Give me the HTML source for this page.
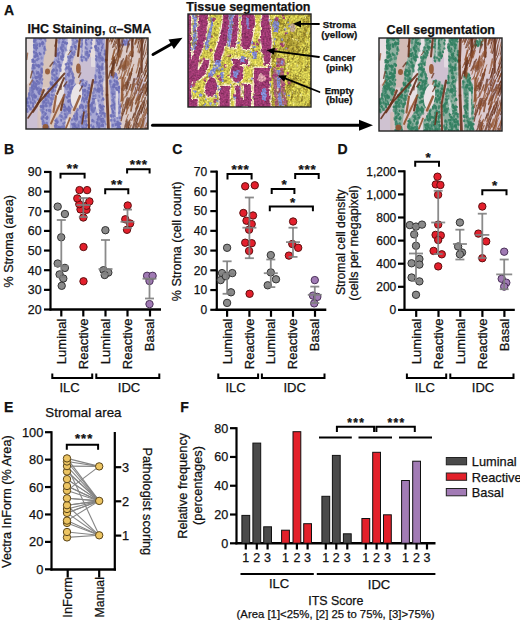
<!DOCTYPE html>
<html><head><meta charset="utf-8"><style>
html,body{margin:0;padding:0;background:#fff;}
svg{display:block;}
text{font-family:"Liberation Sans", sans-serif;stroke:#111;stroke-width:0.25px;paint-order:stroke;}
</style></head><body>
<svg width="520" height="620" viewBox="0 0 520 620">
<rect width="520" height="620" fill="#fff"/>
<text x="4" y="14.6" font-size="14" font-weight="bold" text-anchor="start" fill="#111">A</text>
<text x="27.6" y="33.3" font-size="12.5" font-weight="bold" text-anchor="start" fill="#111">IHC Staining, <tspan font-family="Liberation Serif" font-weight="normal" font-size="14.5">&#945;</tspan>&#8211;SMA</text>
<text x="186.3" y="10.6" font-size="12.5" font-weight="bold" text-anchor="start" fill="#111">Tissue segmentation</text>
<text x="386.6" y="33.8" font-size="12.6" font-weight="bold" text-anchor="start" fill="#111">Cell segmentation</text>
<text x="339.3" y="28" font-size="9.6" font-weight="bold" text-anchor="middle" fill="#111">Stroma</text>
<text x="339.3" y="37.5" font-size="9.7" font-weight="bold" text-anchor="middle" fill="#111">(yellow)</text>
<text x="339.3" y="61.4" font-size="9.6" font-weight="bold" text-anchor="middle" fill="#111">Cancer</text>
<text x="339.3" y="70.9" font-size="9.7" font-weight="bold" text-anchor="middle" fill="#111">(pink)</text>
<text x="339.3" y="93.5" font-size="9.6" font-weight="bold" text-anchor="middle" fill="#111">Empty</text>
<text x="339.3" y="103.0" font-size="9.7" font-weight="bold" text-anchor="middle" fill="#111">(blue)</text>
<defs>
<clipPath id="cA"><rect x="26" y="38" width="122" height="91"/></clipPath>
<clipPath id="cB"><rect x="188" y="14" width="123" height="93"/></clipPath>
<clipPath id="cC"><rect x="379" y="38" width="123" height="93"/></clipPath>
<filter id="soft" x="0" y="0" width="1" height="1"><feGaussianBlur stdDeviation="0.75"/></filter>
<filter id="rag" x="0" y="0" width="1" height="1" color-interpolation-filters="sRGB"><feTurbulence type="fractalNoise" baseFrequency="0.22" numOctaves="2" seed="8" result="t"/><feDisplacementMap in="SourceGraphic" in2="t" scale="3.2" xChannelSelector="R" yChannelSelector="G" result="d"/><feTurbulence type="fractalNoise" baseFrequency="0.6" numOctaves="1" seed="5" result="n"/><feColorMatrix in="n" type="matrix" values="1 0 0 0 0  1 0 0 0 0  1 0 0 0 0  0 0 0 0 1" result="g"/><feComposite in="d" in2="g" operator="arithmetic" k1="0.7" k2="0.65" k3="0" k4="0" result="m"/><feGaussianBlur in="m" stdDeviation="0.5"/></filter>
<filter id="mot" x="0" y="0" width="1" height="1" color-interpolation-filters="sRGB"><feTurbulence type="fractalNoise" baseFrequency="0.28" numOctaves="2" seed="4" result="n"/><feColorMatrix in="n" type="matrix" values="1 0 0 0 0  1 0 0 0 0  1 0 0 0 0  0 0 0 0 1" result="g"/><feComposite in="SourceGraphic" in2="g" operator="arithmetic" k1="1.1" k2="0.45" k3="0" k4="0" result="m"/><feGaussianBlur in="m" stdDeviation="0.7"/></filter>
<pattern id="pBl" patternUnits="userSpaceOnUse" width="9" height="9"><rect width="9" height="9" fill="#8285c9"/><circle cx="2.1" cy="4.9" r="1" fill="#5557aa" opacity="0.7"/><circle cx="5.4" cy="5.6" r="0.8" fill="#b2b3de" opacity="0.85"/><circle cx="0.1" cy="7.5" r="0.9" fill="#6265b4" opacity="0.6"/><circle cx="2.1" cy="9" r="1.1" fill="#c4c2e2" opacity="0.7"/><circle cx="7.5" cy="4.3" r="1.2" fill="#5557aa" opacity="0.7"/><circle cx="1.4" cy="5.7" r="1.4" fill="#b2b3de" opacity="0.85"/><circle cx="4.7" cy="6.7" r="1.2" fill="#6265b4" opacity="0.6"/><circle cx="0.6" cy="6.8" r="1.2" fill="#c4c2e2" opacity="0.7"/><circle cx="2.7" cy="0.3" r="1.4" fill="#5557aa" opacity="0.7"/></pattern>
<pattern id="pGr" patternUnits="userSpaceOnUse" width="9" height="9"><rect width="9" height="9" fill="#50a082"/><circle cx="2.1" cy="4.9" r="1" fill="#2c7659" opacity="0.75"/><circle cx="5.4" cy="5.6" r="0.8" fill="#9ccbb6" opacity="0.85"/><circle cx="0.1" cy="7.5" r="0.9" fill="#357f62" opacity="0.6"/><circle cx="2.1" cy="9" r="1.1" fill="#b8d8c8" opacity="0.7"/><circle cx="7.5" cy="4.3" r="1.2" fill="#2c7659" opacity="0.75"/><circle cx="1.4" cy="5.7" r="1.4" fill="#9ccbb6" opacity="0.85"/><circle cx="4.7" cy="6.7" r="1.2" fill="#357f62" opacity="0.6"/><circle cx="0.6" cy="6.8" r="1.2" fill="#b8d8c8" opacity="0.7"/><circle cx="2.7" cy="0.3" r="1.4" fill="#2c7659" opacity="0.75"/></pattern>
<pattern id="pPk" patternUnits="userSpaceOnUse" width="8" height="8"><rect width="8" height="8" fill="#dccdcc"/><circle cx="5" cy="5.9" r="1.3" fill="#c9b0ac" opacity="0.6"/><circle cx="7.5" cy="5.9" r="1.4" fill="#efe6e8" opacity="0.8"/><circle cx="0.2" cy="3.7" r="1.5" fill="#c8b8c8" opacity="0.5"/><circle cx="5.2" cy="7.2" r="0.8" fill="#c9b0ac" opacity="0.6"/><circle cx="3.8" cy="2" r="1.1" fill="#efe6e8" opacity="0.8"/><circle cx="4.6" cy="0.1" r="0.9" fill="#c8b8c8" opacity="0.5"/></pattern>
<pattern id="pPc" patternUnits="userSpaceOnUse" width="8" height="8"><rect width="8" height="8" fill="#dccbd2"/><circle cx="5" cy="5.9" r="1.3" fill="#cdb2b2" opacity="0.6"/><circle cx="7.5" cy="5.9" r="1.4" fill="#f0e6ec" opacity="0.8"/><circle cx="0.2" cy="3.7" r="1.5" fill="#c9bccb" opacity="0.5"/><circle cx="5.2" cy="7.2" r="0.8" fill="#cdb2b2" opacity="0.6"/><circle cx="3.8" cy="2" r="1.1" fill="#f0e6ec" opacity="0.8"/><circle cx="4.6" cy="0.1" r="0.9" fill="#c9bccb" opacity="0.5"/></pattern>
<pattern id="pMg" patternUnits="userSpaceOnUse" width="8" height="8"><rect width="8" height="8" fill="#a2306f"/><circle cx="2.6" cy="1.2" r="1.2" fill="#7a1e52" opacity="0.6"/><circle cx="0.6" cy="4.3" r="1" fill="#c05088" opacity="0.6"/><circle cx="0.5" cy="4.1" r="0.7" fill="#8c2860" opacity="0.5"/><circle cx="3.5" cy="0.6" r="0.8" fill="#7a1e52" opacity="0.6"/><circle cx="3.4" cy="6.6" r="0.8" fill="#c05088" opacity="0.6"/><circle cx="1.8" cy="5" r="1.5" fill="#8c2860" opacity="0.5"/></pattern>
<pattern id="pYl" patternUnits="userSpaceOnUse" width="8" height="8"><rect width="8" height="8" fill="#d9d245"/><circle cx="3.7" cy="3" r="0.8" fill="#b9ab34" opacity="0.6"/><circle cx="6.9" cy="0.1" r="1.1" fill="#ece77a" opacity="0.7"/><circle cx="7.2" cy="0.6" r="1.1" fill="#a89a2e" opacity="0.5"/><circle cx="4.9" cy="0.3" r="1" fill="#b9ab34" opacity="0.6"/><circle cx="5.6" cy="3.6" r="1.3" fill="#ece77a" opacity="0.7"/><circle cx="1.3" cy="1.9" r="0.8" fill="#a89a2e" opacity="0.5"/><circle cx="4.1" cy="7.4" r="1.2" fill="#b9ab34" opacity="0.6"/></pattern>
</defs>
<g clip-path="url(#cA)"><g filter="url(#soft)">
<rect x="20" y="30" width="135" height="105" fill="#dbcbc8"/>
<polygon points="26,36 33.5,36 33,60 31,80 26,84" fill="#eae4e6" stroke="#eae4e6" stroke-width="2" stroke-linejoin="round" opacity="0.80"/>
<polygon points="46,36 45.7,47 42.7,66 42.7,86 49.8,86 52.2,66 54,47 58,36" fill="#d6c0b4" stroke="#d6c0b4" stroke-width="2" stroke-linejoin="round" opacity="0.60"/>
<polygon points="68,36 67.1,47 61.8,66 57,86 57,104 60.6,104 64.2,86 65.3,66 71.3,47 72,36" fill="#eae4e6" stroke="#eae4e6" stroke-width="2" stroke-linejoin="round" opacity="0.85"/>
<polygon points="80,58 95,58 95,84 80,84" fill="#c8bed6" stroke="#c8bed6" stroke-width="2" stroke-linejoin="round" opacity="0.85"/>
<polygon points="26,108 37,106 38,129 26,129" fill="#c8bed6" stroke="#c8bed6" stroke-width="2" stroke-linejoin="round" opacity="0.80"/>
<polygon points="134.7,78 144,78 144,95 134.7,95" fill="#c8bed6" stroke="#c8bed6" stroke-width="2" stroke-linejoin="round" opacity="0.60"/>
<polygon points="144,113 149,113 149,130 144,130" fill="#c8bed6" stroke="#c8bed6" stroke-width="2" stroke-linejoin="round" opacity="0.70"/>
<polygon points="92,36 95.3,36 95.3,66 92,66" fill="#eae4e6" stroke="#eae4e6" stroke-width="2" stroke-linejoin="round" opacity="0.70"/>
<polygon points="33.5,36 33.2,47 32.6,66 30.8,86 28,96 24,104 24,112 29,112 35.5,104 40.3,96 42.7,86 42.7,66 45.7,47 46,36" fill="#a8a8d4"/>
<polygon points="59,36 57.6,47 52.2,66 49.8,86 40.3,104 41.5,121 42,131 49,131 49.8,121 52.2,104 57,86 61.8,66 67.1,47 68,36" fill="#a8a8d4"/>
<polygon points="72,36 71.3,47 65.3,66 64.2,86 64.2,104 61,112 54.6,121 54.6,131 65.3,131 65.3,121 70.5,112 73.7,104 76,86 71.3,66 77.3,47 78,36" fill="#a8a8d4"/>
<polygon points="80.8,36 80.8,47 80.5,56 81.5,61 86,61 89,56 91.8,47 92,36" fill="#a8a8d4"/>
<polygon points="79,80 80.8,86 80.8,104 70.1,121 70.1,131 87,131 87,121 87,104 90.6,86 86,80" fill="#a8a8d4"/>
<polygon points="95.3,36 95.3,47 95.3,66 94.2,86 89.4,104 90.6,121 90.6,131 106,131 106,121 103.7,104 102.5,86 107.3,66 104.9,47 105,36" fill="#a8a8d4"/>
<polygon points="111,72 109.5,86 111,104 111,121 111,131 120.5,131 120.5,121 120.5,104 119.5,86 116,72" fill="#a8a8d4"/>
<ellipse cx="125.8" cy="42.5" rx="4.2" ry="3.5" fill="#a8a8d4"/>
<path d="M43.8 110.9a1.5 1 71 1 0 1 2.9a1.5 1 71 1 0 -1 -2.9zM72.1 47.8a1.7 1 100 1 0 -0.6 3.4a1.7 1 100 1 0 0.6 -3.4zM72.6 104.7a1.5 1.1 93 1 0 -0.2 3.1a1.5 1.1 93 1 0 0.2 -3.1zM113.6 102a1.3 0.9 78 1 0 0.5 2.5a1.3 0.9 78 1 0 -0.5 -2.5zM31.3 107.1a1.7 1 84 1 0 0.4 3.4a1.7 1 84 1 0 -0.4 -3.4zM34.9 40.5a1.2 1.1 95 1 0 -0.2 2.4a1.2 1.1 95 1 0 0.2 -2.4zM71.7 52.9a1.2 1.1 84 1 0 0.2 2.4a1.2 1.1 84 1 0 -0.2 -2.4zM43.3 129.3a1.5 1.1 62 1 0 1.4 2.7a1.5 1.1 62 1 0 -1.4 -2.7zM106.2 66.2a1.2 0.9 65 1 0 1 2.1a1.2 0.9 65 1 0 -1 -2.1zM86.3 57.7a1.4 1.1 89 1 0 0 2.7a1.4 1.1 89 1 0 -0 -2.7zM85.5 93.9a1.5 0.9 98 1 0 -0.4 3a1.5 0.9 98 1 0 0.4 -3zM73 78.5a1.5 1 92 1 0 -0.1 2.9a1.5 1 92 1 0 0.1 -2.9zM69.9 110.9a1.7 1.2 84 1 0 0.4 3.4a1.7 1.2 84 1 0 -0.4 -3.4zM95.7 102.5a1.5 1.2 80 1 0 0.5 3a1.5 1.2 80 1 0 -0.5 -3zM72.2 37.2a1.3 1.2 69 1 0 0.9 2.4a1.3 1.2 69 1 0 -0.9 -2.4zM89.3 106.2a1.7 0.9 74 1 0 0.9 3.2a1.7 0.9 74 1 0 -0.9 -3.2zM58.3 127.8a1.7 0.8 67 1 0 1.3 3.1a1.7 0.8 67 1 0 -1.3 -3.1zM32.9 76.2a1.6 1 91 1 0 -0.1 3.3a1.6 1 91 1 0 0.1 -3.3zM97 124.2a1.8 1 65 1 0 1.5 3.2a1.8 1 65 1 0 -1.5 -3.2zM79.3 120.6a1.6 0.9 99 1 0 -0.5 3.1a1.6 0.9 99 1 0 0.5 -3.1zM86.6 47.4a1.5 1.2 82 1 0 0.4 3a1.5 1.2 82 1 0 -0.4 -3zM57.4 64.7a1.3 1.2 72 1 0 0.8 2.4a1.3 1.2 72 1 0 -0.8 -2.4zM97.1 36.1a1.6 0.9 83 1 0 0.4 3.1a1.6 0.9 83 1 0 -0.4 -3.1zM98.8 94.6a1.8 0.9 72 1 0 1.1 3.4a1.8 0.9 72 1 0 -1.1 -3.4zM65.7 75.3a1.2 0.9 83 1 0 0.3 2.5a1.2 0.9 83 1 0 -0.3 -2.5zM118 100.4a1.6 1.1 85 1 0 0.3 3.3a1.6 1.1 85 1 0 -0.3 -3.3zM93.8 87.7a1.6 0.9 78 1 0 0.7 3.1a1.6 0.9 78 1 0 -0.7 -3.1zM70 80.1a1.3 1.2 93 1 0 -0.1 2.5a1.3 1.2 93 1 0 0.1 -2.5zM73.5 127.6a1.5 1.2 67 1 0 1.2 2.8a1.5 1.2 67 1 0 -1.2 -2.8zM45.7 39.8a1.2 1 88 1 0 0.1 2.4a1.2 1 88 1 0 -0.1 -2.4zM68.8 93.9a1.5 0.8 64 1 0 1.3 2.7a1.5 0.8 64 1 0 -1.3 -2.7zM94 89.8a1.3 1 94 1 0 -0.2 2.6a1.3 1 94 1 0 0.2 -2.6zM69.5 88.7a1.4 1.2 60 1 0 1.4 2.5a1.4 1.2 60 1 0 -1.4 -2.5zM80.8 129a1.3 1 93 1 0 -0.1 2.5a1.3 1 93 1 0 0.1 -2.5zM113.2 87.9a1.6 0.8 78 1 0 0.7 3.2a1.6 0.8 78 1 0 -0.7 -3.2zM40.9 62.4a1.7 0.8 87 1 0 0.2 3.4a1.7 0.8 87 1 0 -0.2 -3.4zM31.5 93.1a1.6 0.8 82 1 0 0.5 3.2a1.6 0.8 82 1 0 -0.5 -3.2zM118.4 125.7a1.5 1.1 60 1 0 1.5 2.5a1.5 1.1 60 1 0 -1.5 -2.5zM96.9 65.1a1.5 0.9 77 1 0 0.7 2.9a1.5 0.9 77 1 0 -0.7 -2.9zM104.3 36a1.7 1 80 1 0 0.6 3.3a1.7 1 80 1 0 -0.6 -3.3zM86.9 91.5a1.5 1 88 1 0 0.1 2.9a1.5 1 88 1 0 -0.1 -2.9zM82 125.8a1.3 1 63 1 0 1.1 2.2a1.3 1 63 1 0 -1.1 -2.2zM29.2 89.2a1.2 0.8 69 1 0 0.9 2.3a1.2 0.8 69 1 0 -0.9 -2.3zM73.8 125.1a1.7 1 79 1 0 0.6 3.3a1.7 1 79 1 0 -0.6 -3.3zM56.2 79.1a1.4 1.1 68 1 0 1 2.5a1.4 1.1 68 1 0 -1 -2.5zM55.5 66.5a1.6 0.9 76 1 0 0.8 3a1.6 0.9 76 1 0 -0.8 -3zM34 99.2a1.2 1.1 85 1 0 0.2 2.4a1.2 1.1 85 1 0 -0.2 -2.4zM113.1 91.1a1.3 0.8 70 1 0 0.9 2.4a1.3 0.8 70 1 0 -0.9 -2.4zM70.5 107.6a1.7 0.9 92 1 0 -0.1 3.4a1.7 0.9 92 1 0 0.1 -3.4zM96.8 69.3a1.4 1.1 70 1 0 0.9 2.5a1.4 1.1 70 1 0 -0.9 -2.5zM105.2 115a1.5 1.2 100 1 0 -0.5 3a1.5 1.2 100 1 0 0.5 -3zM67.2 66.7a1.3 0.8 81 1 0 0.4 2.5a1.3 0.8 81 1 0 -0.4 -2.5zM69.3 110.9a1.6 0.9 96 1 0 -0.3 3.2a1.6 0.9 96 1 0 0.3 -3.2zM81.3 125.1a1.3 0.8 79 1 0 0.5 2.5a1.3 0.8 79 1 0 -0.5 -2.5zM58.6 40.3a1.7 1.2 85 1 0 0.3 3.3a1.7 1.2 85 1 0 -0.3 -3.3zM76.9 123.4a1.4 1.2 73 1 0 0.8 2.7a1.4 1.2 73 1 0 -0.8 -2.7zM38.2 98.3a1.2 1 93 1 0 -0.1 2.3a1.2 1 93 1 0 0.1 -2.3zM50.4 111.1a1.3 0.8 72 1 0 0.8 2.5a1.3 0.8 72 1 0 -0.8 -2.5zM42.6 104.2a1.7 0.8 69 1 0 1.2 3.1a1.7 0.8 69 1 0 -1.2 -3.1zM112.6 94.7a1.6 1.2 94 1 0 -0.2 3.2a1.6 1.2 94 1 0 0.2 -3.2zM109.4 82.4a1.7 1.1 61 1 0 1.6 3a1.7 1.1 61 1 0 -1.6 -3zM86.7 43.2a1.2 1.2 76 1 0 0.6 2.4a1.2 1.2 76 1 0 -0.6 -2.4zM47.3 126.8a1.4 0.8 98 1 0 -0.4 2.9a1.4 0.8 98 1 0 0.4 -2.9zM73.6 123.3a1.3 0.9 99 1 0 -0.4 2.6a1.3 0.9 99 1 0 0.4 -2.6zM116.4 90.7a1.4 1.2 85 1 0 0.2 2.8a1.4 1.2 85 1 0 -0.2 -2.8zM51.7 71.8a1.6 1.2 77 1 0 0.7 3.1a1.6 1.2 77 1 0 -0.7 -3.1zM118 98.1a1.5 0.9 91 1 0 -0.1 3.1a1.5 0.9 91 1 0 0.1 -3.1zM99 59.3a1.6 1.1 69 1 0 1.1 2.9a1.6 1.1 69 1 0 -1.1 -2.9zM84 111.7a1.3 1.2 64 1 0 1.1 2.4a1.3 1.2 64 1 0 -1.1 -2.4zM98.9 87.4a1.1 1.1 85 1 0 0.2 2.2a1.1 1.1 85 1 0 -0.2 -2.2zM55.5 73.8a1.6 0.9 91 1 0 -0.1 3.1a1.6 0.9 91 1 0 0.1 -3.1zM98.8 121.6a1.7 1.1 64 1 0 1.5 3.1a1.7 1.1 64 1 0 -1.5 -3.1zM50.4 97.8a1.6 0.9 68 1 0 1.2 2.9a1.6 0.9 68 1 0 -1.2 -2.9zM117 96.1a1.6 0.9 86 1 0 0.2 3.2a1.6 0.9 86 1 0 -0.2 -3.2zM97.9 86.7a1.2 1.2 71 1 0 0.8 2.3a1.2 1.2 71 1 0 -0.8 -2.3zM83.1 48.9a1.6 0.8 65 1 0 1.4 3a1.6 0.8 65 1 0 -1.4 -3zM29.8 86.8a1.5 1.1 77 1 0 0.7 3a1.5 1.1 77 1 0 -0.7 -3zM36.4 41.5a1.6 0.9 79 1 0 0.6 3.2a1.6 0.9 79 1 0 -0.6 -3.2zM93.5 91.3a1.2 0.9 71 1 0 0.8 2.4a1.2 0.9 71 1 0 -0.8 -2.4zM24.3 103.8a1.7 1.1 63 1 0 1.6 3.1a1.7 1.1 63 1 0 -1.6 -3.1zM70.3 102.2a1.8 1 67 1 0 1.4 3.3a1.8 1 67 1 0 -1.4 -3.3zM104.1 120.1a1.2 0.8 69 1 0 0.9 2.3a1.2 0.8 69 1 0 -0.9 -2.3zM117.1 101.9a1.7 0.9 89 1 0 0.1 3.3a1.7 0.9 89 1 0 -0.1 -3.3zM81.1 117a1.3 0.8 75 1 0 0.7 2.5a1.3 0.8 75 1 0 -0.7 -2.5zM45.5 102.6a1.6 1.2 72 1 0 1 3.1a1.6 1.2 72 1 0 -1 -3.1zM69.2 66.8a1.7 1.2 97 1 0 -0.4 3.4a1.7 1.2 97 1 0 0.4 -3.4zM82.3 44.3a1.2 1.2 83 1 0 0.3 2.3a1.2 1.2 83 1 0 -0.3 -2.3zM65.6 113.3a1.6 1.1 63 1 0 1.4 2.8a1.6 1.1 63 1 0 -1.4 -2.8zM76.7 113.8a1.2 1 65 1 0 1 2.1a1.2 1 65 1 0 -1 -2.1zM90.7 104.8a1.7 0.9 90 1 0 0 3.3a1.7 0.9 90 1 0 -0 -3.3zM69.7 49.6a1.4 0.9 61 1 0 1.3 2.4a1.4 0.9 61 1 0 -1.3 -2.4zM58.8 64.5a1.7 1.2 78 1 0 0.7 3.2a1.7 1.2 78 1 0 -0.7 -3.2zM86.3 35.2a1.4 1.1 100 1 0 -0.5 2.7a1.4 1.1 100 1 0 0.5 -2.7zM56.7 124.9a1.7 1 73 1 0 1 3.3a1.7 1 73 1 0 -1 -3.3zM98.8 56.6a1.6 0.9 96 1 0 -0.3 3.2a1.6 0.9 96 1 0 0.3 -3.2zM81.4 92.3a1.6 0.8 97 1 0 -0.4 3.2a1.6 0.8 97 1 0 0.4 -3.2zM115.1 103.9a1.3 0.9 61 1 0 1.2 2.2a1.3 0.9 61 1 0 -1.2 -2.2zM60.8 55.3a1.3 1.1 82 1 0 0.4 2.6a1.3 1.1 82 1 0 -0.4 -2.6zM84 46.1a1.3 1.2 69 1 0 0.9 2.5a1.3 1.2 69 1 0 -0.9 -2.5zM99.5 74.5a1.2 1 91 1 0 -0 2.3a1.2 1 91 1 0 0 -2.3zM85.2 120.1a1.2 0.9 93 1 0 -0.1 2.4a1.2 0.9 93 1 0 0.1 -2.4zM97 83.9a1.6 1 65 1 0 1.4 3a1.6 1 65 1 0 -1.4 -3zM101.2 84a1.6 0.9 86 1 0 0.2 3.1a1.6 0.9 86 1 0 -0.2 -3.1zM87.5 89.5a1.1 1 79 1 0 0.4 2.2a1.1 1 79 1 0 -0.4 -2.2zM30.5 83.3a1.2 1.1 62 1 0 1.2 2.2a1.2 1.1 62 1 0 -1.2 -2.2zM81.4 42.2a1.3 1.1 73 1 0 0.7 2.4a1.3 1.1 73 1 0 -0.7 -2.4zM65.2 47.3a1.6 1.1 81 1 0 0.5 3.3a1.6 1.1 81 1 0 -0.5 -3.3zM74.8 112.3a1.4 0.8 84 1 0 0.3 2.9a1.4 0.8 84 1 0 -0.3 -2.9zM57.8 47.5a1.7 0.8 80 1 0 0.6 3.3a1.7 0.8 80 1 0 -0.6 -3.3zM63.1 45.8a1.8 0.9 64 1 0 1.5 3.2a1.8 0.9 64 1 0 -1.5 -3.2zM101.8 98.9a1.3 0.8 97 1 0 -0.3 2.6a1.3 0.8 97 1 0 0.3 -2.6zM83.8 121.6a1.8 1.1 80 1 0 0.6 3.5a1.8 1.1 80 1 0 -0.6 -3.5zM112.8 110.1a1.7 0.9 92 1 0 -0.1 3.5a1.7 0.9 92 1 0 0.1 -3.5zM69.6 87.3a1.4 1.2 90 1 0 0 2.9a1.4 1.2 90 1 0 -0 -2.9zM117.5 88.5a1.5 1.2 91 1 0 -0.1 3.1a1.5 1.2 91 1 0 0.1 -3.1zM64.8 68.4a1.2 0.8 74 1 0 0.7 2.3a1.2 0.8 74 1 0 -0.7 -2.3zM92.7 100a1.3 1.2 63 1 0 1.2 2.4a1.3 1.2 63 1 0 -1.2 -2.4zM67.7 73.3a1.4 0.9 65 1 0 1.2 2.6a1.4 0.9 65 1 0 -1.2 -2.6zM116 73.4a1.5 0.8 75 1 0 0.8 2.9a1.5 0.8 75 1 0 -0.8 -2.9zM64.5 105.1a1.5 1.1 73 1 0 0.9 2.9a1.5 1.1 73 1 0 -0.9 -2.9zM115.4 80.9a1.3 1 100 1 0 -0.5 2.6a1.3 1 100 1 0 0.5 -2.6zM70.8 54.4a1.7 0.8 99 1 0 -0.5 3.4a1.7 0.8 99 1 0 0.5 -3.4zM33 90.3a1.5 1.1 85 1 0 0.3 3a1.5 1.1 85 1 0 -0.3 -3zM64.5 116.3a1.8 0.9 87 1 0 0.2 3.5a1.8 0.9 87 1 0 -0.2 -3.5zM85.8 83.4a1.4 1 85 1 0 0.2 2.7a1.4 1 85 1 0 -0.2 -2.7zM105.7 65a1.4 1.2 63 1 0 1.3 2.6a1.4 1.2 63 1 0 -1.3 -2.6zM115.2 105.3a1.6 1.1 97 1 0 -0.4 3.1a1.6 1.1 97 1 0 0.4 -3.1zM34.6 36.8a1.2 1.1 77 1 0 0.6 2.4a1.2 1.1 77 1 0 -0.6 -2.4zM95.1 100.7a1.4 0.9 78 1 0 0.6 2.8a1.4 0.9 78 1 0 -0.6 -2.8zM116.9 113.8a1.6 1.1 89 1 0 0.1 3.2a1.6 1.1 89 1 0 -0.1 -3.2zM66 86.8a1.8 1.2 72 1 0 1.1 3.4a1.8 1.2 72 1 0 -1.1 -3.4zM86.3 50.7a1.7 1 91 1 0 -0.1 3.5a1.7 1 91 1 0 0.1 -3.5zM59.9 125.8a1.2 1 100 1 0 -0.4 2.3a1.2 1 100 1 0 0.4 -2.3zM101.1 107a1.1 0.8 68 1 0 0.8 2.1a1.1 0.8 68 1 0 -0.8 -2.1zM95.7 94a1.6 0.9 91 1 0 -0.1 3.2a1.6 0.9 91 1 0 0.1 -3.2zM64.3 105.9a1.1 0.8 79 1 0 0.4 2.2a1.1 0.8 79 1 0 -0.4 -2.2zM52.2 89a1.4 0.9 65 1 0 1.2 2.6a1.4 0.9 65 1 0 -1.2 -2.6zM70.3 89.2a1.8 0.9 84 1 0 0.4 3.5a1.8 0.9 84 1 0 -0.4 -3.5zM81.3 59.6a1.5 0.9 60 1 0 1.5 2.6a1.5 0.9 60 1 0 -1.5 -2.6zM96.8 48.7a1.8 1.1 72 1 0 1.1 3.4a1.8 1.1 72 1 0 -1.1 -3.4zM124.1 40.1a1.4 1.1 65 1 0 1.2 2.6a1.4 1.1 65 1 0 -1.2 -2.6zM114.9 80.6a1.2 1.2 77 1 0 0.5 2.4a1.2 1.2 77 1 0 -0.5 -2.4zM96.6 122.8a1.7 1.1 65 1 0 1.4 3.1a1.7 1.1 65 1 0 -1.4 -3.1zM32.4 99.2a1.2 0.8 87 1 0 0.1 2.4a1.2 0.8 87 1 0 -0.1 -2.4zM35.3 38.2a1.4 1.1 73 1 0 0.8 2.7a1.4 1.1 73 1 0 -0.8 -2.7zM101.5 120.7a1.1 1.1 92 1 0 -0.1 2.3a1.1 1.1 92 1 0 0.1 -2.3zM38.5 86.3a1.7 1.2 75 1 0 0.9 3.3a1.7 1.2 75 1 0 -0.9 -3.3zM67.4 96.2a1.4 0.9 83 1 0 0.3 2.8a1.4 0.9 83 1 0 -0.3 -2.8zM62 126.6a1.7 0.9 96 1 0 -0.4 3.5a1.7 0.9 96 1 0 0.4 -3.5zM103.7 119.4a1.7 1.1 88 1 0 0.1 3.3a1.7 1.1 88 1 0 -0.1 -3.3zM111.2 105.1a1.8 1.2 79 1 0 0.7 3.5a1.8 1.2 79 1 0 -0.7 -3.5zM34.9 66.3a1.4 1 84 1 0 0.3 2.9a1.4 1 84 1 0 -0.3 -2.9zM41.6 56.2a1.7 1.2 90 1 0 0 3.5a1.7 1.2 90 1 0 -0 -3.5zM77.5 124.7a1.8 1.2 69 1 0 1.3 3.3a1.8 1.2 69 1 0 -1.3 -3.3zM38.2 90.8a1.4 1.2 71 1 0 0.9 2.6a1.4 1.2 71 1 0 -0.9 -2.6zM34.7 36.3a1.3 1.1 65 1 0 1.1 2.3a1.3 1.1 65 1 0 -1.1 -2.3zM56.1 77.5a1.4 0.9 76 1 0 0.7 2.8a1.4 0.9 76 1 0 -0.7 -2.8zM55.9 76.5a1.6 1.2 73 1 0 0.9 3a1.6 1.2 73 1 0 -0.9 -3zM68.4 73.6a1.5 1 88 1 0 0.1 3a1.5 1 88 1 0 -0.1 -3zM90.3 35.5a1.2 1.1 75 1 0 0.6 2.3a1.2 1.1 75 1 0 -0.6 -2.3zM102 37.3a1.5 0.8 70 1 0 1 2.8a1.5 0.8 70 1 0 -1 -2.8zM35.8 94.8a1.4 1.2 81 1 0 0.4 2.8a1.4 1.2 81 1 0 -0.4 -2.8zM98.5 42.1a1.3 1 70 1 0 0.9 2.4a1.3 1 70 1 0 -0.9 -2.4zM38.3 64a1.6 0.8 93 1 0 -0.2 3.2a1.6 0.8 93 1 0 0.2 -3.2zM46.1 104.3a1.1 1.2 75 1 0 0.6 2.2a1.1 1.2 75 1 0 -0.6 -2.2zM98.6 105.3a1.3 0.8 73 1 0 0.7 2.4a1.3 0.8 73 1 0 -0.7 -2.4zM111.1 88.4a1.6 0.8 63 1 0 1.5 2.9a1.6 0.8 63 1 0 -1.5 -2.9zM71.6 98.6a1.6 1.1 83 1 0 0.4 3.1a1.6 1.1 83 1 0 -0.4 -3.1zM119.9 103.4a1.4 1.2 73 1 0 0.8 2.7a1.4 1.2 73 1 0 -0.8 -2.7zM112 90.5a1.7 0.8 98 1 0 -0.5 3.3a1.7 0.8 98 1 0 0.5 -3.3zM28.6 93.6a1.5 1.1 79 1 0 0.6 3a1.5 1.1 79 1 0 -0.6 -3zM98.9 68.3a1.7 1 98 1 0 -0.5 3.4a1.7 1 98 1 0 0.5 -3.4zM34.3 50.8a1.4 1 95 1 0 -0.2 2.8a1.4 1 95 1 0 0.2 -2.8zM85.6 41.5a1.8 0.8 68 1 0 1.3 3.3a1.8 0.8 68 1 0 -1.3 -3.3zM97.2 62.5a1.4 0.8 73 1 0 0.8 2.6a1.4 0.8 73 1 0 -0.8 -2.6zM98.6 56.5a1.7 1.1 72 1 0 1 3.2a1.7 1.1 72 1 0 -1 -3.2zM96.8 34.5a1.7 1.2 82 1 0 0.5 3.4a1.7 1.2 82 1 0 -0.5 -3.4zM66.2 109.8a1.5 0.8 94 1 0 -0.2 3a1.5 0.8 94 1 0 0.2 -3zM100.1 124.9a1.3 1.1 72 1 0 0.8 2.4a1.3 1.1 72 1 0 -0.8 -2.4zM114.2 118a1.8 0.9 70 1 0 1.2 3.4a1.8 0.9 70 1 0 -1.2 -3.4zM39.4 81a1.7 0.8 91 1 0 -0.1 3.4a1.7 0.8 91 1 0 0.1 -3.4zM113.2 113.5a1.3 1.2 82 1 0 0.3 2.5a1.3 1.2 82 1 0 -0.3 -2.5zM119.1 88.7a1.5 1.1 94 1 0 -0.2 3a1.5 1.1 94 1 0 0.2 -3zM89.9 112.7a1.6 1.1 68 1 0 1.2 3a1.6 1.1 68 1 0 -1.2 -3zM114.3 83.4a1.2 1 86 1 0 0.2 2.5a1.2 1 86 1 0 -0.2 -2.5zM85.8 59.2a1.3 1.1 67 1 0 1 2.4a1.3 1.1 67 1 0 -1 -2.4zM55.1 89.5a1.2 0.9 78 1 0 0.5 2.3a1.2 0.9 78 1 0 -0.5 -2.3zM85.7 84a1.2 1 99 1 0 -0.4 2.4a1.2 1 99 1 0 0.4 -2.4zM97.8 99.8a1.1 1.2 65 1 0 0.9 2a1.1 1.2 65 1 0 -0.9 -2zM93 91.6a1.4 1.1 99 1 0 -0.4 2.8a1.4 1.1 99 1 0 0.4 -2.8zM41 76.4a1.3 0.8 99 1 0 -0.4 2.6a1.3 0.8 99 1 0 0.4 -2.6zM103 72.1a1.3 1.1 61 1 0 1.3 2.3a1.3 1.1 61 1 0 -1.3 -2.3zM42.7 102.2a1.5 0.8 78 1 0 0.6 2.9a1.5 0.8 78 1 0 -0.6 -2.9zM82.7 53.8a1.2 1.2 89 1 0 0 2.3a1.2 1.2 89 1 0 -0 -2.3zM70.4 57a1.2 0.8 82 1 0 0.3 2.4a1.2 0.8 82 1 0 -0.3 -2.4zM76.7 126.3a1.7 1.1 97 1 0 -0.4 3.4a1.7 1.1 97 1 0 0.4 -3.4zM74.9 45.1a1.4 1.2 72 1 0 0.9 2.7a1.4 1.2 72 1 0 -0.9 -2.7zM44.3 94.1a1.6 0.9 65 1 0 1.3 3a1.6 0.9 65 1 0 -1.3 -3zM103.8 75.8a1.1 1 65 1 0 0.9 2a1.1 1 65 1 0 -0.9 -2zM96.2 58.8a1.8 0.8 76 1 0 0.9 3.5a1.8 0.8 76 1 0 -0.9 -3.5zM32.2 68a1.7 1 85 1 0 0.3 3.5a1.7 1 85 1 0 -0.3 -3.5zM89.2 86.8a1.4 1.1 75 1 0 0.7 2.7a1.4 1.1 75 1 0 -0.7 -2.7zM71.7 96.2a1.7 0.9 86 1 0 0.2 3.4a1.7 0.9 86 1 0 -0.2 -3.4zM87 80.4a1.1 0.9 96 1 0 -0.2 2.3a1.1 0.9 96 1 0 0.2 -2.3zM90.5 35.6a1.2 1.1 87 1 0 0.1 2.3a1.2 1.1 87 1 0 -0.1 -2.3zM75.7 114.8a1.2 1.1 80 1 0 0.4 2.4a1.2 1.1 80 1 0 -0.4 -2.4zM80.1 106.8a1.2 0.8 91 1 0 -0 2.3a1.2 0.8 91 1 0 0 -2.3zM73 129.8a1.1 1 96 1 0 -0.2 2.2a1.1 1 96 1 0 0.2 -2.2zM99.4 71.7a1.4 1.2 65 1 0 1.2 2.6a1.4 1.2 65 1 0 -1.2 -2.6zM46 103.8a1.7 1.1 69 1 0 1.3 3.3a1.7 1.1 69 1 0 -1.3 -3.3zM113.5 114.8a1.2 1.1 90 1 0 0 2.5a1.2 1.1 90 1 0 -0 -2.5zM70.7 47.8a1.4 1 82 1 0 0.4 2.9a1.4 1 82 1 0 -0.4 -2.9zM55.9 78.4a1.6 1.2 93 1 0 -0.2 3.1a1.6 1.2 93 1 0 0.2 -3.1zM113.9 96.5a1.1 1.2 90 1 0 0 2.2a1.1 1.2 90 1 0 -0 -2.2zM80.6 121a1.7 1.2 82 1 0 0.5 3.3a1.7 1.2 82 1 0 -0.5 -3.3zM34.2 93a1.6 1.1 89 1 0 0.1 3.2a1.6 1.1 89 1 0 -0.1 -3.2zM54.3 125.1a1.6 0.8 67 1 0 1.3 3a1.6 0.8 67 1 0 -1.3 -3zM47.3 91.2a1.4 1 82 1 0 0.4 2.7a1.4 1 82 1 0 -0.4 -2.7zM83.1 124.2a1.4 0.8 64 1 0 1.3 2.6a1.4 0.8 64 1 0 -1.3 -2.6zM29.8 89.5a1.7 0.8 77 1 0 0.8 3.3a1.7 0.8 77 1 0 -0.8 -3.3zM42.7 110.4a1.6 1 82 1 0 0.4 3.2a1.6 1 82 1 0 -0.4 -3.2zM52 100.4a1.3 1.2 90 1 0 0 2.6a1.3 1.2 90 1 0 -0 -2.6zM76.2 119a1.5 1.1 100 1 0 -0.5 3a1.5 1.1 100 1 0 0.5 -3zM37.6 37.1a1.5 1 79 1 0 0.6 2.9a1.5 1 79 1 0 -0.6 -2.9zM114 91.2a1.7 1.1 68 1 0 1.3 3.2a1.7 1.1 68 1 0 -1.3 -3.2zM74.1 89.9a1.4 0.9 76 1 0 0.7 2.7a1.4 0.9 76 1 0 -0.7 -2.7zM100.6 55a1.1 0.8 61 1 0 1.1 2a1.1 0.8 61 1 0 -1.1 -2zM42.9 119.1a1.1 0.8 81 1 0 0.4 2.3a1.1 0.8 81 1 0 -0.4 -2.3zM61.3 46.9a1.2 1.2 80 1 0 0.4 2.5a1.2 1.2 80 1 0 -0.4 -2.5zM42.3 115.2a1.4 0.8 74 1 0 0.8 2.7a1.4 0.8 74 1 0 -0.8 -2.7zM75.6 116.3a1.7 1.2 75 1 0 0.9 3.2a1.7 1.2 75 1 0 -0.9 -3.2zM111.2 80.3a1.3 0.8 78 1 0 0.5 2.5a1.3 0.8 78 1 0 -0.5 -2.5zM30.7 89.1a1.3 1.1 61 1 0 1.2 2.2a1.3 1.1 61 1 0 -1.2 -2.2zM119.6 108.8a1.3 1.1 88 1 0 0.1 2.7a1.3 1.1 88 1 0 -0.1 -2.7zM62 41.6a1.7 0.8 88 1 0 0.1 3.5a1.7 0.8 88 1 0 -0.1 -3.5zM112.1 86.9a1.8 1.2 65 1 0 1.5 3.3a1.8 1.2 65 1 0 -1.5 -3.3zM40.7 108.4a1.6 1.1 82 1 0 0.4 3.1a1.6 1.1 82 1 0 -0.4 -3.1zM102 91.8a1.1 1.1 83 1 0 0.3 2.2a1.1 1.1 83 1 0 -0.3 -2.2zM66.7 107.3a1.7 0.8 62 1 0 1.6 2.9a1.7 0.8 62 1 0 -1.6 -2.9zM72.9 38.9a1.2 1.1 94 1 0 -0.2 2.3a1.2 1.1 94 1 0 0.2 -2.3zM47.4 95.6a1.5 1.1 60 1 0 1.5 2.6a1.5 1.1 60 1 0 -1.5 -2.6zM93.2 125.9a1.7 1.2 80 1 0 0.6 3.3a1.7 1.2 80 1 0 -0.6 -3.3zM99.3 74.4a1.8 1 96 1 0 -0.4 3.5a1.8 1 96 1 0 0.4 -3.5zM33.4 44.1a1.5 0.8 73 1 0 0.9 3a1.5 0.8 73 1 0 -0.9 -3zM40.3 37.3a1.7 1.1 72 1 0 1 3.2a1.7 1.1 72 1 0 -1 -3.2zM69.6 85.5a1.2 1 86 1 0 0.2 2.3a1.2 1 86 1 0 -0.2 -2.3zM93.7 120.1a1.4 1 81 1 0 0.4 2.8a1.4 1 81 1 0 -0.4 -2.8zM73.3 41.2a1.2 0.8 82 1 0 0.3 2.4a1.2 0.8 82 1 0 -0.3 -2.4zM74.1 45.6a1.2 1.1 74 1 0 0.7 2.3a1.2 1.1 74 1 0 -0.7 -2.3zM98.3 89.4a1.4 1 64 1 0 1.2 2.5a1.4 1 64 1 0 -1.2 -2.5zM112.3 99.5a1.2 0.8 77 1 0 0.5 2.3a1.2 0.8 77 1 0 -0.5 -2.3zM26.4 108a1.3 1 65 1 0 1.1 2.4a1.3 1 65 1 0 -1.1 -2.4zM85.5 95.8a1.8 1 88 1 0 0.1 3.5a1.8 1 88 1 0 -0.1 -3.5zM56.1 59.3a1.1 1 65 1 0 0.9 2.1a1.1 1 65 1 0 -0.9 -2.1zM85.5 82.5a1.3 0.9 91 1 0 -0 2.6a1.3 0.9 91 1 0 0 -2.6zM89.6 86.7a1.5 1.2 73 1 0 0.8 2.8a1.5 1.2 73 1 0 -0.8 -2.8zM61.5 111.3a1.2 1 89 1 0 0 2.4a1.2 1 89 1 0 -0 -2.4zM111.7 98.9a1.1 0.9 79 1 0 0.4 2.2a1.1 0.9 79 1 0 -0.4 -2.2zM55.6 70.5a1.7 1 72 1 0 1.1 3.2a1.7 1 72 1 0 -1.1 -3.2zM49.5 104.8a1.3 1.1 82 1 0 0.4 2.7a1.3 1.1 82 1 0 -0.4 -2.7zM58.8 63.7a1.6 0.9 71 1 0 1.1 3.1a1.6 0.9 71 1 0 -1.1 -3.1zM88.8 35.9a1.2 1.2 98 1 0 -0.3 2.4a1.2 1.2 98 1 0 0.3 -2.4zM55.6 63.2a1.5 1.2 64 1 0 1.4 2.8a1.5 1.2 64 1 0 -1.4 -2.8zM105.4 59.3a1.7 1.1 84 1 0 0.3 3.3a1.7 1.1 84 1 0 -0.3 -3.3zM100.9 105.6a1.7 1 73 1 0 1 3.3a1.7 1 73 1 0 -1 -3.3zM76.2 124.9a1.6 1.2 96 1 0 -0.3 3.2a1.6 1.2 96 1 0 0.3 -3.2zM100.3 35a1.3 1.2 67 1 0 1 2.4a1.3 1.2 67 1 0 -1 -2.4zM107 64.3a1.5 0.8 89 1 0 0.1 2.9a1.5 0.8 89 1 0 -0.1 -2.9zM69.4 70.9a1.1 1.2 88 1 0 0.1 2.3a1.1 1.2 88 1 0 -0.1 -2.3zM110.8 85.2a1.6 0.9 84 1 0 0.3 3.2a1.6 0.9 84 1 0 -0.3 -3.2zM59 35.5a1.5 1 89 1 0 0.1 3a1.5 1 89 1 0 -0.1 -3zM113.3 103.3a1.7 0.9 84 1 0 0.4 3.3a1.7 0.9 84 1 0 -0.4 -3.3zM116.8 106.1a1.7 1.1 76 1 0 0.8 3.2a1.7 1.1 76 1 0 -0.8 -3.2zM95.2 76.2a1.3 0.8 79 1 0 0.5 2.5a1.3 0.8 79 1 0 -0.5 -2.5zM81.6 118.7a1.6 1.2 96 1 0 -0.3 3.3a1.6 1.2 96 1 0 0.3 -3.3zM99.5 119a1.1 1 62 1 0 1.1 2a1.1 1 62 1 0 -1.1 -2zM41.6 67.5a1.5 0.8 79 1 0 0.6 2.9a1.5 0.8 79 1 0 -0.6 -2.9zM84 99.7a1.2 1.1 83 1 0 0.3 2.5a1.2 1.1 83 1 0 -0.3 -2.5zM68.9 79.3a1.1 1.1 62 1 0 1 2a1.1 1.1 62 1 0 -1 -2zM42.9 43.6a1.7 0.8 94 1 0 -0.2 3.4a1.7 0.8 94 1 0 0.2 -3.4zM43.7 128.7a1.2 1 64 1 0 1 2.1a1.2 1 64 1 0 -1 -2.1zM117.4 122.9a1.6 1 63 1 0 1.5 2.9a1.6 1 63 1 0 -1.5 -2.9zM64.6 84.5a1.6 0.9 72 1 0 1 3a1.6 0.9 72 1 0 -1 -3zM41.7 74.4a1.1 1 96 1 0 -0.2 2.3a1.1 1 96 1 0 0.2 -2.3zM102.7 58.1a1.5 1.1 60 1 0 1.5 2.6a1.5 1.1 60 1 0 -1.5 -2.6zM46.7 98a1.2 1.2 78 1 0 0.5 2.3a1.2 1.2 78 1 0 -0.5 -2.3zM98.3 50.2a1.5 1 80 1 0 0.5 2.9a1.5 1 80 1 0 -0.5 -2.9zM42.6 100.5a1.7 0.8 77 1 0 0.8 3.3a1.7 0.8 77 1 0 -0.8 -3.3zM54.4 77.3a1.5 1.2 71 1 0 1 2.8a1.5 1.2 71 1 0 -1 -2.8zM34.7 54.2a1.8 0.9 91 1 0 -0.1 3.6a1.8 0.9 91 1 0 0.1 -3.6zM114.9 122.6a1.4 1.1 70 1 0 1 2.7a1.4 1.1 70 1 0 -1 -2.7zM42.7 111.1a1.7 0.8 91 1 0 -0.1 3.5a1.7 0.8 91 1 0 0.1 -3.5zM56.5 83.7a1.4 0.8 67 1 0 1.1 2.5a1.4 0.8 67 1 0 -1.1 -2.5zM36.1 70.5a1.7 0.8 65 1 0 1.4 3a1.7 0.8 65 1 0 -1.4 -3zM43.8 114a1.5 1.1 88 1 0 0.1 3a1.5 1.1 88 1 0 -0.1 -3zM110 79.2a1.7 1.2 83 1 0 0.4 3.5a1.7 1.2 83 1 0 -0.4 -3.5zM120.2 115.8a1.4 1 80 1 0 0.5 2.7a1.4 1 80 1 0 -0.5 -2.7zM62.6 51.3a1.7 1 94 1 0 -0.2 3.4a1.7 1 94 1 0 0.2 -3.4zM97.4 108.8a1.3 1 60 1 0 1.3 2.3a1.3 1 60 1 0 -1.3 -2.3zM57.8 126a1.3 1.2 84 1 0 0.3 2.5a1.3 1.2 84 1 0 -0.3 -2.5zM62.4 129.1a1.8 0.9 86 1 0 0.2 3.6a1.8 0.9 86 1 0 -0.2 -3.6zM111.9 124.3a1.6 0.8 76 1 0 0.8 3.1a1.6 0.8 76 1 0 -0.8 -3.1zM70.8 46.1a1.6 1.2 63 1 0 1.4 2.8a1.6 1.2 63 1 0 -1.4 -2.8zM64.9 37.3a1.2 1.1 78 1 0 0.5 2.3a1.2 1.1 78 1 0 -0.5 -2.3zM100.2 74a1.5 1.1 95 1 0 -0.3 3a1.5 1.1 95 1 0 0.3 -3zM98.4 87.2a1.7 0.8 93 1 0 -0.2 3.4a1.7 0.8 93 1 0 0.2 -3.4zM117.6 129.1a1.1 0.9 95 1 0 -0.2 2.2a1.1 0.9 95 1 0 0.2 -2.2zM81.3 98.5a1.5 1.2 95 1 0 -0.3 3.1a1.5 1.2 95 1 0 0.3 -3.1zM111.4 87.7a1.6 0.9 64 1 0 1.4 2.9a1.6 0.9 64 1 0 -1.4 -2.9zM75.6 41.1a1.4 1.2 100 1 0 -0.5 2.7a1.4 1.2 100 1 0 0.5 -2.7zM71.1 70.5a1.6 1.1 72 1 0 1 3a1.6 1.1 72 1 0 -1 -3zM40.1 76.9a1.7 1.1 92 1 0 -0.1 3.3a1.7 1.1 92 1 0 0.1 -3.3zM69.6 88.2a1.7 0.8 94 1 0 -0.2 3.4a1.7 0.8 94 1 0 0.2 -3.4zM88 53.9a1.6 0.9 73 1 0 0.9 3.1a1.6 0.9 73 1 0 -0.9 -3.1zM34 72.9a1.8 0.8 76 1 0 0.8 3.4a1.8 0.8 76 1 0 -0.8 -3.4zM67.4 112.5a1.2 0.9 94 1 0 -0.2 2.3a1.2 0.9 94 1 0 0.2 -2.3zM40.8 80.4a1.5 0.9 76 1 0 0.7 2.9a1.5 0.9 76 1 0 -0.7 -2.9zM70.4 92.5a1.5 0.9 63 1 0 1.4 2.7a1.5 0.9 63 1 0 -1.4 -2.7zM116.9 116a1.6 1.1 71 1 0 1.1 3.1a1.6 1.1 71 1 0 -1.1 -3.1zM73.6 43a1.2 1.2 90 1 0 0 2.3a1.2 1.2 90 1 0 -0 -2.3zM102.4 104.5a1.5 0.8 80 1 0 0.5 2.9a1.5 0.8 80 1 0 -0.5 -2.9zM95.9 89.6a1.6 1 71 1 0 1.1 3.1a1.6 1 71 1 0 -1.1 -3.1zM39.6 81.4a1.1 1.1 67 1 0 0.9 2a1.1 1.1 67 1 0 -0.9 -2zM112.8 106.9a1.3 1.1 81 1 0 0.4 2.6a1.3 1.1 81 1 0 -0.4 -2.6zM79.9 121.4a1.4 1.1 71 1 0 0.9 2.6a1.4 1.1 71 1 0 -0.9 -2.6zM58.5 38.4a1.1 1.2 82 1 0 0.3 2.3a1.1 1.2 82 1 0 -0.3 -2.3zM97.1 55.4a1.4 1.2 87 1 0 0.1 2.8a1.4 1.2 87 1 0 -0.1 -2.8zM55.8 69.2a1.7 1.1 68 1 0 1.3 3.1a1.7 1.1 68 1 0 -1.3 -3.1zM60.4 114.1a1.6 1.2 94 1 0 -0.2 3.3a1.6 1.2 94 1 0 0.2 -3.3zM44.5 48a1.8 1.2 73 1 0 1 3.4a1.8 1.2 73 1 0 -1 -3.4zM56 117.5a1.5 0.8 63 1 0 1.4 2.7a1.5 0.8 63 1 0 -1.4 -2.7zM99.8 52.9a1.5 1.2 96 1 0 -0.3 3a1.5 1.2 96 1 0 0.3 -3zM102.6 108.4a1.3 0.9 97 1 0 -0.3 2.7a1.3 0.9 97 1 0 0.3 -2.7zM39.8 77.2a1.8 1.2 80 1 0 0.6 3.5a1.8 1.2 80 1 0 -0.6 -3.5zM100.7 75a1.7 0.8 73 1 0 1 3.3a1.7 0.8 73 1 0 -1 -3.3zM99.5 104.2a1.6 1.1 73 1 0 1 3.1a1.6 1.1 73 1 0 -1 -3.1zM94 110.2a1.2 1.1 95 1 0 -0.2 2.4a1.2 1.1 95 1 0 0.2 -2.4zM97.3 118.5a1.5 1.2 71 1 0 1 2.9a1.5 1.2 71 1 0 -1 -2.9zM45.9 117a1.2 1.1 82 1 0 0.3 2.4a1.2 1.1 82 1 0 -0.3 -2.4zM77.1 39.7a1.6 0.9 100 1 0 -0.6 3.2a1.6 0.9 100 1 0 0.6 -3.2zM41.2 116.3a1.4 1.1 80 1 0 0.5 2.7a1.4 1.1 80 1 0 -0.5 -2.7zM81.4 43.4a1.2 1.1 63 1 0 1.1 2.1a1.2 1.1 63 1 0 -1.1 -2.1zM101.1 109.7a1.5 0.9 79 1 0 0.6 2.9a1.5 0.9 79 1 0 -0.6 -2.9zM35.2 41.1a1.4 0.8 83 1 0 0.4 2.9a1.4 0.8 83 1 0 -0.4 -2.9zM82.9 113.1a1.6 1.2 98 1 0 -0.5 3.2a1.6 1.2 98 1 0 0.5 -3.2zM52.2 90.4a1.6 0.8 96 1 0 -0.3 3.2a1.6 0.8 96 1 0 0.3 -3.2zM62.7 117.2a1.4 0.8 79 1 0 0.6 2.8a1.4 0.8 79 1 0 -0.6 -2.8zM39 34.7a1.7 0.8 80 1 0 0.6 3.4a1.7 0.8 80 1 0 -0.6 -3.4zM104.9 122.5a1.6 0.8 62 1 0 1.5 2.8a1.6 0.8 62 1 0 -1.5 -2.8zM39.9 89.1a1.4 0.9 73 1 0 0.8 2.8a1.4 0.9 73 1 0 -0.8 -2.8zM29.4 97.8a1.3 1.2 72 1 0 0.8 2.4a1.3 1.2 72 1 0 -0.8 -2.4zM103.4 63.3a1.1 0.9 97 1 0 -0.3 2.2a1.1 0.9 97 1 0 0.3 -2.2zM38.5 80.4a1.4 1.1 98 1 0 -0.4 2.8a1.4 1.1 98 1 0 0.4 -2.8zM53 96.7a1.1 1.1 69 1 0 0.8 2.1a1.1 1.1 69 1 0 -0.8 -2.1zM60.3 46.6a1.7 1 76 1 0 0.8 3.4a1.7 1 76 1 0 -0.8 -3.4zM68.9 109.4a1.6 1 73 1 0 1 3.2a1.6 1 73 1 0 -1 -3.2zM65.5 48.8a1.4 1 60 1 0 1.4 2.4a1.4 1 60 1 0 -1.4 -2.4zM83.3 98.6a1.8 0.9 89 1 0 0.1 3.6a1.8 0.9 89 1 0 -0.1 -3.6zM97.3 124.5a1.6 0.8 98 1 0 -0.4 3.1a1.6 0.8 98 1 0 0.4 -3.1zM103 77.8a1.6 1 64 1 0 1.4 2.9a1.6 1 64 1 0 -1.4 -2.9zM81.4 56.1a1.3 1 98 1 0 -0.4 2.6a1.3 1 98 1 0 0.4 -2.6zM104.9 66.3a1.7 1.1 82 1 0 0.5 3.4a1.7 1.1 82 1 0 -0.5 -3.4zM117.5 81.9a1.4 1.2 76 1 0 0.7 2.7a1.4 1.2 76 1 0 -0.7 -2.7zM28.9 91.8a1.6 1.1 67 1 0 1.3 3a1.6 1.1 67 1 0 -1.3 -3zM53.7 93.8a1.3 1.1 74 1 0 0.7 2.5a1.3 1.1 74 1 0 -0.7 -2.5zM76.7 109.7a1.2 1 84 1 0 0.2 2.4a1.2 1 84 1 0 -0.2 -2.4zM120.1 126.1a1.1 0.8 85 1 0 0.2 2.3a1.1 0.8 85 1 0 -0.2 -2.3zM56.7 49.4a1.3 1.1 88 1 0 0.1 2.7a1.3 1.1 88 1 0 -0.1 -2.7zM50 87.7a1.3 1.2 83 1 0 0.3 2.6a1.3 1.2 83 1 0 -0.3 -2.6zM30.2 101.6a1.3 0.9 68 1 0 0.9 2.3a1.3 0.9 68 1 0 -0.9 -2.3zM83.1 41.7a1.3 1.2 80 1 0 0.5 2.6a1.3 1.2 80 1 0 -0.5 -2.6zM44.1 101a1.8 0.8 61 1 0 1.7 3.1a1.8 0.8 61 1 0 -1.7 -3.1zM55.7 55a1.3 1 73 1 0 0.8 2.5a1.3 1 73 1 0 -0.8 -2.5zM64.3 35.7a1.5 1.1 78 1 0 0.6 2.9a1.5 1.1 78 1 0 -0.6 -2.9zM101.8 85.2a1.8 0.8 77 1 0 0.8 3.4a1.8 0.8 77 1 0 -0.8 -3.4zM68.4 111.1a1.5 1 70 1 0 1 2.8a1.5 1 70 1 0 -1 -2.8zM84.9 92.2a1.6 1.1 67 1 0 1.3 3a1.6 1.1 67 1 0 -1.3 -3zM54.9 75.2a1.2 1.2 92 1 0 -0.1 2.4a1.2 1.2 92 1 0 0.1 -2.4zM116.8 128.6a1.5 1 70 1 0 1 2.9a1.5 1 70 1 0 -1 -2.9zM75.6 83.5a1.1 0.8 98 1 0 -0.3 2.2a1.1 0.8 98 1 0 0.3 -2.2z" fill="#6d6fb6" opacity="0.6"/>
<path d="M73.9 76.4a1.5 1.2 100 1 0 -0.5 2.9a1.5 1.2 100 1 0 0.5 -2.9zM31.3 94.6a1.3 1.1 65 1 0 1.1 2.3a1.3 1.1 65 1 0 -1.1 -2.3zM35.5 83.1a1.6 0.9 85 1 0 0.3 3.2a1.6 0.9 85 1 0 -0.3 -3.2zM36.9 80.2a1.5 1.1 64 1 0 1.3 2.8a1.5 1.1 64 1 0 -1.3 -2.8zM46.6 121.8a1.1 1.1 86 1 0 0.2 2.3a1.1 1.1 86 1 0 -0.2 -2.3zM53.7 85.4a1.2 1.2 68 1 0 0.9 2.2a1.2 1.2 68 1 0 -0.9 -2.2zM97.4 90.5a1.1 0.8 61 1 0 1.1 2a1.1 0.8 61 1 0 -1.1 -2zM102.2 65.1a1.2 1.2 94 1 0 -0.2 2.3a1.2 1.2 94 1 0 0.2 -2.3zM102.6 119.9a1.6 1.1 81 1 0 0.5 3.1a1.6 1.1 81 1 0 -0.5 -3.1zM32.3 79.5a1.7 0.8 61 1 0 1.6 3a1.7 0.8 61 1 0 -1.6 -3zM32.3 95a1.7 1.2 81 1 0 0.5 3.4a1.7 1.2 81 1 0 -0.5 -3.4zM89.4 83.9a1.3 1.1 88 1 0 0.1 2.7a1.3 1.1 88 1 0 -0.1 -2.7zM37.8 81.6a1.7 1.2 64 1 0 1.5 3a1.7 1.2 64 1 0 -1.5 -3zM74.5 122.6a1.4 1.2 93 1 0 -0.1 2.7a1.4 1.2 93 1 0 0.1 -2.7zM53.5 68.3a1.5 1.1 68 1 0 1.1 2.8a1.5 1.1 68 1 0 -1.1 -2.8zM64.7 77.3a1.7 0.8 60 1 0 1.7 3a1.7 0.8 60 1 0 -1.7 -3zM82.6 96.4a1.7 1 81 1 0 0.5 3.3a1.7 1 81 1 0 -0.5 -3.3zM47.4 117.3a1.1 1 94 1 0 -0.2 2.2a1.1 1 94 1 0 0.2 -2.2zM33.9 50.4a1.4 1.2 85 1 0 0.2 2.8a1.4 1.2 85 1 0 -0.2 -2.8zM96.9 65.2a1.5 0.9 65 1 0 1.2 2.8a1.5 0.9 65 1 0 -1.2 -2.8zM37.8 57.6a1.3 1.1 65 1 0 1 2.3a1.3 1.1 65 1 0 -1 -2.3zM75.7 36.8a1.5 1.1 96 1 0 -0.3 3a1.5 1.1 96 1 0 0.3 -3zM33.6 40.6a1.4 1.2 65 1 0 1.2 2.6a1.4 1.2 65 1 0 -1.2 -2.6zM63 122.6a1.2 1.1 60 1 0 1.2 2a1.2 1.1 60 1 0 -1.2 -2zM119.9 110.5a1.7 1.1 100 1 0 -0.6 3.4a1.7 1.1 100 1 0 0.6 -3.4zM84.6 52.8a1.3 1 76 1 0 0.6 2.6a1.3 1 76 1 0 -0.6 -2.6zM100.6 41.5a1.4 0.9 60 1 0 1.4 2.5a1.4 0.9 60 1 0 -1.4 -2.5zM31.8 91.7a1.1 1.1 70 1 0 0.8 2.1a1.1 1.1 70 1 0 -0.8 -2.1zM73.8 50.7a1.5 1 63 1 0 1.4 2.7a1.5 1 63 1 0 -1.4 -2.7zM95.4 77.8a1.5 0.9 86 1 0 0.2 3a1.5 0.9 86 1 0 -0.2 -3zM48.9 127.9a1.3 1 81 1 0 0.4 2.7a1.3 1 81 1 0 -0.4 -2.7zM116.6 110.6a1.7 1 73 1 0 1 3.2a1.7 1 73 1 0 -1 -3.2zM69.6 59.2a1.4 1.2 98 1 0 -0.4 2.7a1.4 1.2 98 1 0 0.4 -2.7zM105.5 65.9a1.3 1.2 80 1 0 0.4 2.5a1.3 1.2 80 1 0 -0.4 -2.5zM70.8 91a1.6 1.2 77 1 0 0.7 3.1a1.6 1.2 77 1 0 -0.7 -3.1zM26.8 98.7a1.7 1 96 1 0 -0.3 3.3a1.7 1 96 1 0 0.3 -3.3zM111.4 74.7a1.4 1.1 93 1 0 -0.2 2.9a1.4 1.1 93 1 0 0.2 -2.9zM69.4 74.3a1.6 0.8 100 1 0 -0.6 3.2a1.6 0.8 100 1 0 0.6 -3.2zM91.1 123.8a1.7 1 91 1 0 -0.1 3.4a1.7 1 91 1 0 0.1 -3.4zM122.2 43.4a1.2 1.2 94 1 0 -0.2 2.5a1.2 1.2 94 1 0 0.2 -2.5zM45.6 103.7a1.8 0.9 96 1 0 -0.4 3.5a1.8 0.9 96 1 0 0.4 -3.5zM93 107.5a1.4 1.2 81 1 0 0.4 2.7a1.4 1.2 81 1 0 -0.4 -2.7zM56.6 76.7a1.2 1 81 1 0 0.4 2.5a1.2 1 81 1 0 -0.4 -2.5zM68.3 66a1.7 0.8 77 1 0 0.8 3.3a1.7 0.8 77 1 0 -0.8 -3.3zM103.2 120.2a1.2 0.9 60 1 0 1.2 2.1a1.2 0.9 60 1 0 -1.2 -2.1zM72 72.7a1.8 1.1 68 1 0 1.3 3.2a1.8 1.1 68 1 0 -1.3 -3.2zM95.8 48.2a1.5 1.2 90 1 0 0 3a1.5 1.2 90 1 0 -0 -3zM67.7 93.7a1.6 1.1 78 1 0 0.7 3.2a1.6 1.1 78 1 0 -0.7 -3.2zM55.4 122.4a1.2 1.2 82 1 0 0.3 2.4a1.2 1.2 82 1 0 -0.3 -2.4zM56.9 120a1.6 1.2 68 1 0 1.2 3a1.6 1.2 68 1 0 -1.2 -3zM98.1 124a1.2 1 74 1 0 0.6 2.2a1.2 1 74 1 0 -0.6 -2.2zM78.9 127.6a1.2 1.2 74 1 0 0.7 2.4a1.2 1.2 74 1 0 -0.7 -2.4zM72.2 118.2a1.5 0.9 98 1 0 -0.4 3a1.5 0.9 98 1 0 0.4 -3zM39.2 78.2a1.1 1.1 75 1 0 0.6 2.2a1.1 1.1 75 1 0 -0.6 -2.2zM102.2 56.4a1.5 0.9 75 1 0 0.8 2.9a1.5 0.9 75 1 0 -0.8 -2.9zM109.8 80.1a1.5 1 79 1 0 0.6 3a1.5 1 79 1 0 -0.6 -3zM113.4 85.6a1.2 1 93 1 0 -0.1 2.4a1.2 1 93 1 0 0.1 -2.4zM61.1 55.4a1.1 0.8 100 1 0 -0.4 2.2a1.1 0.8 100 1 0 0.4 -2.2zM63.4 108.9a1.7 0.9 67 1 0 1.3 3.1a1.7 0.9 67 1 0 -1.3 -3.1zM98.8 55.9a1.2 1.2 70 1 0 0.8 2.3a1.2 1.2 70 1 0 -0.8 -2.3zM34.1 67.3a1.2 1 97 1 0 -0.3 2.4a1.2 1 97 1 0 0.3 -2.4zM111 118.9a1.4 1.1 81 1 0 0.4 2.7a1.4 1.1 81 1 0 -0.4 -2.7zM82.1 93.1a1.1 0.8 89 1 0 0 2.3a1.1 0.8 89 1 0 -0 -2.3zM64.9 121.2a1.2 0.8 92 1 0 -0.1 2.4a1.2 0.8 92 1 0 0.1 -2.4zM56.6 69.1a1.2 1.2 72 1 0 0.7 2.3a1.2 1.2 72 1 0 -0.7 -2.3zM48.5 99.5a1.1 0.9 94 1 0 -0.2 2.2a1.1 0.9 94 1 0 0.2 -2.2zM114.6 107a1.7 0.8 81 1 0 0.5 3.3a1.7 0.8 81 1 0 -0.5 -3.3zM115 83.6a1.1 1.1 99 1 0 -0.4 2.2a1.1 1.1 99 1 0 0.4 -2.2zM51.4 82.9a1.4 1.1 100 1 0 -0.5 2.7a1.4 1.1 100 1 0 0.5 -2.7zM44.7 93.7a1.6 0.9 60 1 0 1.6 2.7a1.6 0.9 60 1 0 -1.6 -2.7zM86.4 124.2a1.2 1.2 77 1 0 0.5 2.3a1.2 1.2 77 1 0 -0.5 -2.3zM83 119.9a1.4 1.2 69 1 0 1 2.6a1.4 1.2 69 1 0 -1 -2.6zM66.9 65.4a1.2 0.8 95 1 0 -0.2 2.5a1.2 0.8 95 1 0 0.2 -2.5zM80.9 97.6a1.6 1.2 90 1 0 0 3.3a1.6 1.2 90 1 0 -0 -3.3zM38.7 65.3a1.5 1.1 77 1 0 0.7 2.8a1.5 1.1 77 1 0 -0.7 -2.8zM56.4 54.4a1.2 0.9 83 1 0 0.3 2.4a1.2 0.9 83 1 0 -0.3 -2.4zM43 37.1a1.1 0.9 65 1 0 0.9 2.1a1.1 0.9 65 1 0 -0.9 -2.1zM42.4 40.8a1.5 1 80 1 0 0.5 3a1.5 1 80 1 0 -0.5 -3zM74.1 123.6a1.6 1 71 1 0 1.1 3.1a1.6 1 71 1 0 -1.1 -3.1zM113.5 100a1.6 1 86 1 0 0.2 3.1a1.6 1 86 1 0 -0.2 -3.1zM81.9 38.6a1.5 1.2 88 1 0 0.1 2.9a1.5 1.2 88 1 0 -0.1 -2.9zM51.5 93.7a1.4 0.8 95 1 0 -0.2 2.8a1.4 0.8 95 1 0 0.2 -2.8zM34.7 76.3a1.7 1.1 64 1 0 1.5 3.1a1.7 1.1 64 1 0 -1.5 -3.1zM114.9 107.6a1.7 1 69 1 0 1.2 3.2a1.7 1 69 1 0 -1.2 -3.2zM68.5 92.8a1.6 0.8 89 1 0 0.1 3.2a1.6 0.8 89 1 0 -0.1 -3.2zM68.1 55.6a1.4 1.1 81 1 0 0.4 2.7a1.4 1.1 81 1 0 -0.4 -2.7zM89 36a1.5 0.9 76 1 0 0.7 2.9a1.5 0.9 76 1 0 -0.7 -2.9zM37.4 88.8a1.2 0.8 92 1 0 -0.1 2.3a1.2 0.8 92 1 0 0.1 -2.3zM55.4 126.3a1.7 1.1 62 1 0 1.6 3a1.7 1.1 62 1 0 -1.6 -3zM118.3 124.6a1.5 1 65 1 0 1.2 2.7a1.5 1 65 1 0 -1.2 -2.7zM88 55.3a1.7 0.8 84 1 0 0.3 3.3a1.7 0.8 84 1 0 -0.3 -3.3zM89.3 90.5a1.4 0.9 93 1 0 -0.2 2.9a1.4 0.9 93 1 0 0.2 -2.9zM115.4 72.8a1.6 0.9 65 1 0 1.3 2.9a1.6 0.9 65 1 0 -1.3 -2.9zM112.8 98.2a1.2 1 67 1 0 0.9 2.2a1.2 1 67 1 0 -0.9 -2.2zM68.1 85.8a1.2 1.2 77 1 0 0.5 2.3a1.2 1.2 77 1 0 -0.5 -2.3zM99.3 81.3a1.7 1 92 1 0 -0.1 3.3a1.7 1 92 1 0 0.1 -3.3zM41.4 67.8a1.5 1 84 1 0 0.3 2.9a1.5 1 84 1 0 -0.3 -2.9zM27.5 100.9a1.5 1 81 1 0 0.5 2.9a1.5 1 81 1 0 -0.5 -2.9zM81 58.9a1.3 0.9 68 1 0 1 2.4a1.3 0.9 68 1 0 -1 -2.4zM99.1 90.7a1.3 1.1 87 1 0 0.1 2.6a1.3 1.1 87 1 0 -0.1 -2.6zM31.3 86.7a1.7 1 64 1 0 1.5 3.1a1.7 1 64 1 0 -1.5 -3.1zM83.4 127.2a1.2 1 79 1 0 0.5 2.3a1.2 1 79 1 0 -0.5 -2.3zM125.8 37.5a1.7 0.8 61 1 0 1.7 3a1.7 0.8 61 1 0 -1.7 -3zM63.3 125.7a1.4 0.9 74 1 0 0.8 2.6a1.4 0.9 74 1 0 -0.8 -2.6zM61.1 55.2a1.7 0.9 75 1 0 0.9 3.3a1.7 0.9 75 1 0 -0.9 -3.3zM72.5 55.8a1.2 1.2 99 1 0 -0.4 2.4a1.2 1.2 99 1 0 0.4 -2.4zM44.6 47.2a1.7 1.1 89 1 0 0.1 3.4a1.7 1.1 89 1 0 -0.1 -3.4zM53.4 84.2a1.4 1.2 93 1 0 -0.1 2.8a1.4 1.2 93 1 0 0.1 -2.8zM72.9 52.6a1.8 1.2 61 1 0 1.7 3.1a1.8 1.2 61 1 0 -1.7 -3.1zM42.2 104.9a1.1 0.9 74 1 0 0.6 2.1a1.1 0.9 74 1 0 -0.6 -2.1zM83.6 99.8a1.6 0.9 70 1 0 1.1 3a1.6 0.9 70 1 0 -1.1 -3zM39.5 89.6a1.4 1.1 97 1 0 -0.3 2.8a1.4 1.1 97 1 0 0.3 -2.8zM98.3 66.9a1.5 1.1 60 1 0 1.5 2.7a1.5 1.1 60 1 0 -1.5 -2.7zM52.2 89.3a1.4 1.1 65 1 0 1.2 2.6a1.4 1.1 65 1 0 -1.2 -2.6zM92 126.9a1.4 0.9 65 1 0 1.2 2.6a1.4 0.9 65 1 0 -1.2 -2.6zM100.1 111.7a1.2 1.2 90 1 0 0 2.4a1.2 1.2 90 1 0 -0 -2.4zM100.2 38.5a1.8 1.2 81 1 0 0.6 3.5a1.8 1.2 81 1 0 -0.6 -3.5zM95.1 44.7a1.7 1.2 79 1 0 0.7 3.4a1.7 1.2 79 1 0 -0.7 -3.4zM93.7 108.2a1.5 1.1 80 1 0 0.5 2.9a1.5 1.1 80 1 0 -0.5 -2.9zM54.3 124.9a1.8 1.1 63 1 0 1.6 3.2a1.8 1.1 63 1 0 -1.6 -3.2zM70 79.7a1.5 1 92 1 0 -0.1 3.1a1.5 1 92 1 0 0.1 -3.1zM60.1 36.5a1.6 1.2 96 1 0 -0.3 3.2a1.6 1.2 96 1 0 0.3 -3.2zM60.5 69.4a1.3 1 95 1 0 -0.2 2.5a1.3 1 95 1 0 0.2 -2.5zM105.2 67.3a1.3 1.2 100 1 0 -0.5 2.6a1.3 1.2 100 1 0 0.5 -2.6zM41.4 69a1.6 0.9 69 1 0 1.1 3a1.6 0.9 69 1 0 -1.1 -3zM52.1 81.4a1.1 1.1 78 1 0 0.5 2.2a1.1 1.1 78 1 0 -0.5 -2.2zM46.2 101.5a1.3 1.1 73 1 0 0.8 2.6a1.3 1.1 73 1 0 -0.8 -2.6zM82.5 91.7a1.6 0.9 81 1 0 0.5 3.1a1.6 0.9 81 1 0 -0.5 -3.1zM61.9 58.5a1.3 0.9 61 1 0 1.2 2.2a1.3 0.9 61 1 0 -1.2 -2.2zM51.9 76.5a1.8 1 74 1 0 1 3.5a1.8 1 74 1 0 -1 -3.5zM27 110.4a1.3 1.1 72 1 0 0.8 2.5a1.3 1.1 72 1 0 -0.8 -2.5zM35.8 85.4a1.4 0.9 95 1 0 -0.2 2.8a1.4 0.9 95 1 0 0.2 -2.8zM61.8 125.6a1.2 1 69 1 0 0.8 2.2a1.2 1 69 1 0 -0.8 -2.2zM24.9 103.1a1.5 1.2 75 1 0 0.8 2.9a1.5 1.2 75 1 0 -0.8 -2.9zM91.6 104.8a1.6 1.2 80 1 0 0.5 3.1a1.6 1.2 80 1 0 -0.5 -3.1zM64.4 112.7a1.6 0.9 71 1 0 1 3a1.6 0.9 71 1 0 -1 -3zM65.3 85.3a1.1 0.8 98 1 0 -0.3 2.2a1.1 0.8 98 1 0 0.3 -2.2zM101.2 42.4a1.1 1.2 72 1 0 0.7 2.1a1.1 1.2 72 1 0 -0.7 -2.1zM49.2 96a1.6 0.8 68 1 0 1.2 3a1.6 0.8 68 1 0 -1.2 -3zM52.3 98.4a1.1 1.2 71 1 0 0.7 2.1a1.1 1.2 71 1 0 -0.7 -2.1zM58.4 60.8a1.5 1.2 64 1 0 1.4 2.8a1.5 1.2 64 1 0 -1.4 -2.8zM101.4 88.8a1.8 1.1 63 1 0 1.6 3.2a1.8 1.1 63 1 0 -1.6 -3.2zM98.8 116.4a1.4 1.2 83 1 0 0.3 2.7a1.4 1.2 83 1 0 -0.3 -2.7zM83 89.7a1.6 1.2 80 1 0 0.5 3.1a1.6 1.2 80 1 0 -0.5 -3.1zM71.5 61.9a1.2 1 88 1 0 0.1 2.5a1.2 1 88 1 0 -0.1 -2.5zM62.4 43.8a1.6 1.2 64 1 0 1.4 2.9a1.6 1.2 64 1 0 -1.4 -2.9zM95.5 55a1.5 1 63 1 0 1.4 2.7a1.5 1 63 1 0 -1.4 -2.7zM68.2 108.3a1.4 1.2 70 1 0 1 2.6a1.4 1.2 70 1 0 -1 -2.6zM33.9 82.3a1.8 1 98 1 0 -0.5 3.5a1.8 1 98 1 0 0.5 -3.5zM61.3 114.9a1.6 1.1 78 1 0 0.7 3.1a1.6 1.1 78 1 0 -0.7 -3.1zM96.4 38.8a1.5 0.9 71 1 0 1 2.8a1.5 0.9 71 1 0 -1 -2.8zM32.4 59.1a1.3 1.1 64 1 0 1.1 2.3a1.3 1.1 64 1 0 -1.1 -2.3zM98.5 123.8a1.8 1.2 77 1 0 0.8 3.4a1.8 1.2 77 1 0 -0.8 -3.4zM101.7 37.2a1.7 1.1 80 1 0 0.6 3.3a1.7 1.1 80 1 0 -0.6 -3.3zM85.1 119.8a1.6 1.2 62 1 0 1.5 2.9a1.6 1.2 62 1 0 -1.5 -2.9zM71.2 78.9a1.3 1 99 1 0 -0.4 2.6a1.3 1 99 1 0 0.4 -2.6zM95 106.8a1.3 0.8 73 1 0 0.8 2.5a1.3 0.8 73 1 0 -0.8 -2.5zM104.4 112.6a1.2 1.2 67 1 0 1 2.3a1.2 1.2 67 1 0 -1 -2.3zM62.1 37.7a1.4 0.8 74 1 0 0.8 2.7a1.4 0.8 74 1 0 -0.8 -2.7zM41.7 128.7a1.7 0.9 67 1 0 1.3 3.1a1.7 0.9 67 1 0 -1.3 -3.1zM119.8 117.1a1.1 1 78 1 0 0.5 2.2a1.1 1 78 1 0 -0.5 -2.2zM77.2 108.4a1.3 0.9 78 1 0 0.5 2.5a1.3 0.9 78 1 0 -0.5 -2.5zM68.2 72.8a1.6 1.2 65 1 0 1.3 2.8a1.6 1.2 65 1 0 -1.3 -2.8zM63.6 124.7a1.5 0.8 69 1 0 1.1 2.8a1.5 0.8 69 1 0 -1.1 -2.8zM37.3 87.3a1.2 1 84 1 0 0.3 2.4a1.2 1 84 1 0 -0.3 -2.4zM49.4 109.5a1.3 1.2 65 1 0 1 2.3a1.3 1.2 65 1 0 -1 -2.3zM100.7 79.3a1.6 1.1 92 1 0 -0.1 3.3a1.6 1.1 92 1 0 0.1 -3.3zM71.7 99.6a1.2 1 60 1 0 1.2 2a1.2 1 60 1 0 -1.2 -2zM101.7 93.1a1.3 0.9 64 1 0 1.2 2.4a1.3 0.9 64 1 0 -1.2 -2.4zM96.2 121.2a1.5 1.1 64 1 0 1.3 2.7a1.5 1.1 64 1 0 -1.3 -2.7zM73.4 35.9a1.5 1.1 99 1 0 -0.5 3.1a1.5 1.1 99 1 0 0.5 -3.1zM45.4 38a1.2 1.1 100 1 0 -0.4 2.5a1.2 1.1 100 1 0 0.4 -2.5zM99.9 87.5a1.1 1.2 96 1 0 -0.2 2.3a1.1 1.2 96 1 0 0.2 -2.3zM68.8 99.7a1.7 0.9 99 1 0 -0.5 3.4a1.7 0.9 99 1 0 0.5 -3.4zM126.4 40.2a1.7 1 61 1 0 1.6 2.9a1.7 1 61 1 0 -1.6 -2.9zM100.7 114.5a1.5 0.8 77 1 0 0.7 2.8a1.5 0.8 77 1 0 -0.7 -2.8zM122.5 43.7a1.8 0.8 97 1 0 -0.4 3.6a1.8 0.8 97 1 0 0.4 -3.6zM28.9 92.4a1.8 1.1 78 1 0 0.7 3.5a1.8 1.1 78 1 0 -0.7 -3.5zM76.3 112.7a1.3 1.2 70 1 0 0.9 2.4a1.3 1.2 70 1 0 -0.9 -2.4zM34 85.4a1.4 0.8 76 1 0 0.7 2.7a1.4 0.8 76 1 0 -0.7 -2.7zM101.3 124.5a1.1 0.9 68 1 0 0.8 2a1.1 0.9 68 1 0 -0.8 -2zM36.4 95.9a1.2 0.8 98 1 0 -0.3 2.4a1.2 0.8 98 1 0 0.3 -2.4zM92.6 110.9a1.2 1.2 79 1 0 0.5 2.3a1.2 1.2 79 1 0 -0.5 -2.3zM29.7 106.9a1.8 1 78 1 0 0.7 3.5a1.8 1 78 1 0 -0.7 -3.5zM45.6 127.3a1.6 1 95 1 0 -0.3 3.2a1.6 1 95 1 0 0.3 -3.2zM85.9 58.4a1.2 0.8 69 1 0 0.9 2.3a1.2 0.8 69 1 0 -0.9 -2.3zM85.5 57.7a1.5 0.9 65 1 0 1.2 2.8a1.5 0.9 65 1 0 -1.2 -2.8zM41.3 117.7a1.3 1.1 67 1 0 1 2.3a1.3 1.1 67 1 0 -1 -2.3zM119.4 87a1.2 0.9 92 1 0 -0.1 2.4a1.2 0.9 92 1 0 0.1 -2.4zM94.7 87.8a1.6 0.8 63 1 0 1.4 2.8a1.6 0.8 63 1 0 -1.4 -2.8zM28.5 96.3a1.3 1 70 1 0 0.9 2.4a1.3 1 70 1 0 -0.9 -2.4zM47.6 100a1.6 1 62 1 0 1.5 2.9a1.6 1 62 1 0 -1.5 -2.9zM35.9 38.4a1.7 0.8 97 1 0 -0.4 3.4a1.7 0.8 97 1 0 0.4 -3.4zM113.6 115a1.3 0.9 90 1 0 0 2.7a1.3 0.9 90 1 0 -0 -2.7zM35.4 81.5a1.3 0.9 98 1 0 -0.4 2.6a1.3 0.9 98 1 0 0.4 -2.6zM114.2 105.8a1.5 0.8 79 1 0 0.6 2.9a1.5 0.8 79 1 0 -0.6 -2.9zM102 107.4a1.2 1 95 1 0 -0.2 2.4a1.2 1 95 1 0 0.2 -2.4zM73.1 94.9a1.6 1 86 1 0 0.2 3.1a1.6 1 86 1 0 -0.2 -3.1zM38.1 91.4a1.5 0.9 75 1 0 0.8 2.9a1.5 0.9 75 1 0 -0.8 -2.9zM35.5 63.4a1.3 0.9 79 1 0 0.5 2.5a1.3 0.9 79 1 0 -0.5 -2.5zM42.9 122.5a1.2 0.9 91 1 0 -0 2.3a1.2 0.9 91 1 0 0 -2.3zM68 91a1.4 0.8 80 1 0 0.5 2.7a1.4 0.8 80 1 0 -0.5 -2.7zM97.1 49.2a1.6 1 75 1 0 0.8 3.1a1.6 1 75 1 0 -0.8 -3.1zM96.9 63.9a1.6 0.9 62 1 0 1.5 2.8a1.6 0.9 62 1 0 -1.5 -2.8zM58.3 57.2a1.6 0.9 81 1 0 0.5 3.2a1.6 0.9 81 1 0 -0.5 -3.2zM85.7 110.4a1.2 1.1 81 1 0 0.4 2.3a1.2 1.1 81 1 0 -0.4 -2.3zM50.2 102.6a1.4 0.8 99 1 0 -0.4 2.8a1.4 0.8 99 1 0 0.4 -2.8zM102.4 107.9a1.4 1.2 85 1 0 0.2 2.7a1.4 1.2 85 1 0 -0.2 -2.7zM98.3 41.8a1.8 1.1 99 1 0 -0.5 3.5a1.8 1.1 99 1 0 0.5 -3.5zM112.6 123.5a1.7 1.2 70 1 0 1.2 3.2a1.7 1.2 70 1 0 -1.2 -3.2zM102 107.4a1.2 0.9 65 1 0 1 2.1a1.2 0.9 65 1 0 -1 -2.1zM126.9 42.3a1.6 1 61 1 0 1.5 2.7a1.6 1 61 1 0 -1.5 -2.7zM84.5 51.1a1.2 0.8 87 1 0 0.1 2.3a1.2 0.8 87 1 0 -0.1 -2.3zM68.8 68.1a1.5 1.2 72 1 0 0.9 2.9a1.5 1.2 72 1 0 -0.9 -2.9zM72.6 36.3a1.1 1 68 1 0 0.9 2.1a1.1 1 68 1 0 -0.9 -2.1zM72.9 126.1a1.2 0.8 94 1 0 -0.2 2.4a1.2 0.8 94 1 0 0.2 -2.4zM47 92.4a1.1 0.9 68 1 0 0.8 2.1a1.1 0.9 68 1 0 -0.8 -2.1zM87.8 93.1a1.5 1.1 74 1 0 0.8 2.9a1.5 1.1 74 1 0 -0.8 -2.9zM72.2 82.5a1.4 1 87 1 0 0.1 2.8a1.4 1 87 1 0 -0.1 -2.8zM42.6 107.8a1.4 1.2 60 1 0 1.4 2.5a1.4 1.2 60 1 0 -1.4 -2.5zM102.4 78.6a1.8 0.8 89 1 0 0.1 3.6a1.8 0.8 89 1 0 -0.1 -3.6zM36 47.8a1.7 0.8 86 1 0 0.2 3.3a1.7 0.8 86 1 0 -0.2 -3.3zM33.6 93.8a1.8 1.1 77 1 0 0.8 3.4a1.8 1.1 77 1 0 -0.8 -3.4zM34.5 51a1.5 0.9 80 1 0 0.5 3a1.5 0.9 80 1 0 -0.5 -3zM32.4 95.7a1.2 1.2 72 1 0 0.7 2.3a1.2 1.2 72 1 0 -0.7 -2.3zM83.3 56.1a1.3 1.1 60 1 0 1.3 2.3a1.3 1.1 60 1 0 -1.3 -2.3zM46 104.9a1.2 0.9 72 1 0 0.8 2.4a1.2 0.9 72 1 0 -0.8 -2.4zM102.9 97.2a1.8 0.8 79 1 0 0.7 3.4a1.8 0.8 79 1 0 -0.7 -3.4zM86.6 53.1a1.6 1 82 1 0 0.4 3.1a1.6 1 82 1 0 -0.4 -3.1zM100.8 40.2a1.7 1.1 69 1 0 1.2 3.2a1.7 1.1 69 1 0 -1.2 -3.2zM32.2 66.7a1.2 1.2 75 1 0 0.6 2.4a1.2 1.2 75 1 0 -0.6 -2.4zM51.9 89.8a1.4 1.1 80 1 0 0.5 2.8a1.4 1.1 80 1 0 -0.5 -2.8zM95.9 57.9a1.5 1.1 74 1 0 0.8 2.8a1.5 1.1 74 1 0 -0.8 -2.8zM89.1 104.3a1.5 1.1 65 1 0 1.3 2.8a1.5 1.1 65 1 0 -1.3 -2.8zM51.1 97a1.5 0.8 70 1 0 1 2.8a1.5 0.8 70 1 0 -1 -2.8zM87 100.6a1.5 1 84 1 0 0.3 3.1a1.5 1 84 1 0 -0.3 -3.1zM52.7 62.2a1.6 0.9 65 1 0 1.3 2.9a1.6 0.9 65 1 0 -1.3 -2.9zM90.9 46.9a1.1 1.2 67 1 0 0.9 2.1a1.1 1.2 67 1 0 -0.9 -2.1zM80.1 104.9a1.5 1.2 64 1 0 1.3 2.6a1.5 1.2 64 1 0 -1.3 -2.6zM73.2 87.4a1.4 1.1 93 1 0 -0.1 2.8a1.4 1.1 93 1 0 0.1 -2.8zM86.5 120a1.1 1.1 96 1 0 -0.2 2.2a1.1 1.1 96 1 0 0.2 -2.2zM41.7 62.2a1.4 1 91 1 0 -0 2.8a1.4 1 91 1 0 0 -2.8zM63.3 106a1.3 1 74 1 0 0.7 2.5a1.3 1 74 1 0 -0.7 -2.5zM59.2 63.9a1.8 0.8 94 1 0 -0.2 3.6a1.8 0.8 94 1 0 0.2 -3.6zM42.8 120.4a1.4 1.1 76 1 0 0.7 2.6a1.4 1.1 76 1 0 -0.7 -2.6zM81 103.8a1.2 1 95 1 0 -0.2 2.3a1.2 1 95 1 0 0.2 -2.3zM63.7 38.5a1.2 1 85 1 0 0.2 2.4a1.2 1 85 1 0 -0.2 -2.4zM99.8 89a1.3 0.8 74 1 0 0.7 2.4a1.3 0.8 74 1 0 -0.7 -2.4zM91.9 107a1.4 1.2 84 1 0 0.3 2.9a1.4 1.2 84 1 0 -0.3 -2.9zM42.6 104.6a1.2 1.2 60 1 0 1.2 2.2a1.2 1.2 60 1 0 -1.2 -2.2zM61 46.2a1.2 1.2 67 1 0 0.9 2.2a1.2 1.2 67 1 0 -0.9 -2.2zM35.2 96.1a1.4 1.2 86 1 0 0.2 2.7a1.4 1.2 86 1 0 -0.2 -2.7zM85.9 126.6a1.8 0.8 64 1 0 1.6 3.2a1.8 0.8 64 1 0 -1.6 -3.2zM45.5 126.6a1.4 1 67 1 0 1.1 2.6a1.4 1 67 1 0 -1.1 -2.6zM113.6 119.3a1.6 0.9 62 1 0 1.5 2.9a1.6 0.9 62 1 0 -1.5 -2.9zM69 82.2a1.8 1.1 76 1 0 0.9 3.5a1.8 1.1 76 1 0 -0.9 -3.5zM54.8 83.9a1.5 0.8 62 1 0 1.5 2.7a1.5 0.8 62 1 0 -1.5 -2.7zM87.2 90a1.8 0.9 79 1 0 0.7 3.5a1.8 0.9 79 1 0 -0.7 -3.5zM102.9 62.9a1.5 1.1 100 1 0 -0.5 2.9a1.5 1.1 100 1 0 0.5 -2.9zM97.7 110.1a1.1 1 88 1 0 0.1 2.2a1.1 1 88 1 0 -0.1 -2.2zM114.9 96a1.3 1.1 62 1 0 1.2 2.3a1.3 1.1 62 1 0 -1.2 -2.3zM48.6 109.1a1.5 1.1 67 1 0 1.1 2.7a1.5 1.1 67 1 0 -1.1 -2.7zM51.4 70.4a1.6 0.8 65 1 0 1.3 2.9a1.6 0.8 65 1 0 -1.3 -2.9zM83.2 45.5a1.6 0.9 67 1 0 1.3 3a1.6 0.9 67 1 0 -1.3 -3zM118.3 90.4a1.5 1.1 72 1 0 0.9 2.8a1.5 1.1 72 1 0 -0.9 -2.8zM57.2 127.7a1.4 1 62 1 0 1.3 2.5a1.4 1 62 1 0 -1.3 -2.5zM85.9 105.6a1.6 1 93 1 0 -0.2 3.3a1.6 1 93 1 0 0.2 -3.3zM97.3 40.3a1.2 0.9 83 1 0 0.3 2.4a1.2 0.9 83 1 0 -0.3 -2.4zM116.9 83.3a1.2 1.1 89 1 0 0 2.3a1.2 1.1 89 1 0 -0 -2.3zM53.7 73.8a1.3 1.2 87 1 0 0.1 2.5a1.3 1.2 87 1 0 -0.1 -2.5zM73.7 89.9a1.4 0.8 78 1 0 0.6 2.6a1.4 0.8 78 1 0 -0.6 -2.6zM44 51.3a1.7 1.2 85 1 0 0.3 3.4a1.7 1.2 85 1 0 -0.3 -3.4zM37.8 64.4a1.4 0.9 70 1 0 1 2.7a1.4 0.9 70 1 0 -1 -2.7zM32.7 65.3a1.2 0.9 84 1 0 0.2 2.3a1.2 0.9 84 1 0 -0.2 -2.3zM69.5 71.3a1.2 0.9 99 1 0 -0.4 2.4a1.2 0.9 99 1 0 0.4 -2.4zM42.6 62.5a1.7 0.8 83 1 0 0.4 3.4a1.7 0.8 83 1 0 -0.4 -3.4zM45.5 97a1.5 1 98 1 0 -0.4 3a1.5 1 98 1 0 0.4 -3zM55.5 119.3a1.5 1.1 77 1 0 0.7 3a1.5 1.1 77 1 0 -0.7 -3zM82.8 88.9a1.2 0.8 100 1 0 -0.4 2.4a1.2 0.8 100 1 0 0.4 -2.4zM42.8 110.6a1.4 1.1 99 1 0 -0.4 2.8a1.4 1.1 99 1 0 0.4 -2.8zM81 35a1.7 1.2 91 1 0 -0.1 3.4a1.7 1.2 91 1 0 0.1 -3.4zM99.4 39.9a1.6 1.2 75 1 0 0.8 3.1a1.6 1.2 75 1 0 -0.8 -3.1zM69.6 56.8a1.2 1.1 79 1 0 0.4 2.3a1.2 1.1 79 1 0 -0.4 -2.3zM59.2 63.2a1.3 0.8 90 1 0 0 2.6a1.3 0.8 90 1 0 -0 -2.6zM69.9 107.7a1.5 0.9 93 1 0 -0.2 2.9a1.5 0.9 93 1 0 0.2 -2.9zM58.1 125.9a1.5 0.9 71 1 0 1 2.9a1.5 0.9 71 1 0 -1 -2.9zM97.8 128.8a1.1 1.1 61 1 0 1.1 1.9a1.1 1.1 61 1 0 -1.1 -1.9zM100.2 35.5a1.6 0.8 60 1 0 1.6 2.8a1.6 0.8 60 1 0 -1.6 -2.8zM90.9 41.6a1.7 0.8 75 1 0 0.9 3.2a1.7 0.8 75 1 0 -0.9 -3.2zM95 106.9a1.2 1.2 73 1 0 0.7 2.3a1.2 1.2 73 1 0 -0.7 -2.3zM30.2 100.4a1.6 0.9 70 1 0 1.1 3a1.6 0.9 70 1 0 -1.1 -3zM86.4 104.8a1.3 1.2 98 1 0 -0.4 2.5a1.3 1.2 98 1 0 0.4 -2.5zM105 49.6a1.7 1.2 82 1 0 0.5 3.3a1.7 1.2 82 1 0 -0.5 -3.3zM101.8 87.4a1.1 1 76 1 0 0.5 2.2a1.1 1 76 1 0 -0.5 -2.2zM25.4 109.2a1.3 0.8 91 1 0 -0 2.6a1.3 0.8 91 1 0 0 -2.6zM72 101.5a1.6 1 64 1 0 1.4 2.9a1.6 1 64 1 0 -1.4 -2.9zM118.6 86a1.4 1.1 97 1 0 -0.3 2.8a1.4 1.1 97 1 0 0.3 -2.8zM75.1 84.7a1.7 1.2 88 1 0 0.1 3.4a1.7 1.2 88 1 0 -0.1 -3.4zM94.4 97.9a1.5 1.1 60 1 0 1.5 2.5a1.5 1.1 60 1 0 -1.5 -2.5zM33.6 87.2a1.3 0.9 73 1 0 0.7 2.4a1.3 0.9 73 1 0 -0.7 -2.4zM86.3 97.2a1.4 0.9 91 1 0 -0 2.8a1.4 0.9 91 1 0 0 -2.8zM123.7 39.2a1.5 1.2 100 1 0 -0.5 2.9a1.5 1.2 100 1 0 0.5 -2.9zM69.4 57.2a1.4 0.8 91 1 0 -0 2.7a1.4 0.8 91 1 0 0 -2.7zM85.3 46.6a1.3 0.8 67 1 0 1 2.4a1.3 0.8 67 1 0 -1 -2.4zM85.3 97.8a1.5 1.2 88 1 0 0.1 2.9a1.5 1.2 88 1 0 -0.1 -2.9zM34.2 100.8a1.5 0.9 62 1 0 1.4 2.6a1.5 0.9 62 1 0 -1.4 -2.6zM125.2 43.4a1.1 0.8 97 1 0 -0.3 2.3a1.1 0.8 97 1 0 0.3 -2.3zM114.4 75.3a1.1 1.2 74 1 0 0.6 2.2a1.1 1.2 74 1 0 -0.6 -2.2zM104 66.6a1.5 1.1 100 1 0 -0.5 2.9a1.5 1.1 100 1 0 0.5 -2.9zM97.3 88.5a1.4 1 67 1 0 1.1 2.7a1.4 1 67 1 0 -1.1 -2.7zM27.3 107.9a1.4 0.8 100 1 0 -0.5 2.9a1.4 0.8 100 1 0 0.5 -2.9zM32.5 89.6a1.3 1.1 94 1 0 -0.2 2.7a1.3 1.1 94 1 0 0.2 -2.7zM82.2 79a1.3 1.2 62 1 0 1.2 2.3a1.3 1.2 62 1 0 -1.2 -2.3zM61.2 35.3a1.3 0.9 67 1 0 1 2.4a1.3 0.9 67 1 0 -1 -2.4zM62.8 40.9a1.2 1.2 64 1 0 1.1 2.2a1.2 1.2 64 1 0 -1.1 -2.2zM82.1 59.1a1.2 0.8 86 1 0 0.2 2.4a1.2 0.8 86 1 0 -0.2 -2.4zM34.3 55.5a1.4 1.1 74 1 0 0.8 2.8a1.4 1.1 74 1 0 -0.8 -2.8zM58.8 52.6a1.5 0.8 94 1 0 -0.2 3a1.5 0.8 94 1 0 0.2 -3zM86.2 42a1.7 0.8 87 1 0 0.2 3.4a1.7 0.8 87 1 0 -0.2 -3.4zM48.5 94.9a1.4 0.9 78 1 0 0.6 2.6a1.4 0.9 78 1 0 -0.6 -2.6zM63.6 94.4a1.8 1.2 69 1 0 1.3 3.3a1.8 1.2 69 1 0 -1.3 -3.3zM41.2 37.5a1.3 1 85 1 0 0.2 2.6a1.3 1 85 1 0 -0.2 -2.6zM37 58.8a1.2 1.1 97 1 0 -0.3 2.3a1.2 1.1 97 1 0 0.3 -2.3zM104.4 113.9a1.3 1.1 85 1 0 0.2 2.6a1.3 1.1 85 1 0 -0.2 -2.6zM70.4 98.9a1.3 1.2 82 1 0 0.4 2.5a1.3 1.2 82 1 0 -0.4 -2.5zM78.8 123.6a1.7 0.9 90 1 0 0 3.4a1.7 0.9 90 1 0 -0 -3.4zM45.6 97.9a1.7 1 80 1 0 0.6 3.4a1.7 1 80 1 0 -0.6 -3.4zM74.3 91a1.2 1.1 88 1 0 0.1 2.4a1.2 1.1 88 1 0 -0.1 -2.4zM76.9 108.1a1.5 0.9 60 1 0 1.5 2.6a1.5 0.9 60 1 0 -1.5 -2.6zM70.5 87.2a1.4 1.2 93 1 0 -0.1 2.8a1.4 1.2 93 1 0 0.1 -2.8zM71.3 79.4a1.6 1 69 1 0 1.2 3a1.6 1 69 1 0 -1.2 -3zM48.1 101.3a1.8 0.9 69 1 0 1.3 3.3a1.8 0.9 69 1 0 -1.3 -3.3zM55.9 81.8a1.3 0.9 65 1 0 1.1 2.4a1.3 0.9 65 1 0 -1.1 -2.4zM59.4 67.3a1.8 0.9 61 1 0 1.7 3.1a1.8 0.9 61 1 0 -1.7 -3.1zM99 122.7a1.6 0.8 78 1 0 0.7 3.2a1.6 0.8 78 1 0 -0.7 -3.2zM65.9 107.6a1.5 0.9 96 1 0 -0.3 2.9a1.5 0.9 96 1 0 0.3 -2.9zM24.7 108.6a1.6 1.1 69 1 0 1.1 3a1.6 1.1 69 1 0 -1.1 -3zM69 56.9a1.1 1.2 85 1 0 0.2 2.3a1.1 1.2 85 1 0 -0.2 -2.3zM70.7 129.5a1.1 1.1 60 1 0 1.1 1.9a1.1 1.1 60 1 0 -1.1 -1.9zM84.1 83.9a1.3 0.9 83 1 0 0.3 2.6a1.3 0.9 83 1 0 -0.3 -2.6zM99.7 109.6a1.3 1.1 61 1 0 1.3 2.3a1.3 1.1 61 1 0 -1.3 -2.3zM85.8 126.5a1.6 1.1 95 1 0 -0.3 3.2a1.6 1.1 95 1 0 0.3 -3.2zM69.9 61.7a1.3 1.1 76 1 0 0.6 2.5a1.3 1.1 76 1 0 -0.6 -2.5zM87.1 113.1a1.8 1.2 93 1 0 -0.2 3.6a1.8 1.2 93 1 0 0.2 -3.6zM96.8 80.9a1.2 0.9 96 1 0 -0.3 2.5a1.2 0.9 96 1 0 0.3 -2.5zM71.4 45.7a1.3 0.8 77 1 0 0.6 2.6a1.3 0.8 77 1 0 -0.6 -2.6zM62.4 44.2a1.2 1.1 94 1 0 -0.2 2.3a1.2 1.1 94 1 0 0.2 -2.3zM93.8 94.8a1.2 1 97 1 0 -0.3 2.3a1.2 1 97 1 0 0.3 -2.3zM71.3 129.6a1.3 1 83 1 0 0.3 2.5a1.3 1 83 1 0 -0.3 -2.5zM88.1 37a1.5 0.8 83 1 0 0.4 2.9a1.5 0.8 83 1 0 -0.4 -2.9zM69.8 56.4a1.2 1 99 1 0 -0.4 2.4a1.2 1 99 1 0 0.4 -2.4zM103.8 72.4a1.3 1.1 63 1 0 1.1 2.2a1.3 1.1 63 1 0 -1.1 -2.2zM42.7 78.3a1.2 0.9 97 1 0 -0.3 2.4a1.2 0.9 97 1 0 0.3 -2.4zM62.1 55.9a1.3 0.9 92 1 0 -0.1 2.5a1.3 0.9 92 1 0 0.1 -2.5zM81.8 38.7a1.5 1.1 92 1 0 -0.1 3.1a1.5 1.1 92 1 0 0.1 -3.1zM50.3 102.5a1.8 0.8 85 1 0 0.3 3.5a1.8 0.8 85 1 0 -0.3 -3.5zM35 60.2a1.4 1 99 1 0 -0.4 2.7a1.4 1 99 1 0 0.4 -2.7zM46.2 122a1.7 0.8 65 1 0 1.4 3.1a1.7 0.8 65 1 0 -1.4 -3.1zM101.1 129.7a1.3 1.2 80 1 0 0.4 2.5a1.3 1.2 80 1 0 -0.4 -2.5zM99.8 117.6a1.2 1.2 74 1 0 0.7 2.3a1.2 1.2 74 1 0 -0.7 -2.3zM44.3 122a1.7 1.1 84 1 0 0.4 3.4a1.7 1.1 84 1 0 -0.4 -3.4z" fill="#6d6fb6" opacity="0.8"/>
<path d="M72.5 87.8a1.4 1.2 92 1 0 -0.1 2.9a1.4 1.2 92 1 0 0.1 -2.9zM59.3 126.4a1.2 1.1 75 1 0 0.6 2.3a1.2 1.1 75 1 0 -0.6 -2.3zM85.1 117.2a1.2 0.8 74 1 0 0.7 2.3a1.2 0.8 74 1 0 -0.7 -2.3zM103.1 123.6a1.8 0.8 90 1 0 0 3.5a1.8 0.8 90 1 0 -0 -3.5zM94.1 80.9a1.4 1.2 69 1 0 1 2.5a1.4 1.2 69 1 0 -1 -2.5zM35.1 85.6a1.4 1.1 64 1 0 1.2 2.4a1.4 1.1 64 1 0 -1.2 -2.4zM45.2 112.7a1.6 0.9 90 1 0 0 3.2a1.6 0.9 90 1 0 -0 -3.2zM100.5 51.7a1.3 0.9 93 1 0 -0.1 2.7a1.3 0.9 93 1 0 0.1 -2.7zM33 63.7a1.8 1.2 76 1 0 0.8 3.4a1.8 1.2 76 1 0 -0.8 -3.4zM97.6 121.2a1.8 1 93 1 0 -0.2 3.6a1.8 1 93 1 0 0.2 -3.6zM70.5 87.7a1.5 1.2 70 1 0 1 2.8a1.5 1.2 70 1 0 -1 -2.8zM35.5 35.2a1.5 0.9 62 1 0 1.4 2.6a1.5 0.9 62 1 0 -1.4 -2.6zM50.4 81.1a1.7 0.9 90 1 0 0 3.5a1.7 0.9 90 1 0 -0 -3.5zM57.3 52.6a1.7 1.1 68 1 0 1.3 3.2a1.7 1.1 68 1 0 -1.3 -3.2zM101.8 46.5a1.3 1 72 1 0 0.8 2.4a1.3 1 72 1 0 -0.8 -2.4zM46 94.5a1.5 1.1 94 1 0 -0.2 2.9a1.5 1.1 94 1 0 0.2 -2.9zM112.9 74.9a1.2 1.1 85 1 0 0.2 2.4a1.2 1.1 85 1 0 -0.2 -2.4zM39.3 51.9a1.7 0.9 78 1 0 0.7 3.3a1.7 0.9 78 1 0 -0.7 -3.3zM91.7 38.5a1.4 0.9 83 1 0 0.3 2.8a1.4 0.9 83 1 0 -0.3 -2.8zM43 41.9a1.4 1 73 1 0 0.8 2.8a1.4 1 73 1 0 -0.8 -2.8zM36.3 72.5a1.2 1 65 1 0 1 2.2a1.2 1 65 1 0 -1 -2.2zM68.4 84.3a1.2 1.2 88 1 0 0.1 2.3a1.2 1.2 88 1 0 -0.1 -2.3zM104 71.6a1.6 1.2 63 1 0 1.5 2.9a1.6 1.2 63 1 0 -1.5 -2.9zM102.6 56.9a1.7 0.8 92 1 0 -0.1 3.4a1.7 0.8 92 1 0 0.1 -3.4zM98.5 52.8a1.3 0.9 75 1 0 0.7 2.4a1.3 0.9 75 1 0 -0.7 -2.4zM57.2 120.9a1.6 1.1 91 1 0 -0.1 3.2a1.6 1.1 91 1 0 0.1 -3.2zM60.2 126.5a1.4 1.1 94 1 0 -0.2 2.9a1.4 1.1 94 1 0 0.2 -2.9zM64.6 85a1.3 1 63 1 0 1.2 2.3a1.3 1 63 1 0 -1.2 -2.3zM117.4 120.7a1.3 1 86 1 0 0.2 2.5a1.3 1 86 1 0 -0.2 -2.5zM32.8 60.5a1.2 1.1 90 1 0 0 2.3a1.2 1.1 90 1 0 -0 -2.3zM94.8 98.7a1.6 1.1 67 1 0 1.3 3a1.6 1.1 67 1 0 -1.3 -3zM99.6 80.1a1.2 0.9 60 1 0 1.2 2a1.2 0.9 60 1 0 -1.2 -2zM46.2 93.2a1.4 0.9 94 1 0 -0.2 2.7a1.4 0.9 94 1 0 0.2 -2.7zM101 66.4a1.2 1.2 69 1 0 0.8 2.2a1.2 1.2 69 1 0 -0.8 -2.2zM90.3 103.8a1.3 1.1 75 1 0 0.7 2.6a1.3 1.1 75 1 0 -0.7 -2.6zM112 92.5a1.6 0.8 79 1 0 0.6 3.2a1.6 0.8 79 1 0 -0.6 -3.2zM48.6 92.7a1.5 1 72 1 0 0.9 2.9a1.5 1 72 1 0 -0.9 -2.9zM26.9 97.5a1.2 1.1 90 1 0 0 2.4a1.2 1.1 90 1 0 -0 -2.4zM101.4 57.3a1.5 1 64 1 0 1.3 2.7a1.5 1 64 1 0 -1.3 -2.7zM40.4 73.8a1.5 0.8 67 1 0 1.1 2.7a1.5 0.8 67 1 0 -1.1 -2.7zM117.1 127.3a1.2 1 75 1 0 0.6 2.3a1.2 1 75 1 0 -0.6 -2.3zM56.6 72.4a1.1 0.9 83 1 0 0.3 2.3a1.1 0.9 83 1 0 -0.3 -2.3zM98.1 88.1a1.3 1 63 1 0 1.1 2.3a1.3 1 63 1 0 -1.1 -2.3zM86.1 35.2a1.1 1.2 64 1 0 1 2.1a1.1 1.2 64 1 0 -1 -2.1zM35.6 75.9a1.5 1.1 76 1 0 0.7 2.9a1.5 1.1 76 1 0 -0.7 -2.9zM85.4 82a1.5 0.8 63 1 0 1.4 2.7a1.5 0.8 63 1 0 -1.4 -2.7zM35.8 51.5a1.5 1.1 75 1 0 0.8 2.9a1.5 1.1 75 1 0 -0.8 -2.9zM39.9 64.2a1.3 0.8 99 1 0 -0.4 2.6a1.3 0.8 99 1 0 0.4 -2.6zM112.7 109.4a1.4 0.8 83 1 0 0.3 2.8a1.4 0.8 83 1 0 -0.3 -2.8zM65.5 63.3a1.2 1 62 1 0 1.1 2a1.2 1 62 1 0 -1.1 -2zM64.3 109a1.3 0.9 71 1 0 0.9 2.5a1.3 0.9 71 1 0 -0.9 -2.5zM71.3 128.7a1.7 1.1 73 1 0 1 3.3a1.7 1.1 73 1 0 -1 -3.3zM64.7 41.6a1.4 1.1 77 1 0 0.6 2.6a1.4 1.1 77 1 0 -0.6 -2.6zM62.3 49.3a1.4 1.2 75 1 0 0.7 2.6a1.4 1.2 75 1 0 -0.7 -2.6zM37.1 54.5a1.4 1 68 1 0 1.1 2.7a1.4 1 68 1 0 -1.1 -2.7zM63 40.8a1.1 1 91 1 0 -0 2.3a1.1 1 91 1 0 0 -2.3zM26.8 102.2a1.2 0.9 63 1 0 1 2.1a1.2 0.9 63 1 0 -1 -2.1zM61 118.6a1.6 0.9 85 1 0 0.3 3.2a1.6 0.9 85 1 0 -0.3 -3.2zM40.8 52.9a1.3 0.8 91 1 0 -0 2.7a1.3 0.8 91 1 0 0 -2.7zM43.1 115.9a1.5 0.9 68 1 0 1.1 2.8a1.5 0.9 68 1 0 -1.1 -2.8zM116.7 80.3a1.7 1 85 1 0 0.3 3.3a1.7 1 85 1 0 -0.3 -3.3zM112.8 103.8a1.1 0.8 70 1 0 0.8 2.1a1.1 0.8 70 1 0 -0.8 -2.1zM46.1 125.7a1.5 0.8 75 1 0 0.8 2.8a1.5 0.8 75 1 0 -0.8 -2.8zM113.1 73.5a1.5 1.2 60 1 0 1.5 2.7a1.5 1.2 60 1 0 -1.5 -2.7zM45.6 94.2a1.6 1.2 72 1 0 1 3.1a1.6 1.2 72 1 0 -1 -3.1zM95.3 75.6a1.3 0.8 80 1 0 0.5 2.6a1.3 0.8 80 1 0 -0.5 -2.6zM85.9 38.7a1.3 0.9 82 1 0 0.4 2.5a1.3 0.9 82 1 0 -0.4 -2.5zM37.2 43.6a1.4 1 91 1 0 -0 2.8a1.4 1 91 1 0 0 -2.8zM35.8 46.1a1.8 1.2 65 1 0 1.5 3.2a1.8 1.2 65 1 0 -1.5 -3.2zM85.7 97.2a1.6 0.9 60 1 0 1.6 2.7a1.6 0.9 60 1 0 -1.6 -2.7zM63.4 103.5a1.3 1.1 61 1 0 1.3 2.3a1.3 1.1 61 1 0 -1.3 -2.3zM81.1 45.3a1.3 1.1 92 1 0 -0.1 2.6a1.3 1.1 92 1 0 0.1 -2.6zM71.6 87.5a1.7 1 65 1 0 1.4 3.1a1.7 1 65 1 0 -1.4 -3.1zM111.6 104.6a1.2 1.1 93 1 0 -0.1 2.4a1.2 1.1 93 1 0 0.1 -2.4zM36.4 64.4a1.2 1 84 1 0 0.3 2.4a1.2 1 84 1 0 -0.3 -2.4zM95.9 102.4a1.4 0.8 74 1 0 0.7 2.6a1.4 0.8 74 1 0 -0.7 -2.6zM65.6 42.8a1.3 0.8 61 1 0 1.3 2.3a1.3 0.8 61 1 0 -1.3 -2.3zM42.4 42.7a1.2 1.1 88 1 0 0.1 2.4a1.2 1.1 88 1 0 -0.1 -2.4zM85.4 114.5a1.5 0.9 90 1 0 0 3a1.5 0.9 90 1 0 -0 -3zM100.6 75.6a1.5 1.1 86 1 0 0.2 3a1.5 1.1 86 1 0 -0.2 -3zM72.1 80.8a1.6 0.9 65 1 0 1.3 3a1.6 0.9 65 1 0 -1.3 -3zM120 122.4a1.4 1.1 78 1 0 0.6 2.7a1.4 1.1 78 1 0 -0.6 -2.7zM53.9 60.8a1.7 1 70 1 0 1.2 3.2a1.7 1 70 1 0 -1.2 -3.2zM115.6 92.3a1.6 1 94 1 0 -0.2 3.2a1.6 1 94 1 0 0.2 -3.2zM39.1 73.5a1.7 0.8 93 1 0 -0.2 3.5a1.7 0.8 93 1 0 0.2 -3.5zM32.1 84.6a1.5 0.8 82 1 0 0.4 2.9a1.5 0.8 82 1 0 -0.4 -2.9zM116 123.4a1.4 0.8 97 1 0 -0.4 2.9a1.4 0.8 97 1 0 0.4 -2.9zM125.1 42.6a1.2 0.9 79 1 0 0.4 2.3a1.2 0.9 79 1 0 -0.4 -2.3zM43.3 36.3a1.1 0.9 76 1 0 0.5 2.2a1.1 0.9 76 1 0 -0.5 -2.2zM75.1 45a1.7 1.1 84 1 0 0.3 3.3a1.7 1.1 84 1 0 -0.3 -3.3zM112.8 110.6a1.7 1.2 75 1 0 0.9 3.4a1.7 1.2 75 1 0 -0.9 -3.4zM44.2 100.2a1.8 1.1 99 1 0 -0.6 3.5a1.8 1.1 99 1 0 0.6 -3.5zM35.2 55.6a1.1 1.2 65 1 0 0.9 2.1a1.1 1.2 65 1 0 -0.9 -2.1zM80.9 79.7a1.3 1.1 72 1 0 0.8 2.4a1.3 1.1 72 1 0 -0.8 -2.4zM66.8 67a1.3 1.2 100 1 0 -0.5 2.6a1.3 1.2 100 1 0 0.5 -2.6zM43.2 128.6a1.2 1.1 77 1 0 0.6 2.4a1.2 1.1 77 1 0 -0.6 -2.4zM85.8 123.4a1.7 0.9 62 1 0 1.6 2.9a1.7 0.9 62 1 0 -1.6 -2.9zM102.6 117.6a1.1 0.8 65 1 0 0.9 2a1.1 0.8 65 1 0 -0.9 -2zM72.6 79.6a1.4 1.2 84 1 0 0.3 2.8a1.4 1.2 84 1 0 -0.3 -2.8zM119.5 127.5a1.4 1.1 64 1 0 1.2 2.5a1.4 1.1 64 1 0 -1.2 -2.5zM88.2 91.5a1.4 1.2 73 1 0 0.8 2.7a1.4 1.2 73 1 0 -0.8 -2.7zM76.6 39.5a1.6 0.9 64 1 0 1.4 2.8a1.6 0.9 64 1 0 -1.4 -2.8zM82 128.2a1.6 0.8 80 1 0 0.6 3.2a1.6 0.8 80 1 0 -0.6 -3.2zM39.5 92.1a1.5 1 88 1 0 0.1 2.9a1.5 1 88 1 0 -0.1 -2.9zM112.8 93.1a1.1 0.9 65 1 0 0.9 2a1.1 0.9 65 1 0 -0.9 -2zM98.7 37a1.7 1.2 78 1 0 0.7 3.2a1.7 1.2 78 1 0 -0.7 -3.2zM34.4 38.4a1.8 0.9 98 1 0 -0.5 3.5a1.8 0.9 98 1 0 0.5 -3.5zM114.7 79.3a1.3 1 99 1 0 -0.4 2.6a1.3 1 99 1 0 0.4 -2.6zM71.3 102.5a1.7 0.9 83 1 0 0.4 3.3a1.7 0.9 83 1 0 -0.4 -3.3zM100.4 105.5a1.8 1 87 1 0 0.2 3.6a1.8 1 87 1 0 -0.2 -3.6zM119.8 105.5a1.2 0.9 60 1 0 1.2 2a1.2 0.9 60 1 0 -1.2 -2zM76.6 126.8a1.3 0.9 72 1 0 0.8 2.5a1.3 0.9 72 1 0 -0.8 -2.5zM32.3 58.7a1.4 1.1 67 1 0 1.1 2.5a1.4 1.1 67 1 0 -1.1 -2.5zM89.2 53.8a1.6 0.8 96 1 0 -0.3 3.1a1.6 0.8 96 1 0 0.3 -3.1zM73.9 114.6a1.6 1.1 83 1 0 0.4 3.2a1.6 1.1 83 1 0 -0.4 -3.2zM35.6 53.9a1.2 1.1 70 1 0 0.8 2.3a1.2 1.1 70 1 0 -0.8 -2.3zM69 109.7a1.3 1.2 78 1 0 0.5 2.5a1.3 1.2 78 1 0 -0.5 -2.5zM37.6 71.2a1.4 1.1 65 1 0 1.1 2.5a1.4 1.1 65 1 0 -1.1 -2.5zM65.6 115.9a1.2 1.1 67 1 0 0.9 2.2a1.2 1.1 67 1 0 -0.9 -2.2zM68.6 99.4a1.6 1 96 1 0 -0.3 3.1a1.6 1 96 1 0 0.3 -3.1zM100.6 56.5a1.6 1 90 1 0 0 3.2a1.6 1 90 1 0 -0 -3.2zM69 64.9a1.3 0.9 89 1 0 0 2.6a1.3 0.9 89 1 0 -0 -2.6zM89.5 50.1a1.4 0.8 71 1 0 0.9 2.6a1.4 0.8 71 1 0 -0.9 -2.6zM34.1 37.8a1.7 1 76 1 0 0.8 3.3a1.7 1 76 1 0 -0.8 -3.3zM86.2 115.8a1.3 0.8 65 1 0 1.1 2.4a1.3 0.8 65 1 0 -1.1 -2.4zM71.1 62.4a1.7 0.9 73 1 0 1 3.3a1.7 0.9 73 1 0 -1 -3.3zM74.9 47a1.7 0.8 64 1 0 1.5 3.1a1.7 0.8 64 1 0 -1.5 -3.1zM41.9 105.3a1.3 1.1 86 1 0 0.2 2.7a1.3 1.1 86 1 0 -0.2 -2.7zM87.4 94.7a1.8 1.1 93 1 0 -0.2 3.6a1.8 1.1 93 1 0 0.2 -3.6zM44.7 45.8a1.7 0.8 98 1 0 -0.5 3.3a1.7 0.8 98 1 0 0.5 -3.3zM33.6 87.8a1.2 0.8 86 1 0 0.2 2.3a1.2 0.8 86 1 0 -0.2 -2.3zM38.1 64.2a1.5 0.8 86 1 0 0.2 2.9a1.5 0.8 86 1 0 -0.2 -2.9zM96.4 44.9a1.2 0.8 94 1 0 -0.2 2.5a1.2 0.8 94 1 0 0.2 -2.5zM86.1 34.6a1.7 1.2 84 1 0 0.4 3.4a1.7 1.2 84 1 0 -0.4 -3.4zM98.7 109.5a1.3 0.8 94 1 0 -0.2 2.6a1.3 0.8 94 1 0 0.2 -2.6zM113.8 83.3a1.7 1.2 99 1 0 -0.5 3.4a1.7 1.2 99 1 0 0.5 -3.4zM98.1 108.4a1.4 1.2 89 1 0 0 2.8a1.4 1.2 89 1 0 -0 -2.8zM99.5 53.4a1.4 1.2 82 1 0 0.4 2.8a1.4 1.2 82 1 0 -0.4 -2.8zM48.1 125.5a1.7 1.2 86 1 0 0.2 3.5a1.7 1.2 86 1 0 -0.2 -3.5zM66.2 83.5a1.1 1.1 97 1 0 -0.3 2.2a1.1 1.1 97 1 0 0.3 -2.2zM62.9 34.9a1.5 1.2 91 1 0 -0.1 3.1a1.5 1.2 91 1 0 0.1 -3.1zM117 89.2a1.6 1.1 65 1 0 1.4 2.9a1.6 1.1 65 1 0 -1.4 -2.9zM116.2 105.3a1.2 0.8 65 1 0 1 2.2a1.2 0.8 65 1 0 -1 -2.2zM84.5 94.1a1.2 1.1 80 1 0 0.4 2.4a1.2 1.1 80 1 0 -0.4 -2.4zM118.4 122a1.7 0.9 65 1 0 1.4 3a1.7 0.9 65 1 0 -1.4 -3zM100 84.6a1.7 0.8 63 1 0 1.5 2.9a1.7 0.8 63 1 0 -1.5 -2.9zM27 101a1.5 0.8 89 1 0 0.1 2.9a1.5 0.8 89 1 0 -0.1 -2.9zM39.6 37.3a1.4 1 83 1 0 0.3 2.8a1.4 1 83 1 0 -0.3 -2.8zM112.7 85.5a1.1 0.8 98 1 0 -0.3 2.2a1.1 0.8 98 1 0 0.3 -2.2zM55.3 82.7a1.2 1 73 1 0 0.7 2.2a1.2 1 73 1 0 -0.7 -2.2zM82.6 43.3a1.4 1.1 63 1 0 1.3 2.5a1.4 1.1 63 1 0 -1.3 -2.5zM117.8 122.4a1.5 0.9 64 1 0 1.3 2.8a1.5 0.9 64 1 0 -1.3 -2.8zM62.8 128.9a1.4 1.1 73 1 0 0.8 2.7a1.4 1.1 73 1 0 -0.8 -2.7zM32.5 70.4a1.7 1 67 1 0 1.3 3.1a1.7 1 67 1 0 -1.3 -3.1zM35.6 44.9a1.2 0.8 88 1 0 0.1 2.3a1.2 0.8 88 1 0 -0.1 -2.3zM97 112.5a1.5 1.2 96 1 0 -0.3 3a1.5 1.2 96 1 0 0.3 -3zM81.9 37.1a1.2 0.9 68 1 0 0.9 2.2a1.2 0.9 68 1 0 -0.9 -2.2zM66.4 96.2a1.3 0.9 71 1 0 0.9 2.5a1.3 0.9 71 1 0 -0.9 -2.5zM103 111.6a1.5 0.9 70 1 0 1 2.8a1.5 0.9 70 1 0 -1 -2.8zM52.7 68.9a1.7 1.2 71 1 0 1.1 3.2a1.7 1.2 71 1 0 -1.1 -3.2zM55.2 119.6a1.1 1.2 70 1 0 0.8 2.1a1.1 1.2 70 1 0 -0.8 -2.1zM55.1 78.9a1.3 1.1 65 1 0 1 2.3a1.3 1.1 65 1 0 -1 -2.3zM44.2 128.5a1.3 1.1 92 1 0 -0.1 2.7a1.3 1.1 92 1 0 0.1 -2.7zM69.1 91.6a1.5 0.9 90 1 0 0 3.1a1.5 0.9 90 1 0 -0 -3.1zM50.9 102.2a1.6 1 76 1 0 0.8 3.1a1.6 1 76 1 0 -0.8 -3.1zM117.2 76.2a1.5 1 93 1 0 -0.2 3a1.5 1 93 1 0 0.2 -3zM76.4 115.1a1.2 0.8 60 1 0 1.2 2.1a1.2 0.8 60 1 0 -1.2 -2.1zM76 111.1a1.5 0.9 65 1 0 1.3 2.7a1.5 0.9 65 1 0 -1.3 -2.7zM115.8 87.1a1.6 0.9 72 1 0 1 3a1.6 0.9 72 1 0 -1 -3zM66.7 108.1a1.4 0.9 64 1 0 1.2 2.5a1.4 0.9 64 1 0 -1.2 -2.5zM102.5 58.8a1.3 1 98 1 0 -0.4 2.5a1.3 1 98 1 0 0.4 -2.5zM70.2 99.3a1.6 1 95 1 0 -0.3 3.3a1.6 1 95 1 0 0.3 -3.3zM114.3 84.7a1.8 1.2 95 1 0 -0.3 3.6a1.8 1.2 95 1 0 0.3 -3.6zM56.8 77.2a1.5 1 61 1 0 1.5 2.7a1.5 1 61 1 0 -1.5 -2.7zM83.3 84.3a1.1 0.9 77 1 0 0.5 2.2a1.1 0.9 77 1 0 -0.5 -2.2zM74.2 124.8a1.7 0.8 64 1 0 1.5 3.1a1.7 0.8 64 1 0 -1.5 -3.1zM55.4 123.6a1.7 1.1 71 1 0 1.1 3.2a1.7 1.1 71 1 0 -1.1 -3.2zM102.5 97.8a1.4 1.2 63 1 0 1.3 2.5a1.4 1.2 63 1 0 -1.3 -2.5zM79.6 105.5a1.7 0.8 83 1 0 0.4 3.4a1.7 0.8 83 1 0 -0.4 -3.4zM77 129.2a1.3 0.9 93 1 0 -0.1 2.5a1.3 0.9 93 1 0 0.1 -2.5zM69 105.7a1.4 0.8 100 1 0 -0.5 2.7a1.4 0.8 100 1 0 0.5 -2.7zM72.5 101.6a1.2 1.2 83 1 0 0.3 2.4a1.2 1.2 83 1 0 -0.3 -2.4zM99.3 53.3a1.4 1 65 1 0 1.2 2.5a1.4 1 65 1 0 -1.2 -2.5zM79.9 115.8a1.3 0.9 63 1 0 1.2 2.4a1.3 0.9 63 1 0 -1.2 -2.4zM91.1 108.7a1.6 1.2 65 1 0 1.4 2.9a1.6 1.2 65 1 0 -1.4 -2.9zM56 52.3a1.2 0.9 61 1 0 1.1 2.1a1.2 0.9 61 1 0 -1.1 -2.1zM81.1 98.8a1.4 0.8 92 1 0 -0.1 2.8a1.4 0.8 92 1 0 0.1 -2.8zM44 126.1a1.5 1.1 69 1 0 1.1 2.7a1.5 1.1 69 1 0 -1.1 -2.7zM81.8 104.3a1.4 1.1 70 1 0 1 2.7a1.4 1.1 70 1 0 -1 -2.7zM98.5 71.5a1.3 1.1 63 1 0 1.2 2.3a1.3 1.1 63 1 0 -1.2 -2.3zM53.1 87.2a1.7 1.1 92 1 0 -0.1 3.4a1.7 1.1 92 1 0 0.1 -3.4zM76.1 117.2a1.7 0.9 63 1 0 1.6 3.1a1.7 0.9 63 1 0 -1.6 -3.1zM103.4 105.3a1.1 0.9 65 1 0 1 2.1a1.1 0.9 65 1 0 -1 -2.1zM96.8 40.2a1.3 0.8 62 1 0 1.2 2.3a1.3 0.8 62 1 0 -1.2 -2.3zM102.7 45.2a1.4 0.8 100 1 0 -0.5 2.7a1.4 0.8 100 1 0 0.5 -2.7zM33 104.6a1.7 1.1 88 1 0 0.1 3.4a1.7 1.1 88 1 0 -0.1 -3.4zM73.9 35.4a1.2 1 81 1 0 0.4 2.4a1.2 1 81 1 0 -0.4 -2.4zM70.6 55.2a1.4 0.9 78 1 0 0.6 2.6a1.4 0.9 78 1 0 -0.6 -2.6zM70.8 54.8a1.5 1.1 94 1 0 -0.2 3.1a1.5 1.1 94 1 0 0.2 -3.1zM37.7 87.5a1.3 1 90 1 0 0 2.6a1.3 1 90 1 0 -0 -2.6zM63.9 127.8a1.5 1.2 84 1 0 0.3 2.9a1.5 1.2 84 1 0 -0.3 -2.9zM52 94.4a1.2 0.8 65 1 0 1 2.2a1.2 0.8 65 1 0 -1 -2.2zM71.4 51a1.5 0.9 65 1 0 1.3 2.8a1.5 0.9 65 1 0 -1.3 -2.8zM50.3 81.9a1.5 1.2 67 1 0 1.2 2.8a1.5 1.2 67 1 0 -1.2 -2.8zM115.8 111.7a1.4 1.2 83 1 0 0.3 2.8a1.4 1.2 83 1 0 -0.3 -2.8zM55.9 52.8a1.3 1 83 1 0 0.3 2.6a1.3 1 83 1 0 -0.3 -2.6zM129.2 38.1a1.5 0.9 74 1 0 0.8 2.9a1.5 0.9 74 1 0 -0.8 -2.9zM39.2 42.7a1.7 1.1 67 1 0 1.3 3.1a1.7 1.1 67 1 0 -1.3 -3.1zM32.9 97.1a1.6 0.8 94 1 0 -0.2 3.2a1.6 0.8 94 1 0 0.2 -3.2zM102 67a1.8 1 63 1 0 1.6 3.1a1.8 1 63 1 0 -1.6 -3.1zM55.4 85.9a1.2 1 80 1 0 0.4 2.3a1.2 1 80 1 0 -0.4 -2.3zM97.4 118.2a1.2 0.8 81 1 0 0.4 2.4a1.2 0.8 81 1 0 -0.4 -2.4zM42.5 41.3a1.8 1.1 100 1 0 -0.6 3.5a1.8 1.1 100 1 0 0.6 -3.5zM52.1 83.9a1.6 0.8 67 1 0 1.3 3a1.6 0.8 67 1 0 -1.3 -3zM67.1 42.1a1.1 1 88 1 0 0.1 2.3a1.1 1 88 1 0 -0.1 -2.3zM82.1 96.8a1.3 1.2 82 1 0 0.4 2.6a1.3 1.2 82 1 0 -0.4 -2.6zM46.7 115.7a1.6 1.1 69 1 0 1.2 3a1.6 1.1 69 1 0 -1.2 -3zM33.5 46.4a1.6 0.9 64 1 0 1.4 2.9a1.6 0.9 64 1 0 -1.4 -2.9zM66 115.7a1.3 0.8 80 1 0 0.5 2.6a1.3 0.8 80 1 0 -0.5 -2.6zM116.6 100a1.7 1 76 1 0 0.8 3.2a1.7 1 76 1 0 -0.8 -3.2zM36.6 75.9a1.6 0.9 80 1 0 0.6 3.2a1.6 0.9 80 1 0 -0.6 -3.2zM33.9 82.1a1.1 0.8 91 1 0 -0 2.3a1.1 0.8 91 1 0 0 -2.3zM104.4 128.5a1.7 1.2 80 1 0 0.6 3.3a1.7 1.2 80 1 0 -0.6 -3.3zM32.7 102a1.7 1 77 1 0 0.8 3.3a1.7 1 77 1 0 -0.8 -3.3zM41.5 70.7a1.6 1.1 84 1 0 0.3 3.1a1.6 1.1 84 1 0 -0.3 -3.1zM33.5 65.8a1.5 0.9 83 1 0 0.4 3.1a1.5 0.9 83 1 0 -0.4 -3.1zM36 82.6a1.6 1.2 72 1 0 1 3.1a1.6 1.2 72 1 0 -1 -3.1zM102.7 123.2a1.8 1.2 98 1 0 -0.5 3.5a1.8 1.2 98 1 0 0.5 -3.5zM116.7 101.7a1.8 1 74 1 0 1 3.4a1.8 1 74 1 0 -1 -3.4zM115.7 87a1.4 1.1 64 1 0 1.2 2.5a1.4 1.1 64 1 0 -1.2 -2.5zM114.9 106.7a1.2 0.8 83 1 0 0.3 2.4a1.2 0.8 83 1 0 -0.3 -2.4zM117.9 126.3a1.4 1.1 84 1 0 0.3 2.7a1.4 1.1 84 1 0 -0.3 -2.7zM115.6 114.6a1.2 1.2 94 1 0 -0.2 2.5a1.2 1.2 94 1 0 0.2 -2.5zM92.5 118.8a1.7 1.2 92 1 0 -0.1 3.5a1.7 1.2 92 1 0 0.1 -3.5zM93 97.5a1.2 0.9 97 1 0 -0.3 2.4a1.2 0.9 97 1 0 0.3 -2.4zM72.4 102a1.1 1 60 1 0 1.1 1.9a1.1 1 60 1 0 -1.1 -1.9zM82.2 127a1.4 0.8 80 1 0 0.5 2.8a1.4 0.8 80 1 0 -0.5 -2.8zM31.9 85.4a1.7 1.2 85 1 0 0.3 3.4a1.7 1.2 85 1 0 -0.3 -3.4zM28 104.7a1.5 1.1 68 1 0 1.1 2.7a1.5 1.1 68 1 0 -1.1 -2.7zM81.2 85.5a1.5 1 84 1 0 0.3 3a1.5 1 84 1 0 -0.3 -3zM77.1 116.2a1.4 1.1 93 1 0 -0.1 2.8a1.4 1.1 93 1 0 0.1 -2.8zM97 89.3a1.5 0.9 60 1 0 1.5 2.6a1.5 0.9 60 1 0 -1.5 -2.6zM82.9 82.6a1.5 1 91 1 0 -0.1 3a1.5 1 91 1 0 0.1 -3zM101.7 105.4a1.3 1.2 92 1 0 -0.1 2.7a1.3 1.2 92 1 0 0.1 -2.7zM118.3 86.6a1.4 1 63 1 0 1.3 2.5a1.4 1 63 1 0 -1.3 -2.5zM74.9 85a1.7 0.9 71 1 0 1.1 3.2a1.7 0.9 71 1 0 -1.1 -3.2zM83 43a1.1 0.9 98 1 0 -0.3 2.3a1.1 0.9 98 1 0 0.3 -2.3zM67.8 73.1a1.5 1.2 93 1 0 -0.2 3a1.5 1.2 93 1 0 0.2 -3zM35.8 87.7a1.3 1 68 1 0 1 2.4a1.3 1 68 1 0 -1 -2.4zM116.8 112.3a1.3 1 62 1 0 1.2 2.3a1.3 1 62 1 0 -1.2 -2.3zM114.2 103.2a1.4 1.1 62 1 0 1.3 2.5a1.4 1.1 62 1 0 -1.3 -2.5zM37.6 75.4a1.5 1.1 73 1 0 0.9 2.8a1.5 1.1 73 1 0 -0.9 -2.8zM40 74.3a1.8 1.2 67 1 0 1.4 3.3a1.8 1.2 67 1 0 -1.4 -3.3zM39.7 77.1a1.2 0.8 61 1 0 1.2 2.1a1.2 0.8 61 1 0 -1.2 -2.1zM92.3 128a1.2 1 95 1 0 -0.2 2.4a1.2 1 95 1 0 0.2 -2.4zM58.4 54.5a1.1 1.1 94 1 0 -0.2 2.2a1.1 1.1 94 1 0 0.2 -2.2zM62.9 49.8a1.3 1.1 92 1 0 -0.1 2.6a1.3 1.1 92 1 0 0.1 -2.6zM99.1 127a1.6 1 94 1 0 -0.2 3.1a1.6 1 94 1 0 0.2 -3.1zM82.5 114.9a1.2 1.2 72 1 0 0.8 2.3a1.2 1.2 72 1 0 -0.8 -2.3zM42.4 105.3a1.5 1.2 70 1 0 1.1 2.9a1.5 1.2 70 1 0 -1.1 -2.9zM92.2 101.8a1.8 1.2 95 1 0 -0.3 3.6a1.8 1.2 95 1 0 0.3 -3.6zM47.3 94.9a1.2 1.1 77 1 0 0.5 2.2a1.2 1.1 77 1 0 -0.5 -2.2zM34.4 44a1.2 1.2 88 1 0 0.1 2.3a1.2 1.2 88 1 0 -0.1 -2.3zM45.9 117.3a1.5 0.8 61 1 0 1.4 2.6a1.5 0.8 61 1 0 -1.4 -2.6zM32.9 84.4a1.3 0.9 64 1 0 1.1 2.3a1.3 0.9 64 1 0 -1.1 -2.3zM46.3 109a1.2 0.8 81 1 0 0.4 2.5a1.2 0.8 81 1 0 -0.4 -2.5zM88.3 87.1a1.6 1.1 63 1 0 1.4 2.8a1.6 1.1 63 1 0 -1.4 -2.8zM98.9 65.4a1.4 1.2 68 1 0 1.1 2.6a1.4 1.2 68 1 0 -1.1 -2.6zM40.9 69.2a1.3 0.9 72 1 0 0.8 2.5a1.3 0.9 72 1 0 -0.8 -2.5zM70.4 91a1.2 1.2 63 1 0 1.1 2.2a1.2 1.2 63 1 0 -1.1 -2.2zM103.1 43.2a1.2 0.8 87 1 0 0.1 2.4a1.2 0.8 87 1 0 -0.1 -2.4zM102.1 111.7a1.7 0.9 92 1 0 -0.1 3.5a1.7 0.9 92 1 0 0.1 -3.5zM57.8 60.5a1.3 1.2 79 1 0 0.5 2.6a1.3 1.2 79 1 0 -0.5 -2.6zM115.9 123.1a1.6 0.9 60 1 0 1.6 2.7a1.6 0.9 60 1 0 -1.6 -2.7zM81.4 55.7a1.3 0.8 79 1 0 0.5 2.5a1.3 0.8 79 1 0 -0.5 -2.5zM74.3 124.3a1.3 0.9 79 1 0 0.5 2.5a1.3 0.9 79 1 0 -0.5 -2.5zM81.9 114.4a1.3 0.9 86 1 0 0.2 2.7a1.3 0.9 86 1 0 -0.2 -2.7zM60.9 47.7a1.4 0.9 64 1 0 1.2 2.5a1.4 0.9 64 1 0 -1.2 -2.5zM32.7 80.6a1.5 1.2 62 1 0 1.4 2.6a1.5 1.2 62 1 0 -1.4 -2.6zM45.6 98.5a1.3 1 85 1 0 0.2 2.7a1.3 1 85 1 0 -0.2 -2.7zM72 85.6a1.7 1.1 87 1 0 0.2 3.4a1.7 1.1 87 1 0 -0.2 -3.4zM101.5 49a1.2 0.8 89 1 0 0 2.5a1.2 0.8 89 1 0 -0 -2.5zM92.9 101.1a1.7 0.8 70 1 0 1.2 3.2a1.7 0.8 70 1 0 -1.2 -3.2zM59.6 51.4a1.2 1.1 98 1 0 -0.3 2.4a1.2 1.1 98 1 0 0.3 -2.4zM111.6 108.1a1.3 0.8 71 1 0 0.9 2.5a1.3 0.8 71 1 0 -0.9 -2.5zM36.7 53a1.1 1.2 72 1 0 0.7 2.1a1.1 1.2 72 1 0 -0.7 -2.1zM41.8 82.3a1.1 0.8 78 1 0 0.5 2.2a1.1 0.8 78 1 0 -0.5 -2.2zM110.5 114.3a1.8 1.1 68 1 0 1.3 3.3a1.8 1.1 68 1 0 -1.3 -3.3zM45.2 112.3a1.3 1.1 65 1 0 1.1 2.4a1.3 1.1 65 1 0 -1.1 -2.4zM60.7 57.3a1.5 0.8 74 1 0 0.8 2.9a1.5 0.8 74 1 0 -0.8 -2.9zM85.3 84.9a1.1 1 94 1 0 -0.2 2.2a1.1 1 94 1 0 0.2 -2.2zM74.3 117.6a1.5 1.2 77 1 0 0.7 2.9a1.5 1.2 77 1 0 -0.7 -2.9zM95.8 128.3a1.5 1 84 1 0 0.3 3.1a1.5 1 84 1 0 -0.3 -3.1zM73.5 123a1.4 0.8 70 1 0 1 2.7a1.4 0.8 70 1 0 -1 -2.7zM44.8 35.2a1.8 1.2 81 1 0 0.6 3.5a1.8 1.2 81 1 0 -0.6 -3.5zM104.3 72.9a1.3 1 64 1 0 1.2 2.4a1.3 1 64 1 0 -1.2 -2.4zM122.6 42a1.7 0.9 79 1 0 0.6 3.3a1.7 0.9 79 1 0 -0.6 -3.3zM39 73.3a1.1 1.2 72 1 0 0.7 2.1a1.1 1.2 72 1 0 -0.7 -2.1zM118.5 125.3a1.5 1 99 1 0 -0.5 2.9a1.5 1 99 1 0 0.5 -2.9zM99 54.1a1.3 1.1 63 1 0 1.1 2.2a1.3 1.1 63 1 0 -1.1 -2.2zM87.1 50.8a1.6 1 79 1 0 0.6 3.1a1.6 1 79 1 0 -0.6 -3.1zM84.3 40.3a1.7 1.1 73 1 0 1 3.2a1.7 1.1 73 1 0 -1 -3.2zM94.9 100.9a1.5 0.8 71 1 0 1 2.9a1.5 0.8 71 1 0 -1 -2.9zM104.4 53a1.4 1.2 65 1 0 1.2 2.5a1.4 1.2 65 1 0 -1.2 -2.5zM38.1 34.9a1.4 0.9 91 1 0 -0 2.8a1.4 0.9 91 1 0 0 -2.8zM101 119.4a1.6 1 74 1 0 0.9 3.1a1.6 1 74 1 0 -0.9 -3.1zM73.2 127.9a1.4 1.2 65 1 0 1.1 2.5a1.4 1.2 65 1 0 -1.1 -2.5zM94.9 45.8a1.8 1.1 68 1 0 1.3 3.3a1.8 1.1 68 1 0 -1.3 -3.3zM81.3 85.1a1.3 0.9 74 1 0 0.7 2.4a1.3 0.9 74 1 0 -0.7 -2.4zM38.8 35.8a1.1 0.9 99 1 0 -0.4 2.2a1.1 0.9 99 1 0 0.4 -2.2zM52.4 83.4a1.5 1 89 1 0 0.1 3a1.5 1 89 1 0 -0.1 -3zM67.5 62.3a1.7 0.8 60 1 0 1.7 2.9a1.7 0.8 60 1 0 -1.7 -2.9zM40.5 88.1a1.5 1.1 78 1 0 0.6 2.9a1.5 1.1 78 1 0 -0.6 -2.9zM119.3 85.7a1.2 1 94 1 0 -0.2 2.4a1.2 1 94 1 0 0.2 -2.4zM93.4 125.3a1.5 0.8 97 1 0 -0.4 3a1.5 0.8 97 1 0 0.4 -3zM82.7 50a1.8 0.9 71 1 0 1.2 3.3a1.8 0.9 71 1 0 -1.2 -3.3zM63.1 54.8a1.6 1.2 90 1 0 0 3.3a1.6 1.2 90 1 0 -0 -3.3zM40.6 104.9a1.5 1.2 81 1 0 0.5 3.1a1.5 1.2 81 1 0 -0.5 -3.1zM41.6 35.2a1.1 1.2 65 1 0 1 2a1.1 1.2 65 1 0 -1 -2zM124.4 40.4a1.2 0.9 78 1 0 0.5 2.4a1.2 0.9 78 1 0 -0.5 -2.4zM119.7 105.9a1.6 1 76 1 0 0.8 3.1a1.6 1 76 1 0 -0.8 -3.1zM63.3 128.2a1.4 1.1 83 1 0 0.3 2.7a1.4 1.1 83 1 0 -0.3 -2.7zM74 85.7a1.2 1.1 61 1 0 1.1 2a1.2 1.1 61 1 0 -1.1 -2zM101.3 118.1a1.2 0.9 79 1 0 0.5 2.4a1.2 0.9 79 1 0 -0.5 -2.4zM99.6 69a1.3 0.8 85 1 0 0.2 2.6a1.3 0.8 85 1 0 -0.2 -2.6zM83.7 108.9a1.8 1.2 91 1 0 -0.1 3.6a1.8 1.2 91 1 0 0.1 -3.6zM69.2 106.4a1.2 1 87 1 0 0.1 2.4a1.2 1 87 1 0 -0.1 -2.4zM98.9 43a1.2 0.8 65 1 0 1 2.2a1.2 0.8 65 1 0 -1 -2.2zM113.2 75.1a1.3 1 90 1 0 0 2.7a1.3 1 90 1 0 -0 -2.7zM99.2 76.1a1.5 1.2 77 1 0 0.7 3a1.5 1.2 77 1 0 -0.7 -3zM82.8 118.5a1.7 0.8 77 1 0 0.8 3.3a1.7 0.8 77 1 0 -0.8 -3.3zM95 74.4a1.7 0.8 73 1 0 1 3.2a1.7 0.8 73 1 0 -1 -3.2zM71.7 123.1a1.4 1 68 1 0 1.1 2.6a1.4 1 68 1 0 -1.1 -2.6zM99.9 103.9a1.2 1.1 75 1 0 0.6 2.4a1.2 1.1 75 1 0 -0.6 -2.4zM36.7 79.6a1.2 1.1 86 1 0 0.2 2.4a1.2 1.1 86 1 0 -0.2 -2.4zM93.2 97.7a1.4 1.1 92 1 0 -0.1 2.8a1.4 1.1 92 1 0 0.1 -2.8zM101.9 67.7a1.5 0.8 99 1 0 -0.5 3a1.5 0.8 99 1 0 0.5 -3zM68.9 95.2a1.1 1.2 86 1 0 0.2 2.3a1.1 1.2 86 1 0 -0.2 -2.3zM48.7 87.7a1.5 1.2 98 1 0 -0.4 3a1.5 1.2 98 1 0 0.4 -3zM65 105.8a1.4 1.2 92 1 0 -0.1 2.9a1.4 1.2 92 1 0 0.1 -2.9zM98.2 115.4a1.2 0.8 78 1 0 0.5 2.3a1.2 0.8 78 1 0 -0.5 -2.3zM95 80.9a1.4 0.8 87 1 0 0.2 2.9a1.4 0.8 87 1 0 -0.2 -2.9zM97.7 46.7a1.7 0.8 65 1 0 1.4 3.2a1.7 0.8 65 1 0 -1.4 -3.2zM70.2 69a1.6 1.1 87 1 0 0.2 3.2a1.6 1.1 87 1 0 -0.2 -3.2zM39.5 89.9a1.4 0.8 83 1 0 0.3 2.8a1.4 0.8 83 1 0 -0.3 -2.8zM98.8 38.3a1.1 1 80 1 0 0.4 2.2a1.1 1 80 1 0 -0.4 -2.2zM69.3 80.3a1.3 0.8 76 1 0 0.6 2.5a1.3 0.8 76 1 0 -0.6 -2.5zM84.7 88.8a1.7 1.2 89 1 0 0.1 3.3a1.7 1.2 89 1 0 -0.1 -3.3zM60.6 63.7a1.7 1 97 1 0 -0.4 3.3a1.7 1 97 1 0 0.4 -3.3zM72.6 75.5a1.2 1 81 1 0 0.4 2.4a1.2 1 81 1 0 -0.4 -2.4zM62 52.8a1.7 0.9 67 1 0 1.3 3.1a1.7 0.9 67 1 0 -1.3 -3.1zM83.9 46.6a1.5 1.1 87 1 0 0.2 2.9a1.5 1.1 87 1 0 -0.2 -2.9zM70.9 67.6a1.4 1.1 89 1 0 0 2.8a1.4 1.1 89 1 0 -0 -2.8zM34.6 94.5a1.8 1.2 77 1 0 0.8 3.5a1.8 1.2 77 1 0 -0.8 -3.5zM71.5 81.9a1.7 0.9 93 1 0 -0.2 3.5a1.7 0.9 93 1 0 0.2 -3.5zM81.6 117.3a1.7 1.1 67 1 0 1.3 3.1a1.7 1.1 67 1 0 -1.3 -3.1zM115 102.7a1.4 0.9 85 1 0 0.2 2.7a1.4 0.9 85 1 0 -0.2 -2.7zM39.7 44.9a1.2 1.1 89 1 0 0 2.4a1.2 1.1 89 1 0 -0 -2.4zM83 105.6a1.7 1.2 99 1 0 -0.5 3.3a1.7 1.2 99 1 0 0.5 -3.3z" fill="#6d6fb6" opacity="0.95"/>
<ellipse cx="76.5" cy="96" rx="5.5" ry="12" fill="#eae4e6" transform="rotate(8 76.5 96)"/>
<polyline points="84,40 83.5,55" fill="none" stroke="#eae4e6" stroke-width="2" stroke-linecap="round" stroke-linejoin="round" opacity="0.70"/>
<polyline points="96,100 98,112" fill="none" stroke="#eae4e6" stroke-width="2.5" stroke-linecap="round" stroke-linejoin="round" opacity="0.75"/>
<polyline points="116.8,92 116.8,116" fill="none" stroke="#eae4e6" stroke-width="2.5" stroke-linecap="round" stroke-linejoin="round" opacity="0.85"/>
<polyline points="67.7,121 68,131" fill="none" stroke="#eae4e6" stroke-width="3.5" stroke-linecap="round" stroke-linejoin="round" opacity="0.80"/>
<polyline points="52,121 52.5,131" fill="none" stroke="#d6c0b4" stroke-width="3" stroke-linecap="round" stroke-linejoin="round" opacity="0.70"/>
<polyline points="39,113 39,131" fill="none" stroke="#d6c0b4" stroke-width="3.5" stroke-linecap="round" stroke-linejoin="round" opacity="0.60"/>
<polyline points="105,64 105,86" fill="none" stroke="#eae4e6" stroke-width="3" stroke-linecap="round" stroke-linejoin="round" opacity="0.60"/>
<polyline points="56.5,36 55.5,56" fill="none" stroke="#66341e" stroke-width="2.1" stroke-linecap="round" stroke-linejoin="round" opacity="0.90"/>
<polyline points="80,36 78,56" fill="none" stroke="#66341e" stroke-width="2.1" stroke-linecap="round" stroke-linejoin="round" opacity="0.90"/>
<polyline points="114,58 112,75" fill="none" stroke="#66341e" stroke-width="2.6" stroke-linecap="round" stroke-linejoin="round" opacity="0.90"/>
<polyline points="64,78 57,94" fill="none" stroke="#66341e" stroke-width="1.9" stroke-linecap="round" stroke-linejoin="round" opacity="0.90"/>
<polyline points="93,80 88.5,104 89,131" fill="none" stroke="#66341e" stroke-width="2.1" stroke-linecap="round" stroke-linejoin="round" opacity="0.90"/>
<polyline points="44,90 37,106 33,112" fill="none" stroke="#66341e" stroke-width="1.9" stroke-linecap="round" stroke-linejoin="round" opacity="0.90"/>
<polyline points="56,96 53.5,112" fill="none" stroke="#925834" stroke-width="2.1" stroke-linecap="round" stroke-linejoin="round" opacity="0.90"/>
<polyline points="63.5,98 61,110" fill="none" stroke="#66341e" stroke-width="2.1" stroke-linecap="round" stroke-linejoin="round" opacity="0.90"/>
<polyline points="80,96 74,110" fill="none" stroke="#925834" stroke-width="2.4" stroke-linecap="round" stroke-linejoin="round" opacity="0.90"/>
<polyline points="107.5,36 106.5,60" fill="none" stroke="#66341e" stroke-width="2.8" stroke-linecap="round" stroke-linejoin="round" opacity="0.90"/>
<polyline points="107,95 108.5,131" fill="none" stroke="#66341e" stroke-width="2.8" stroke-linecap="round" stroke-linejoin="round" opacity="0.90"/>
<polyline points="119,38 119,56" fill="none" stroke="#66341e" stroke-width="2.6" stroke-linecap="round" stroke-linejoin="round" opacity="0.90"/>
<polyline points="132.3,36 132.3,56" fill="none" stroke="#66341e" stroke-width="2.4" stroke-linecap="round" stroke-linejoin="round" opacity="0.90"/>
<polyline points="141.8,36 141.5,72" fill="none" stroke="#66341e" stroke-width="2.4" stroke-linecap="round" stroke-linejoin="round" opacity="0.90"/>
<polyline points="122.5,78 122,100" fill="none" stroke="#925834" stroke-width="2.4" stroke-linecap="round" stroke-linejoin="round" opacity="0.90"/>
<polyline points="37.5,104 50,90 64.5,73.5" fill="none" stroke="#66341e" stroke-width="1.9" stroke-linecap="round" stroke-linejoin="round" opacity="0.90"/>
<polyline points="51,123.5 58,108 64.5,94.6" fill="none" stroke="#925834" stroke-width="1.9" stroke-linecap="round" stroke-linejoin="round" opacity="0.90"/>
<polyline points="28,118 40,100" fill="none" stroke="#66341e" stroke-width="1.6" stroke-linecap="round" stroke-linejoin="round" opacity="0.90"/>
<polyline points="106.5,60 107,95" fill="none" stroke="#66341e" stroke-width="2.6" stroke-linecap="round" stroke-linejoin="round" opacity="0.90"/>
<polyline points="70,118 66,128" fill="none" stroke="#925834" stroke-width="1.8" stroke-linecap="round" stroke-linejoin="round" opacity="0.90"/>
<polyline points="84,112 82,124" fill="none" stroke="#66341e" stroke-width="1.6" stroke-linecap="round" stroke-linejoin="round" opacity="0.90"/>
<ellipse cx="47.5" cy="71.5" rx="2.5" ry="3" fill="#925834" opacity="0.90"/>
<ellipse cx="78.4" cy="68.5" rx="2.4" ry="5" fill="#925834" opacity="0.90"/>
<ellipse cx="125.5" cy="65" rx="4" ry="5" fill="#925834" transform="rotate(20 125.5 65)" opacity="0.60"/>
<ellipse cx="128" cy="62" rx="3" ry="4" fill="#925834" transform="rotate(20 128 62)" opacity="0.60"/>
<ellipse cx="124" cy="68" rx="2.5" ry="3.5" fill="#66341e" transform="rotate(20 124 68)" opacity="0.50"/>
<ellipse cx="45.5" cy="127" rx="3" ry="3" fill="#925834" opacity="0.95"/>
<path d="M136 108.8L138.3 103.8M125.9 90.9L128.1 82.6M138.2 43.1L142 33.1M145 95.1L148.1 84.3M123.4 90.5L127.4 81.9M136.2 40L138.6 34.6M118.6 57L120.7 51.6M130.9 61.5L133.2 52M136.9 107.6L139.4 99.3M121.7 114.1L123.5 104.7M146.2 78.2L148.2 72.6M129.6 89.4L130.7 84.5M139.2 111.5L140.9 105.1M135.2 127.1L137.9 117.9M115.2 63.3L117.7 54.4M129.9 80.6L131.7 71.8M145.3 81.3L146.9 75.8M110.6 73L111.9 67.8M131.1 111.5L132.9 102.5M124.6 67.1L126.8 55.3M145.8 92.8L148.1 86.2M125.6 97L127.1 91.4M139.7 99L143.7 86.8M112.5 47.5L115.7 38M148.4 123.5L153.4 113.1M131.8 120.5L134.1 113.1M149.1 80.4L152.1 72.6M129.3 75.8L131.7 70.4M137.2 47.8L139 41.3M138.6 85.2L141.9 75.2M141 114L144.2 102.3M126.8 109.2L128.2 100.9M136.6 79.3L139.2 72.1M145.3 43L148.6 31.7M109.8 40.9L111.7 35.1M122.6 115.7L124.8 109.7M130.5 55.7L133 47.1M143.6 112.6L145.3 105.1M113.5 47.1L116 41.1M142 62.1L145.8 52.9M147.8 82.3L149 75.4M147.7 105.2L152.6 93.4M143.5 78L147 70M121.7 45.4L124.3 33.5M135.8 124.9L139.7 113.8M148.7 60.2L152 51.2M142.4 92.7L147.4 80.9M147.2 54.8L148.8 46.1M139.1 115.2L142.2 107.3M126.8 132.1L130.2 122.8M135.9 93.7L138.3 84.3M138.7 73.5L139.7 68.1M116.4 49L118.7 39.9M146.7 88.8L149 80.5M120 47.1L122 39M142.9 74.6L147 63M134.2 95.8L135.8 87.2M127.1 89.3L129.3 82M112.1 42L115.3 34.7M146.3 110L148.7 101.3M119.6 39.7L121.2 35.7M68.1 54.7L70.9 50.8" stroke="#66341e" stroke-width="1.0" stroke-linecap="round" fill="none" opacity="0.75"/>
<path d="M124.9 126.5L127.1 119.8M143.1 55L145 44.1M127.6 132.6L128.6 127.4M132.1 87.4L133.3 82.3M127.3 48.8L129.4 44M148.2 100.2L150.8 90.2M126 108L128.9 98M143.6 106.3L145.2 97.5M129.6 77.9L132.4 68.7M128.4 126.2L129.4 120.6M128.2 80.8L129.7 73.2M149.3 123.5L151.7 117.1M116.6 65.7L118.6 57.4M144.6 75.6L145.8 70.6M138.5 39.7L141.1 33.9M149.5 92.3L151.7 84M118.3 39.6L121.5 33.1M139.7 132.3L141.6 125.1M111.2 64L114 57.2M125.5 105.1L127.9 100M127.9 104.7L129.9 98.2M147.6 91.1L148.7 85.8M125 105L127.3 97.9M135.3 114.2L136.4 107.6M135.3 120.2L138.8 110.7M131.1 90.4L135 79M111.1 72.5L113.7 63.7M137.3 84.7L140.4 73.2M125.9 88.4L128.8 80.2M114.1 65.3L115.6 60M143.7 133.3L145.8 127.8M120.5 51.5L123.4 44.5M149.1 124.6L153.9 113.2M137.7 135.5L141.7 125.7M138 76.5L139.9 68M145.3 68.9L149.4 56.8M129.8 105.4L133.8 96.9M140.4 129.7L143.7 118.4M135.9 119.9L139.1 112M123.6 111.9L126.6 103M135.3 129.5L137.8 123.3M121.2 135.3L126.6 124.1M124.8 86.1L129 77.3M140.7 91L143.9 84.1M117 55.1L119.3 46M138.4 90.7L142.3 80M147.7 113.9L151.6 105.2M138.4 100.2L141.1 92.4M149.5 130.4L154 119.9M146.5 95.5L151.4 83.5M130.7 134.1L134.1 123.4M125.5 134.3L127.8 121.9M118 70.1L123.4 58.8M140.7 41.2L143.6 31.5M108.5 78L110.4 70.8M132.3 86.4L134 78.7M133.4 128.1L136.1 119M139.3 52.8L142.8 43M145.3 88L147.8 80.6M145 93.6L149.4 81.7M147.4 103.6L149.9 94.2M145.7 91.2L150 80.8M132.1 36.6L135.3 24.9M139.5 110.1L143.5 100.9M119.9 68L121.5 61M126.6 52L128.6 41.2M146.7 76.5L150.9 67.1M132.6 41.4L134.3 34.4M130.7 133.8L133.6 127.6M121.9 89.7L123.9 85M133.2 117.5L138.2 105.9M135.5 103.6L139.4 94.8M141.2 112.8L144.1 104.8M121.2 120.6L122.6 113.3M111.4 41.3L115.9 29.2M148.4 66.8L150.9 60.8M127.1 83.4L131.6 73.4M129.9 104.9L131.4 99.8M143 42.6L144.3 37.4M135.1 43.5L138.1 32.1M146.7 130.8L148.7 120.5M130 105.7L133.9 97.2M116.7 43.2L118.2 35.4M60.8 89.4L61.3 85.9M107.6 39.8L108.7 36.2M50 66.2L53 62.3M30.6 77.7L32.1 71.1M79.7 91L82.3 86.2M63.7 86.1L66.8 81.8M54.8 46.1L56.7 40.4M78.7 77.3L80.7 72.9" stroke="#66341e" stroke-width="1.4" stroke-linecap="round" fill="none" opacity="0.75"/>
<path d="M145.5 105.3L146.8 100.2M120.5 78.6L123.6 67M148.2 120.1L149.5 113.2M115 46.6L117.2 35.9M112.5 58.6L115.6 46.7M124.6 90.1L126.9 82.2M125.6 121.5L128.3 114.5M131.9 69.3L133.9 64.3M146.6 125.4L150.4 113.1M129.4 68.8L131.7 60.7M135.7 132.7L138.7 125M125.9 114.5L128.7 103.3M148.9 55.5L153.4 44.1M109.5 67L114.4 56.6M121.8 113.5L126 103.9M122.5 79.7L124.9 71.2M141.9 125.8L145.7 117.3M140.9 108.9L142.8 102.7M144.2 37L147.4 29.7M136.2 107.6L139.8 95.5M118.9 73.7L121.4 64.3M135.2 134.2L136.4 128.6M129.1 103.7L133.6 92.8M147.3 86.5L150.7 78.9M133.8 121.1L135.5 114.5M111.7 59.7L115.2 49.7M140.3 66L141.4 60.7M109.3 42.1L112.8 34.7M136.7 42.9L139.3 30.8M128 108.9L130.3 103.1M145.7 52.9L148.3 41.5M126.5 59.8L130.5 51.2M111.1 44.1L115.1 33.6M123.2 89L125.7 82.1M129.3 41.3L133.8 29.9M120.1 57.6L122.4 49.9M145.1 115.9L148.8 107.1M131.6 92.2L134.4 83.4M126.4 113.7L127.9 107.1M133.8 123.2L135.2 117.4M144.1 128.9L149.3 117.7M137.4 128L139.3 122.1M118.7 79.4L121.4 75.8M114.2 59.1L116.4 53.1" stroke="#925834" stroke-width="1.0" stroke-linecap="round" fill="none" opacity="0.75"/>
<path d="M126.4 135.5L128 129.8M149.5 110.8L151.5 104.7M148.8 74.4L153.5 63.8M135.6 104.1L138.1 96.7M115.4 61.7L120 50.8M112.6 75.6L114.7 66.8M144.8 133.7L147.3 127.8M136.3 72.9L139.7 60.9M138.4 126.2L140.4 118.7M131.1 40.6L132.2 35.4M117 63.2L121.2 51M145.9 71.4L150.8 60.1M138 65.4L139.4 58.5M121.2 106.8L124.2 97M141.3 119.7L146.2 108.9M135.9 84.2L138.2 79.4M128.8 130.6L131.1 124.9M141.3 101.6L144.9 89.3M138 89.6L142.4 79.1M144.4 81.3L148.4 72.9M121 101.4L123.1 94.3M133.4 99.1L136.9 90.1M139.4 132.1L143.8 121.2M145.8 63.4L148 56.2M138.1 51.9L140.7 41.2M130.6 110.8L133 98.1M130.3 97.8L133.8 85.9M139.3 134.1L140.6 127.3M126.8 128.6L130.5 119M142.8 89.6L145.4 84M124.1 68.2L125.7 60.9M121.8 39L125.7 26.8M146.8 111.1L150.4 99.5M142.7 121.8L145.2 113.2M149.8 119.6L152.1 112M121.8 89.7L125.3 77.6M139.6 126.3L143 114.8M136.3 109L139.7 101.6M123.7 64.8L126.7 55.9M131.9 92.2L135 84.3M142.3 130.6L143.8 122.6M135.9 100.5L140.5 88.9M143.1 97.4L145.6 87.8M131.5 56L132.7 50.8M136.5 37.9L138.9 29.9M126.5 105.6L128.3 99.3M129 79.6L132.3 68.4M145.4 114.1L149.1 102.4M127.2 75.2L129.2 68.7M128.7 58.1L133.1 47M112.3 58.7L114.2 49.8M126.6 95.7L130.9 84.5M123 78.3L126.6 70.1M113.1 77.7L114.4 72.6M135 44.6L137.6 37.3M29.7 84.7L32.3 80.1M79.5 83.7L80.8 81M41.7 92.2L43.3 89.4M26.8 59.5L27.6 53.1M120.2 68.4L122.4 65.4M119.2 49L121.3 45" stroke="#925834" stroke-width="1.4" stroke-linecap="round" fill="none" opacity="0.75"/>
</g></g>
<rect x="26" y="38" width="122" height="91" fill="none" stroke="#222" stroke-width="1.4"/>
<g clip-path="url(#cC)"><g filter="url(#soft)">
<rect x="370" y="30" width="140" height="110" fill="#dccbd0"/>
<polygon points="379,36.5 386.5,36.5 386,60.5 384,80.5 379,84.5" fill="#ebe4e8" stroke="#ebe4e8" stroke-width="2" stroke-linejoin="round" opacity="0.80"/>
<polygon points="399,36.5 398.7,47.5 395.7,66.5 395.7,86.5 402.8,86.5 405.2,66.5 407,47.5 411,36.5" fill="#ceb2a8" stroke="#ceb2a8" stroke-width="2" stroke-linejoin="round" opacity="0.60"/>
<polygon points="421,36.5 420.1,47.5 414.8,66.5 410,86.5 410,104.5 413.6,104.5 417.2,86.5 418.3,66.5 424.3,47.5 425,36.5" fill="#ebe4e8" stroke="#ebe4e8" stroke-width="2" stroke-linejoin="round" opacity="0.85"/>
<polygon points="433,58.5 448,58.5 448,84.5 433,84.5" fill="#cdc0d2" stroke="#cdc0d2" stroke-width="2" stroke-linejoin="round" opacity="0.85"/>
<polygon points="379,108.5 390,106.5 391,129.5 379,129.5" fill="#cdc0d2" stroke="#cdc0d2" stroke-width="2" stroke-linejoin="round" opacity="0.80"/>
<polygon points="487.7,78.5 497,78.5 497,95.5 487.7,95.5" fill="#cdc0d2" stroke="#cdc0d2" stroke-width="2" stroke-linejoin="round" opacity="0.60"/>
<polygon points="497,113.5 502,113.5 502,130.5 497,130.5" fill="#cdc0d2" stroke="#cdc0d2" stroke-width="2" stroke-linejoin="round" opacity="0.70"/>
<polygon points="445,36.5 448.3,36.5 448.3,66.5 445,66.5" fill="#ebe4e8" stroke="#ebe4e8" stroke-width="2" stroke-linejoin="round" opacity="0.70"/>
<polygon points="386.5,36.5 386.2,47.5 385.6,66.5 383.8,86.5 381,96.5 377,104.5 377,112.5 382,112.5 388.5,104.5 393.3,96.5 395.7,86.5 395.7,66.5 398.7,47.5 399,36.5" fill="#8fb0a0"/>
<polygon points="412,36.5 410.6,47.5 405.2,66.5 402.8,86.5 393.3,104.5 394.5,121.5 395,131.5 402,131.5 402.8,121.5 405.2,104.5 410,86.5 414.8,66.5 420.1,47.5 421,36.5" fill="#8fb0a0"/>
<polygon points="425,36.5 424.3,47.5 418.3,66.5 417.2,86.5 417.2,104.5 414,112.5 407.6,121.5 407.6,131.5 418.3,131.5 418.3,121.5 423.5,112.5 426.7,104.5 429,86.5 424.3,66.5 430.3,47.5 431,36.5" fill="#8fb0a0"/>
<polygon points="433.8,36.5 433.8,47.5 433.5,56.5 434.5,61.5 439,61.5 442,56.5 444.8,47.5 445,36.5" fill="#8fb0a0"/>
<polygon points="432,80.5 433.8,86.5 433.8,104.5 423.1,121.5 423.1,131.5 440,131.5 440,121.5 440,104.5 443.6,86.5 439,80.5" fill="#8fb0a0"/>
<polygon points="448.3,36.5 448.3,47.5 448.3,66.5 447.2,86.5 442.4,104.5 443.6,121.5 443.6,131.5 459,131.5 459,121.5 456.7,104.5 455.5,86.5 460.3,66.5 457.9,47.5 458,36.5" fill="#8fb0a0"/>
<polygon points="464,72.5 462.5,86.5 464,104.5 464,121.5 464,131.5 473.5,131.5 473.5,121.5 473.5,104.5 472.5,86.5 469,72.5" fill="#8fb0a0"/>
<ellipse cx="478.8" cy="43" rx="4.2" ry="3.5" fill="#8fb0a0"/>
<path d="M396.8 111.4a1.5 1 71 1 0 1 2.9a1.5 1 71 1 0 -1 -2.9zM425.1 48.3a1.7 1 100 1 0 -0.6 3.4a1.7 1 100 1 0 0.6 -3.4zM425.6 105.2a1.5 1.1 93 1 0 -0.2 3.1a1.5 1.1 93 1 0 0.2 -3.1zM466.6 102.5a1.3 0.9 78 1 0 0.5 2.5a1.3 0.9 78 1 0 -0.5 -2.5zM384.3 107.6a1.7 1 84 1 0 0.4 3.4a1.7 1 84 1 0 -0.4 -3.4zM387.9 41a1.2 1.1 95 1 0 -0.2 2.4a1.2 1.1 95 1 0 0.2 -2.4zM424.7 53.4a1.2 1.1 84 1 0 0.2 2.4a1.2 1.1 84 1 0 -0.2 -2.4zM396.3 129.8a1.5 1.1 62 1 0 1.4 2.7a1.5 1.1 62 1 0 -1.4 -2.7zM459.2 66.7a1.2 0.9 65 1 0 1 2.1a1.2 0.9 65 1 0 -1 -2.1zM439.3 58.2a1.4 1.1 89 1 0 0 2.7a1.4 1.1 89 1 0 -0 -2.7zM438.5 94.4a1.5 0.9 98 1 0 -0.4 3a1.5 0.9 98 1 0 0.4 -3zM426 79a1.5 1 92 1 0 -0.1 2.9a1.5 1 92 1 0 0.1 -2.9zM422.9 111.4a1.7 1.2 84 1 0 0.4 3.4a1.7 1.2 84 1 0 -0.4 -3.4zM448.7 103a1.5 1.2 80 1 0 0.5 3a1.5 1.2 80 1 0 -0.5 -3zM425.2 37.7a1.3 1.2 69 1 0 0.9 2.4a1.3 1.2 69 1 0 -0.9 -2.4zM442.3 106.7a1.7 0.9 74 1 0 0.9 3.2a1.7 0.9 74 1 0 -0.9 -3.2zM411.3 128.3a1.7 0.8 67 1 0 1.3 3.1a1.7 0.8 67 1 0 -1.3 -3.1zM385.9 76.7a1.6 1 91 1 0 -0.1 3.3a1.6 1 91 1 0 0.1 -3.3zM450 124.7a1.8 1 65 1 0 1.5 3.2a1.8 1 65 1 0 -1.5 -3.2zM432.3 121.1a1.6 0.9 99 1 0 -0.5 3.1a1.6 0.9 99 1 0 0.5 -3.1zM439.6 47.9a1.5 1.2 82 1 0 0.4 3a1.5 1.2 82 1 0 -0.4 -3zM410.4 65.2a1.3 1.2 72 1 0 0.8 2.4a1.3 1.2 72 1 0 -0.8 -2.4zM450.1 36.6a1.6 0.9 83 1 0 0.4 3.1a1.6 0.9 83 1 0 -0.4 -3.1zM451.8 95.1a1.8 0.9 72 1 0 1.1 3.4a1.8 0.9 72 1 0 -1.1 -3.4zM418.7 75.8a1.2 0.9 83 1 0 0.3 2.5a1.2 0.9 83 1 0 -0.3 -2.5zM471 100.9a1.6 1.1 85 1 0 0.3 3.3a1.6 1.1 85 1 0 -0.3 -3.3zM446.8 88.2a1.6 0.9 78 1 0 0.7 3.1a1.6 0.9 78 1 0 -0.7 -3.1zM423 80.6a1.3 1.2 93 1 0 -0.1 2.5a1.3 1.2 93 1 0 0.1 -2.5zM426.5 128.1a1.5 1.2 67 1 0 1.2 2.8a1.5 1.2 67 1 0 -1.2 -2.8zM398.7 40.3a1.2 1 88 1 0 0.1 2.4a1.2 1 88 1 0 -0.1 -2.4zM421.8 94.4a1.5 0.8 64 1 0 1.3 2.7a1.5 0.8 64 1 0 -1.3 -2.7zM447 90.3a1.3 1 94 1 0 -0.2 2.6a1.3 1 94 1 0 0.2 -2.6zM422.5 89.2a1.4 1.2 60 1 0 1.4 2.5a1.4 1.2 60 1 0 -1.4 -2.5zM433.8 129.5a1.3 1 93 1 0 -0.1 2.5a1.3 1 93 1 0 0.1 -2.5zM466.2 88.4a1.6 0.8 78 1 0 0.7 3.2a1.6 0.8 78 1 0 -0.7 -3.2zM393.9 62.9a1.7 0.8 87 1 0 0.2 3.4a1.7 0.8 87 1 0 -0.2 -3.4zM384.5 93.6a1.6 0.8 82 1 0 0.5 3.2a1.6 0.8 82 1 0 -0.5 -3.2zM471.4 126.2a1.5 1.1 60 1 0 1.5 2.5a1.5 1.1 60 1 0 -1.5 -2.5zM449.9 65.6a1.5 0.9 77 1 0 0.7 2.9a1.5 0.9 77 1 0 -0.7 -2.9zM457.3 36.5a1.7 1 80 1 0 0.6 3.3a1.7 1 80 1 0 -0.6 -3.3zM439.9 92a1.5 1 88 1 0 0.1 2.9a1.5 1 88 1 0 -0.1 -2.9zM435 126.3a1.3 1 63 1 0 1.1 2.2a1.3 1 63 1 0 -1.1 -2.2zM382.2 89.7a1.2 0.8 69 1 0 0.9 2.3a1.2 0.8 69 1 0 -0.9 -2.3zM426.8 125.6a1.7 1 79 1 0 0.6 3.3a1.7 1 79 1 0 -0.6 -3.3zM409.2 79.6a1.4 1.1 68 1 0 1 2.5a1.4 1.1 68 1 0 -1 -2.5zM408.5 67a1.6 0.9 76 1 0 0.8 3a1.6 0.9 76 1 0 -0.8 -3zM387 99.7a1.2 1.1 85 1 0 0.2 2.4a1.2 1.1 85 1 0 -0.2 -2.4zM466.1 91.6a1.3 0.8 70 1 0 0.9 2.4a1.3 0.8 70 1 0 -0.9 -2.4zM423.5 108.1a1.7 0.9 92 1 0 -0.1 3.4a1.7 0.9 92 1 0 0.1 -3.4zM449.8 69.8a1.4 1.1 70 1 0 0.9 2.5a1.4 1.1 70 1 0 -0.9 -2.5zM458.2 115.5a1.5 1.2 100 1 0 -0.5 3a1.5 1.2 100 1 0 0.5 -3zM420.2 67.2a1.3 0.8 81 1 0 0.4 2.5a1.3 0.8 81 1 0 -0.4 -2.5zM422.3 111.4a1.6 0.9 96 1 0 -0.3 3.2a1.6 0.9 96 1 0 0.3 -3.2zM434.3 125.6a1.3 0.8 79 1 0 0.5 2.5a1.3 0.8 79 1 0 -0.5 -2.5zM411.6 40.8a1.7 1.2 85 1 0 0.3 3.3a1.7 1.2 85 1 0 -0.3 -3.3zM429.9 123.9a1.4 1.2 73 1 0 0.8 2.7a1.4 1.2 73 1 0 -0.8 -2.7zM391.2 98.8a1.2 1 93 1 0 -0.1 2.3a1.2 1 93 1 0 0.1 -2.3zM403.4 111.6a1.3 0.8 72 1 0 0.8 2.5a1.3 0.8 72 1 0 -0.8 -2.5zM395.6 104.7a1.7 0.8 69 1 0 1.2 3.1a1.7 0.8 69 1 0 -1.2 -3.1zM465.6 95.2a1.6 1.2 94 1 0 -0.2 3.2a1.6 1.2 94 1 0 0.2 -3.2zM462.4 82.9a1.7 1.1 61 1 0 1.6 3a1.7 1.1 61 1 0 -1.6 -3zM439.7 43.7a1.2 1.2 76 1 0 0.6 2.4a1.2 1.2 76 1 0 -0.6 -2.4zM400.3 127.3a1.4 0.8 98 1 0 -0.4 2.9a1.4 0.8 98 1 0 0.4 -2.9zM426.6 123.8a1.3 0.9 99 1 0 -0.4 2.6a1.3 0.9 99 1 0 0.4 -2.6zM469.4 91.2a1.4 1.2 85 1 0 0.2 2.8a1.4 1.2 85 1 0 -0.2 -2.8zM404.7 72.3a1.6 1.2 77 1 0 0.7 3.1a1.6 1.2 77 1 0 -0.7 -3.1zM471 98.6a1.5 0.9 91 1 0 -0.1 3.1a1.5 0.9 91 1 0 0.1 -3.1zM452 59.8a1.6 1.1 69 1 0 1.1 2.9a1.6 1.1 69 1 0 -1.1 -2.9zM437 112.2a1.3 1.2 64 1 0 1.1 2.4a1.3 1.2 64 1 0 -1.1 -2.4zM451.9 87.9a1.1 1.1 85 1 0 0.2 2.2a1.1 1.1 85 1 0 -0.2 -2.2zM408.5 74.3a1.6 0.9 91 1 0 -0.1 3.1a1.6 0.9 91 1 0 0.1 -3.1zM451.8 122.1a1.7 1.1 64 1 0 1.5 3.1a1.7 1.1 64 1 0 -1.5 -3.1zM403.4 98.3a1.6 0.9 68 1 0 1.2 2.9a1.6 0.9 68 1 0 -1.2 -2.9zM470 96.6a1.6 0.9 86 1 0 0.2 3.2a1.6 0.9 86 1 0 -0.2 -3.2zM450.9 87.2a1.2 1.2 71 1 0 0.8 2.3a1.2 1.2 71 1 0 -0.8 -2.3zM436.1 49.4a1.6 0.8 65 1 0 1.4 3a1.6 0.8 65 1 0 -1.4 -3zM382.8 87.3a1.5 1.1 77 1 0 0.7 3a1.5 1.1 77 1 0 -0.7 -3zM389.4 42a1.6 0.9 79 1 0 0.6 3.2a1.6 0.9 79 1 0 -0.6 -3.2zM446.5 91.8a1.2 0.9 71 1 0 0.8 2.4a1.2 0.9 71 1 0 -0.8 -2.4zM377.3 104.3a1.7 1.1 63 1 0 1.6 3.1a1.7 1.1 63 1 0 -1.6 -3.1zM423.3 102.7a1.8 1 67 1 0 1.4 3.3a1.8 1 67 1 0 -1.4 -3.3zM457.1 120.6a1.2 0.8 69 1 0 0.9 2.3a1.2 0.8 69 1 0 -0.9 -2.3zM470.1 102.4a1.7 0.9 89 1 0 0.1 3.3a1.7 0.9 89 1 0 -0.1 -3.3zM434.1 117.5a1.3 0.8 75 1 0 0.7 2.5a1.3 0.8 75 1 0 -0.7 -2.5zM398.5 103.1a1.6 1.2 72 1 0 1 3.1a1.6 1.2 72 1 0 -1 -3.1zM422.2 67.3a1.7 1.2 97 1 0 -0.4 3.4a1.7 1.2 97 1 0 0.4 -3.4zM435.3 44.8a1.2 1.2 83 1 0 0.3 2.3a1.2 1.2 83 1 0 -0.3 -2.3zM418.6 113.8a1.6 1.1 63 1 0 1.4 2.8a1.6 1.1 63 1 0 -1.4 -2.8zM429.7 114.3a1.2 1 65 1 0 1 2.1a1.2 1 65 1 0 -1 -2.1zM443.7 105.3a1.7 0.9 90 1 0 0 3.3a1.7 0.9 90 1 0 -0 -3.3zM422.7 50.1a1.4 0.9 61 1 0 1.3 2.4a1.4 0.9 61 1 0 -1.3 -2.4zM411.8 65a1.7 1.2 78 1 0 0.7 3.2a1.7 1.2 78 1 0 -0.7 -3.2zM439.3 35.7a1.4 1.1 100 1 0 -0.5 2.7a1.4 1.1 100 1 0 0.5 -2.7zM409.7 125.4a1.7 1 73 1 0 1 3.3a1.7 1 73 1 0 -1 -3.3zM451.8 57.1a1.6 0.9 96 1 0 -0.3 3.2a1.6 0.9 96 1 0 0.3 -3.2zM434.4 92.8a1.6 0.8 97 1 0 -0.4 3.2a1.6 0.8 97 1 0 0.4 -3.2zM468.1 104.4a1.3 0.9 61 1 0 1.2 2.2a1.3 0.9 61 1 0 -1.2 -2.2zM413.8 55.8a1.3 1.1 82 1 0 0.4 2.6a1.3 1.1 82 1 0 -0.4 -2.6zM437 46.6a1.3 1.2 69 1 0 0.9 2.5a1.3 1.2 69 1 0 -0.9 -2.5zM452.5 75a1.2 1 91 1 0 -0 2.3a1.2 1 91 1 0 0 -2.3zM438.2 120.6a1.2 0.9 93 1 0 -0.1 2.4a1.2 0.9 93 1 0 0.1 -2.4zM450 84.4a1.6 1 65 1 0 1.4 3a1.6 1 65 1 0 -1.4 -3zM454.2 84.5a1.6 0.9 86 1 0 0.2 3.1a1.6 0.9 86 1 0 -0.2 -3.1zM440.5 90a1.1 1 79 1 0 0.4 2.2a1.1 1 79 1 0 -0.4 -2.2zM383.5 83.8a1.2 1.1 62 1 0 1.2 2.2a1.2 1.1 62 1 0 -1.2 -2.2zM434.4 42.7a1.3 1.1 73 1 0 0.7 2.4a1.3 1.1 73 1 0 -0.7 -2.4zM418.2 47.8a1.6 1.1 81 1 0 0.5 3.3a1.6 1.1 81 1 0 -0.5 -3.3zM427.8 112.8a1.4 0.8 84 1 0 0.3 2.9a1.4 0.8 84 1 0 -0.3 -2.9zM410.8 48a1.7 0.8 80 1 0 0.6 3.3a1.7 0.8 80 1 0 -0.6 -3.3zM416.1 46.3a1.8 0.9 64 1 0 1.5 3.2a1.8 0.9 64 1 0 -1.5 -3.2zM454.8 99.4a1.3 0.8 97 1 0 -0.3 2.6a1.3 0.8 97 1 0 0.3 -2.6zM436.8 122.1a1.8 1.1 80 1 0 0.6 3.5a1.8 1.1 80 1 0 -0.6 -3.5zM465.8 110.6a1.7 0.9 92 1 0 -0.1 3.5a1.7 0.9 92 1 0 0.1 -3.5zM422.6 87.8a1.4 1.2 90 1 0 0 2.9a1.4 1.2 90 1 0 -0 -2.9zM470.5 89a1.5 1.2 91 1 0 -0.1 3.1a1.5 1.2 91 1 0 0.1 -3.1zM417.8 68.9a1.2 0.8 74 1 0 0.7 2.3a1.2 0.8 74 1 0 -0.7 -2.3zM445.7 100.5a1.3 1.2 63 1 0 1.2 2.4a1.3 1.2 63 1 0 -1.2 -2.4zM420.7 73.8a1.4 0.9 65 1 0 1.2 2.6a1.4 0.9 65 1 0 -1.2 -2.6zM469 73.9a1.5 0.8 75 1 0 0.8 2.9a1.5 0.8 75 1 0 -0.8 -2.9zM417.5 105.6a1.5 1.1 73 1 0 0.9 2.9a1.5 1.1 73 1 0 -0.9 -2.9zM468.4 81.4a1.3 1 100 1 0 -0.5 2.6a1.3 1 100 1 0 0.5 -2.6zM423.8 54.9a1.7 0.8 99 1 0 -0.5 3.4a1.7 0.8 99 1 0 0.5 -3.4zM386 90.8a1.5 1.1 85 1 0 0.3 3a1.5 1.1 85 1 0 -0.3 -3zM417.5 116.8a1.8 0.9 87 1 0 0.2 3.5a1.8 0.9 87 1 0 -0.2 -3.5zM438.8 83.9a1.4 1 85 1 0 0.2 2.7a1.4 1 85 1 0 -0.2 -2.7zM458.7 65.5a1.4 1.2 63 1 0 1.3 2.6a1.4 1.2 63 1 0 -1.3 -2.6zM468.2 105.8a1.6 1.1 97 1 0 -0.4 3.1a1.6 1.1 97 1 0 0.4 -3.1zM387.6 37.3a1.2 1.1 77 1 0 0.6 2.4a1.2 1.1 77 1 0 -0.6 -2.4zM448.1 101.2a1.4 0.9 78 1 0 0.6 2.8a1.4 0.9 78 1 0 -0.6 -2.8zM469.9 114.3a1.6 1.1 89 1 0 0.1 3.2a1.6 1.1 89 1 0 -0.1 -3.2zM419 87.3a1.8 1.2 72 1 0 1.1 3.4a1.8 1.2 72 1 0 -1.1 -3.4zM439.3 51.2a1.7 1 91 1 0 -0.1 3.5a1.7 1 91 1 0 0.1 -3.5zM412.9 126.3a1.2 1 100 1 0 -0.4 2.3a1.2 1 100 1 0 0.4 -2.3zM454.1 107.5a1.1 0.8 68 1 0 0.8 2.1a1.1 0.8 68 1 0 -0.8 -2.1zM448.7 94.5a1.6 0.9 91 1 0 -0.1 3.2a1.6 0.9 91 1 0 0.1 -3.2zM417.3 106.4a1.1 0.8 79 1 0 0.4 2.2a1.1 0.8 79 1 0 -0.4 -2.2zM405.2 89.5a1.4 0.9 65 1 0 1.2 2.6a1.4 0.9 65 1 0 -1.2 -2.6zM423.3 89.7a1.8 0.9 84 1 0 0.4 3.5a1.8 0.9 84 1 0 -0.4 -3.5zM434.3 60.1a1.5 0.9 60 1 0 1.5 2.6a1.5 0.9 60 1 0 -1.5 -2.6zM449.8 49.2a1.8 1.1 72 1 0 1.1 3.4a1.8 1.1 72 1 0 -1.1 -3.4zM477.1 40.6a1.4 1.1 65 1 0 1.2 2.6a1.4 1.1 65 1 0 -1.2 -2.6zM467.9 81.1a1.2 1.2 77 1 0 0.5 2.4a1.2 1.2 77 1 0 -0.5 -2.4zM449.6 123.3a1.7 1.1 65 1 0 1.4 3.1a1.7 1.1 65 1 0 -1.4 -3.1zM385.4 99.7a1.2 0.8 87 1 0 0.1 2.4a1.2 0.8 87 1 0 -0.1 -2.4zM388.3 38.7a1.4 1.1 73 1 0 0.8 2.7a1.4 1.1 73 1 0 -0.8 -2.7zM454.5 121.2a1.1 1.1 92 1 0 -0.1 2.3a1.1 1.1 92 1 0 0.1 -2.3zM391.5 86.8a1.7 1.2 75 1 0 0.9 3.3a1.7 1.2 75 1 0 -0.9 -3.3zM420.4 96.7a1.4 0.9 83 1 0 0.3 2.8a1.4 0.9 83 1 0 -0.3 -2.8zM415 127.1a1.7 0.9 96 1 0 -0.4 3.5a1.7 0.9 96 1 0 0.4 -3.5zM456.7 119.9a1.7 1.1 88 1 0 0.1 3.3a1.7 1.1 88 1 0 -0.1 -3.3zM464.2 105.6a1.8 1.2 79 1 0 0.7 3.5a1.8 1.2 79 1 0 -0.7 -3.5zM387.9 66.8a1.4 1 84 1 0 0.3 2.9a1.4 1 84 1 0 -0.3 -2.9zM394.6 56.7a1.7 1.2 90 1 0 0 3.5a1.7 1.2 90 1 0 -0 -3.5zM430.5 125.2a1.8 1.2 69 1 0 1.3 3.3a1.8 1.2 69 1 0 -1.3 -3.3zM391.2 91.3a1.4 1.2 71 1 0 0.9 2.6a1.4 1.2 71 1 0 -0.9 -2.6zM387.7 36.8a1.3 1.1 65 1 0 1.1 2.3a1.3 1.1 65 1 0 -1.1 -2.3zM409.1 78a1.4 0.9 76 1 0 0.7 2.8a1.4 0.9 76 1 0 -0.7 -2.8zM408.9 77a1.6 1.2 73 1 0 0.9 3a1.6 1.2 73 1 0 -0.9 -3zM421.4 74.1a1.5 1 88 1 0 0.1 3a1.5 1 88 1 0 -0.1 -3zM443.3 36a1.2 1.1 75 1 0 0.6 2.3a1.2 1.1 75 1 0 -0.6 -2.3zM455 37.8a1.5 0.8 70 1 0 1 2.8a1.5 0.8 70 1 0 -1 -2.8zM388.8 95.3a1.4 1.2 81 1 0 0.4 2.8a1.4 1.2 81 1 0 -0.4 -2.8zM451.5 42.6a1.3 1 70 1 0 0.9 2.4a1.3 1 70 1 0 -0.9 -2.4zM391.3 64.5a1.6 0.8 93 1 0 -0.2 3.2a1.6 0.8 93 1 0 0.2 -3.2zM399.1 104.8a1.1 1.2 75 1 0 0.6 2.2a1.1 1.2 75 1 0 -0.6 -2.2zM451.6 105.8a1.3 0.8 73 1 0 0.7 2.4a1.3 0.8 73 1 0 -0.7 -2.4zM464.1 88.9a1.6 0.8 63 1 0 1.5 2.9a1.6 0.8 63 1 0 -1.5 -2.9zM424.6 99.1a1.6 1.1 83 1 0 0.4 3.1a1.6 1.1 83 1 0 -0.4 -3.1zM472.9 103.9a1.4 1.2 73 1 0 0.8 2.7a1.4 1.2 73 1 0 -0.8 -2.7zM465 91a1.7 0.8 98 1 0 -0.5 3.3a1.7 0.8 98 1 0 0.5 -3.3zM381.6 94.1a1.5 1.1 79 1 0 0.6 3a1.5 1.1 79 1 0 -0.6 -3zM451.9 68.8a1.7 1 98 1 0 -0.5 3.4a1.7 1 98 1 0 0.5 -3.4zM387.3 51.3a1.4 1 95 1 0 -0.2 2.8a1.4 1 95 1 0 0.2 -2.8zM438.6 42a1.8 0.8 68 1 0 1.3 3.3a1.8 0.8 68 1 0 -1.3 -3.3zM450.2 63a1.4 0.8 73 1 0 0.8 2.6a1.4 0.8 73 1 0 -0.8 -2.6zM451.6 57a1.7 1.1 72 1 0 1 3.2a1.7 1.1 72 1 0 -1 -3.2zM449.8 35a1.7 1.2 82 1 0 0.5 3.4a1.7 1.2 82 1 0 -0.5 -3.4zM419.2 110.3a1.5 0.8 94 1 0 -0.2 3a1.5 0.8 94 1 0 0.2 -3zM453.1 125.4a1.3 1.1 72 1 0 0.8 2.4a1.3 1.1 72 1 0 -0.8 -2.4zM467.2 118.5a1.8 0.9 70 1 0 1.2 3.4a1.8 0.9 70 1 0 -1.2 -3.4zM392.4 81.5a1.7 0.8 91 1 0 -0.1 3.4a1.7 0.8 91 1 0 0.1 -3.4zM466.2 114a1.3 1.2 82 1 0 0.3 2.5a1.3 1.2 82 1 0 -0.3 -2.5zM472.1 89.2a1.5 1.1 94 1 0 -0.2 3a1.5 1.1 94 1 0 0.2 -3zM442.9 113.2a1.6 1.1 68 1 0 1.2 3a1.6 1.1 68 1 0 -1.2 -3zM467.3 83.9a1.2 1 86 1 0 0.2 2.5a1.2 1 86 1 0 -0.2 -2.5zM438.8 59.7a1.3 1.1 67 1 0 1 2.4a1.3 1.1 67 1 0 -1 -2.4zM408.1 90a1.2 0.9 78 1 0 0.5 2.3a1.2 0.9 78 1 0 -0.5 -2.3zM438.7 84.5a1.2 1 99 1 0 -0.4 2.4a1.2 1 99 1 0 0.4 -2.4zM450.8 100.3a1.1 1.2 65 1 0 0.9 2a1.1 1.2 65 1 0 -0.9 -2zM446 92.1a1.4 1.1 99 1 0 -0.4 2.8a1.4 1.1 99 1 0 0.4 -2.8zM394 76.9a1.3 0.8 99 1 0 -0.4 2.6a1.3 0.8 99 1 0 0.4 -2.6zM456 72.6a1.3 1.1 61 1 0 1.3 2.3a1.3 1.1 61 1 0 -1.3 -2.3zM395.7 102.7a1.5 0.8 78 1 0 0.6 2.9a1.5 0.8 78 1 0 -0.6 -2.9zM435.7 54.3a1.2 1.2 89 1 0 0 2.3a1.2 1.2 89 1 0 -0 -2.3zM423.4 57.5a1.2 0.8 82 1 0 0.3 2.4a1.2 0.8 82 1 0 -0.3 -2.4zM429.7 126.8a1.7 1.1 97 1 0 -0.4 3.4a1.7 1.1 97 1 0 0.4 -3.4zM427.9 45.6a1.4 1.2 72 1 0 0.9 2.7a1.4 1.2 72 1 0 -0.9 -2.7zM397.3 94.6a1.6 0.9 65 1 0 1.3 3a1.6 0.9 65 1 0 -1.3 -3zM456.8 76.3a1.1 1 65 1 0 0.9 2a1.1 1 65 1 0 -0.9 -2zM449.2 59.3a1.8 0.8 76 1 0 0.9 3.5a1.8 0.8 76 1 0 -0.9 -3.5zM385.2 68.5a1.7 1 85 1 0 0.3 3.5a1.7 1 85 1 0 -0.3 -3.5zM442.2 87.3a1.4 1.1 75 1 0 0.7 2.7a1.4 1.1 75 1 0 -0.7 -2.7zM424.7 96.7a1.7 0.9 86 1 0 0.2 3.4a1.7 0.9 86 1 0 -0.2 -3.4zM440 80.9a1.1 0.9 96 1 0 -0.2 2.3a1.1 0.9 96 1 0 0.2 -2.3zM443.5 36.1a1.2 1.1 87 1 0 0.1 2.3a1.2 1.1 87 1 0 -0.1 -2.3zM428.7 115.3a1.2 1.1 80 1 0 0.4 2.4a1.2 1.1 80 1 0 -0.4 -2.4zM433.1 107.3a1.2 0.8 91 1 0 -0 2.3a1.2 0.8 91 1 0 0 -2.3zM426 130.3a1.1 1 96 1 0 -0.2 2.2a1.1 1 96 1 0 0.2 -2.2zM452.4 72.2a1.4 1.2 65 1 0 1.2 2.6a1.4 1.2 65 1 0 -1.2 -2.6zM399 104.3a1.7 1.1 69 1 0 1.3 3.3a1.7 1.1 69 1 0 -1.3 -3.3zM466.5 115.3a1.2 1.1 90 1 0 0 2.5a1.2 1.1 90 1 0 -0 -2.5zM423.7 48.3a1.4 1 82 1 0 0.4 2.9a1.4 1 82 1 0 -0.4 -2.9zM408.9 78.9a1.6 1.2 93 1 0 -0.2 3.1a1.6 1.2 93 1 0 0.2 -3.1zM466.9 97a1.1 1.2 90 1 0 0 2.2a1.1 1.2 90 1 0 -0 -2.2zM433.6 121.5a1.7 1.2 82 1 0 0.5 3.3a1.7 1.2 82 1 0 -0.5 -3.3zM387.2 93.5a1.6 1.1 89 1 0 0.1 3.2a1.6 1.1 89 1 0 -0.1 -3.2zM407.3 125.6a1.6 0.8 67 1 0 1.3 3a1.6 0.8 67 1 0 -1.3 -3zM400.3 91.7a1.4 1 82 1 0 0.4 2.7a1.4 1 82 1 0 -0.4 -2.7zM436.1 124.7a1.4 0.8 64 1 0 1.3 2.6a1.4 0.8 64 1 0 -1.3 -2.6zM382.8 90a1.7 0.8 77 1 0 0.8 3.3a1.7 0.8 77 1 0 -0.8 -3.3zM395.7 110.9a1.6 1 82 1 0 0.4 3.2a1.6 1 82 1 0 -0.4 -3.2zM405 100.9a1.3 1.2 90 1 0 0 2.6a1.3 1.2 90 1 0 -0 -2.6zM429.2 119.5a1.5 1.1 100 1 0 -0.5 3a1.5 1.1 100 1 0 0.5 -3zM390.6 37.6a1.5 1 79 1 0 0.6 2.9a1.5 1 79 1 0 -0.6 -2.9zM467 91.7a1.7 1.1 68 1 0 1.3 3.2a1.7 1.1 68 1 0 -1.3 -3.2zM427.1 90.4a1.4 0.9 76 1 0 0.7 2.7a1.4 0.9 76 1 0 -0.7 -2.7zM453.6 55.5a1.1 0.8 61 1 0 1.1 2a1.1 0.8 61 1 0 -1.1 -2zM395.9 119.6a1.1 0.8 81 1 0 0.4 2.3a1.1 0.8 81 1 0 -0.4 -2.3zM414.3 47.4a1.2 1.2 80 1 0 0.4 2.5a1.2 1.2 80 1 0 -0.4 -2.5zM395.3 115.7a1.4 0.8 74 1 0 0.8 2.7a1.4 0.8 74 1 0 -0.8 -2.7zM428.6 116.8a1.7 1.2 75 1 0 0.9 3.2a1.7 1.2 75 1 0 -0.9 -3.2zM464.2 80.8a1.3 0.8 78 1 0 0.5 2.5a1.3 0.8 78 1 0 -0.5 -2.5zM383.7 89.6a1.3 1.1 61 1 0 1.2 2.2a1.3 1.1 61 1 0 -1.2 -2.2zM472.6 109.3a1.3 1.1 88 1 0 0.1 2.7a1.3 1.1 88 1 0 -0.1 -2.7zM415 42.1a1.7 0.8 88 1 0 0.1 3.5a1.7 0.8 88 1 0 -0.1 -3.5zM465.1 87.4a1.8 1.2 65 1 0 1.5 3.3a1.8 1.2 65 1 0 -1.5 -3.3zM393.7 108.9a1.6 1.1 82 1 0 0.4 3.1a1.6 1.1 82 1 0 -0.4 -3.1zM455 92.3a1.1 1.1 83 1 0 0.3 2.2a1.1 1.1 83 1 0 -0.3 -2.2zM419.7 107.8a1.7 0.8 62 1 0 1.6 2.9a1.7 0.8 62 1 0 -1.6 -2.9zM425.9 39.4a1.2 1.1 94 1 0 -0.2 2.3a1.2 1.1 94 1 0 0.2 -2.3zM400.4 96.1a1.5 1.1 60 1 0 1.5 2.6a1.5 1.1 60 1 0 -1.5 -2.6zM446.2 126.4a1.7 1.2 80 1 0 0.6 3.3a1.7 1.2 80 1 0 -0.6 -3.3zM452.3 74.9a1.8 1 96 1 0 -0.4 3.5a1.8 1 96 1 0 0.4 -3.5zM386.4 44.6a1.5 0.8 73 1 0 0.9 3a1.5 0.8 73 1 0 -0.9 -3zM393.3 37.8a1.7 1.1 72 1 0 1 3.2a1.7 1.1 72 1 0 -1 -3.2zM422.6 86a1.2 1 86 1 0 0.2 2.3a1.2 1 86 1 0 -0.2 -2.3zM446.7 120.6a1.4 1 81 1 0 0.4 2.8a1.4 1 81 1 0 -0.4 -2.8zM426.3 41.7a1.2 0.8 82 1 0 0.3 2.4a1.2 0.8 82 1 0 -0.3 -2.4zM427.1 46.1a1.2 1.1 74 1 0 0.7 2.3a1.2 1.1 74 1 0 -0.7 -2.3zM451.3 89.9a1.4 1 64 1 0 1.2 2.5a1.4 1 64 1 0 -1.2 -2.5zM465.3 100a1.2 0.8 77 1 0 0.5 2.3a1.2 0.8 77 1 0 -0.5 -2.3zM379.4 108.5a1.3 1 65 1 0 1.1 2.4a1.3 1 65 1 0 -1.1 -2.4zM438.5 96.3a1.8 1 88 1 0 0.1 3.5a1.8 1 88 1 0 -0.1 -3.5zM409.1 59.8a1.1 1 65 1 0 0.9 2.1a1.1 1 65 1 0 -0.9 -2.1zM438.5 83a1.3 0.9 91 1 0 -0 2.6a1.3 0.9 91 1 0 0 -2.6zM442.6 87.2a1.5 1.2 73 1 0 0.8 2.8a1.5 1.2 73 1 0 -0.8 -2.8zM414.5 111.8a1.2 1 89 1 0 0 2.4a1.2 1 89 1 0 -0 -2.4zM464.7 99.4a1.1 0.9 79 1 0 0.4 2.2a1.1 0.9 79 1 0 -0.4 -2.2zM408.6 71a1.7 1 72 1 0 1.1 3.2a1.7 1 72 1 0 -1.1 -3.2zM402.5 105.3a1.3 1.1 82 1 0 0.4 2.7a1.3 1.1 82 1 0 -0.4 -2.7zM411.8 64.2a1.6 0.9 71 1 0 1.1 3.1a1.6 0.9 71 1 0 -1.1 -3.1zM441.8 36.4a1.2 1.2 98 1 0 -0.3 2.4a1.2 1.2 98 1 0 0.3 -2.4zM408.6 63.7a1.5 1.2 64 1 0 1.4 2.8a1.5 1.2 64 1 0 -1.4 -2.8zM458.4 59.8a1.7 1.1 84 1 0 0.3 3.3a1.7 1.1 84 1 0 -0.3 -3.3zM453.9 106.1a1.7 1 73 1 0 1 3.3a1.7 1 73 1 0 -1 -3.3zM429.2 125.4a1.6 1.2 96 1 0 -0.3 3.2a1.6 1.2 96 1 0 0.3 -3.2zM453.3 35.5a1.3 1.2 67 1 0 1 2.4a1.3 1.2 67 1 0 -1 -2.4zM460 64.8a1.5 0.8 89 1 0 0.1 2.9a1.5 0.8 89 1 0 -0.1 -2.9zM422.4 71.4a1.1 1.2 88 1 0 0.1 2.3a1.1 1.2 88 1 0 -0.1 -2.3zM463.8 85.7a1.6 0.9 84 1 0 0.3 3.2a1.6 0.9 84 1 0 -0.3 -3.2zM412 36a1.5 1 89 1 0 0.1 3a1.5 1 89 1 0 -0.1 -3zM466.3 103.8a1.7 0.9 84 1 0 0.4 3.3a1.7 0.9 84 1 0 -0.4 -3.3zM469.8 106.6a1.7 1.1 76 1 0 0.8 3.2a1.7 1.1 76 1 0 -0.8 -3.2zM448.2 76.7a1.3 0.8 79 1 0 0.5 2.5a1.3 0.8 79 1 0 -0.5 -2.5zM434.6 119.2a1.6 1.2 96 1 0 -0.3 3.3a1.6 1.2 96 1 0 0.3 -3.3zM452.5 119.5a1.1 1 62 1 0 1.1 2a1.1 1 62 1 0 -1.1 -2zM394.6 68a1.5 0.8 79 1 0 0.6 2.9a1.5 0.8 79 1 0 -0.6 -2.9zM437 100.2a1.2 1.1 83 1 0 0.3 2.5a1.2 1.1 83 1 0 -0.3 -2.5zM421.9 79.8a1.1 1.1 62 1 0 1 2a1.1 1.1 62 1 0 -1 -2zM395.9 44.1a1.7 0.8 94 1 0 -0.2 3.4a1.7 0.8 94 1 0 0.2 -3.4zM396.7 129.2a1.2 1 64 1 0 1 2.1a1.2 1 64 1 0 -1 -2.1zM470.4 123.4a1.6 1 63 1 0 1.5 2.9a1.6 1 63 1 0 -1.5 -2.9zM417.6 85a1.6 0.9 72 1 0 1 3a1.6 0.9 72 1 0 -1 -3zM394.7 74.9a1.1 1 96 1 0 -0.2 2.3a1.1 1 96 1 0 0.2 -2.3zM455.7 58.6a1.5 1.1 60 1 0 1.5 2.6a1.5 1.1 60 1 0 -1.5 -2.6zM399.7 98.5a1.2 1.2 78 1 0 0.5 2.3a1.2 1.2 78 1 0 -0.5 -2.3zM451.3 50.7a1.5 1 80 1 0 0.5 2.9a1.5 1 80 1 0 -0.5 -2.9zM395.6 101a1.7 0.8 77 1 0 0.8 3.3a1.7 0.8 77 1 0 -0.8 -3.3zM407.4 77.8a1.5 1.2 71 1 0 1 2.8a1.5 1.2 71 1 0 -1 -2.8zM387.7 54.7a1.8 0.9 91 1 0 -0.1 3.6a1.8 0.9 91 1 0 0.1 -3.6zM467.9 123.1a1.4 1.1 70 1 0 1 2.7a1.4 1.1 70 1 0 -1 -2.7zM395.7 111.6a1.7 0.8 91 1 0 -0.1 3.5a1.7 0.8 91 1 0 0.1 -3.5zM409.5 84.2a1.4 0.8 67 1 0 1.1 2.5a1.4 0.8 67 1 0 -1.1 -2.5zM389.1 71a1.7 0.8 65 1 0 1.4 3a1.7 0.8 65 1 0 -1.4 -3zM396.8 114.5a1.5 1.1 88 1 0 0.1 3a1.5 1.1 88 1 0 -0.1 -3zM463 79.7a1.7 1.2 83 1 0 0.4 3.5a1.7 1.2 83 1 0 -0.4 -3.5zM473.2 116.3a1.4 1 80 1 0 0.5 2.7a1.4 1 80 1 0 -0.5 -2.7zM415.6 51.8a1.7 1 94 1 0 -0.2 3.4a1.7 1 94 1 0 0.2 -3.4zM450.4 109.3a1.3 1 60 1 0 1.3 2.3a1.3 1 60 1 0 -1.3 -2.3zM410.8 126.5a1.3 1.2 84 1 0 0.3 2.5a1.3 1.2 84 1 0 -0.3 -2.5zM415.4 129.6a1.8 0.9 86 1 0 0.2 3.6a1.8 0.9 86 1 0 -0.2 -3.6zM464.9 124.8a1.6 0.8 76 1 0 0.8 3.1a1.6 0.8 76 1 0 -0.8 -3.1zM423.8 46.6a1.6 1.2 63 1 0 1.4 2.8a1.6 1.2 63 1 0 -1.4 -2.8zM417.9 37.8a1.2 1.1 78 1 0 0.5 2.3a1.2 1.1 78 1 0 -0.5 -2.3zM453.2 74.5a1.5 1.1 95 1 0 -0.3 3a1.5 1.1 95 1 0 0.3 -3zM451.4 87.7a1.7 0.8 93 1 0 -0.2 3.4a1.7 0.8 93 1 0 0.2 -3.4zM470.6 129.6a1.1 0.9 95 1 0 -0.2 2.2a1.1 0.9 95 1 0 0.2 -2.2zM434.3 99a1.5 1.2 95 1 0 -0.3 3.1a1.5 1.2 95 1 0 0.3 -3.1zM464.4 88.2a1.6 0.9 64 1 0 1.4 2.9a1.6 0.9 64 1 0 -1.4 -2.9zM428.6 41.6a1.4 1.2 100 1 0 -0.5 2.7a1.4 1.2 100 1 0 0.5 -2.7zM424.1 71a1.6 1.1 72 1 0 1 3a1.6 1.1 72 1 0 -1 -3zM393.1 77.4a1.7 1.1 92 1 0 -0.1 3.3a1.7 1.1 92 1 0 0.1 -3.3zM422.6 88.7a1.7 0.8 94 1 0 -0.2 3.4a1.7 0.8 94 1 0 0.2 -3.4zM441 54.4a1.6 0.9 73 1 0 0.9 3.1a1.6 0.9 73 1 0 -0.9 -3.1zM387 73.4a1.8 0.8 76 1 0 0.8 3.4a1.8 0.8 76 1 0 -0.8 -3.4zM420.4 113a1.2 0.9 94 1 0 -0.2 2.3a1.2 0.9 94 1 0 0.2 -2.3zM393.8 80.9a1.5 0.9 76 1 0 0.7 2.9a1.5 0.9 76 1 0 -0.7 -2.9zM423.4 93a1.5 0.9 63 1 0 1.4 2.7a1.5 0.9 63 1 0 -1.4 -2.7zM469.9 116.5a1.6 1.1 71 1 0 1.1 3.1a1.6 1.1 71 1 0 -1.1 -3.1zM426.6 43.5a1.2 1.2 90 1 0 0 2.3a1.2 1.2 90 1 0 -0 -2.3zM455.4 105a1.5 0.8 80 1 0 0.5 2.9a1.5 0.8 80 1 0 -0.5 -2.9zM448.9 90.1a1.6 1 71 1 0 1.1 3.1a1.6 1 71 1 0 -1.1 -3.1zM392.6 81.9a1.1 1.1 67 1 0 0.9 2a1.1 1.1 67 1 0 -0.9 -2zM465.8 107.4a1.3 1.1 81 1 0 0.4 2.6a1.3 1.1 81 1 0 -0.4 -2.6zM432.9 121.9a1.4 1.1 71 1 0 0.9 2.6a1.4 1.1 71 1 0 -0.9 -2.6zM411.5 38.9a1.1 1.2 82 1 0 0.3 2.3a1.1 1.2 82 1 0 -0.3 -2.3zM450.1 55.9a1.4 1.2 87 1 0 0.1 2.8a1.4 1.2 87 1 0 -0.1 -2.8zM408.8 69.7a1.7 1.1 68 1 0 1.3 3.1a1.7 1.1 68 1 0 -1.3 -3.1zM413.4 114.6a1.6 1.2 94 1 0 -0.2 3.3a1.6 1.2 94 1 0 0.2 -3.3zM397.5 48.5a1.8 1.2 73 1 0 1 3.4a1.8 1.2 73 1 0 -1 -3.4zM409 118a1.5 0.8 63 1 0 1.4 2.7a1.5 0.8 63 1 0 -1.4 -2.7zM452.8 53.4a1.5 1.2 96 1 0 -0.3 3a1.5 1.2 96 1 0 0.3 -3zM455.6 108.9a1.3 0.9 97 1 0 -0.3 2.7a1.3 0.9 97 1 0 0.3 -2.7zM392.8 77.7a1.8 1.2 80 1 0 0.6 3.5a1.8 1.2 80 1 0 -0.6 -3.5zM453.7 75.5a1.7 0.8 73 1 0 1 3.3a1.7 0.8 73 1 0 -1 -3.3zM452.5 104.7a1.6 1.1 73 1 0 1 3.1a1.6 1.1 73 1 0 -1 -3.1zM447 110.7a1.2 1.1 95 1 0 -0.2 2.4a1.2 1.1 95 1 0 0.2 -2.4zM450.3 119a1.5 1.2 71 1 0 1 2.9a1.5 1.2 71 1 0 -1 -2.9zM398.9 117.5a1.2 1.1 82 1 0 0.3 2.4a1.2 1.1 82 1 0 -0.3 -2.4zM430.1 40.2a1.6 0.9 100 1 0 -0.6 3.2a1.6 0.9 100 1 0 0.6 -3.2zM394.2 116.8a1.4 1.1 80 1 0 0.5 2.7a1.4 1.1 80 1 0 -0.5 -2.7zM434.4 43.9a1.2 1.1 63 1 0 1.1 2.1a1.2 1.1 63 1 0 -1.1 -2.1zM454.1 110.2a1.5 0.9 79 1 0 0.6 2.9a1.5 0.9 79 1 0 -0.6 -2.9zM388.2 41.6a1.4 0.8 83 1 0 0.4 2.9a1.4 0.8 83 1 0 -0.4 -2.9zM435.9 113.6a1.6 1.2 98 1 0 -0.5 3.2a1.6 1.2 98 1 0 0.5 -3.2zM405.2 90.9a1.6 0.8 96 1 0 -0.3 3.2a1.6 0.8 96 1 0 0.3 -3.2zM415.7 117.7a1.4 0.8 79 1 0 0.6 2.8a1.4 0.8 79 1 0 -0.6 -2.8zM392 35.2a1.7 0.8 80 1 0 0.6 3.4a1.7 0.8 80 1 0 -0.6 -3.4zM457.9 123a1.6 0.8 62 1 0 1.5 2.8a1.6 0.8 62 1 0 -1.5 -2.8zM392.9 89.6a1.4 0.9 73 1 0 0.8 2.8a1.4 0.9 73 1 0 -0.8 -2.8zM382.4 98.3a1.3 1.2 72 1 0 0.8 2.4a1.3 1.2 72 1 0 -0.8 -2.4zM456.4 63.8a1.1 0.9 97 1 0 -0.3 2.2a1.1 0.9 97 1 0 0.3 -2.2zM391.5 80.9a1.4 1.1 98 1 0 -0.4 2.8a1.4 1.1 98 1 0 0.4 -2.8zM406 97.2a1.1 1.1 69 1 0 0.8 2.1a1.1 1.1 69 1 0 -0.8 -2.1zM413.3 47.1a1.7 1 76 1 0 0.8 3.4a1.7 1 76 1 0 -0.8 -3.4zM421.9 109.9a1.6 1 73 1 0 1 3.2a1.6 1 73 1 0 -1 -3.2zM418.5 49.3a1.4 1 60 1 0 1.4 2.4a1.4 1 60 1 0 -1.4 -2.4zM436.3 99.1a1.8 0.9 89 1 0 0.1 3.6a1.8 0.9 89 1 0 -0.1 -3.6zM450.3 125a1.6 0.8 98 1 0 -0.4 3.1a1.6 0.8 98 1 0 0.4 -3.1zM456 78.3a1.6 1 64 1 0 1.4 2.9a1.6 1 64 1 0 -1.4 -2.9zM434.4 56.6a1.3 1 98 1 0 -0.4 2.6a1.3 1 98 1 0 0.4 -2.6zM457.9 66.8a1.7 1.1 82 1 0 0.5 3.4a1.7 1.1 82 1 0 -0.5 -3.4zM470.5 82.4a1.4 1.2 76 1 0 0.7 2.7a1.4 1.2 76 1 0 -0.7 -2.7zM381.9 92.3a1.6 1.1 67 1 0 1.3 3a1.6 1.1 67 1 0 -1.3 -3zM406.7 94.3a1.3 1.1 74 1 0 0.7 2.5a1.3 1.1 74 1 0 -0.7 -2.5zM429.7 110.2a1.2 1 84 1 0 0.2 2.4a1.2 1 84 1 0 -0.2 -2.4zM473.1 126.6a1.1 0.8 85 1 0 0.2 2.3a1.1 0.8 85 1 0 -0.2 -2.3zM409.7 49.9a1.3 1.1 88 1 0 0.1 2.7a1.3 1.1 88 1 0 -0.1 -2.7zM403 88.2a1.3 1.2 83 1 0 0.3 2.6a1.3 1.2 83 1 0 -0.3 -2.6zM383.2 102.1a1.3 0.9 68 1 0 0.9 2.3a1.3 0.9 68 1 0 -0.9 -2.3zM436.1 42.2a1.3 1.2 80 1 0 0.5 2.6a1.3 1.2 80 1 0 -0.5 -2.6zM397.1 101.5a1.8 0.8 61 1 0 1.7 3.1a1.8 0.8 61 1 0 -1.7 -3.1zM408.7 55.5a1.3 1 73 1 0 0.8 2.5a1.3 1 73 1 0 -0.8 -2.5zM417.3 36.2a1.5 1.1 78 1 0 0.6 2.9a1.5 1.1 78 1 0 -0.6 -2.9zM454.8 85.7a1.8 0.8 77 1 0 0.8 3.4a1.8 0.8 77 1 0 -0.8 -3.4zM421.4 111.6a1.5 1 70 1 0 1 2.8a1.5 1 70 1 0 -1 -2.8zM437.9 92.7a1.6 1.1 67 1 0 1.3 3a1.6 1.1 67 1 0 -1.3 -3zM407.9 75.7a1.2 1.2 92 1 0 -0.1 2.4a1.2 1.2 92 1 0 0.1 -2.4zM469.8 129.1a1.5 1 70 1 0 1 2.9a1.5 1 70 1 0 -1 -2.9zM428.6 84a1.1 0.8 98 1 0 -0.3 2.2a1.1 0.8 98 1 0 0.3 -2.2zM415.5 114.9a1.6 1.1 96 1 0 -0.3 3.1a1.6 1.1 96 1 0 0.3 -3.1zM453.6 125.6a1.3 1.1 95 1 0 -0.2 2.6a1.3 1.1 95 1 0 0.2 -2.6zM415.5 40.2a1.2 1.1 89 1 0 0 2.4a1.2 1.1 89 1 0 -0 -2.4zM397.4 111.1a1.5 1.2 99 1 0 -0.5 3a1.5 1.2 99 1 0 0.5 -3zM433.9 90.7a1.6 1.1 63 1 0 1.5 2.9a1.6 1.1 63 1 0 -1.5 -2.9zM438.9 111a1.4 1 67 1 0 1.1 2.6a1.4 1 67 1 0 -1.1 -2.6zM395.1 109.4a1.1 1 98 1 0 -0.3 2.2a1.1 1 98 1 0 0.3 -2.2zM393.2 65.7a1.3 0.8 96 1 0 -0.3 2.6a1.3 0.8 96 1 0 0.3 -2.6zM395.3 41.7a1.1 1 79 1 0 0.4 2.2a1.1 1 79 1 0 -0.4 -2.2zM429.7 46.2a1.5 1.1 73 1 0 0.9 2.9a1.5 1.1 73 1 0 -0.9 -2.9zM392.5 75.2a1.8 0.8 99 1 0 -0.6 3.5a1.8 0.8 99 1 0 0.6 -3.5zM413.3 56.4a1.4 1.1 96 1 0 -0.3 2.9a1.4 1.1 96 1 0 0.3 -2.9zM385.4 75.1a1.4 1.1 78 1 0 0.6 2.7a1.4 1.1 78 1 0 -0.6 -2.7zM466.9 116.8a1.2 1.1 64 1 0 1 2.1a1.2 1.1 64 1 0 -1 -2.1zM435.4 128.2a1.3 0.9 96 1 0 -0.3 2.6a1.3 0.9 96 1 0 0.3 -2.6zM394.3 83.6a1.4 1.2 93 1 0 -0.1 2.7a1.4 1.2 93 1 0 0.1 -2.7zM467.6 129a1.4 1 100 1 0 -0.5 2.8a1.4 1 100 1 0 0.5 -2.8zM425.1 87.8a1.5 0.8 93 1 0 -0.2 2.9a1.5 0.8 93 1 0 0.2 -2.9zM446.3 107.9a1.1 1.1 79 1 0 0.4 2.2a1.1 1.1 79 1 0 -0.4 -2.2zM453.1 44.7a1.7 0.9 60 1 0 1.7 2.9a1.7 0.9 60 1 0 -1.7 -2.9zM385 86.5a1.4 1 72 1 0 0.8 2.6a1.4 1 72 1 0 -0.8 -2.6zM424.6 46.6a1.3 1.1 60 1 0 1.3 2.3a1.3 1.1 60 1 0 -1.3 -2.3zM452.2 35.6a1.6 1.2 81 1 0 0.5 3.2a1.6 1.2 81 1 0 -0.5 -3.2zM450.6 128.7a1.6 0.8 92 1 0 -0.1 3.2a1.6 0.8 92 1 0 0.1 -3.2zM468.8 118.2a1.5 1 91 1 0 -0.1 2.9a1.5 1 91 1 0 0.1 -2.9zM425 125.1a1.6 1.2 74 1 0 0.9 3.1a1.6 1.2 74 1 0 -0.9 -3.1zM442.8 110.2a1.3 1.1 73 1 0 0.8 2.6a1.3 1.1 73 1 0 -0.8 -2.6zM425.9 55.6a1.3 0.9 87 1 0 0.1 2.5a1.3 0.9 87 1 0 -0.1 -2.5zM411.3 126.9a1.6 0.9 81 1 0 0.5 3.2a1.6 0.9 81 1 0 -0.5 -3.2zM423.4 85.5a1.4 1.1 81 1 0 0.4 2.7a1.4 1.1 81 1 0 -0.4 -2.7zM444.1 126.7a1.4 1.1 72 1 0 0.9 2.7a1.4 1.1 72 1 0 -0.9 -2.7zM470.4 93.2a1.5 0.8 80 1 0 0.5 3a1.5 0.8 80 1 0 -0.5 -3zM437.6 43.2a1.4 1.2 78 1 0 0.6 2.7a1.4 1.2 78 1 0 -0.6 -2.7zM394.8 54.3a1.3 1 92 1 0 -0.1 2.6a1.3 1 92 1 0 0.1 -2.6zM468.8 106.5a1.5 1 64 1 0 1.4 2.8a1.5 1 64 1 0 -1.4 -2.8zM415.7 58.6a1.6 1.1 91 1 0 -0.1 3.2a1.6 1.1 91 1 0 0.1 -3.2zM439.7 45.1a1.3 0.9 65 1 0 1.1 2.4a1.3 0.9 65 1 0 -1.1 -2.4zM420.2 86.7a1.5 1 61 1 0 1.4 2.5a1.5 1 61 1 0 -1.4 -2.5zM401.5 87.3a1.5 0.9 65 1 0 1.2 2.6a1.5 0.9 65 1 0 -1.2 -2.6zM381.8 101.5a1.5 0.9 60 1 0 1.5 2.7a1.5 0.9 60 1 0 -1.5 -2.7zM465.9 77.7a1.5 1 61 1 0 1.4 2.6a1.5 1 61 1 0 -1.4 -2.6zM462.8 85.8a1.3 1.1 93 1 0 -0.1 2.5a1.3 1.1 93 1 0 0.1 -2.5zM452.7 93.2a1.7 0.9 74 1 0 1 3.3a1.7 0.9 74 1 0 -1 -3.3zM412.7 122.8a1.8 0.9 97 1 0 -0.4 3.5a1.8 0.9 97 1 0 0.4 -3.5zM425.4 61.2a1.2 0.9 100 1 0 -0.4 2.4a1.2 0.9 100 1 0 0.4 -2.4zM444 42.1a1.3 1 68 1 0 1 2.4a1.3 1 68 1 0 -1 -2.4zM454.1 119.3a1.2 0.9 96 1 0 -0.3 2.5a1.2 0.9 96 1 0 0.3 -2.5zM384.6 102.7a1.6 1 71 1 0 1 2.9a1.6 1 71 1 0 -1 -2.9zM417.5 36.7a1.4 0.9 82 1 0 0.4 2.8a1.4 0.9 82 1 0 -0.4 -2.8zM453.6 42.8a1.4 1.2 99 1 0 -0.4 2.7a1.4 1.2 99 1 0 0.4 -2.7zM427.6 87.3a1.2 1 99 1 0 -0.4 2.3a1.2 1 99 1 0 0.4 -2.3zM470.9 83.5a1.7 1.2 65 1 0 1.4 3a1.7 1.2 65 1 0 -1.4 -3zM396 56.6a1.6 1.1 89 1 0 0.1 3.2a1.6 1.1 89 1 0 -0.1 -3.2zM397.9 48.9a1.2 1.2 84 1 0 0.2 2.3a1.2 1.2 84 1 0 -0.2 -2.3zM391.2 64.6a1.5 0.8 95 1 0 -0.3 3a1.5 0.8 95 1 0 0.3 -3zM449.3 50.2a1.1 1 68 1 0 0.8 2.1a1.1 1 68 1 0 -0.8 -2.1z" fill="#2f7e60" opacity="0.6"/>
<path d="M426.9 76.9a1.5 1.2 100 1 0 -0.5 2.9a1.5 1.2 100 1 0 0.5 -2.9zM384.3 95.1a1.3 1.1 65 1 0 1.1 2.3a1.3 1.1 65 1 0 -1.1 -2.3zM388.5 83.6a1.6 0.9 85 1 0 0.3 3.2a1.6 0.9 85 1 0 -0.3 -3.2zM389.9 80.7a1.5 1.1 64 1 0 1.3 2.8a1.5 1.1 64 1 0 -1.3 -2.8zM399.6 122.3a1.1 1.1 86 1 0 0.2 2.3a1.1 1.1 86 1 0 -0.2 -2.3zM406.7 85.9a1.2 1.2 68 1 0 0.9 2.2a1.2 1.2 68 1 0 -0.9 -2.2zM450.4 91a1.1 0.8 61 1 0 1.1 2a1.1 0.8 61 1 0 -1.1 -2zM455.2 65.6a1.2 1.2 94 1 0 -0.2 2.3a1.2 1.2 94 1 0 0.2 -2.3zM455.6 120.4a1.6 1.1 81 1 0 0.5 3.1a1.6 1.1 81 1 0 -0.5 -3.1zM385.3 80a1.7 0.8 61 1 0 1.6 3a1.7 0.8 61 1 0 -1.6 -3zM385.3 95.5a1.7 1.2 81 1 0 0.5 3.4a1.7 1.2 81 1 0 -0.5 -3.4zM442.4 84.4a1.3 1.1 88 1 0 0.1 2.7a1.3 1.1 88 1 0 -0.1 -2.7zM390.8 82.1a1.7 1.2 64 1 0 1.5 3a1.7 1.2 64 1 0 -1.5 -3zM427.5 123.1a1.4 1.2 93 1 0 -0.1 2.7a1.4 1.2 93 1 0 0.1 -2.7zM406.5 68.8a1.5 1.1 68 1 0 1.1 2.8a1.5 1.1 68 1 0 -1.1 -2.8zM417.7 77.8a1.7 0.8 60 1 0 1.7 3a1.7 0.8 60 1 0 -1.7 -3zM435.6 96.9a1.7 1 81 1 0 0.5 3.3a1.7 1 81 1 0 -0.5 -3.3zM400.4 117.8a1.1 1 94 1 0 -0.2 2.2a1.1 1 94 1 0 0.2 -2.2zM386.9 50.9a1.4 1.2 85 1 0 0.2 2.8a1.4 1.2 85 1 0 -0.2 -2.8zM449.9 65.7a1.5 0.9 65 1 0 1.2 2.8a1.5 0.9 65 1 0 -1.2 -2.8zM390.8 58.1a1.3 1.1 65 1 0 1 2.3a1.3 1.1 65 1 0 -1 -2.3zM428.7 37.3a1.5 1.1 96 1 0 -0.3 3a1.5 1.1 96 1 0 0.3 -3zM386.6 41.1a1.4 1.2 65 1 0 1.2 2.6a1.4 1.2 65 1 0 -1.2 -2.6zM416 123.1a1.2 1.1 60 1 0 1.2 2a1.2 1.1 60 1 0 -1.2 -2zM472.9 111a1.7 1.1 100 1 0 -0.6 3.4a1.7 1.1 100 1 0 0.6 -3.4zM437.6 53.3a1.3 1 76 1 0 0.6 2.6a1.3 1 76 1 0 -0.6 -2.6zM453.6 42a1.4 0.9 60 1 0 1.4 2.5a1.4 0.9 60 1 0 -1.4 -2.5zM384.8 92.2a1.1 1.1 70 1 0 0.8 2.1a1.1 1.1 70 1 0 -0.8 -2.1zM426.8 51.2a1.5 1 63 1 0 1.4 2.7a1.5 1 63 1 0 -1.4 -2.7zM448.4 78.3a1.5 0.9 86 1 0 0.2 3a1.5 0.9 86 1 0 -0.2 -3zM401.9 128.4a1.3 1 81 1 0 0.4 2.7a1.3 1 81 1 0 -0.4 -2.7zM469.6 111.1a1.7 1 73 1 0 1 3.2a1.7 1 73 1 0 -1 -3.2zM422.6 59.7a1.4 1.2 98 1 0 -0.4 2.7a1.4 1.2 98 1 0 0.4 -2.7zM458.5 66.4a1.3 1.2 80 1 0 0.4 2.5a1.3 1.2 80 1 0 -0.4 -2.5zM423.8 91.5a1.6 1.2 77 1 0 0.7 3.1a1.6 1.2 77 1 0 -0.7 -3.1zM379.8 99.2a1.7 1 96 1 0 -0.3 3.3a1.7 1 96 1 0 0.3 -3.3zM464.4 75.2a1.4 1.1 93 1 0 -0.2 2.9a1.4 1.1 93 1 0 0.2 -2.9zM422.4 74.8a1.6 0.8 100 1 0 -0.6 3.2a1.6 0.8 100 1 0 0.6 -3.2zM444.1 124.3a1.7 1 91 1 0 -0.1 3.4a1.7 1 91 1 0 0.1 -3.4zM475.2 43.9a1.2 1.2 94 1 0 -0.2 2.5a1.2 1.2 94 1 0 0.2 -2.5zM398.6 104.2a1.8 0.9 96 1 0 -0.4 3.5a1.8 0.9 96 1 0 0.4 -3.5zM446 108a1.4 1.2 81 1 0 0.4 2.7a1.4 1.2 81 1 0 -0.4 -2.7zM409.6 77.2a1.2 1 81 1 0 0.4 2.5a1.2 1 81 1 0 -0.4 -2.5zM421.3 66.5a1.7 0.8 77 1 0 0.8 3.3a1.7 0.8 77 1 0 -0.8 -3.3zM456.2 120.7a1.2 0.9 60 1 0 1.2 2.1a1.2 0.9 60 1 0 -1.2 -2.1zM425 73.2a1.8 1.1 68 1 0 1.3 3.2a1.8 1.1 68 1 0 -1.3 -3.2zM448.8 48.7a1.5 1.2 90 1 0 0 3a1.5 1.2 90 1 0 -0 -3zM420.7 94.2a1.6 1.1 78 1 0 0.7 3.2a1.6 1.1 78 1 0 -0.7 -3.2zM408.4 122.9a1.2 1.2 82 1 0 0.3 2.4a1.2 1.2 82 1 0 -0.3 -2.4zM409.9 120.5a1.6 1.2 68 1 0 1.2 3a1.6 1.2 68 1 0 -1.2 -3zM451.1 124.5a1.2 1 74 1 0 0.6 2.2a1.2 1 74 1 0 -0.6 -2.2zM431.9 128.1a1.2 1.2 74 1 0 0.7 2.4a1.2 1.2 74 1 0 -0.7 -2.4zM425.2 118.7a1.5 0.9 98 1 0 -0.4 3a1.5 0.9 98 1 0 0.4 -3zM392.2 78.7a1.1 1.1 75 1 0 0.6 2.2a1.1 1.1 75 1 0 -0.6 -2.2zM455.2 56.9a1.5 0.9 75 1 0 0.8 2.9a1.5 0.9 75 1 0 -0.8 -2.9zM462.8 80.6a1.5 1 79 1 0 0.6 3a1.5 1 79 1 0 -0.6 -3zM466.4 86.1a1.2 1 93 1 0 -0.1 2.4a1.2 1 93 1 0 0.1 -2.4zM414.1 55.9a1.1 0.8 100 1 0 -0.4 2.2a1.1 0.8 100 1 0 0.4 -2.2zM416.4 109.4a1.7 0.9 67 1 0 1.3 3.1a1.7 0.9 67 1 0 -1.3 -3.1zM451.8 56.4a1.2 1.2 70 1 0 0.8 2.3a1.2 1.2 70 1 0 -0.8 -2.3zM387.1 67.8a1.2 1 97 1 0 -0.3 2.4a1.2 1 97 1 0 0.3 -2.4zM464 119.4a1.4 1.1 81 1 0 0.4 2.7a1.4 1.1 81 1 0 -0.4 -2.7zM435.1 93.6a1.1 0.8 89 1 0 0 2.3a1.1 0.8 89 1 0 -0 -2.3zM417.9 121.7a1.2 0.8 92 1 0 -0.1 2.4a1.2 0.8 92 1 0 0.1 -2.4zM409.6 69.6a1.2 1.2 72 1 0 0.7 2.3a1.2 1.2 72 1 0 -0.7 -2.3zM401.5 100a1.1 0.9 94 1 0 -0.2 2.2a1.1 0.9 94 1 0 0.2 -2.2zM467.6 107.5a1.7 0.8 81 1 0 0.5 3.3a1.7 0.8 81 1 0 -0.5 -3.3zM468 84.1a1.1 1.1 99 1 0 -0.4 2.2a1.1 1.1 99 1 0 0.4 -2.2zM404.4 83.4a1.4 1.1 100 1 0 -0.5 2.7a1.4 1.1 100 1 0 0.5 -2.7zM397.7 94.2a1.6 0.9 60 1 0 1.6 2.7a1.6 0.9 60 1 0 -1.6 -2.7zM439.4 124.7a1.2 1.2 77 1 0 0.5 2.3a1.2 1.2 77 1 0 -0.5 -2.3zM436 120.4a1.4 1.2 69 1 0 1 2.6a1.4 1.2 69 1 0 -1 -2.6zM419.9 65.9a1.2 0.8 95 1 0 -0.2 2.5a1.2 0.8 95 1 0 0.2 -2.5zM433.9 98.1a1.6 1.2 90 1 0 0 3.3a1.6 1.2 90 1 0 -0 -3.3zM391.7 65.8a1.5 1.1 77 1 0 0.7 2.8a1.5 1.1 77 1 0 -0.7 -2.8zM409.4 54.9a1.2 0.9 83 1 0 0.3 2.4a1.2 0.9 83 1 0 -0.3 -2.4zM396 37.6a1.1 0.9 65 1 0 0.9 2.1a1.1 0.9 65 1 0 -0.9 -2.1zM395.4 41.3a1.5 1 80 1 0 0.5 3a1.5 1 80 1 0 -0.5 -3zM427.1 124.1a1.6 1 71 1 0 1.1 3.1a1.6 1 71 1 0 -1.1 -3.1zM466.5 100.5a1.6 1 86 1 0 0.2 3.1a1.6 1 86 1 0 -0.2 -3.1zM434.9 39.1a1.5 1.2 88 1 0 0.1 2.9a1.5 1.2 88 1 0 -0.1 -2.9zM404.5 94.2a1.4 0.8 95 1 0 -0.2 2.8a1.4 0.8 95 1 0 0.2 -2.8zM387.7 76.8a1.7 1.1 64 1 0 1.5 3.1a1.7 1.1 64 1 0 -1.5 -3.1zM467.9 108.1a1.7 1 69 1 0 1.2 3.2a1.7 1 69 1 0 -1.2 -3.2zM421.5 93.3a1.6 0.8 89 1 0 0.1 3.2a1.6 0.8 89 1 0 -0.1 -3.2zM421.1 56.1a1.4 1.1 81 1 0 0.4 2.7a1.4 1.1 81 1 0 -0.4 -2.7zM442 36.5a1.5 0.9 76 1 0 0.7 2.9a1.5 0.9 76 1 0 -0.7 -2.9zM390.4 89.3a1.2 0.8 92 1 0 -0.1 2.3a1.2 0.8 92 1 0 0.1 -2.3zM408.4 126.8a1.7 1.1 62 1 0 1.6 3a1.7 1.1 62 1 0 -1.6 -3zM471.3 125.1a1.5 1 65 1 0 1.2 2.7a1.5 1 65 1 0 -1.2 -2.7zM441 55.8a1.7 0.8 84 1 0 0.3 3.3a1.7 0.8 84 1 0 -0.3 -3.3zM442.3 91a1.4 0.9 93 1 0 -0.2 2.9a1.4 0.9 93 1 0 0.2 -2.9zM468.4 73.3a1.6 0.9 65 1 0 1.3 2.9a1.6 0.9 65 1 0 -1.3 -2.9zM465.8 98.7a1.2 1 67 1 0 0.9 2.2a1.2 1 67 1 0 -0.9 -2.2zM421.1 86.3a1.2 1.2 77 1 0 0.5 2.3a1.2 1.2 77 1 0 -0.5 -2.3zM452.3 81.8a1.7 1 92 1 0 -0.1 3.3a1.7 1 92 1 0 0.1 -3.3zM394.4 68.3a1.5 1 84 1 0 0.3 2.9a1.5 1 84 1 0 -0.3 -2.9zM380.5 101.4a1.5 1 81 1 0 0.5 2.9a1.5 1 81 1 0 -0.5 -2.9zM434 59.4a1.3 0.9 68 1 0 1 2.4a1.3 0.9 68 1 0 -1 -2.4zM452.1 91.2a1.3 1.1 87 1 0 0.1 2.6a1.3 1.1 87 1 0 -0.1 -2.6zM384.3 87.2a1.7 1 64 1 0 1.5 3.1a1.7 1 64 1 0 -1.5 -3.1zM436.4 127.7a1.2 1 79 1 0 0.5 2.3a1.2 1 79 1 0 -0.5 -2.3zM478.8 38a1.7 0.8 61 1 0 1.7 3a1.7 0.8 61 1 0 -1.7 -3zM416.3 126.2a1.4 0.9 74 1 0 0.8 2.6a1.4 0.9 74 1 0 -0.8 -2.6zM414.1 55.7a1.7 0.9 75 1 0 0.9 3.3a1.7 0.9 75 1 0 -0.9 -3.3zM425.5 56.3a1.2 1.2 99 1 0 -0.4 2.4a1.2 1.2 99 1 0 0.4 -2.4zM397.6 47.7a1.7 1.1 89 1 0 0.1 3.4a1.7 1.1 89 1 0 -0.1 -3.4zM406.4 84.7a1.4 1.2 93 1 0 -0.1 2.8a1.4 1.2 93 1 0 0.1 -2.8zM425.9 53.1a1.8 1.2 61 1 0 1.7 3.1a1.8 1.2 61 1 0 -1.7 -3.1zM395.2 105.4a1.1 0.9 74 1 0 0.6 2.1a1.1 0.9 74 1 0 -0.6 -2.1zM436.6 100.3a1.6 0.9 70 1 0 1.1 3a1.6 0.9 70 1 0 -1.1 -3zM392.5 90.1a1.4 1.1 97 1 0 -0.3 2.8a1.4 1.1 97 1 0 0.3 -2.8zM451.3 67.4a1.5 1.1 60 1 0 1.5 2.7a1.5 1.1 60 1 0 -1.5 -2.7zM405.2 89.8a1.4 1.1 65 1 0 1.2 2.6a1.4 1.1 65 1 0 -1.2 -2.6zM445 127.4a1.4 0.9 65 1 0 1.2 2.6a1.4 0.9 65 1 0 -1.2 -2.6zM453.1 112.2a1.2 1.2 90 1 0 0 2.4a1.2 1.2 90 1 0 -0 -2.4zM453.2 39a1.8 1.2 81 1 0 0.6 3.5a1.8 1.2 81 1 0 -0.6 -3.5zM448.1 45.2a1.7 1.2 79 1 0 0.7 3.4a1.7 1.2 79 1 0 -0.7 -3.4zM446.7 108.7a1.5 1.1 80 1 0 0.5 2.9a1.5 1.1 80 1 0 -0.5 -2.9zM407.3 125.4a1.8 1.1 63 1 0 1.6 3.2a1.8 1.1 63 1 0 -1.6 -3.2zM423 80.2a1.5 1 92 1 0 -0.1 3.1a1.5 1 92 1 0 0.1 -3.1zM413.1 37a1.6 1.2 96 1 0 -0.3 3.2a1.6 1.2 96 1 0 0.3 -3.2zM413.5 69.9a1.3 1 95 1 0 -0.2 2.5a1.3 1 95 1 0 0.2 -2.5zM458.2 67.8a1.3 1.2 100 1 0 -0.5 2.6a1.3 1.2 100 1 0 0.5 -2.6zM394.4 69.5a1.6 0.9 69 1 0 1.1 3a1.6 0.9 69 1 0 -1.1 -3zM405.1 81.9a1.1 1.1 78 1 0 0.5 2.2a1.1 1.1 78 1 0 -0.5 -2.2zM399.2 102a1.3 1.1 73 1 0 0.8 2.6a1.3 1.1 73 1 0 -0.8 -2.6zM435.5 92.2a1.6 0.9 81 1 0 0.5 3.1a1.6 0.9 81 1 0 -0.5 -3.1zM414.9 59a1.3 0.9 61 1 0 1.2 2.2a1.3 0.9 61 1 0 -1.2 -2.2zM404.9 77a1.8 1 74 1 0 1 3.5a1.8 1 74 1 0 -1 -3.5zM380 110.9a1.3 1.1 72 1 0 0.8 2.5a1.3 1.1 72 1 0 -0.8 -2.5zM388.8 85.9a1.4 0.9 95 1 0 -0.2 2.8a1.4 0.9 95 1 0 0.2 -2.8zM414.8 126.1a1.2 1 69 1 0 0.8 2.2a1.2 1 69 1 0 -0.8 -2.2zM377.9 103.6a1.5 1.2 75 1 0 0.8 2.9a1.5 1.2 75 1 0 -0.8 -2.9zM444.6 105.3a1.6 1.2 80 1 0 0.5 3.1a1.6 1.2 80 1 0 -0.5 -3.1zM417.4 113.2a1.6 0.9 71 1 0 1 3a1.6 0.9 71 1 0 -1 -3zM418.3 85.8a1.1 0.8 98 1 0 -0.3 2.2a1.1 0.8 98 1 0 0.3 -2.2zM454.2 42.9a1.1 1.2 72 1 0 0.7 2.1a1.1 1.2 72 1 0 -0.7 -2.1zM402.2 96.5a1.6 0.8 68 1 0 1.2 3a1.6 0.8 68 1 0 -1.2 -3zM405.3 98.9a1.1 1.2 71 1 0 0.7 2.1a1.1 1.2 71 1 0 -0.7 -2.1zM411.4 61.3a1.5 1.2 64 1 0 1.4 2.8a1.5 1.2 64 1 0 -1.4 -2.8zM454.4 89.3a1.8 1.1 63 1 0 1.6 3.2a1.8 1.1 63 1 0 -1.6 -3.2zM451.8 116.9a1.4 1.2 83 1 0 0.3 2.7a1.4 1.2 83 1 0 -0.3 -2.7zM436 90.2a1.6 1.2 80 1 0 0.5 3.1a1.6 1.2 80 1 0 -0.5 -3.1zM424.5 62.4a1.2 1 88 1 0 0.1 2.5a1.2 1 88 1 0 -0.1 -2.5zM415.4 44.3a1.6 1.2 64 1 0 1.4 2.9a1.6 1.2 64 1 0 -1.4 -2.9zM448.5 55.5a1.5 1 63 1 0 1.4 2.7a1.5 1 63 1 0 -1.4 -2.7zM421.2 108.8a1.4 1.2 70 1 0 1 2.6a1.4 1.2 70 1 0 -1 -2.6zM386.9 82.8a1.8 1 98 1 0 -0.5 3.5a1.8 1 98 1 0 0.5 -3.5zM414.3 115.4a1.6 1.1 78 1 0 0.7 3.1a1.6 1.1 78 1 0 -0.7 -3.1zM449.4 39.3a1.5 0.9 71 1 0 1 2.8a1.5 0.9 71 1 0 -1 -2.8zM385.4 59.6a1.3 1.1 64 1 0 1.1 2.3a1.3 1.1 64 1 0 -1.1 -2.3zM451.5 124.3a1.8 1.2 77 1 0 0.8 3.4a1.8 1.2 77 1 0 -0.8 -3.4zM454.7 37.7a1.7 1.1 80 1 0 0.6 3.3a1.7 1.1 80 1 0 -0.6 -3.3zM438.1 120.3a1.6 1.2 62 1 0 1.5 2.9a1.6 1.2 62 1 0 -1.5 -2.9zM424.2 79.4a1.3 1 99 1 0 -0.4 2.6a1.3 1 99 1 0 0.4 -2.6zM448 107.3a1.3 0.8 73 1 0 0.8 2.5a1.3 0.8 73 1 0 -0.8 -2.5zM457.4 113.1a1.2 1.2 67 1 0 1 2.3a1.2 1.2 67 1 0 -1 -2.3zM415.1 38.2a1.4 0.8 74 1 0 0.8 2.7a1.4 0.8 74 1 0 -0.8 -2.7zM394.7 129.2a1.7 0.9 67 1 0 1.3 3.1a1.7 0.9 67 1 0 -1.3 -3.1zM472.8 117.6a1.1 1 78 1 0 0.5 2.2a1.1 1 78 1 0 -0.5 -2.2zM430.2 108.9a1.3 0.9 78 1 0 0.5 2.5a1.3 0.9 78 1 0 -0.5 -2.5zM421.2 73.3a1.6 1.2 65 1 0 1.3 2.8a1.6 1.2 65 1 0 -1.3 -2.8zM416.6 125.2a1.5 0.8 69 1 0 1.1 2.8a1.5 0.8 69 1 0 -1.1 -2.8zM390.3 87.8a1.2 1 84 1 0 0.3 2.4a1.2 1 84 1 0 -0.3 -2.4zM402.4 110a1.3 1.2 65 1 0 1 2.3a1.3 1.2 65 1 0 -1 -2.3zM453.7 79.8a1.6 1.1 92 1 0 -0.1 3.3a1.6 1.1 92 1 0 0.1 -3.3zM424.7 100.1a1.2 1 60 1 0 1.2 2a1.2 1 60 1 0 -1.2 -2zM454.7 93.6a1.3 0.9 64 1 0 1.2 2.4a1.3 0.9 64 1 0 -1.2 -2.4zM449.2 121.7a1.5 1.1 64 1 0 1.3 2.7a1.5 1.1 64 1 0 -1.3 -2.7zM426.4 36.4a1.5 1.1 99 1 0 -0.5 3.1a1.5 1.1 99 1 0 0.5 -3.1zM398.4 38.5a1.2 1.1 100 1 0 -0.4 2.5a1.2 1.1 100 1 0 0.4 -2.5zM452.9 88a1.1 1.2 96 1 0 -0.2 2.3a1.1 1.2 96 1 0 0.2 -2.3zM421.8 100.2a1.7 0.9 99 1 0 -0.5 3.4a1.7 0.9 99 1 0 0.5 -3.4zM479.4 40.7a1.7 1 61 1 0 1.6 2.9a1.7 1 61 1 0 -1.6 -2.9zM453.7 115a1.5 0.8 77 1 0 0.7 2.8a1.5 0.8 77 1 0 -0.7 -2.8zM475.5 44.2a1.8 0.8 97 1 0 -0.4 3.6a1.8 0.8 97 1 0 0.4 -3.6zM381.9 92.9a1.8 1.1 78 1 0 0.7 3.5a1.8 1.1 78 1 0 -0.7 -3.5zM429.3 113.2a1.3 1.2 70 1 0 0.9 2.4a1.3 1.2 70 1 0 -0.9 -2.4zM387 85.9a1.4 0.8 76 1 0 0.7 2.7a1.4 0.8 76 1 0 -0.7 -2.7zM454.3 125a1.1 0.9 68 1 0 0.8 2a1.1 0.9 68 1 0 -0.8 -2zM389.4 96.4a1.2 0.8 98 1 0 -0.3 2.4a1.2 0.8 98 1 0 0.3 -2.4zM445.6 111.4a1.2 1.2 79 1 0 0.5 2.3a1.2 1.2 79 1 0 -0.5 -2.3zM382.7 107.4a1.8 1 78 1 0 0.7 3.5a1.8 1 78 1 0 -0.7 -3.5zM398.6 127.8a1.6 1 95 1 0 -0.3 3.2a1.6 1 95 1 0 0.3 -3.2zM438.9 58.9a1.2 0.8 69 1 0 0.9 2.3a1.2 0.8 69 1 0 -0.9 -2.3zM438.5 58.2a1.5 0.9 65 1 0 1.2 2.8a1.5 0.9 65 1 0 -1.2 -2.8zM394.3 118.2a1.3 1.1 67 1 0 1 2.3a1.3 1.1 67 1 0 -1 -2.3zM472.4 87.5a1.2 0.9 92 1 0 -0.1 2.4a1.2 0.9 92 1 0 0.1 -2.4zM447.7 88.3a1.6 0.8 63 1 0 1.4 2.8a1.6 0.8 63 1 0 -1.4 -2.8zM381.5 96.8a1.3 1 70 1 0 0.9 2.4a1.3 1 70 1 0 -0.9 -2.4zM400.6 100.5a1.6 1 62 1 0 1.5 2.9a1.6 1 62 1 0 -1.5 -2.9zM388.9 38.9a1.7 0.8 97 1 0 -0.4 3.4a1.7 0.8 97 1 0 0.4 -3.4zM466.6 115.5a1.3 0.9 90 1 0 0 2.7a1.3 0.9 90 1 0 -0 -2.7zM388.4 82a1.3 0.9 98 1 0 -0.4 2.6a1.3 0.9 98 1 0 0.4 -2.6zM467.2 106.3a1.5 0.8 79 1 0 0.6 2.9a1.5 0.8 79 1 0 -0.6 -2.9zM455 107.9a1.2 1 95 1 0 -0.2 2.4a1.2 1 95 1 0 0.2 -2.4zM426.1 95.4a1.6 1 86 1 0 0.2 3.1a1.6 1 86 1 0 -0.2 -3.1zM391.1 91.9a1.5 0.9 75 1 0 0.8 2.9a1.5 0.9 75 1 0 -0.8 -2.9zM388.5 63.9a1.3 0.9 79 1 0 0.5 2.5a1.3 0.9 79 1 0 -0.5 -2.5zM395.9 123a1.2 0.9 91 1 0 -0 2.3a1.2 0.9 91 1 0 0 -2.3zM421 91.5a1.4 0.8 80 1 0 0.5 2.7a1.4 0.8 80 1 0 -0.5 -2.7zM450.1 49.7a1.6 1 75 1 0 0.8 3.1a1.6 1 75 1 0 -0.8 -3.1zM449.9 64.4a1.6 0.9 62 1 0 1.5 2.8a1.6 0.9 62 1 0 -1.5 -2.8zM411.3 57.7a1.6 0.9 81 1 0 0.5 3.2a1.6 0.9 81 1 0 -0.5 -3.2zM438.7 110.9a1.2 1.1 81 1 0 0.4 2.3a1.2 1.1 81 1 0 -0.4 -2.3zM403.2 103.1a1.4 0.8 99 1 0 -0.4 2.8a1.4 0.8 99 1 0 0.4 -2.8zM455.4 108.4a1.4 1.2 85 1 0 0.2 2.7a1.4 1.2 85 1 0 -0.2 -2.7zM451.3 42.3a1.8 1.1 99 1 0 -0.5 3.5a1.8 1.1 99 1 0 0.5 -3.5zM465.6 124a1.7 1.2 70 1 0 1.2 3.2a1.7 1.2 70 1 0 -1.2 -3.2zM455 107.9a1.2 0.9 65 1 0 1 2.1a1.2 0.9 65 1 0 -1 -2.1zM479.9 42.8a1.6 1 61 1 0 1.5 2.7a1.6 1 61 1 0 -1.5 -2.7zM437.5 51.6a1.2 0.8 87 1 0 0.1 2.3a1.2 0.8 87 1 0 -0.1 -2.3zM421.8 68.6a1.5 1.2 72 1 0 0.9 2.9a1.5 1.2 72 1 0 -0.9 -2.9zM425.6 36.8a1.1 1 68 1 0 0.9 2.1a1.1 1 68 1 0 -0.9 -2.1zM425.9 126.6a1.2 0.8 94 1 0 -0.2 2.4a1.2 0.8 94 1 0 0.2 -2.4zM400 92.9a1.1 0.9 68 1 0 0.8 2.1a1.1 0.9 68 1 0 -0.8 -2.1zM440.8 93.6a1.5 1.1 74 1 0 0.8 2.9a1.5 1.1 74 1 0 -0.8 -2.9zM425.2 83a1.4 1 87 1 0 0.1 2.8a1.4 1 87 1 0 -0.1 -2.8zM395.6 108.3a1.4 1.2 60 1 0 1.4 2.5a1.4 1.2 60 1 0 -1.4 -2.5zM455.4 79.1a1.8 0.8 89 1 0 0.1 3.6a1.8 0.8 89 1 0 -0.1 -3.6zM389 48.3a1.7 0.8 86 1 0 0.2 3.3a1.7 0.8 86 1 0 -0.2 -3.3zM386.6 94.3a1.8 1.1 77 1 0 0.8 3.4a1.8 1.1 77 1 0 -0.8 -3.4zM387.5 51.5a1.5 0.9 80 1 0 0.5 3a1.5 0.9 80 1 0 -0.5 -3zM385.4 96.2a1.2 1.2 72 1 0 0.7 2.3a1.2 1.2 72 1 0 -0.7 -2.3zM436.3 56.6a1.3 1.1 60 1 0 1.3 2.3a1.3 1.1 60 1 0 -1.3 -2.3zM399 105.4a1.2 0.9 72 1 0 0.8 2.4a1.2 0.9 72 1 0 -0.8 -2.4zM455.9 97.7a1.8 0.8 79 1 0 0.7 3.4a1.8 0.8 79 1 0 -0.7 -3.4zM439.6 53.6a1.6 1 82 1 0 0.4 3.1a1.6 1 82 1 0 -0.4 -3.1zM453.8 40.7a1.7 1.1 69 1 0 1.2 3.2a1.7 1.1 69 1 0 -1.2 -3.2zM385.2 67.2a1.2 1.2 75 1 0 0.6 2.4a1.2 1.2 75 1 0 -0.6 -2.4zM404.9 90.3a1.4 1.1 80 1 0 0.5 2.8a1.4 1.1 80 1 0 -0.5 -2.8zM448.9 58.4a1.5 1.1 74 1 0 0.8 2.8a1.5 1.1 74 1 0 -0.8 -2.8zM442.1 104.8a1.5 1.1 65 1 0 1.3 2.8a1.5 1.1 65 1 0 -1.3 -2.8zM404.1 97.5a1.5 0.8 70 1 0 1 2.8a1.5 0.8 70 1 0 -1 -2.8zM440 101.1a1.5 1 84 1 0 0.3 3.1a1.5 1 84 1 0 -0.3 -3.1zM405.7 62.7a1.6 0.9 65 1 0 1.3 2.9a1.6 0.9 65 1 0 -1.3 -2.9zM443.9 47.4a1.1 1.2 67 1 0 0.9 2.1a1.1 1.2 67 1 0 -0.9 -2.1zM433.1 105.4a1.5 1.2 64 1 0 1.3 2.6a1.5 1.2 64 1 0 -1.3 -2.6zM426.2 87.9a1.4 1.1 93 1 0 -0.1 2.8a1.4 1.1 93 1 0 0.1 -2.8zM439.5 120.5a1.1 1.1 96 1 0 -0.2 2.2a1.1 1.1 96 1 0 0.2 -2.2zM394.7 62.7a1.4 1 91 1 0 -0 2.8a1.4 1 91 1 0 0 -2.8zM416.3 106.5a1.3 1 74 1 0 0.7 2.5a1.3 1 74 1 0 -0.7 -2.5zM412.2 64.4a1.8 0.8 94 1 0 -0.2 3.6a1.8 0.8 94 1 0 0.2 -3.6zM395.8 120.9a1.4 1.1 76 1 0 0.7 2.6a1.4 1.1 76 1 0 -0.7 -2.6zM434 104.3a1.2 1 95 1 0 -0.2 2.3a1.2 1 95 1 0 0.2 -2.3zM416.7 39a1.2 1 85 1 0 0.2 2.4a1.2 1 85 1 0 -0.2 -2.4zM452.8 89.5a1.3 0.8 74 1 0 0.7 2.4a1.3 0.8 74 1 0 -0.7 -2.4zM444.9 107.5a1.4 1.2 84 1 0 0.3 2.9a1.4 1.2 84 1 0 -0.3 -2.9zM395.6 105.1a1.2 1.2 60 1 0 1.2 2.2a1.2 1.2 60 1 0 -1.2 -2.2zM414 46.7a1.2 1.2 67 1 0 0.9 2.2a1.2 1.2 67 1 0 -0.9 -2.2zM388.2 96.6a1.4 1.2 86 1 0 0.2 2.7a1.4 1.2 86 1 0 -0.2 -2.7zM438.9 127.1a1.8 0.8 64 1 0 1.6 3.2a1.8 0.8 64 1 0 -1.6 -3.2zM398.5 127.1a1.4 1 67 1 0 1.1 2.6a1.4 1 67 1 0 -1.1 -2.6zM466.6 119.8a1.6 0.9 62 1 0 1.5 2.9a1.6 0.9 62 1 0 -1.5 -2.9zM422 82.7a1.8 1.1 76 1 0 0.9 3.5a1.8 1.1 76 1 0 -0.9 -3.5zM407.8 84.4a1.5 0.8 62 1 0 1.5 2.7a1.5 0.8 62 1 0 -1.5 -2.7zM440.2 90.5a1.8 0.9 79 1 0 0.7 3.5a1.8 0.9 79 1 0 -0.7 -3.5zM455.9 63.4a1.5 1.1 100 1 0 -0.5 2.9a1.5 1.1 100 1 0 0.5 -2.9zM450.7 110.6a1.1 1 88 1 0 0.1 2.2a1.1 1 88 1 0 -0.1 -2.2zM467.9 96.5a1.3 1.1 62 1 0 1.2 2.3a1.3 1.1 62 1 0 -1.2 -2.3zM401.6 109.6a1.5 1.1 67 1 0 1.1 2.7a1.5 1.1 67 1 0 -1.1 -2.7zM404.4 70.9a1.6 0.8 65 1 0 1.3 2.9a1.6 0.8 65 1 0 -1.3 -2.9zM436.2 46a1.6 0.9 67 1 0 1.3 3a1.6 0.9 67 1 0 -1.3 -3zM471.3 90.9a1.5 1.1 72 1 0 0.9 2.8a1.5 1.1 72 1 0 -0.9 -2.8zM410.2 128.2a1.4 1 62 1 0 1.3 2.5a1.4 1 62 1 0 -1.3 -2.5zM438.9 106.1a1.6 1 93 1 0 -0.2 3.3a1.6 1 93 1 0 0.2 -3.3zM450.3 40.8a1.2 0.9 83 1 0 0.3 2.4a1.2 0.9 83 1 0 -0.3 -2.4zM469.9 83.8a1.2 1.1 89 1 0 0 2.3a1.2 1.1 89 1 0 -0 -2.3zM406.7 74.3a1.3 1.2 87 1 0 0.1 2.5a1.3 1.2 87 1 0 -0.1 -2.5zM426.7 90.4a1.4 0.8 78 1 0 0.6 2.6a1.4 0.8 78 1 0 -0.6 -2.6zM397 51.8a1.7 1.2 85 1 0 0.3 3.4a1.7 1.2 85 1 0 -0.3 -3.4zM390.8 64.9a1.4 0.9 70 1 0 1 2.7a1.4 0.9 70 1 0 -1 -2.7zM385.7 65.8a1.2 0.9 84 1 0 0.2 2.3a1.2 0.9 84 1 0 -0.2 -2.3zM422.5 71.8a1.2 0.9 99 1 0 -0.4 2.4a1.2 0.9 99 1 0 0.4 -2.4zM395.6 63a1.7 0.8 83 1 0 0.4 3.4a1.7 0.8 83 1 0 -0.4 -3.4zM398.5 97.5a1.5 1 98 1 0 -0.4 3a1.5 1 98 1 0 0.4 -3zM408.5 119.8a1.5 1.1 77 1 0 0.7 3a1.5 1.1 77 1 0 -0.7 -3zM435.8 89.4a1.2 0.8 100 1 0 -0.4 2.4a1.2 0.8 100 1 0 0.4 -2.4zM395.8 111.1a1.4 1.1 99 1 0 -0.4 2.8a1.4 1.1 99 1 0 0.4 -2.8zM434 35.5a1.7 1.2 91 1 0 -0.1 3.4a1.7 1.2 91 1 0 0.1 -3.4zM452.4 40.4a1.6 1.2 75 1 0 0.8 3.1a1.6 1.2 75 1 0 -0.8 -3.1zM422.6 57.3a1.2 1.1 79 1 0 0.4 2.3a1.2 1.1 79 1 0 -0.4 -2.3zM412.2 63.7a1.3 0.8 90 1 0 0 2.6a1.3 0.8 90 1 0 -0 -2.6zM422.9 108.2a1.5 0.9 93 1 0 -0.2 2.9a1.5 0.9 93 1 0 0.2 -2.9zM411.1 126.4a1.5 0.9 71 1 0 1 2.9a1.5 0.9 71 1 0 -1 -2.9zM450.8 129.3a1.1 1.1 61 1 0 1.1 1.9a1.1 1.1 61 1 0 -1.1 -1.9zM453.2 36a1.6 0.8 60 1 0 1.6 2.8a1.6 0.8 60 1 0 -1.6 -2.8zM443.9 42.1a1.7 0.8 75 1 0 0.9 3.2a1.7 0.8 75 1 0 -0.9 -3.2zM448 107.4a1.2 1.2 73 1 0 0.7 2.3a1.2 1.2 73 1 0 -0.7 -2.3zM383.2 100.9a1.6 0.9 70 1 0 1.1 3a1.6 0.9 70 1 0 -1.1 -3zM439.4 105.3a1.3 1.2 98 1 0 -0.4 2.5a1.3 1.2 98 1 0 0.4 -2.5zM458 50.1a1.7 1.2 82 1 0 0.5 3.3a1.7 1.2 82 1 0 -0.5 -3.3zM454.8 87.9a1.1 1 76 1 0 0.5 2.2a1.1 1 76 1 0 -0.5 -2.2zM378.4 109.7a1.3 0.8 91 1 0 -0 2.6a1.3 0.8 91 1 0 0 -2.6zM425 102a1.6 1 64 1 0 1.4 2.9a1.6 1 64 1 0 -1.4 -2.9zM471.6 86.5a1.4 1.1 97 1 0 -0.3 2.8a1.4 1.1 97 1 0 0.3 -2.8zM428.1 85.2a1.7 1.2 88 1 0 0.1 3.4a1.7 1.2 88 1 0 -0.1 -3.4zM447.4 98.4a1.5 1.1 60 1 0 1.5 2.5a1.5 1.1 60 1 0 -1.5 -2.5zM386.6 87.7a1.3 0.9 73 1 0 0.7 2.4a1.3 0.9 73 1 0 -0.7 -2.4zM439.3 97.7a1.4 0.9 91 1 0 -0 2.8a1.4 0.9 91 1 0 0 -2.8zM476.7 39.7a1.5 1.2 100 1 0 -0.5 2.9a1.5 1.2 100 1 0 0.5 -2.9zM422.4 57.7a1.4 0.8 91 1 0 -0 2.7a1.4 0.8 91 1 0 0 -2.7zM438.3 47.1a1.3 0.8 67 1 0 1 2.4a1.3 0.8 67 1 0 -1 -2.4zM438.3 98.3a1.5 1.2 88 1 0 0.1 2.9a1.5 1.2 88 1 0 -0.1 -2.9zM387.2 101.3a1.5 0.9 62 1 0 1.4 2.6a1.5 0.9 62 1 0 -1.4 -2.6zM478.2 43.9a1.1 0.8 97 1 0 -0.3 2.3a1.1 0.8 97 1 0 0.3 -2.3zM467.4 75.8a1.1 1.2 74 1 0 0.6 2.2a1.1 1.2 74 1 0 -0.6 -2.2zM457 67.1a1.5 1.1 100 1 0 -0.5 2.9a1.5 1.1 100 1 0 0.5 -2.9zM450.3 89a1.4 1 67 1 0 1.1 2.7a1.4 1 67 1 0 -1.1 -2.7zM380.3 108.4a1.4 0.8 100 1 0 -0.5 2.9a1.4 0.8 100 1 0 0.5 -2.9zM385.5 90.1a1.3 1.1 94 1 0 -0.2 2.7a1.3 1.1 94 1 0 0.2 -2.7zM435.2 79.5a1.3 1.2 62 1 0 1.2 2.3a1.3 1.2 62 1 0 -1.2 -2.3zM414.2 35.8a1.3 0.9 67 1 0 1 2.4a1.3 0.9 67 1 0 -1 -2.4zM415.8 41.4a1.2 1.2 64 1 0 1.1 2.2a1.2 1.2 64 1 0 -1.1 -2.2zM435.1 59.6a1.2 0.8 86 1 0 0.2 2.4a1.2 0.8 86 1 0 -0.2 -2.4zM387.3 56a1.4 1.1 74 1 0 0.8 2.8a1.4 1.1 74 1 0 -0.8 -2.8zM411.8 53.1a1.5 0.8 94 1 0 -0.2 3a1.5 0.8 94 1 0 0.2 -3zM439.2 42.5a1.7 0.8 87 1 0 0.2 3.4a1.7 0.8 87 1 0 -0.2 -3.4zM401.5 95.4a1.4 0.9 78 1 0 0.6 2.6a1.4 0.9 78 1 0 -0.6 -2.6zM416.6 94.9a1.8 1.2 69 1 0 1.3 3.3a1.8 1.2 69 1 0 -1.3 -3.3zM394.2 38a1.3 1 85 1 0 0.2 2.6a1.3 1 85 1 0 -0.2 -2.6zM390 59.3a1.2 1.1 97 1 0 -0.3 2.3a1.2 1.1 97 1 0 0.3 -2.3zM457.4 114.4a1.3 1.1 85 1 0 0.2 2.6a1.3 1.1 85 1 0 -0.2 -2.6zM423.4 99.4a1.3 1.2 82 1 0 0.4 2.5a1.3 1.2 82 1 0 -0.4 -2.5zM431.8 124.1a1.7 0.9 90 1 0 0 3.4a1.7 0.9 90 1 0 -0 -3.4zM398.6 98.4a1.7 1 80 1 0 0.6 3.4a1.7 1 80 1 0 -0.6 -3.4zM427.3 91.5a1.2 1.1 88 1 0 0.1 2.4a1.2 1.1 88 1 0 -0.1 -2.4zM429.9 108.6a1.5 0.9 60 1 0 1.5 2.6a1.5 0.9 60 1 0 -1.5 -2.6zM423.5 87.7a1.4 1.2 93 1 0 -0.1 2.8a1.4 1.2 93 1 0 0.1 -2.8zM424.3 79.9a1.6 1 69 1 0 1.2 3a1.6 1 69 1 0 -1.2 -3zM401.1 101.8a1.8 0.9 69 1 0 1.3 3.3a1.8 0.9 69 1 0 -1.3 -3.3zM408.9 82.3a1.3 0.9 65 1 0 1.1 2.4a1.3 0.9 65 1 0 -1.1 -2.4zM412.4 67.8a1.8 0.9 61 1 0 1.7 3.1a1.8 0.9 61 1 0 -1.7 -3.1zM452 123.2a1.6 0.8 78 1 0 0.7 3.2a1.6 0.8 78 1 0 -0.7 -3.2zM418.9 108.1a1.5 0.9 96 1 0 -0.3 2.9a1.5 0.9 96 1 0 0.3 -2.9zM377.7 109.1a1.6 1.1 69 1 0 1.1 3a1.6 1.1 69 1 0 -1.1 -3zM422 57.4a1.1 1.2 85 1 0 0.2 2.3a1.1 1.2 85 1 0 -0.2 -2.3zM423.7 130a1.1 1.1 60 1 0 1.1 1.9a1.1 1.1 60 1 0 -1.1 -1.9zM437.1 84.4a1.3 0.9 83 1 0 0.3 2.6a1.3 0.9 83 1 0 -0.3 -2.6zM452.7 110.1a1.3 1.1 61 1 0 1.3 2.3a1.3 1.1 61 1 0 -1.3 -2.3zM438.8 127a1.6 1.1 95 1 0 -0.3 3.2a1.6 1.1 95 1 0 0.3 -3.2zM422.9 62.2a1.3 1.1 76 1 0 0.6 2.5a1.3 1.1 76 1 0 -0.6 -2.5zM440.1 113.6a1.8 1.2 93 1 0 -0.2 3.6a1.8 1.2 93 1 0 0.2 -3.6zM449.8 81.4a1.2 0.9 96 1 0 -0.3 2.5a1.2 0.9 96 1 0 0.3 -2.5zM424.4 46.2a1.3 0.8 77 1 0 0.6 2.6a1.3 0.8 77 1 0 -0.6 -2.6zM415.4 44.7a1.2 1.1 94 1 0 -0.2 2.3a1.2 1.1 94 1 0 0.2 -2.3zM446.8 95.3a1.2 1 97 1 0 -0.3 2.3a1.2 1 97 1 0 0.3 -2.3zM424.3 130.1a1.3 1 83 1 0 0.3 2.5a1.3 1 83 1 0 -0.3 -2.5zM441.1 37.5a1.5 0.8 83 1 0 0.4 2.9a1.5 0.8 83 1 0 -0.4 -2.9zM422.8 56.9a1.2 1 99 1 0 -0.4 2.4a1.2 1 99 1 0 0.4 -2.4zM456.8 72.9a1.3 1.1 63 1 0 1.1 2.2a1.3 1.1 63 1 0 -1.1 -2.2zM395.7 78.8a1.2 0.9 97 1 0 -0.3 2.4a1.2 0.9 97 1 0 0.3 -2.4zM415.1 56.4a1.3 0.9 92 1 0 -0.1 2.5a1.3 0.9 92 1 0 0.1 -2.5zM434.8 39.2a1.5 1.1 92 1 0 -0.1 3.1a1.5 1.1 92 1 0 0.1 -3.1zM403.3 103a1.8 0.8 85 1 0 0.3 3.5a1.8 0.8 85 1 0 -0.3 -3.5zM388 60.7a1.4 1 99 1 0 -0.4 2.7a1.4 1 99 1 0 0.4 -2.7zM399.2 122.5a1.7 0.8 65 1 0 1.4 3.1a1.7 0.8 65 1 0 -1.4 -3.1zM454.1 130.2a1.3 1.2 80 1 0 0.4 2.5a1.3 1.2 80 1 0 -0.4 -2.5zM452.8 118.1a1.2 1.2 74 1 0 0.7 2.3a1.2 1.2 74 1 0 -0.7 -2.3zM397.3 122.5a1.7 1.1 84 1 0 0.4 3.4a1.7 1.1 84 1 0 -0.4 -3.4zM438.8 46a1.3 1.2 85 1 0 0.2 2.6a1.3 1.2 85 1 0 -0.2 -2.6zM396.5 115.8a1.7 1.1 96 1 0 -0.4 3.4a1.7 1.1 96 1 0 0.4 -3.4zM393.6 38a1.4 0.9 95 1 0 -0.3 2.9a1.4 0.9 95 1 0 0.3 -2.9zM429.7 130.2a1.2 1.2 87 1 0 0.1 2.4a1.2 1.2 87 1 0 -0.1 -2.4zM456.3 36a1.2 0.9 60 1 0 1.2 2.2a1.2 0.9 60 1 0 -1.2 -2.2zM393.5 44.6a1.6 0.9 86 1 0 0.2 3.3a1.6 0.9 86 1 0 -0.2 -3.3zM410.2 83.5a1.5 1.2 84 1 0 0.3 3a1.5 1.2 84 1 0 -0.3 -3zM457.3 40.5a1.1 1 73 1 0 0.6 2.1a1.1 1 73 1 0 -0.6 -2.1zM426.2 91.5a1.7 1 83 1 0 0.4 3.4a1.7 1 83 1 0 -0.4 -3.4zM457.5 122.5a1.7 1.2 71 1 0 1.1 3.2a1.7 1.2 71 1 0 -1.1 -3.2zM396.8 104.5a1.4 1 91 1 0 -0 2.8a1.4 1 91 1 0 0 -2.8zM434.2 123.6a1.6 0.9 80 1 0 0.5 3.1a1.6 0.9 80 1 0 -0.5 -3.1zM435 111.6a1.7 1.1 81 1 0 0.5 3.4a1.7 1.1 81 1 0 -0.5 -3.4zM467.9 99.5a1.4 1.2 91 1 0 -0 2.8a1.4 1.2 91 1 0 0 -2.8zM459.2 55.3a1.2 1 100 1 0 -0.4 2.3a1.2 1 100 1 0 0.4 -2.3zM405.4 102.1a1.3 0.8 91 1 0 -0 2.6a1.3 0.8 91 1 0 0 -2.6zM449 119.1a1.2 1 92 1 0 -0.1 2.3a1.2 1 92 1 0 0.1 -2.3zM452.6 103.6a1.1 0.9 79 1 0 0.4 2.2a1.1 0.9 79 1 0 -0.4 -2.2zM454 38.9a1.4 1 81 1 0 0.4 2.7a1.4 1 81 1 0 -0.4 -2.7zM449.5 115.5a1.4 0.8 61 1 0 1.4 2.5a1.4 0.8 61 1 0 -1.4 -2.5zM405 68.5a1.7 0.9 61 1 0 1.7 3a1.7 0.9 61 1 0 -1.7 -3zM396.4 123.2a1.4 1.1 75 1 0 0.7 2.8a1.4 1.1 75 1 0 -0.7 -2.8zM392 67.8a1.7 1 95 1 0 -0.3 3.3a1.7 1 95 1 0 0.3 -3.3zM386.6 79a1.2 1.2 88 1 0 0.1 2.3a1.2 1.2 88 1 0 -0.1 -2.3zM405.1 96.8a1.1 0.9 71 1 0 0.7 2.1a1.1 0.9 71 1 0 -0.7 -2.1zM416.6 55.3a1.6 1 61 1 0 1.6 2.9a1.6 1 61 1 0 -1.6 -2.9zM454.8 38.8a1.8 1.2 64 1 0 1.6 3.2a1.8 1.2 64 1 0 -1.6 -3.2zM427.7 122.9a1.7 1.2 84 1 0 0.4 3.3a1.7 1.2 84 1 0 -0.4 -3.3zM456.5 128a1.2 1.1 95 1 0 -0.2 2.4a1.2 1.1 95 1 0 0.2 -2.4zM434.1 120.4a1.4 0.9 98 1 0 -0.4 2.7a1.4 0.9 98 1 0 0.4 -2.7zM426.6 128.8a1.6 1 91 1 0 -0.1 3.1a1.6 1 91 1 0 0.1 -3.1zM388.4 55.2a1.7 1.1 77 1 0 0.8 3.3a1.7 1.1 77 1 0 -0.8 -3.3zM455.7 126.3a1.6 1 72 1 0 1 3a1.6 1 72 1 0 -1 -3zM419.6 100.9a1.6 1.1 80 1 0 0.6 3.2a1.6 1.1 80 1 0 -0.6 -3.2zM428.6 35.9a1.1 0.8 82 1 0 0.3 2.3a1.1 0.8 82 1 0 -0.3 -2.3zM466.1 75.3a1.7 0.8 71 1 0 1.1 3.2a1.7 0.8 71 1 0 -1.1 -3.2zM448.8 64.7a1.3 0.9 77 1 0 0.6 2.5a1.3 0.9 77 1 0 -0.6 -2.5zM469.6 98.3a1.7 1 63 1 0 1.5 3a1.7 1 63 1 0 -1.5 -3zM413.1 54.1a1.3 0.9 84 1 0 0.3 2.6a1.3 0.9 84 1 0 -0.3 -2.6zM437.4 42.9a1.2 0.9 60 1 0 1.2 2a1.2 0.9 60 1 0 -1.2 -2zM454.2 94.4a1.2 1 81 1 0 0.4 2.4a1.2 1 81 1 0 -0.4 -2.4zM387.5 43.1a1.3 0.9 68 1 0 0.9 2.3a1.3 0.9 68 1 0 -0.9 -2.3zM416.9 110.3a1.6 1.2 97 1 0 -0.4 3.3a1.6 1.2 97 1 0 0.4 -3.3zM450.1 57.2a1.3 1.1 87 1 0 0.1 2.6a1.3 1.1 87 1 0 -0.1 -2.6zM417.7 120.3a1.7 1.1 87 1 0 0.2 3.4a1.7 1.1 87 1 0 -0.2 -3.4zM435.5 47.1a1.3 1.2 62 1 0 1.2 2.3a1.3 1.2 62 1 0 -1.2 -2.3zM390.9 83a1.3 1 73 1 0 0.8 2.6a1.3 1 73 1 0 -0.8 -2.6zM447.9 43.2a1.7 1.2 71 1 0 1.1 3.2a1.7 1.2 71 1 0 -1.1 -3.2zM420.5 87.2a1.5 1.2 65 1 0 1.2 2.6a1.5 1.2 65 1 0 -1.2 -2.6z" fill="#2f7e60" opacity="0.8"/>
<path d="M425.5 88.3a1.4 1.2 92 1 0 -0.1 2.9a1.4 1.2 92 1 0 0.1 -2.9zM412.3 126.9a1.2 1.1 75 1 0 0.6 2.3a1.2 1.1 75 1 0 -0.6 -2.3zM438.1 117.7a1.2 0.8 74 1 0 0.7 2.3a1.2 0.8 74 1 0 -0.7 -2.3zM456.1 124.1a1.8 0.8 90 1 0 0 3.5a1.8 0.8 90 1 0 -0 -3.5zM447.1 81.4a1.4 1.2 69 1 0 1 2.5a1.4 1.2 69 1 0 -1 -2.5zM388.1 86.1a1.4 1.1 64 1 0 1.2 2.4a1.4 1.1 64 1 0 -1.2 -2.4zM398.2 113.2a1.6 0.9 90 1 0 0 3.2a1.6 0.9 90 1 0 -0 -3.2zM453.5 52.2a1.3 0.9 93 1 0 -0.1 2.7a1.3 0.9 93 1 0 0.1 -2.7zM386 64.2a1.8 1.2 76 1 0 0.8 3.4a1.8 1.2 76 1 0 -0.8 -3.4zM450.6 121.7a1.8 1 93 1 0 -0.2 3.6a1.8 1 93 1 0 0.2 -3.6zM423.5 88.2a1.5 1.2 70 1 0 1 2.8a1.5 1.2 70 1 0 -1 -2.8zM388.5 35.7a1.5 0.9 62 1 0 1.4 2.6a1.5 0.9 62 1 0 -1.4 -2.6zM403.4 81.6a1.7 0.9 90 1 0 0 3.5a1.7 0.9 90 1 0 -0 -3.5zM410.3 53.1a1.7 1.1 68 1 0 1.3 3.2a1.7 1.1 68 1 0 -1.3 -3.2zM454.8 47a1.3 1 72 1 0 0.8 2.4a1.3 1 72 1 0 -0.8 -2.4zM399 95a1.5 1.1 94 1 0 -0.2 2.9a1.5 1.1 94 1 0 0.2 -2.9zM465.9 75.4a1.2 1.1 85 1 0 0.2 2.4a1.2 1.1 85 1 0 -0.2 -2.4zM392.3 52.4a1.7 0.9 78 1 0 0.7 3.3a1.7 0.9 78 1 0 -0.7 -3.3zM444.7 39a1.4 0.9 83 1 0 0.3 2.8a1.4 0.9 83 1 0 -0.3 -2.8zM396 42.4a1.4 1 73 1 0 0.8 2.8a1.4 1 73 1 0 -0.8 -2.8zM389.3 73a1.2 1 65 1 0 1 2.2a1.2 1 65 1 0 -1 -2.2zM421.4 84.8a1.2 1.2 88 1 0 0.1 2.3a1.2 1.2 88 1 0 -0.1 -2.3zM457 72.1a1.6 1.2 63 1 0 1.5 2.9a1.6 1.2 63 1 0 -1.5 -2.9zM455.6 57.4a1.7 0.8 92 1 0 -0.1 3.4a1.7 0.8 92 1 0 0.1 -3.4zM451.5 53.3a1.3 0.9 75 1 0 0.7 2.4a1.3 0.9 75 1 0 -0.7 -2.4zM410.2 121.4a1.6 1.1 91 1 0 -0.1 3.2a1.6 1.1 91 1 0 0.1 -3.2zM413.2 127a1.4 1.1 94 1 0 -0.2 2.9a1.4 1.1 94 1 0 0.2 -2.9zM417.6 85.5a1.3 1 63 1 0 1.2 2.3a1.3 1 63 1 0 -1.2 -2.3zM470.4 121.2a1.3 1 86 1 0 0.2 2.5a1.3 1 86 1 0 -0.2 -2.5zM385.8 61a1.2 1.1 90 1 0 0 2.3a1.2 1.1 90 1 0 -0 -2.3zM447.8 99.2a1.6 1.1 67 1 0 1.3 3a1.6 1.1 67 1 0 -1.3 -3zM452.6 80.6a1.2 0.9 60 1 0 1.2 2a1.2 0.9 60 1 0 -1.2 -2zM399.2 93.7a1.4 0.9 94 1 0 -0.2 2.7a1.4 0.9 94 1 0 0.2 -2.7zM454 66.9a1.2 1.2 69 1 0 0.8 2.2a1.2 1.2 69 1 0 -0.8 -2.2zM443.3 104.3a1.3 1.1 75 1 0 0.7 2.6a1.3 1.1 75 1 0 -0.7 -2.6zM465 93a1.6 0.8 79 1 0 0.6 3.2a1.6 0.8 79 1 0 -0.6 -3.2zM401.6 93.2a1.5 1 72 1 0 0.9 2.9a1.5 1 72 1 0 -0.9 -2.9zM379.9 98a1.2 1.1 90 1 0 0 2.4a1.2 1.1 90 1 0 -0 -2.4zM454.4 57.8a1.5 1 64 1 0 1.3 2.7a1.5 1 64 1 0 -1.3 -2.7zM393.4 74.3a1.5 0.8 67 1 0 1.1 2.7a1.5 0.8 67 1 0 -1.1 -2.7zM470.1 127.8a1.2 1 75 1 0 0.6 2.3a1.2 1 75 1 0 -0.6 -2.3zM409.6 72.9a1.1 0.9 83 1 0 0.3 2.3a1.1 0.9 83 1 0 -0.3 -2.3zM451.1 88.6a1.3 1 63 1 0 1.1 2.3a1.3 1 63 1 0 -1.1 -2.3zM439.1 35.7a1.1 1.2 64 1 0 1 2.1a1.1 1.2 64 1 0 -1 -2.1zM388.6 76.4a1.5 1.1 76 1 0 0.7 2.9a1.5 1.1 76 1 0 -0.7 -2.9zM438.4 82.5a1.5 0.8 63 1 0 1.4 2.7a1.5 0.8 63 1 0 -1.4 -2.7zM388.8 52a1.5 1.1 75 1 0 0.8 2.9a1.5 1.1 75 1 0 -0.8 -2.9zM392.9 64.7a1.3 0.8 99 1 0 -0.4 2.6a1.3 0.8 99 1 0 0.4 -2.6zM465.7 109.9a1.4 0.8 83 1 0 0.3 2.8a1.4 0.8 83 1 0 -0.3 -2.8zM418.5 63.8a1.2 1 62 1 0 1.1 2a1.2 1 62 1 0 -1.1 -2zM417.3 109.5a1.3 0.9 71 1 0 0.9 2.5a1.3 0.9 71 1 0 -0.9 -2.5zM424.3 129.2a1.7 1.1 73 1 0 1 3.3a1.7 1.1 73 1 0 -1 -3.3zM417.7 42.1a1.4 1.1 77 1 0 0.6 2.6a1.4 1.1 77 1 0 -0.6 -2.6zM415.3 49.8a1.4 1.2 75 1 0 0.7 2.6a1.4 1.2 75 1 0 -0.7 -2.6zM390.1 55a1.4 1 68 1 0 1.1 2.7a1.4 1 68 1 0 -1.1 -2.7zM416 41.3a1.1 1 91 1 0 -0 2.3a1.1 1 91 1 0 0 -2.3zM379.8 102.7a1.2 0.9 63 1 0 1 2.1a1.2 0.9 63 1 0 -1 -2.1zM414 119.1a1.6 0.9 85 1 0 0.3 3.2a1.6 0.9 85 1 0 -0.3 -3.2zM393.8 53.4a1.3 0.8 91 1 0 -0 2.7a1.3 0.8 91 1 0 0 -2.7zM396.1 116.4a1.5 0.9 68 1 0 1.1 2.8a1.5 0.9 68 1 0 -1.1 -2.8zM469.7 80.8a1.7 1 85 1 0 0.3 3.3a1.7 1 85 1 0 -0.3 -3.3zM465.8 104.3a1.1 0.8 70 1 0 0.8 2.1a1.1 0.8 70 1 0 -0.8 -2.1zM399.1 126.2a1.5 0.8 75 1 0 0.8 2.8a1.5 0.8 75 1 0 -0.8 -2.8zM466.1 74a1.5 1.2 60 1 0 1.5 2.7a1.5 1.2 60 1 0 -1.5 -2.7zM398.6 94.7a1.6 1.2 72 1 0 1 3.1a1.6 1.2 72 1 0 -1 -3.1zM448.3 76.1a1.3 0.8 80 1 0 0.5 2.6a1.3 0.8 80 1 0 -0.5 -2.6zM438.9 39.2a1.3 0.9 82 1 0 0.4 2.5a1.3 0.9 82 1 0 -0.4 -2.5zM390.2 44.1a1.4 1 91 1 0 -0 2.8a1.4 1 91 1 0 0 -2.8zM388.8 46.6a1.8 1.2 65 1 0 1.5 3.2a1.8 1.2 65 1 0 -1.5 -3.2zM438.7 97.7a1.6 0.9 60 1 0 1.6 2.7a1.6 0.9 60 1 0 -1.6 -2.7zM416.4 104a1.3 1.1 61 1 0 1.3 2.3a1.3 1.1 61 1 0 -1.3 -2.3zM434.1 45.8a1.3 1.1 92 1 0 -0.1 2.6a1.3 1.1 92 1 0 0.1 -2.6zM424.6 88a1.7 1 65 1 0 1.4 3.1a1.7 1 65 1 0 -1.4 -3.1zM464.6 105.1a1.2 1.1 93 1 0 -0.1 2.4a1.2 1.1 93 1 0 0.1 -2.4zM389.4 64.9a1.2 1 84 1 0 0.3 2.4a1.2 1 84 1 0 -0.3 -2.4zM448.9 102.9a1.4 0.8 74 1 0 0.7 2.6a1.4 0.8 74 1 0 -0.7 -2.6zM418.6 43.3a1.3 0.8 61 1 0 1.3 2.3a1.3 0.8 61 1 0 -1.3 -2.3zM395.4 43.2a1.2 1.1 88 1 0 0.1 2.4a1.2 1.1 88 1 0 -0.1 -2.4zM438.4 115a1.5 0.9 90 1 0 0 3a1.5 0.9 90 1 0 -0 -3zM453.6 76.1a1.5 1.1 86 1 0 0.2 3a1.5 1.1 86 1 0 -0.2 -3zM425.1 81.3a1.6 0.9 65 1 0 1.3 3a1.6 0.9 65 1 0 -1.3 -3zM473 122.9a1.4 1.1 78 1 0 0.6 2.7a1.4 1.1 78 1 0 -0.6 -2.7zM406.9 61.3a1.7 1 70 1 0 1.2 3.2a1.7 1 70 1 0 -1.2 -3.2zM468.6 92.8a1.6 1 94 1 0 -0.2 3.2a1.6 1 94 1 0 0.2 -3.2zM392.1 74a1.7 0.8 93 1 0 -0.2 3.5a1.7 0.8 93 1 0 0.2 -3.5zM385.1 85.1a1.5 0.8 82 1 0 0.4 2.9a1.5 0.8 82 1 0 -0.4 -2.9zM469 123.9a1.4 0.8 97 1 0 -0.4 2.9a1.4 0.8 97 1 0 0.4 -2.9zM478.1 43.1a1.2 0.9 79 1 0 0.4 2.3a1.2 0.9 79 1 0 -0.4 -2.3zM396.3 36.8a1.1 0.9 76 1 0 0.5 2.2a1.1 0.9 76 1 0 -0.5 -2.2zM428.1 45.5a1.7 1.1 84 1 0 0.3 3.3a1.7 1.1 84 1 0 -0.3 -3.3zM465.8 111.1a1.7 1.2 75 1 0 0.9 3.4a1.7 1.2 75 1 0 -0.9 -3.4zM397.2 100.7a1.8 1.1 99 1 0 -0.6 3.5a1.8 1.1 99 1 0 0.6 -3.5zM388.2 56.1a1.1 1.2 65 1 0 0.9 2.1a1.1 1.2 65 1 0 -0.9 -2.1zM433.9 80.2a1.3 1.1 72 1 0 0.8 2.4a1.3 1.1 72 1 0 -0.8 -2.4zM419.8 67.5a1.3 1.2 100 1 0 -0.5 2.6a1.3 1.2 100 1 0 0.5 -2.6zM396.2 129.1a1.2 1.1 77 1 0 0.6 2.4a1.2 1.1 77 1 0 -0.6 -2.4zM438.8 123.9a1.7 0.9 62 1 0 1.6 2.9a1.7 0.9 62 1 0 -1.6 -2.9zM455.6 118.1a1.1 0.8 65 1 0 0.9 2a1.1 0.8 65 1 0 -0.9 -2zM425.6 80.1a1.4 1.2 84 1 0 0.3 2.8a1.4 1.2 84 1 0 -0.3 -2.8zM472.5 128a1.4 1.1 64 1 0 1.2 2.5a1.4 1.1 64 1 0 -1.2 -2.5zM441.2 92a1.4 1.2 73 1 0 0.8 2.7a1.4 1.2 73 1 0 -0.8 -2.7zM429.6 40a1.6 0.9 64 1 0 1.4 2.8a1.6 0.9 64 1 0 -1.4 -2.8zM435 128.7a1.6 0.8 80 1 0 0.6 3.2a1.6 0.8 80 1 0 -0.6 -3.2zM392.5 92.6a1.5 1 88 1 0 0.1 2.9a1.5 1 88 1 0 -0.1 -2.9zM465.8 93.6a1.1 0.9 65 1 0 0.9 2a1.1 0.9 65 1 0 -0.9 -2zM451.7 37.5a1.7 1.2 78 1 0 0.7 3.2a1.7 1.2 78 1 0 -0.7 -3.2zM387.4 38.9a1.8 0.9 98 1 0 -0.5 3.5a1.8 0.9 98 1 0 0.5 -3.5zM467.7 79.8a1.3 1 99 1 0 -0.4 2.6a1.3 1 99 1 0 0.4 -2.6zM424.3 103a1.7 0.9 83 1 0 0.4 3.3a1.7 0.9 83 1 0 -0.4 -3.3zM453.4 106a1.8 1 87 1 0 0.2 3.6a1.8 1 87 1 0 -0.2 -3.6zM472.8 106a1.2 0.9 60 1 0 1.2 2a1.2 0.9 60 1 0 -1.2 -2zM429.6 127.3a1.3 0.9 72 1 0 0.8 2.5a1.3 0.9 72 1 0 -0.8 -2.5zM385.3 59.2a1.4 1.1 67 1 0 1.1 2.5a1.4 1.1 67 1 0 -1.1 -2.5zM442.2 54.3a1.6 0.8 96 1 0 -0.3 3.1a1.6 0.8 96 1 0 0.3 -3.1zM426.9 115.1a1.6 1.1 83 1 0 0.4 3.2a1.6 1.1 83 1 0 -0.4 -3.2zM388.6 54.4a1.2 1.1 70 1 0 0.8 2.3a1.2 1.1 70 1 0 -0.8 -2.3zM422 110.2a1.3 1.2 78 1 0 0.5 2.5a1.3 1.2 78 1 0 -0.5 -2.5zM390.6 71.7a1.4 1.1 65 1 0 1.1 2.5a1.4 1.1 65 1 0 -1.1 -2.5zM418.6 116.4a1.2 1.1 67 1 0 0.9 2.2a1.2 1.1 67 1 0 -0.9 -2.2zM421.6 99.9a1.6 1 96 1 0 -0.3 3.1a1.6 1 96 1 0 0.3 -3.1zM453.6 57a1.6 1 90 1 0 0 3.2a1.6 1 90 1 0 -0 -3.2zM422 65.4a1.3 0.9 89 1 0 0 2.6a1.3 0.9 89 1 0 -0 -2.6zM442.5 50.6a1.4 0.8 71 1 0 0.9 2.6a1.4 0.8 71 1 0 -0.9 -2.6zM387.1 38.3a1.7 1 76 1 0 0.8 3.3a1.7 1 76 1 0 -0.8 -3.3zM439.2 116.3a1.3 0.8 65 1 0 1.1 2.4a1.3 0.8 65 1 0 -1.1 -2.4zM424.1 62.9a1.7 0.9 73 1 0 1 3.3a1.7 0.9 73 1 0 -1 -3.3zM427.9 47.5a1.7 0.8 64 1 0 1.5 3.1a1.7 0.8 64 1 0 -1.5 -3.1zM394.9 105.8a1.3 1.1 86 1 0 0.2 2.7a1.3 1.1 86 1 0 -0.2 -2.7zM440.4 95.2a1.8 1.1 93 1 0 -0.2 3.6a1.8 1.1 93 1 0 0.2 -3.6zM397.7 46.3a1.7 0.8 98 1 0 -0.5 3.3a1.7 0.8 98 1 0 0.5 -3.3zM386.6 88.3a1.2 0.8 86 1 0 0.2 2.3a1.2 0.8 86 1 0 -0.2 -2.3zM391.1 64.7a1.5 0.8 86 1 0 0.2 2.9a1.5 0.8 86 1 0 -0.2 -2.9zM449.4 45.4a1.2 0.8 94 1 0 -0.2 2.5a1.2 0.8 94 1 0 0.2 -2.5zM439.1 35.1a1.7 1.2 84 1 0 0.4 3.4a1.7 1.2 84 1 0 -0.4 -3.4zM451.7 110a1.3 0.8 94 1 0 -0.2 2.6a1.3 0.8 94 1 0 0.2 -2.6zM466.8 83.8a1.7 1.2 99 1 0 -0.5 3.4a1.7 1.2 99 1 0 0.5 -3.4zM451.1 108.9a1.4 1.2 89 1 0 0 2.8a1.4 1.2 89 1 0 -0 -2.8zM452.5 53.9a1.4 1.2 82 1 0 0.4 2.8a1.4 1.2 82 1 0 -0.4 -2.8zM401.1 126a1.7 1.2 86 1 0 0.2 3.5a1.7 1.2 86 1 0 -0.2 -3.5zM419.2 84a1.1 1.1 97 1 0 -0.3 2.2a1.1 1.1 97 1 0 0.3 -2.2zM415.9 35.4a1.5 1.2 91 1 0 -0.1 3.1a1.5 1.2 91 1 0 0.1 -3.1zM470 89.7a1.6 1.1 65 1 0 1.4 2.9a1.6 1.1 65 1 0 -1.4 -2.9zM469.2 105.8a1.2 0.8 65 1 0 1 2.2a1.2 0.8 65 1 0 -1 -2.2zM437.5 94.6a1.2 1.1 80 1 0 0.4 2.4a1.2 1.1 80 1 0 -0.4 -2.4zM471.4 122.5a1.7 0.9 65 1 0 1.4 3a1.7 0.9 65 1 0 -1.4 -3zM453 85.1a1.7 0.8 63 1 0 1.5 2.9a1.7 0.8 63 1 0 -1.5 -2.9zM380 101.5a1.5 0.8 89 1 0 0.1 2.9a1.5 0.8 89 1 0 -0.1 -2.9zM392.6 37.8a1.4 1 83 1 0 0.3 2.8a1.4 1 83 1 0 -0.3 -2.8zM465.7 86a1.1 0.8 98 1 0 -0.3 2.2a1.1 0.8 98 1 0 0.3 -2.2zM408.3 83.2a1.2 1 73 1 0 0.7 2.2a1.2 1 73 1 0 -0.7 -2.2zM435.6 43.8a1.4 1.1 63 1 0 1.3 2.5a1.4 1.1 63 1 0 -1.3 -2.5zM470.8 122.9a1.5 0.9 64 1 0 1.3 2.8a1.5 0.9 64 1 0 -1.3 -2.8zM415.8 129.4a1.4 1.1 73 1 0 0.8 2.7a1.4 1.1 73 1 0 -0.8 -2.7zM385.5 70.9a1.7 1 67 1 0 1.3 3.1a1.7 1 67 1 0 -1.3 -3.1zM388.6 45.4a1.2 0.8 88 1 0 0.1 2.3a1.2 0.8 88 1 0 -0.1 -2.3zM450 113a1.5 1.2 96 1 0 -0.3 3a1.5 1.2 96 1 0 0.3 -3zM434.9 37.6a1.2 0.9 68 1 0 0.9 2.2a1.2 0.9 68 1 0 -0.9 -2.2zM419.4 96.7a1.3 0.9 71 1 0 0.9 2.5a1.3 0.9 71 1 0 -0.9 -2.5zM456 112.1a1.5 0.9 70 1 0 1 2.8a1.5 0.9 70 1 0 -1 -2.8zM405.7 69.4a1.7 1.2 71 1 0 1.1 3.2a1.7 1.2 71 1 0 -1.1 -3.2zM408.2 120.1a1.1 1.2 70 1 0 0.8 2.1a1.1 1.2 70 1 0 -0.8 -2.1zM408.1 79.4a1.3 1.1 65 1 0 1 2.3a1.3 1.1 65 1 0 -1 -2.3zM397.2 129a1.3 1.1 92 1 0 -0.1 2.7a1.3 1.1 92 1 0 0.1 -2.7zM422.1 92.1a1.5 0.9 90 1 0 0 3.1a1.5 0.9 90 1 0 -0 -3.1zM403.9 102.7a1.6 1 76 1 0 0.8 3.1a1.6 1 76 1 0 -0.8 -3.1zM470.2 76.7a1.5 1 93 1 0 -0.2 3a1.5 1 93 1 0 0.2 -3zM429.4 115.6a1.2 0.8 60 1 0 1.2 2.1a1.2 0.8 60 1 0 -1.2 -2.1zM429 111.6a1.5 0.9 65 1 0 1.3 2.7a1.5 0.9 65 1 0 -1.3 -2.7zM468.8 87.6a1.6 0.9 72 1 0 1 3a1.6 0.9 72 1 0 -1 -3zM419.7 108.6a1.4 0.9 64 1 0 1.2 2.5a1.4 0.9 64 1 0 -1.2 -2.5zM455.5 59.3a1.3 1 98 1 0 -0.4 2.5a1.3 1 98 1 0 0.4 -2.5zM423.2 99.8a1.6 1 95 1 0 -0.3 3.3a1.6 1 95 1 0 0.3 -3.3zM467.3 85.2a1.8 1.2 95 1 0 -0.3 3.6a1.8 1.2 95 1 0 0.3 -3.6zM409.8 77.7a1.5 1 61 1 0 1.5 2.7a1.5 1 61 1 0 -1.5 -2.7zM436.3 84.8a1.1 0.9 77 1 0 0.5 2.2a1.1 0.9 77 1 0 -0.5 -2.2zM427.2 125.3a1.7 0.8 64 1 0 1.5 3.1a1.7 0.8 64 1 0 -1.5 -3.1zM408.4 124.1a1.7 1.1 71 1 0 1.1 3.2a1.7 1.1 71 1 0 -1.1 -3.2zM455.5 98.3a1.4 1.2 63 1 0 1.3 2.5a1.4 1.2 63 1 0 -1.3 -2.5zM432.6 106a1.7 0.8 83 1 0 0.4 3.4a1.7 0.8 83 1 0 -0.4 -3.4zM430 129.7a1.3 0.9 93 1 0 -0.1 2.5a1.3 0.9 93 1 0 0.1 -2.5zM422 106.2a1.4 0.8 100 1 0 -0.5 2.7a1.4 0.8 100 1 0 0.5 -2.7zM425.5 102.1a1.2 1.2 83 1 0 0.3 2.4a1.2 1.2 83 1 0 -0.3 -2.4zM452.3 53.8a1.4 1 65 1 0 1.2 2.5a1.4 1 65 1 0 -1.2 -2.5zM432.9 116.3a1.3 0.9 63 1 0 1.2 2.4a1.3 0.9 63 1 0 -1.2 -2.4zM444.1 109.2a1.6 1.2 65 1 0 1.4 2.9a1.6 1.2 65 1 0 -1.4 -2.9zM409 52.8a1.2 0.9 61 1 0 1.1 2.1a1.2 0.9 61 1 0 -1.1 -2.1zM434.1 99.3a1.4 0.8 92 1 0 -0.1 2.8a1.4 0.8 92 1 0 0.1 -2.8zM397 126.6a1.5 1.1 69 1 0 1.1 2.7a1.5 1.1 69 1 0 -1.1 -2.7zM434.8 104.8a1.4 1.1 70 1 0 1 2.7a1.4 1.1 70 1 0 -1 -2.7zM451.5 72a1.3 1.1 63 1 0 1.2 2.3a1.3 1.1 63 1 0 -1.2 -2.3zM406.1 87.7a1.7 1.1 92 1 0 -0.1 3.4a1.7 1.1 92 1 0 0.1 -3.4zM429.1 117.7a1.7 0.9 63 1 0 1.6 3.1a1.7 0.9 63 1 0 -1.6 -3.1zM456.4 105.8a1.1 0.9 65 1 0 1 2.1a1.1 0.9 65 1 0 -1 -2.1zM449.8 40.7a1.3 0.8 62 1 0 1.2 2.3a1.3 0.8 62 1 0 -1.2 -2.3zM455.7 45.7a1.4 0.8 100 1 0 -0.5 2.7a1.4 0.8 100 1 0 0.5 -2.7zM386 105.1a1.7 1.1 88 1 0 0.1 3.4a1.7 1.1 88 1 0 -0.1 -3.4zM426.9 35.9a1.2 1 81 1 0 0.4 2.4a1.2 1 81 1 0 -0.4 -2.4zM423.6 55.7a1.4 0.9 78 1 0 0.6 2.6a1.4 0.9 78 1 0 -0.6 -2.6zM423.8 55.3a1.5 1.1 94 1 0 -0.2 3.1a1.5 1.1 94 1 0 0.2 -3.1zM390.7 88a1.3 1 90 1 0 0 2.6a1.3 1 90 1 0 -0 -2.6zM416.9 128.3a1.5 1.2 84 1 0 0.3 2.9a1.5 1.2 84 1 0 -0.3 -2.9zM405 94.9a1.2 0.8 65 1 0 1 2.2a1.2 0.8 65 1 0 -1 -2.2zM424.4 51.5a1.5 0.9 65 1 0 1.3 2.8a1.5 0.9 65 1 0 -1.3 -2.8zM403.3 82.4a1.5 1.2 67 1 0 1.2 2.8a1.5 1.2 67 1 0 -1.2 -2.8zM468.8 112.2a1.4 1.2 83 1 0 0.3 2.8a1.4 1.2 83 1 0 -0.3 -2.8zM408.9 53.3a1.3 1 83 1 0 0.3 2.6a1.3 1 83 1 0 -0.3 -2.6zM482.2 38.6a1.5 0.9 74 1 0 0.8 2.9a1.5 0.9 74 1 0 -0.8 -2.9zM392.2 43.2a1.7 1.1 67 1 0 1.3 3.1a1.7 1.1 67 1 0 -1.3 -3.1zM385.9 97.6a1.6 0.8 94 1 0 -0.2 3.2a1.6 0.8 94 1 0 0.2 -3.2zM455 67.5a1.8 1 63 1 0 1.6 3.1a1.8 1 63 1 0 -1.6 -3.1zM408.4 86.4a1.2 1 80 1 0 0.4 2.3a1.2 1 80 1 0 -0.4 -2.3zM450.4 118.7a1.2 0.8 81 1 0 0.4 2.4a1.2 0.8 81 1 0 -0.4 -2.4zM395.5 41.8a1.8 1.1 100 1 0 -0.6 3.5a1.8 1.1 100 1 0 0.6 -3.5zM405.1 84.4a1.6 0.8 67 1 0 1.3 3a1.6 0.8 67 1 0 -1.3 -3zM420.1 42.6a1.1 1 88 1 0 0.1 2.3a1.1 1 88 1 0 -0.1 -2.3zM435.1 97.3a1.3 1.2 82 1 0 0.4 2.6a1.3 1.2 82 1 0 -0.4 -2.6zM399.7 116.2a1.6 1.1 69 1 0 1.2 3a1.6 1.1 69 1 0 -1.2 -3zM386.5 46.9a1.6 0.9 64 1 0 1.4 2.9a1.6 0.9 64 1 0 -1.4 -2.9zM419 116.2a1.3 0.8 80 1 0 0.5 2.6a1.3 0.8 80 1 0 -0.5 -2.6zM469.6 100.5a1.7 1 76 1 0 0.8 3.2a1.7 1 76 1 0 -0.8 -3.2zM389.6 76.4a1.6 0.9 80 1 0 0.6 3.2a1.6 0.9 80 1 0 -0.6 -3.2zM386.9 82.6a1.1 0.8 91 1 0 -0 2.3a1.1 0.8 91 1 0 0 -2.3zM457.4 129a1.7 1.2 80 1 0 0.6 3.3a1.7 1.2 80 1 0 -0.6 -3.3zM385.7 102.5a1.7 1 77 1 0 0.8 3.3a1.7 1 77 1 0 -0.8 -3.3zM394.5 71.2a1.6 1.1 84 1 0 0.3 3.1a1.6 1.1 84 1 0 -0.3 -3.1zM386.5 66.3a1.5 0.9 83 1 0 0.4 3.1a1.5 0.9 83 1 0 -0.4 -3.1zM389 83.1a1.6 1.2 72 1 0 1 3.1a1.6 1.2 72 1 0 -1 -3.1zM455.7 123.7a1.8 1.2 98 1 0 -0.5 3.5a1.8 1.2 98 1 0 0.5 -3.5zM469.7 102.2a1.8 1 74 1 0 1 3.4a1.8 1 74 1 0 -1 -3.4zM468.7 87.5a1.4 1.1 64 1 0 1.2 2.5a1.4 1.1 64 1 0 -1.2 -2.5zM467.9 107.2a1.2 0.8 83 1 0 0.3 2.4a1.2 0.8 83 1 0 -0.3 -2.4zM470.9 126.8a1.4 1.1 84 1 0 0.3 2.7a1.4 1.1 84 1 0 -0.3 -2.7zM468.6 115.1a1.2 1.2 94 1 0 -0.2 2.5a1.2 1.2 94 1 0 0.2 -2.5zM445.5 119.3a1.7 1.2 92 1 0 -0.1 3.5a1.7 1.2 92 1 0 0.1 -3.5zM446 98a1.2 0.9 97 1 0 -0.3 2.4a1.2 0.9 97 1 0 0.3 -2.4zM425.4 102.5a1.1 1 60 1 0 1.1 1.9a1.1 1 60 1 0 -1.1 -1.9zM435.2 127.5a1.4 0.8 80 1 0 0.5 2.8a1.4 0.8 80 1 0 -0.5 -2.8zM384.9 85.9a1.7 1.2 85 1 0 0.3 3.4a1.7 1.2 85 1 0 -0.3 -3.4zM381 105.2a1.5 1.1 68 1 0 1.1 2.7a1.5 1.1 68 1 0 -1.1 -2.7zM434.2 86a1.5 1 84 1 0 0.3 3a1.5 1 84 1 0 -0.3 -3zM430.1 116.7a1.4 1.1 93 1 0 -0.1 2.8a1.4 1.1 93 1 0 0.1 -2.8zM450 89.8a1.5 0.9 60 1 0 1.5 2.6a1.5 0.9 60 1 0 -1.5 -2.6zM435.9 83.1a1.5 1 91 1 0 -0.1 3a1.5 1 91 1 0 0.1 -3zM454.7 105.9a1.3 1.2 92 1 0 -0.1 2.7a1.3 1.2 92 1 0 0.1 -2.7zM471.3 87.1a1.4 1 63 1 0 1.3 2.5a1.4 1 63 1 0 -1.3 -2.5zM427.9 85.5a1.7 0.9 71 1 0 1.1 3.2a1.7 0.9 71 1 0 -1.1 -3.2zM436 43.5a1.1 0.9 98 1 0 -0.3 2.3a1.1 0.9 98 1 0 0.3 -2.3zM420.8 73.6a1.5 1.2 93 1 0 -0.2 3a1.5 1.2 93 1 0 0.2 -3zM388.8 88.2a1.3 1 68 1 0 1 2.4a1.3 1 68 1 0 -1 -2.4zM469.8 112.8a1.3 1 62 1 0 1.2 2.3a1.3 1 62 1 0 -1.2 -2.3zM467.2 103.7a1.4 1.1 62 1 0 1.3 2.5a1.4 1.1 62 1 0 -1.3 -2.5zM390.6 75.9a1.5 1.1 73 1 0 0.9 2.8a1.5 1.1 73 1 0 -0.9 -2.8zM393 74.8a1.8 1.2 67 1 0 1.4 3.3a1.8 1.2 67 1 0 -1.4 -3.3zM392.7 77.6a1.2 0.8 61 1 0 1.2 2.1a1.2 0.8 61 1 0 -1.2 -2.1zM445.3 128.5a1.2 1 95 1 0 -0.2 2.4a1.2 1 95 1 0 0.2 -2.4zM411.4 55a1.1 1.1 94 1 0 -0.2 2.2a1.1 1.1 94 1 0 0.2 -2.2zM415.9 50.3a1.3 1.1 92 1 0 -0.1 2.6a1.3 1.1 92 1 0 0.1 -2.6zM452.1 127.5a1.6 1 94 1 0 -0.2 3.1a1.6 1 94 1 0 0.2 -3.1zM435.5 115.4a1.2 1.2 72 1 0 0.8 2.3a1.2 1.2 72 1 0 -0.8 -2.3zM395.4 105.8a1.5 1.2 70 1 0 1.1 2.9a1.5 1.2 70 1 0 -1.1 -2.9zM445.2 102.3a1.8 1.2 95 1 0 -0.3 3.6a1.8 1.2 95 1 0 0.3 -3.6zM400.3 95.4a1.2 1.1 77 1 0 0.5 2.2a1.2 1.1 77 1 0 -0.5 -2.2zM387.4 44.5a1.2 1.2 88 1 0 0.1 2.3a1.2 1.2 88 1 0 -0.1 -2.3zM398.9 117.8a1.5 0.8 61 1 0 1.4 2.6a1.5 0.8 61 1 0 -1.4 -2.6zM385.9 84.9a1.3 0.9 64 1 0 1.1 2.3a1.3 0.9 64 1 0 -1.1 -2.3zM399.3 109.5a1.2 0.8 81 1 0 0.4 2.5a1.2 0.8 81 1 0 -0.4 -2.5zM441.3 87.6a1.6 1.1 63 1 0 1.4 2.8a1.6 1.1 63 1 0 -1.4 -2.8zM451.9 65.9a1.4 1.2 68 1 0 1.1 2.6a1.4 1.2 68 1 0 -1.1 -2.6zM393.9 69.7a1.3 0.9 72 1 0 0.8 2.5a1.3 0.9 72 1 0 -0.8 -2.5zM423.4 91.5a1.2 1.2 63 1 0 1.1 2.2a1.2 1.2 63 1 0 -1.1 -2.2zM456.1 43.7a1.2 0.8 87 1 0 0.1 2.4a1.2 0.8 87 1 0 -0.1 -2.4zM455.1 112.2a1.7 0.9 92 1 0 -0.1 3.5a1.7 0.9 92 1 0 0.1 -3.5zM410.8 61a1.3 1.2 79 1 0 0.5 2.6a1.3 1.2 79 1 0 -0.5 -2.6zM468.9 123.6a1.6 0.9 60 1 0 1.6 2.7a1.6 0.9 60 1 0 -1.6 -2.7zM434.4 56.2a1.3 0.8 79 1 0 0.5 2.5a1.3 0.8 79 1 0 -0.5 -2.5zM427.3 124.8a1.3 0.9 79 1 0 0.5 2.5a1.3 0.9 79 1 0 -0.5 -2.5zM434.9 114.9a1.3 0.9 86 1 0 0.2 2.7a1.3 0.9 86 1 0 -0.2 -2.7zM413.9 48.2a1.4 0.9 64 1 0 1.2 2.5a1.4 0.9 64 1 0 -1.2 -2.5zM385.7 81.1a1.5 1.2 62 1 0 1.4 2.6a1.5 1.2 62 1 0 -1.4 -2.6zM398.6 99a1.3 1 85 1 0 0.2 2.7a1.3 1 85 1 0 -0.2 -2.7zM425 86.1a1.7 1.1 87 1 0 0.2 3.4a1.7 1.1 87 1 0 -0.2 -3.4zM454.5 49.5a1.2 0.8 89 1 0 0 2.5a1.2 0.8 89 1 0 -0 -2.5zM445.9 101.6a1.7 0.8 70 1 0 1.2 3.2a1.7 0.8 70 1 0 -1.2 -3.2zM412.6 51.9a1.2 1.1 98 1 0 -0.3 2.4a1.2 1.1 98 1 0 0.3 -2.4zM464.6 108.6a1.3 0.8 71 1 0 0.9 2.5a1.3 0.8 71 1 0 -0.9 -2.5zM389.7 53.5a1.1 1.2 72 1 0 0.7 2.1a1.1 1.2 72 1 0 -0.7 -2.1zM394.8 82.8a1.1 0.8 78 1 0 0.5 2.2a1.1 0.8 78 1 0 -0.5 -2.2zM463.5 114.8a1.8 1.1 68 1 0 1.3 3.3a1.8 1.1 68 1 0 -1.3 -3.3zM398.2 112.8a1.3 1.1 65 1 0 1.1 2.4a1.3 1.1 65 1 0 -1.1 -2.4zM413.7 57.8a1.5 0.8 74 1 0 0.8 2.9a1.5 0.8 74 1 0 -0.8 -2.9zM438.3 85.4a1.1 1 94 1 0 -0.2 2.2a1.1 1 94 1 0 0.2 -2.2zM427.3 118.1a1.5 1.2 77 1 0 0.7 2.9a1.5 1.2 77 1 0 -0.7 -2.9zM448.8 128.8a1.5 1 84 1 0 0.3 3.1a1.5 1 84 1 0 -0.3 -3.1zM426.5 123.5a1.4 0.8 70 1 0 1 2.7a1.4 0.8 70 1 0 -1 -2.7zM397.8 35.7a1.8 1.2 81 1 0 0.6 3.5a1.8 1.2 81 1 0 -0.6 -3.5zM457.3 73.4a1.3 1 64 1 0 1.2 2.4a1.3 1 64 1 0 -1.2 -2.4zM475.6 42.5a1.7 0.9 79 1 0 0.6 3.3a1.7 0.9 79 1 0 -0.6 -3.3zM392 73.8a1.1 1.2 72 1 0 0.7 2.1a1.1 1.2 72 1 0 -0.7 -2.1zM471.5 125.8a1.5 1 99 1 0 -0.5 2.9a1.5 1 99 1 0 0.5 -2.9zM452 54.6a1.3 1.1 63 1 0 1.1 2.2a1.3 1.1 63 1 0 -1.1 -2.2zM440.1 51.3a1.6 1 79 1 0 0.6 3.1a1.6 1 79 1 0 -0.6 -3.1zM437.3 40.8a1.7 1.1 73 1 0 1 3.2a1.7 1.1 73 1 0 -1 -3.2zM447.9 101.4a1.5 0.8 71 1 0 1 2.9a1.5 0.8 71 1 0 -1 -2.9zM457.4 53.5a1.4 1.2 65 1 0 1.2 2.5a1.4 1.2 65 1 0 -1.2 -2.5zM391.1 35.4a1.4 0.9 91 1 0 -0 2.8a1.4 0.9 91 1 0 0 -2.8zM454 119.9a1.6 1 74 1 0 0.9 3.1a1.6 1 74 1 0 -0.9 -3.1zM426.2 128.4a1.4 1.2 65 1 0 1.1 2.5a1.4 1.2 65 1 0 -1.1 -2.5zM447.9 46.3a1.8 1.1 68 1 0 1.3 3.3a1.8 1.1 68 1 0 -1.3 -3.3zM434.3 85.6a1.3 0.9 74 1 0 0.7 2.4a1.3 0.9 74 1 0 -0.7 -2.4zM391.8 36.3a1.1 0.9 99 1 0 -0.4 2.2a1.1 0.9 99 1 0 0.4 -2.2zM405.4 83.9a1.5 1 89 1 0 0.1 3a1.5 1 89 1 0 -0.1 -3zM420.5 62.8a1.7 0.8 60 1 0 1.7 2.9a1.7 0.8 60 1 0 -1.7 -2.9zM393.5 88.6a1.5 1.1 78 1 0 0.6 2.9a1.5 1.1 78 1 0 -0.6 -2.9zM472.3 86.2a1.2 1 94 1 0 -0.2 2.4a1.2 1 94 1 0 0.2 -2.4zM446.4 125.8a1.5 0.8 97 1 0 -0.4 3a1.5 0.8 97 1 0 0.4 -3zM435.7 50.5a1.8 0.9 71 1 0 1.2 3.3a1.8 0.9 71 1 0 -1.2 -3.3zM416.1 55.3a1.6 1.2 90 1 0 0 3.3a1.6 1.2 90 1 0 -0 -3.3zM393.6 105.4a1.5 1.2 81 1 0 0.5 3.1a1.5 1.2 81 1 0 -0.5 -3.1zM394.6 35.7a1.1 1.2 65 1 0 1 2a1.1 1.2 65 1 0 -1 -2zM477.4 40.9a1.2 0.9 78 1 0 0.5 2.4a1.2 0.9 78 1 0 -0.5 -2.4zM472.7 106.4a1.6 1 76 1 0 0.8 3.1a1.6 1 76 1 0 -0.8 -3.1zM416.3 128.7a1.4 1.1 83 1 0 0.3 2.7a1.4 1.1 83 1 0 -0.3 -2.7zM427 86.2a1.2 1.1 61 1 0 1.1 2a1.2 1.1 61 1 0 -1.1 -2zM454.3 118.6a1.2 0.9 79 1 0 0.5 2.4a1.2 0.9 79 1 0 -0.5 -2.4zM452.6 69.5a1.3 0.8 85 1 0 0.2 2.6a1.3 0.8 85 1 0 -0.2 -2.6zM436.7 109.4a1.8 1.2 91 1 0 -0.1 3.6a1.8 1.2 91 1 0 0.1 -3.6zM422.2 106.9a1.2 1 87 1 0 0.1 2.4a1.2 1 87 1 0 -0.1 -2.4zM451.9 43.5a1.2 0.8 65 1 0 1 2.2a1.2 0.8 65 1 0 -1 -2.2zM466.2 75.6a1.3 1 90 1 0 0 2.7a1.3 1 90 1 0 -0 -2.7zM452.2 76.6a1.5 1.2 77 1 0 0.7 3a1.5 1.2 77 1 0 -0.7 -3zM435.8 119a1.7 0.8 77 1 0 0.8 3.3a1.7 0.8 77 1 0 -0.8 -3.3zM448 74.9a1.7 0.8 73 1 0 1 3.2a1.7 0.8 73 1 0 -1 -3.2zM424.7 123.6a1.4 1 68 1 0 1.1 2.6a1.4 1 68 1 0 -1.1 -2.6zM452.9 104.4a1.2 1.1 75 1 0 0.6 2.4a1.2 1.1 75 1 0 -0.6 -2.4zM389.7 80.1a1.2 1.1 86 1 0 0.2 2.4a1.2 1.1 86 1 0 -0.2 -2.4zM446.2 98.2a1.4 1.1 92 1 0 -0.1 2.8a1.4 1.1 92 1 0 0.1 -2.8zM454.9 68.2a1.5 0.8 99 1 0 -0.5 3a1.5 0.8 99 1 0 0.5 -3zM421.9 95.7a1.1 1.2 86 1 0 0.2 2.3a1.1 1.2 86 1 0 -0.2 -2.3zM401.7 88.2a1.5 1.2 98 1 0 -0.4 3a1.5 1.2 98 1 0 0.4 -3zM418 106.3a1.4 1.2 92 1 0 -0.1 2.9a1.4 1.2 92 1 0 0.1 -2.9zM451.2 115.9a1.2 0.8 78 1 0 0.5 2.3a1.2 0.8 78 1 0 -0.5 -2.3zM448 81.4a1.4 0.8 87 1 0 0.2 2.9a1.4 0.8 87 1 0 -0.2 -2.9zM450.7 47.2a1.7 0.8 65 1 0 1.4 3.2a1.7 0.8 65 1 0 -1.4 -3.2zM423.2 69.5a1.6 1.1 87 1 0 0.2 3.2a1.6 1.1 87 1 0 -0.2 -3.2zM392.5 90.4a1.4 0.8 83 1 0 0.3 2.8a1.4 0.8 83 1 0 -0.3 -2.8zM451.8 38.8a1.1 1 80 1 0 0.4 2.2a1.1 1 80 1 0 -0.4 -2.2zM422.3 80.8a1.3 0.8 76 1 0 0.6 2.5a1.3 0.8 76 1 0 -0.6 -2.5zM437.7 89.3a1.7 1.2 89 1 0 0.1 3.3a1.7 1.2 89 1 0 -0.1 -3.3zM413.6 64.2a1.7 1 97 1 0 -0.4 3.3a1.7 1 97 1 0 0.4 -3.3zM425.6 76a1.2 1 81 1 0 0.4 2.4a1.2 1 81 1 0 -0.4 -2.4zM415 53.3a1.7 0.9 67 1 0 1.3 3.1a1.7 0.9 67 1 0 -1.3 -3.1zM436.9 47.1a1.5 1.1 87 1 0 0.2 2.9a1.5 1.1 87 1 0 -0.2 -2.9zM423.9 68.1a1.4 1.1 89 1 0 0 2.8a1.4 1.1 89 1 0 -0 -2.8zM387.6 95a1.8 1.2 77 1 0 0.8 3.5a1.8 1.2 77 1 0 -0.8 -3.5zM424.5 82.4a1.7 0.9 93 1 0 -0.2 3.5a1.7 0.9 93 1 0 0.2 -3.5zM434.6 117.8a1.7 1.1 67 1 0 1.3 3.1a1.7 1.1 67 1 0 -1.3 -3.1zM468 103.2a1.4 0.9 85 1 0 0.2 2.7a1.4 0.9 85 1 0 -0.2 -2.7zM392.7 45.4a1.2 1.1 89 1 0 0 2.4a1.2 1.1 89 1 0 -0 -2.4zM436 106.1a1.7 1.2 99 1 0 -0.5 3.3a1.7 1.2 99 1 0 0.5 -3.3zM431.3 115.9a1.5 1.1 65 1 0 1.2 2.7a1.5 1.1 65 1 0 -1.2 -2.7zM478.2 44.2a1.5 1 96 1 0 -0.3 3a1.5 1 96 1 0 0.3 -3zM383.3 85.7a1.4 0.8 70 1 0 1 2.7a1.4 0.8 70 1 0 -1 -2.7zM403.6 105.7a1.1 0.9 94 1 0 -0.2 2.2a1.1 0.9 94 1 0 0.2 -2.2zM465.1 71.5a1.6 1.1 72 1 0 1 3a1.6 1.1 72 1 0 -1 -3zM416.3 121.5a1.5 1.2 60 1 0 1.5 2.7a1.5 1.2 60 1 0 -1.5 -2.7zM468 125.6a1.5 1 97 1 0 -0.4 2.9a1.5 1 97 1 0 0.4 -2.9zM395.5 101.6a1.4 1.1 61 1 0 1.3 2.4a1.4 1.1 61 1 0 -1.3 -2.4zM405.3 72.6a1.1 1.2 91 1 0 -0 2.2a1.1 1.2 91 1 0 0 -2.2zM450.5 69.3a1.3 0.8 73 1 0 0.8 2.6a1.3 0.8 73 1 0 -0.8 -2.6zM420.5 78.9a1.2 1.1 75 1 0 0.6 2.3a1.2 1.1 75 1 0 -0.6 -2.3zM467.8 102.9a1.2 1.1 79 1 0 0.5 2.4a1.2 1.1 79 1 0 -0.5 -2.4zM468.2 78.3a1.7 1.1 61 1 0 1.7 3a1.7 1.1 61 1 0 -1.7 -3zM420.9 67.1a1.7 1.1 96 1 0 -0.4 3.5a1.7 1.1 96 1 0 0.4 -3.5zM458.1 120.1a1.4 0.8 99 1 0 -0.4 2.8a1.4 0.8 99 1 0 0.4 -2.8zM455.4 43.6a1.4 1 87 1 0 0.1 2.7a1.4 1 87 1 0 -0.1 -2.7zM392.9 72.8a1.6 0.8 84 1 0 0.3 3.2a1.6 0.8 84 1 0 -0.3 -3.2zM457.2 37.2a1.5 1.1 96 1 0 -0.3 2.9a1.5 1.1 96 1 0 0.3 -2.9zM388.7 83.9a1.3 1.2 99 1 0 -0.4 2.5a1.3 1.2 99 1 0 0.4 -2.5zM446.2 123.2a1.4 0.8 73 1 0 0.8 2.8a1.4 0.8 73 1 0 -0.8 -2.8zM457.9 59.7a1.2 1.2 78 1 0 0.5 2.4a1.2 1.2 78 1 0 -0.5 -2.4zM407.9 73.5a1.5 0.9 78 1 0 0.6 2.9a1.5 0.9 78 1 0 -0.6 -2.9zM436.7 128.8a1.2 0.9 62 1 0 1.1 2.1a1.2 0.9 62 1 0 -1.1 -2.1zM429.1 110a1.4 0.9 65 1 0 1.1 2.6a1.4 0.9 65 1 0 -1.1 -2.6zM426.9 50.9a1.3 1 71 1 0 0.9 2.5a1.3 1 71 1 0 -0.9 -2.5zM387.8 60a1.7 1.1 98 1 0 -0.5 3.3a1.7 1.1 98 1 0 0.5 -3.3zM433.3 123.9a1.1 1 85 1 0 0.2 2.2a1.1 1 85 1 0 -0.2 -2.2zM427.2 38.3a1.4 1.1 81 1 0 0.4 2.7a1.4 1.1 81 1 0 -0.4 -2.7zM435.7 80.3a1.4 1 90 1 0 0 2.8a1.4 1 90 1 0 -0 -2.8zM469.1 121.1a1.6 1.2 99 1 0 -0.5 3.2a1.6 1.2 99 1 0 0.5 -3.2zM466.6 106.2a1.2 1.2 87 1 0 0.1 2.4a1.2 1.2 87 1 0 -0.1 -2.4zM413.2 46.4a1.3 0.9 70 1 0 0.9 2.5a1.3 0.9 70 1 0 -0.9 -2.5zM388.2 103a1.3 0.9 91 1 0 -0 2.7a1.3 0.9 91 1 0 0 -2.7zM450.4 107.8a1.5 1.2 95 1 0 -0.3 3a1.5 1.2 95 1 0 0.3 -3zM408.3 70.6a1.7 0.9 67 1 0 1.3 3a1.7 0.9 67 1 0 -1.3 -3zM396 64.1a1.4 1.2 95 1 0 -0.2 2.8a1.4 1.2 95 1 0 0.2 -2.8zM387.2 75.2a1.3 1.2 94 1 0 -0.2 2.7a1.3 1.2 94 1 0 0.2 -2.7zM429.5 46.2a1.2 0.9 84 1 0 0.2 2.4a1.2 0.9 84 1 0 -0.2 -2.4zM389.4 83.8a1.2 1 81 1 0 0.4 2.3a1.2 1 81 1 0 -0.4 -2.3zM427 49.8a1.2 0.9 89 1 0 0 2.3a1.2 0.9 89 1 0 -0 -2.3zM416.8 108.2a1.3 1.2 79 1 0 0.5 2.6a1.3 1.2 79 1 0 -0.5 -2.6zM397.7 41.7a1.7 1.1 77 1 0 0.8 3.3a1.7 1.1 77 1 0 -0.8 -3.3zM405.1 73.9a1.2 0.9 64 1 0 1 2.1a1.2 0.9 64 1 0 -1 -2.1zM414.2 116.8a1.7 1 62 1 0 1.6 3a1.7 1 62 1 0 -1.6 -3zM416.1 111.2a1.2 0.9 72 1 0 0.7 2.2a1.2 0.9 72 1 0 -0.7 -2.2z" fill="#2f7e60" opacity="0.95"/>
<ellipse cx="429.5" cy="96.5" rx="5.5" ry="12" fill="#ebe4e8" transform="rotate(8 429.5 96.5)"/>
<polyline points="437,40.5 436.5,55.5" fill="none" stroke="#ebe4e8" stroke-width="2" stroke-linecap="round" stroke-linejoin="round" opacity="0.70"/>
<polyline points="449,100.5 451,112.5" fill="none" stroke="#ebe4e8" stroke-width="2.5" stroke-linecap="round" stroke-linejoin="round" opacity="0.75"/>
<polyline points="469.8,92.5 469.8,116.5" fill="none" stroke="#ebe4e8" stroke-width="2.5" stroke-linecap="round" stroke-linejoin="round" opacity="0.85"/>
<polyline points="420.7,121.5 421,131.5" fill="none" stroke="#ebe4e8" stroke-width="3.5" stroke-linecap="round" stroke-linejoin="round" opacity="0.80"/>
<polyline points="405,121.5 405.5,131.5" fill="none" stroke="#ceb2a8" stroke-width="3" stroke-linecap="round" stroke-linejoin="round" opacity="0.70"/>
<polyline points="392,113.5 392,131.5" fill="none" stroke="#ceb2a8" stroke-width="3.5" stroke-linecap="round" stroke-linejoin="round" opacity="0.60"/>
<polyline points="458,64.5 458,86.5" fill="none" stroke="#ebe4e8" stroke-width="3" stroke-linecap="round" stroke-linejoin="round" opacity="0.60"/>
<polyline points="409.5,36.5 408.5,56.5" fill="none" stroke="#68321c" stroke-width="2.1" stroke-linecap="round" stroke-linejoin="round" opacity="0.90"/>
<polyline points="433,36.5 431,56.5" fill="none" stroke="#68321c" stroke-width="2.1" stroke-linecap="round" stroke-linejoin="round" opacity="0.90"/>
<polyline points="467,58.5 465,75.5" fill="none" stroke="#68321c" stroke-width="2.6" stroke-linecap="round" stroke-linejoin="round" opacity="0.90"/>
<polyline points="417,78.5 410,94.5" fill="none" stroke="#68321c" stroke-width="1.9" stroke-linecap="round" stroke-linejoin="round" opacity="0.90"/>
<polyline points="446,80.5 441.5,104.5 442,131.5" fill="none" stroke="#68321c" stroke-width="2.1" stroke-linecap="round" stroke-linejoin="round" opacity="0.90"/>
<polyline points="397,90.5 390,106.5 386,112.5" fill="none" stroke="#68321c" stroke-width="1.9" stroke-linecap="round" stroke-linejoin="round" opacity="0.90"/>
<polyline points="409,96.5 406.5,112.5" fill="none" stroke="#92522e" stroke-width="2.1" stroke-linecap="round" stroke-linejoin="round" opacity="0.90"/>
<polyline points="416.5,98.5 414,110.5" fill="none" stroke="#68321c" stroke-width="2.1" stroke-linecap="round" stroke-linejoin="round" opacity="0.90"/>
<polyline points="433,96.5 427,110.5" fill="none" stroke="#92522e" stroke-width="2.4" stroke-linecap="round" stroke-linejoin="round" opacity="0.90"/>
<polyline points="460.5,36.5 459.5,60.5" fill="none" stroke="#68321c" stroke-width="2.8" stroke-linecap="round" stroke-linejoin="round" opacity="0.90"/>
<polyline points="460,95.5 461.5,131.5" fill="none" stroke="#68321c" stroke-width="2.8" stroke-linecap="round" stroke-linejoin="round" opacity="0.90"/>
<polyline points="472,38.5 472,56.5" fill="none" stroke="#68321c" stroke-width="2.6" stroke-linecap="round" stroke-linejoin="round" opacity="0.90"/>
<polyline points="485.3,36.5 485.3,56.5" fill="none" stroke="#68321c" stroke-width="2.4" stroke-linecap="round" stroke-linejoin="round" opacity="0.90"/>
<polyline points="494.8,36.5 494.5,72.5" fill="none" stroke="#68321c" stroke-width="2.4" stroke-linecap="round" stroke-linejoin="round" opacity="0.90"/>
<polyline points="475.5,78.5 475,100.5" fill="none" stroke="#92522e" stroke-width="2.4" stroke-linecap="round" stroke-linejoin="round" opacity="0.90"/>
<polyline points="390.5,104.5 403,90.5 417.5,74" fill="none" stroke="#68321c" stroke-width="1.9" stroke-linecap="round" stroke-linejoin="round" opacity="0.90"/>
<polyline points="404,124 411,108.5 417.5,95.1" fill="none" stroke="#92522e" stroke-width="1.9" stroke-linecap="round" stroke-linejoin="round" opacity="0.90"/>
<polyline points="381,118.5 393,100.5" fill="none" stroke="#68321c" stroke-width="1.6" stroke-linecap="round" stroke-linejoin="round" opacity="0.90"/>
<polyline points="459.5,60.5 460,95.5" fill="none" stroke="#68321c" stroke-width="2.6" stroke-linecap="round" stroke-linejoin="round" opacity="0.90"/>
<polyline points="423,118.5 419,128.5" fill="none" stroke="#92522e" stroke-width="1.8" stroke-linecap="round" stroke-linejoin="round" opacity="0.90"/>
<polyline points="437,112.5 435,124.5" fill="none" stroke="#68321c" stroke-width="1.6" stroke-linecap="round" stroke-linejoin="round" opacity="0.90"/>
<ellipse cx="400.5" cy="72" rx="2.5" ry="3" fill="#92522e" opacity="0.90"/>
<ellipse cx="431.4" cy="69" rx="2.4" ry="5" fill="#92522e" opacity="0.90"/>
<ellipse cx="478.5" cy="65.5" rx="4" ry="5" fill="#92522e" transform="rotate(20 478.5 65.5)" opacity="0.60"/>
<ellipse cx="481" cy="62.5" rx="3" ry="4" fill="#92522e" transform="rotate(20 481 62.5)" opacity="0.60"/>
<ellipse cx="477" cy="68.5" rx="2.5" ry="3.5" fill="#68321c" transform="rotate(20 477 68.5)" opacity="0.50"/>
<ellipse cx="398.5" cy="127.5" rx="3" ry="3" fill="#92522e" opacity="0.95"/>
<path d="M489 109.3L491.3 104.3M478.9 91.4L481.1 83.1M491.2 43.6L495 33.6M498 95.6L501.1 84.8M476.4 91L480.4 82.4M489.2 40.5L491.6 35.1M471.6 57.5L473.7 52.1M483.9 62L486.2 52.5M489.9 108.1L492.4 99.8M474.7 114.6L476.5 105.2M499.2 78.7L501.2 73.1M482.6 89.9L483.7 85M492.2 112L493.9 105.6M488.2 127.6L490.9 118.4M468.2 63.8L470.7 54.9M482.9 81.1L484.7 72.3M498.3 81.8L499.9 76.3M463.6 73.5L464.9 68.3M484.1 112L485.9 103M477.6 67.6L479.8 55.8M498.8 93.3L501.1 86.7M478.6 97.5L480.1 91.9M492.7 99.5L496.7 87.3M465.5 48L468.7 38.5M501.4 124L506.4 113.6M484.8 121L487.1 113.6M502.1 80.9L505.1 73.1M482.3 76.3L484.7 70.9M490.2 48.3L492 41.8M491.6 85.7L494.9 75.7M494 114.5L497.2 102.8M479.8 109.7L481.2 101.4M489.6 79.8L492.2 72.6M498.3 43.5L501.6 32.2M462.8 41.4L464.7 35.6M475.6 116.2L477.8 110.2M483.5 56.2L486 47.6M496.6 113.1L498.3 105.6M466.5 47.6L469 41.6M495 62.6L498.8 53.4M500.8 82.8L502 75.9M500.7 105.7L505.6 93.9M496.5 78.5L500 70.5M474.7 45.9L477.3 34M488.8 125.4L492.7 114.3M501.7 60.7L505 51.7M495.4 93.2L500.4 81.4M500.2 55.3L501.8 46.6M492.1 115.7L495.2 107.8M479.8 132.6L483.2 123.3M488.9 94.2L491.3 84.8M491.7 74L492.7 68.6M469.4 49.5L471.7 40.4M499.7 89.3L502 81M473 47.6L475 39.5M495.9 75.1L500 63.5M487.2 96.3L488.8 87.7M480.1 89.8L482.3 82.5M465.1 42.5L468.3 35.2M499.3 110.5L501.7 101.8M472.6 40.2L474.2 36.2M421.1 55.2L423.9 51.3" stroke="#68321c" stroke-width="1.0" stroke-linecap="round" fill="none" opacity="0.75"/>
<path d="M477.9 127L480.1 120.3M496.1 55.5L498 44.6M480.6 133.1L481.6 127.9M485.1 87.9L486.3 82.8M480.3 49.3L482.4 44.5M501.2 100.7L503.8 90.7M479 108.5L481.9 98.5M496.6 106.8L498.2 98M482.6 78.4L485.4 69.2M481.4 126.7L482.4 121.1M481.2 81.3L482.7 73.7M502.3 124L504.7 117.6M469.6 66.2L471.6 57.9M497.6 76.1L498.8 71.1M491.5 40.2L494.1 34.4M502.5 92.8L504.7 84.5M471.3 40.1L474.5 33.6M492.7 132.8L494.6 125.6M464.2 64.5L467 57.7M478.5 105.6L480.9 100.5M480.9 105.2L482.9 98.7M500.6 91.6L501.7 86.3M478 105.5L480.3 98.4M488.3 114.7L489.4 108.1M488.3 120.7L491.8 111.2M484.1 90.9L488 79.5M464.1 73L466.7 64.2M490.3 85.2L493.4 73.7M478.9 88.9L481.8 80.7M467.1 65.8L468.6 60.5M496.7 133.8L498.8 128.3M473.5 52L476.4 45M502.1 125.1L506.9 113.7M490.7 136L494.7 126.2M491 77L492.9 68.5M498.3 69.4L502.4 57.3M482.8 105.9L486.8 97.4M493.4 130.2L496.7 118.9M488.9 120.4L492.1 112.5M476.6 112.4L479.6 103.5M488.3 130L490.8 123.8M474.2 135.8L479.6 124.6M477.8 86.6L482 77.8M493.7 91.5L496.9 84.6M470 55.6L472.3 46.5M491.4 91.2L495.3 80.5M500.7 114.4L504.6 105.7M491.4 100.7L494.1 92.9M502.5 130.9L507 120.4M499.5 96L504.4 84M483.7 134.6L487.1 123.9M478.5 134.8L480.8 122.4M471 70.6L476.4 59.3M493.7 41.7L496.6 32M461.5 78.5L463.4 71.3M485.3 86.9L487 79.2M486.4 128.6L489.1 119.5M492.3 53.3L495.8 43.5M498.3 88.5L500.8 81.1M498 94.1L502.4 82.2M500.4 104.1L502.9 94.7M498.7 91.7L503 81.3M485.1 37.1L488.3 25.4M492.5 110.6L496.5 101.4M472.9 68.5L474.5 61.5M479.6 52.5L481.6 41.7M499.7 77L503.9 67.6M485.6 41.9L487.3 34.9M483.7 134.3L486.6 128.1M474.9 90.2L476.9 85.5M486.2 118L491.2 106.4M488.5 104.1L492.4 95.3M494.2 113.3L497.1 105.3M474.2 121.1L475.6 113.8M464.4 41.8L468.9 29.7M501.4 67.3L503.9 61.3M480.1 83.9L484.6 73.9M482.9 105.4L484.4 100.3M496 43.1L497.3 37.9M488.1 44L491.1 32.6M499.7 131.3L501.7 121M483 106.2L486.9 97.7M469.7 43.7L471.2 35.9M413.8 89.9L414.3 86.4M460.6 40.3L461.7 36.7M403 66.7L406 62.8M383.6 78.2L385.1 71.6M432.7 91.5L435.3 86.7M416.7 86.6L419.8 82.3M407.8 46.6L409.7 40.9M431.7 77.8L433.7 73.4" stroke="#68321c" stroke-width="1.4" stroke-linecap="round" fill="none" opacity="0.75"/>
<path d="M498.5 105.8L499.8 100.7M473.5 79.1L476.6 67.5M501.2 120.6L502.5 113.7M468 47.1L470.2 36.4M465.5 59.1L468.6 47.2M477.6 90.6L479.9 82.7M478.6 122L481.3 115M484.9 69.8L486.9 64.8M499.6 125.9L503.4 113.6M482.4 69.3L484.7 61.2M488.7 133.2L491.7 125.5M478.9 115L481.7 103.8M501.9 56L506.4 44.6M462.5 67.5L467.4 57.1M474.8 114L479 104.4M475.5 80.2L477.9 71.7M494.9 126.3L498.7 117.8M493.9 109.4L495.8 103.2M497.2 37.5L500.4 30.2M489.2 108.1L492.8 96M471.9 74.2L474.4 64.8M488.2 134.7L489.4 129.1M482.1 104.2L486.6 93.3M500.3 87L503.7 79.4M486.8 121.6L488.5 115M464.7 60.2L468.2 50.2M493.3 66.5L494.4 61.2M462.3 42.6L465.8 35.2M489.7 43.4L492.3 31.3M481 109.4L483.3 103.6M498.7 53.4L501.3 42M479.5 60.3L483.5 51.7M464.1 44.6L468.1 34.1M476.2 89.5L478.7 82.6M482.3 41.8L486.8 30.4M473.1 58.1L475.4 50.4M498.1 116.4L501.8 107.6M484.6 92.7L487.4 83.9M479.4 114.2L480.9 107.6M486.8 123.7L488.2 117.9M497.1 129.4L502.3 118.2M490.4 128.5L492.3 122.6M471.7 79.9L474.4 76.3M467.2 59.6L469.4 53.6" stroke="#92522e" stroke-width="1.0" stroke-linecap="round" fill="none" opacity="0.75"/>
<path d="M479.4 136L481 130.3M502.5 111.3L504.5 105.2M501.8 74.9L506.5 64.3M488.6 104.6L491.1 97.2M468.4 62.2L473 51.3M465.6 76.1L467.7 67.3M497.8 134.2L500.3 128.3M489.3 73.4L492.7 61.4M491.4 126.7L493.4 119.2M484.1 41.1L485.2 35.9M470 63.7L474.2 51.5M498.9 71.9L503.8 60.6M491 65.9L492.4 59M474.2 107.3L477.2 97.5M494.3 120.2L499.2 109.4M488.9 84.7L491.2 79.9M481.8 131.1L484.1 125.4M494.3 102.1L497.9 89.8M491 90.1L495.4 79.6M497.4 81.8L501.4 73.4M474 101.9L476.1 94.8M486.4 99.6L489.9 90.6M492.4 132.6L496.8 121.7M498.8 63.9L501 56.7M491.1 52.4L493.7 41.7M483.6 111.3L486 98.6M483.3 98.3L486.8 86.4M492.3 134.6L493.6 127.8M479.8 129.1L483.5 119.5M495.8 90.1L498.4 84.5M477.1 68.7L478.7 61.4M474.8 39.5L478.7 27.3M499.8 111.6L503.4 100M495.7 122.3L498.2 113.7M502.8 120.1L505.1 112.5M474.8 90.2L478.3 78.1M492.6 126.8L496 115.3M489.3 109.5L492.7 102.1M476.7 65.3L479.7 56.4M484.9 92.7L488 84.8M495.3 131.1L496.8 123.1M488.9 101L493.5 89.4M496.1 97.9L498.6 88.3M484.5 56.5L485.7 51.3M489.5 38.4L491.9 30.4M479.5 106.1L481.3 99.8M482 80.1L485.3 68.9M498.4 114.6L502.1 102.9M480.2 75.7L482.2 69.2M481.7 58.6L486.1 47.5M465.3 59.2L467.2 50.3M479.6 96.2L483.9 85M476 78.8L479.6 70.6M466.1 78.2L467.4 73.1M488 45.1L490.6 37.8M382.7 85.2L385.3 80.6M432.5 84.2L433.8 81.5M394.7 92.7L396.3 89.9M379.8 60L380.6 53.6M473.2 68.9L475.4 65.9M472.2 49.5L474.3 45.5" stroke="#92522e" stroke-width="1.4" stroke-linecap="round" fill="none" opacity="0.75"/>
</g></g>
<rect x="379" y="38" width="123" height="93" fill="none" stroke="#222" stroke-width="1.4"/>
<g clip-path="url(#cB)"><g filter="url(#rag)">
<rect x="180" y="10" width="140" height="100" fill="#d6ce52"/>
<ellipse cx="291" cy="42" rx="10" ry="10" fill="#b3a23a" opacity="0.75"/>
<path d="M270.6 69.4L272.5 61.1M294.7 15.1L296.5 10.3M291.7 99.3L293.6 91.9M282.7 45.7L285.5 39.9M307.2 106.4L309.6 100.5M272.3 35.3L275.1 30M312.9 25.4L314 20.6M266.6 94.8L267.8 90M285.5 50.2L287.4 44.1M269.3 31.3L270.6 26.7M314.7 57.5L315.8 51.2M310.8 87.3L312.9 82.2M300.1 36.6L301.3 30.9M292.1 89.5L293.4 84M314.4 107.4L315.7 101.7M307.2 58.9L310.3 52.4M306.9 22.2L309.3 16.8M285.4 50.9L288.9 43M297.8 63.7L300.4 55.4M306.5 31.5L307.8 26.4M303.4 43.3L306.4 37.2M291 99L293.9 91.7M272 55.1L273 50.9M280.5 108L282.6 104M313.6 20.7L314.4 15.4M270.4 15.9L272.6 8.8M314.7 52.6L317.9 44.6M291.8 34.3L292.7 29.9M274.9 105.1L277.3 98.4M280.2 61L281.5 56.3M314.7 13.8L316.1 9.9M301.7 24.3L306.1 16.5M266.7 73.8L269.2 65.8M281.9 13.5L283.7 5.3M266.1 48.9L268.1 42.9M278.2 89.2L280.1 85.2M285.6 14.3L286.6 10.3M309.7 74L313.1 67.1M310.6 86.8L313.6 80.6M297.5 18.7L299.1 14.8M276.3 106.4L278.1 101.7M266.1 86.6L267.6 78.5M311.8 35.4L313.6 30.4M285.6 99.3L287.1 92.7M308.6 59.5L311.5 51.5M272.8 29.6L274 25.3M281.6 47.6L283.4 39.7M272.2 61.3L275.4 55M312.7 96.6L314 88.3M297.6 100.1L299 93.9M267.4 52L268.6 44.8M307.4 16.9L308.8 10.6M268.8 70.7L270.1 62.2M288 82.6L289 77.1M303.6 14.1L304.2 10M292.7 26.4L293.8 20.4M280.4 67.8L282.8 62.5M277.3 92.5L280.9 86.2M300.8 45.7L301.9 41.6M276 36L278.7 29.5M281.3 30.7L284 23.3M275.7 84.3L276.4 79.3M270.4 73.5L272.3 67.9M290 92.1L291.9 83.5M311.4 49.6L314.5 41.6M297.4 97.4L300 90.8M273.7 46.6L276 42.5M288.8 55.6L291.9 49.2M272.4 104.1L274.6 99M268.7 61.4L271.5 56.2M267.3 16.8L270.1 10.3M275.5 110.1L278.6 104.5M273.9 105.5L277.3 99M313.3 56.2L315.9 50.1M279 111L280.9 104.4M296.2 54.1L299.2 48.3" stroke="#a8962e" stroke-width="1.4" stroke-linecap="round" fill="none" opacity="0.75"/>
<path d="M287 42L289.1 35.5M278.2 28.3L279.5 20.6M271.8 52.6L273.3 45M286.7 108.1L288.2 104M301.8 41.6L304.5 35.2M279.9 49.4L281 42.1M283.4 72.3L284.9 66M274.2 51L275.2 45.7M308.3 38.4L310 32.6M308.1 106.9L311.1 100.3M310.1 89.6L313.7 82M267.2 99.2L268.6 92.2M312.8 71.4L314 65.2M290.1 84.6L294 76.5M273.2 94.3L276.6 86.1M274.4 58.3L277.1 51.1M268.8 29.5L269.5 25.4M292.1 58.8L295.6 50.8M311.2 101.1L312.8 96.3M297.5 47.4L298.5 42.2M306.8 26.5L308.8 20.7M286.6 46.4L287.9 42.1M279.3 23.2L282.1 17.8M285.9 64.7L288 58.5M308 16.8L310.5 8.9M270.1 95.8L273.4 88.1M295.3 80.7L296.2 76.5M304.4 70.8L307.6 63.7M303.1 33.5L305.3 26.6M300 73.4L301.4 68.9M279.2 78.5L282.1 71.7M275.8 109.8L277 101.2M269.7 61.7L274.2 53.9M290.9 100.5L292.6 93.1M285.3 26.2L288.7 18.2M280.8 24.4L282.3 18.8M300.9 102L302.5 96.7M285.1 98.7L287.2 94.9M278.7 76.9L280.7 71.7M271.9 75.6L273.3 71.5M293 56.2L295.3 51.1M302.7 52.1L304.8 46.4M279.2 86.7L281.5 80.6M270.5 101.5L272.8 96M286.8 87.9L290.8 80.9M266 49.9L269.8 42.2M313.6 21.1L316.9 13.6M311.1 75.8L312.1 70.4M291.9 54.6L293.3 46.9M266.1 64.8L268.2 56.1M313.7 24.5L314.4 20.3M288.9 41.8L292.3 35M287.7 21.1L288.4 16.8M312.8 22.6L314.7 14M289.2 48L291 39.6M278.6 86.2L280.9 78M312.9 107.3L314.3 101.5M280.9 80.6L281.9 76M288.6 90L290.9 83.4M277.5 64.9L280.8 57.8M266.2 100L267.8 95.1M270.5 26.7L272.7 19.5M298.7 52.6L300.5 48.7M286.8 93.7L289.5 88.3M303.9 23.3L304.7 19.1M283 26.5L283.8 21.7M268 67.4L269.2 59.7M271.8 71.2L274.3 64.9M297.8 41.4L299.3 36.4M287.9 54.7L289.4 50.9M305.7 50.8L306.9 46.7M303.1 26.2L305.1 18M273 61.2L274.9 52.8M296.2 34.2L297.4 28.5M304.8 37L306.1 29.2M278.3 64.6L281.7 57.1M309.9 84.8L311.6 77.2" stroke="#7d6c22" stroke-width="1.4" stroke-linecap="round" fill="none" opacity="0.75"/>
<path d="M281.9 25.4L283.1 18.2M287.2 17.1L288.6 12.9M272.1 32.8L275.5 26.5M280.2 24.7L281.4 20.3M274.9 69.3L276.9 62.4M300.9 67.6L303.2 60.9M286.5 47.7L289.8 41.7M271 67.8L274.2 62M302.7 85.5L305.3 79.6M267.1 107L268.4 100.5M305.5 93.5L307.2 86M278.7 80.6L281.4 72.3M289 44.4L292.2 38.9M289.4 28.2L291.5 20.5M314.7 12.8L316.8 6.2M273.6 65.9L275.4 62.2M310.6 46.1L312.8 40.2M286.6 103.6L288.8 97.5M299.4 64.1L302.2 58.3M293.5 87.5L296.1 79.4M313.7 71.8L314.9 67M276.4 40.9L278.4 36.7M276.8 107.2L278.7 101.5M293.1 54.9L294.2 51M279.2 11.7L280.2 7.4M291.2 35.1L293.6 29.3M287.2 60.5L289.5 52.7M281.1 31.9L282.2 26.9M287.8 36.9L292.2 29.2M270.1 107.7L271.8 99.6M273.3 83.9L274.4 76.7M306.5 69.6L309.8 61.8M284.5 56L285.1 51.8M299.4 59.9L301.1 56.3M311.7 101.6L313.2 97.4M302.1 35.7L303.1 31.5M269.8 102.9L270.6 97.5M297.5 17.9L298.6 13.3M300.7 39.1L303.4 33.4M302.6 36.7L304.7 31.3M307.9 38.6L309.5 34.7M303.9 90.1L304.8 84M268.4 84.7L271 79M289.1 45.1L291.4 40M313.6 35.3L314.5 30.9M270.2 89.2L270.9 85.3M291.7 69.5L293 63.7M290.4 78.8L291.9 72.9M286.8 47.8L289.3 41.8M286.6 79.6L288.8 75.1M277.3 32.6L279.3 25M290.3 29.1L291.8 24.2M311.6 43.6L314 39.3M303.7 41.5L305.1 33.6M302.1 58.4L303.8 51.4M282.4 107.3L284.2 103.4M281.5 38.1L283.2 34.5M312.4 16.7L313.8 8.7M305.9 23.5L306.8 17.1M302.9 35.2L303.5 31M279 18.6L280.4 14.3M313.6 27.7L315.1 23.2M287.5 28.9L288.8 23.9M275.2 16.6L276.4 11.5M268 40L268.9 35.5M275.5 17.7L276.9 11.2M278.7 89.3L280.3 80.7M305.9 93.5L307.6 87.7M286 91.2L287.4 84M286.3 11.9L289.7 4.8M307 14.4L309.2 6.2M306.6 28.7L308.1 23.8M270.5 55.1L271.5 48.6M299.6 83.6L301.9 79M287.7 28L288.9 20.4M278.4 75.2L281.6 66.9M289.9 72.5L290.6 68.3" stroke="#b8a636" stroke-width="1.4" stroke-linecap="round" fill="none" opacity="0.75"/>
<ellipse cx="217.8" cy="23.9" rx="1" ry="0.9" fill="#6a5a1c" opacity="0.71"/>
<ellipse cx="205.2" cy="72" rx="1.1" ry="0.9" fill="#7d6c22" opacity="0.75"/>
<ellipse cx="225.9" cy="19.9" rx="0.9" ry="1.2" fill="#6a5a1c" opacity="0.64"/>
<ellipse cx="210.2" cy="15.1" rx="1.2" ry="1.1" fill="#6a5a1c" opacity="0.71"/>
<ellipse cx="236.6" cy="70" rx="1.1" ry="1.1" fill="#7d6c22" opacity="0.82"/>
<ellipse cx="191.7" cy="63.4" rx="1" ry="0.9" fill="#7d6c22" opacity="0.82"/>
<ellipse cx="196.8" cy="71" rx="1.2" ry="0.9" fill="#6a5a1c" opacity="0.57"/>
<ellipse cx="239.1" cy="61.1" rx="1.2" ry="1.3" fill="#7d6c22" opacity="0.68"/>
<ellipse cx="193.4" cy="72.2" rx="1.4" ry="1.2" fill="#6a5a1c" opacity="0.75"/>
<ellipse cx="188.5" cy="92.5" rx="1.2" ry="1.1" fill="#6a5a1c" opacity="0.56"/>
<ellipse cx="271.7" cy="38.3" rx="1.2" ry="0.9" fill="#6a5a1c" opacity="0.75"/>
<ellipse cx="210.3" cy="65.5" rx="1.1" ry="1.3" fill="#6a5a1c" opacity="0.60"/>
<ellipse cx="266" cy="97.2" rx="0.9" ry="1.1" fill="#7d6c22" opacity="0.59"/>
<ellipse cx="207.8" cy="83.2" rx="1.4" ry="1.2" fill="#6a5a1c" opacity="0.57"/>
<ellipse cx="220.7" cy="69.9" rx="1" ry="1.3" fill="#6a5a1c" opacity="0.67"/>
<ellipse cx="232.6" cy="14.6" rx="0.8" ry="1.4" fill="#7d6c22" opacity="0.70"/>
<ellipse cx="213.9" cy="33.7" rx="1.2" ry="0.8" fill="#7d6c22" opacity="0.55"/>
<ellipse cx="190.3" cy="23.9" rx="1.4" ry="1" fill="#7d6c22" opacity="0.75"/>
<ellipse cx="190.6" cy="26.9" rx="1.2" ry="0.8" fill="#7d6c22" opacity="0.76"/>
<ellipse cx="193.5" cy="68.9" rx="1" ry="1.3" fill="#7d6c22" opacity="0.81"/>
<ellipse cx="251.5" cy="80.1" rx="1" ry="0.9" fill="#7d6c22" opacity="0.54"/>
<ellipse cx="190.9" cy="92.8" rx="1.3" ry="1.2" fill="#6a5a1c" opacity="0.67"/>
<ellipse cx="199.1" cy="87.7" rx="1.2" ry="1" fill="#6a5a1c" opacity="0.65"/>
<ellipse cx="189.8" cy="37.9" rx="1" ry="1.2" fill="#6a5a1c" opacity="0.82"/>
<ellipse cx="252.6" cy="70" rx="1.1" ry="1" fill="#7d6c22" opacity="0.78"/>
<ellipse cx="190.6" cy="62.2" rx="0.9" ry="1.1" fill="#7d6c22" opacity="0.69"/>
<ellipse cx="206.2" cy="94.2" rx="0.9" ry="1.3" fill="#7d6c22" opacity="0.65"/>
<ellipse cx="232" cy="40.8" rx="1.3" ry="0.8" fill="#6a5a1c" opacity="0.67"/>
<ellipse cx="229.3" cy="88.1" rx="0.9" ry="1.1" fill="#6a5a1c" opacity="0.84"/>
<ellipse cx="231.3" cy="67.8" rx="0.9" ry="1.3" fill="#7d6c22" opacity="0.67"/>
<ellipse cx="197.2" cy="73.2" rx="0.8" ry="1.3" fill="#7d6c22" opacity="0.72"/>
<ellipse cx="217.9" cy="51.3" rx="1" ry="1.3" fill="#7d6c22" opacity="0.65"/>
<ellipse cx="242.3" cy="48.6" rx="1" ry="1.1" fill="#7d6c22" opacity="0.63"/>
<ellipse cx="262.3" cy="35.7" rx="1.1" ry="1.1" fill="#7d6c22" opacity="0.62"/>
<ellipse cx="215.4" cy="28.4" rx="1.3" ry="1.2" fill="#6a5a1c" opacity="0.56"/>
<ellipse cx="224.9" cy="85.9" rx="1.1" ry="0.9" fill="#6a5a1c" opacity="0.72"/>
<ellipse cx="246.5" cy="61.2" rx="1" ry="1.3" fill="#7d6c22" opacity="0.75"/>
<ellipse cx="269.9" cy="81.3" rx="1.2" ry="1" fill="#7d6c22" opacity="0.61"/>
<ellipse cx="203.9" cy="104.7" rx="1.2" ry="0.9" fill="#7d6c22" opacity="0.57"/>
<ellipse cx="200.7" cy="27.8" rx="1" ry="1" fill="#6a5a1c" opacity="0.57"/>
<polygon points="187,12 187,109 191,109 191,12" fill="none" stroke="#f6ead0" stroke-width="2.8" stroke-linejoin="round" opacity="0.9"/>
<polygon points="199.5,12 198.7,23 197,41 191.5,58 190,66 187,74 187,84 191,84 197,74 198,66 199,58 204.7,41 207.7,23 208,12" fill="none" stroke="#f6ead0" stroke-width="2.8" stroke-linejoin="round" opacity="0.9"/>
<polygon points="204,60 200,68 193,76 190,81 197,81 203.5,76 208,68 209.5,60" fill="none" stroke="#f6ead0" stroke-width="2.8" stroke-linejoin="round" opacity="0.9"/>
<polygon points="223.5,12 222.6,23 219,41 214,55 214.5,63 219,63 222,55 227.3,41 228.5,23 229,12" fill="none" stroke="#f6ead0" stroke-width="2.8" stroke-linejoin="round" opacity="0.9"/>
<polygon points="233.8,12 233.3,23 231,41 230,48 235,48 236.9,41 238,23 238.5,12" fill="none" stroke="#f6ead0" stroke-width="2.8" stroke-linejoin="round" opacity="0.9"/>
<polygon points="242,12 242,23 241.5,41 242,49 250,49 251.4,41 255,23 254.5,12" fill="none" stroke="#f6ead0" stroke-width="2.8" stroke-linejoin="round" opacity="0.9"/>
<polygon points="261.5,12 261,23 261,41 263.3,57 265,64 270,64 270.5,57 271.7,41 269.3,23 268,12" fill="none" stroke="#f6ead0" stroke-width="2.8" stroke-linejoin="round" opacity="0.9"/>
<polygon points="233,59 233,64 249,64 249,59" fill="none" stroke="#f6ead0" stroke-width="2.8" stroke-linejoin="round" opacity="0.9"/>
<polygon points="235.7,86 235.7,109 240.5,109 240.5,86" fill="none" stroke="#f6ead0" stroke-width="2.8" stroke-linejoin="round" opacity="0.9"/>
<polygon points="244,84 244,104 251,104 251,84" fill="none" stroke="#f6ead0" stroke-width="2.8" stroke-linejoin="round" opacity="0.9"/>
<polygon points="236,100 236,106 251,106 251,100" fill="none" stroke="#f6ead0" stroke-width="2.8" stroke-linejoin="round" opacity="0.9"/>
<polygon points="220,86 219.5,109 229.7,109 229.7,86" fill="none" stroke="#f6ead0" stroke-width="2.8" stroke-linejoin="round" opacity="0.9"/>
<polygon points="254,68 253.8,86 253.8,98 254,109 270.5,109 270.5,98 269.3,86 269.3,68" fill="none" stroke="#f6ead0" stroke-width="2.8" stroke-linejoin="round" opacity="0.9"/>
<polygon points="189,99 189,109 197.5,109 197.5,99" fill="none" stroke="#f6ead0" stroke-width="2.8" stroke-linejoin="round" opacity="0.9"/>
<ellipse cx="237" cy="73" rx="7.6" ry="10.6" fill="#f6ead0" opacity="0.90"/>
<ellipse cx="211" cy="87.5" rx="6.9" ry="11.1" fill="#f6ead0" transform="rotate(12 211 87.5)" opacity="0.90"/>
<polygon points="187,12 187,109 191,109 191,12" fill="#9e3a72"/>
<polygon points="199.5,12 198.7,23 197,41 191.5,58 190,66 187,74 187,84 191,84 197,74 198,66 199,58 204.7,41 207.7,23 208,12" fill="#9e3a72"/>
<polygon points="204,60 200,68 193,76 190,81 197,81 203.5,76 208,68 209.5,60" fill="#9e3a72"/>
<polygon points="223.5,12 222.6,23 219,41 214,55 214.5,63 219,63 222,55 227.3,41 228.5,23 229,12" fill="#9e3a72"/>
<polygon points="233.8,12 233.3,23 231,41 230,48 235,48 236.9,41 238,23 238.5,12" fill="#9e3a72"/>
<polygon points="242,12 242,23 241.5,41 242,49 250,49 251.4,41 255,23 254.5,12" fill="#9e3a72"/>
<polygon points="261.5,12 261,23 261,41 263.3,57 265,64 270,64 270.5,57 271.7,41 269.3,23 268,12" fill="#9e3a72"/>
<polygon points="233,59 233,64 249,64 249,59" fill="#9e3a72"/>
<polygon points="235.7,86 235.7,109 240.5,109 240.5,86" fill="#9e3a72"/>
<polygon points="244,84 244,104 251,104 251,84" fill="#9e3a72"/>
<polygon points="236,100 236,106 251,106 251,100" fill="#9e3a72"/>
<polygon points="220,86 219.5,109 229.7,109 229.7,86" fill="#9e3a72"/>
<polygon points="254,68 253.8,86 253.8,98 254,109 270.5,109 270.5,98 269.3,86 269.3,68" fill="#9e3a72"/>
<polygon points="189,99 189,109 197.5,109 197.5,99" fill="#9e3a72"/>
<ellipse cx="237" cy="73" rx="6.5" ry="9.5" fill="#9e3a72"/>
<ellipse cx="211" cy="87.5" rx="5.8" ry="10" fill="#9e3a72" transform="rotate(12 211 87.5)"/>
<ellipse cx="261.5" cy="78" rx="3.5" ry="4" fill="#e8b8b8" opacity="0.80"/>
<polygon points="276.4,58 276.4,66 284.8,66 284.8,58" fill="#a45478" opacity="0.9"/>
<polygon points="272.8,68 273.5,88 275.2,109 278.8,109 277,88 276.4,68" fill="#a45478" opacity="0.9"/>
<polygon points="280,68 281,88 282.4,106 287.2,106 285,88 283.6,68" fill="#a45478" opacity="0.9"/>
<polygon points="192.5,12 192.8,23 192.8,41 193.5,50 195.5,50 196.3,41 197,23 197,12" fill="#8088d0"/>
<polygon points="210.5,18 209,30 205.9,41 205,50 207.5,50 210,41 212,30 213.5,18" fill="#8088d0"/>
<polygon points="228.5,12 228.5,23 227.3,41 227.5,46 229.5,46 231,41 233.3,23 233.3,12" fill="#8088d0"/>
<polygon points="246.3,17 246.3,29 248.7,29 248.7,17" fill="#8088d0"/>
<polygon points="274,18 273.5,26 274,32 277.5,32 279.5,26 278.5,18" fill="#8088d0"/>
<polygon points="216,60 214,66 210,72 207.5,77 212,77 216,72 219.5,66 221.4,60" fill="#8088d0"/>
<polygon points="220,72 220.5,82 223.8,82 223.5,72" fill="#8088d0"/>
<polygon points="240.5,57 240.5,63 245.2,63 245.2,57" fill="#8088d0"/>
<polygon points="262,88 262,100 265.7,100 265.7,88" fill="#8088d0"/>
<polygon points="276.4,70 277,86 278.8,106 282.4,106 280.5,86 280,70" fill="#8088d0"/>
<polygon points="252,52 252.5,59 256.5,59 257,52" fill="#8088d0"/>
<ellipse cx="236" cy="74" rx="2.5" ry="4.2" fill="#8088d0" transform="rotate(10 236 74)"/>
<ellipse cx="195.5" cy="92" rx="1.5" ry="1.8" fill="#8088d0"/>
<ellipse cx="201" cy="95" rx="1.5" ry="1.8" fill="#8088d0"/>
<ellipse cx="292.5" cy="28" rx="3" ry="4" fill="#b89aa0" opacity="0.80"/>
<path d="M287.6 82.1a1.1 1.1 0 1 0 2.1 0a1.1 1.1 0 1 0 -2.1 0M210.4 51a1.2 1.2 0 1 0 2.4 0a1.2 1.2 0 1 0 -2.4 0M281.7 14.6a1.3 1.3 0 1 0 2.6 0a1.3 1.3 0 1 0 -2.6 0M284.6 33.5a1.3 1.3 0 1 0 2.6 0a1.3 1.3 0 1 0 -2.6 0M256.2 51.6a0.9 0.9 0 1 0 1.9 0a0.9 0.9 0 1 0 -1.9 0M247.7 65.8a1.1 1.1 0 1 0 2.3 0a1.1 1.1 0 1 0 -2.3 0M277.3 90.9a1.8 1.8 0 1 0 3.6 0a1.8 1.8 0 1 0 -3.6 0M227.3 55.3a1.8 1.8 0 1 0 3.7 0a1.8 1.8 0 1 0 -3.7 0M193.1 82a1.4 1.4 0 1 0 2.7 0a1.4 1.4 0 1 0 -2.7 0M281.3 44.2a1.7 1.7 0 1 0 3.3 0a1.7 1.7 0 1 0 -3.3 0M274.6 49.5a1.3 1.3 0 1 0 2.6 0a1.3 1.3 0 1 0 -2.6 0M210.6 36.7a1.1 1.1 0 1 0 2.2 0a1.1 1.1 0 1 0 -2.2 0M252.3 43.7a1.4 1.4 0 1 0 2.9 0a1.4 1.4 0 1 0 -2.9 0M241.5 84.4a1.2 1.2 0 1 0 2.4 0a1.2 1.2 0 1 0 -2.4 0M282.7 17a1.2 1.2 0 1 0 2.3 0a1.2 1.2 0 1 0 -2.3 0M239.7 98.7a1.7 1.7 0 1 0 3.4 0a1.7 1.7 0 1 0 -3.4 0M227.3 75.7a1 1 0 1 0 2 0a1 1 0 1 0 -2 0M208.9 77.1a1.6 1.6 0 1 0 3.2 0a1.6 1.6 0 1 0 -3.2 0M234.2 86.5a0.9 0.9 0 1 0 1.9 0a0.9 0.9 0 1 0 -1.9 0M202.4 59a1.5 1.5 0 1 0 3 0a1.5 1.5 0 1 0 -3 0M240 45.3a1 1 0 1 0 2 0a1 1 0 1 0 -2 0M203.6 79.8a1.3 1.3 0 1 0 2.5 0a1.3 1.3 0 1 0 -2.5 0M274.8 19a1.9 1.9 0 1 0 3.7 0a1.9 1.9 0 1 0 -3.7 0M212.4 18.8a1.8 1.8 0 1 0 3.7 0a1.8 1.8 0 1 0 -3.7 0M268.5 79.3a1.6 1.6 0 1 0 3.1 0a1.6 1.6 0 1 0 -3.1 0M190.9 85.7a1.6 1.6 0 1 0 3.1 0a1.6 1.6 0 1 0 -3.1 0M255.8 44a1.8 1.8 0 1 0 3.6 0a1.8 1.8 0 1 0 -3.6 0M271.9 76.4a1.6 1.6 0 1 0 3.1 0a1.6 1.6 0 1 0 -3.1 0M194.2 30.4a1.1 1.1 0 1 0 2.3 0a1.1 1.1 0 1 0 -2.3 0M262.7 64.3a1.6 1.6 0 1 0 3.3 0a1.6 1.6 0 1 0 -3.3 0M285.8 101.5a1.2 1.2 0 1 0 2.4 0a1.2 1.2 0 1 0 -2.4 0M189.9 95.6a1.2 1.2 0 1 0 2.4 0a1.2 1.2 0 1 0 -2.4 0M193.4 85.2a1 1 0 1 0 1.9 0a1 1 0 1 0 -1.9 0M286.5 73.8a1.1 1.1 0 1 0 2.3 0a1.1 1.1 0 1 0 -2.3 0M279.3 44.4a1.7 1.7 0 1 0 3.5 0a1.7 1.7 0 1 0 -3.5 0M219.3 79.6a1.4 1.4 0 1 0 2.7 0a1.4 1.4 0 1 0 -2.7 0M223.9 65.9a1.5 1.5 0 1 0 2.9 0a1.5 1.5 0 1 0 -2.9 0M287.1 48.5a1 1 0 1 0 2.1 0a1 1 0 1 0 -2.1 0M274.7 75.1a1.5 1.5 0 1 0 3.1 0a1.5 1.5 0 1 0 -3.1 0M232.9 95.7a1.6 1.6 0 1 0 3.2 0a1.6 1.6 0 1 0 -3.2 0M216.6 76.3a1.2 1.2 0 1 0 2.5 0a1.2 1.2 0 1 0 -2.5 0M196.6 16.6a1.1 1.1 0 1 0 2.2 0a1.1 1.1 0 1 0 -2.2 0M213.3 100.4a1.7 1.7 0 1 0 3.4 0a1.7 1.7 0 1 0 -3.4 0M278.2 76.3a0.9 0.9 0 1 0 1.9 0a0.9 0.9 0 1 0 -1.9 0M267.8 66.7a1.3 1.3 0 1 0 2.5 0a1.3 1.3 0 1 0 -2.5 0M257.9 40.3a1.5 1.5 0 1 0 3.1 0a1.5 1.5 0 1 0 -3.1 0M276.2 65.9a1.5 1.5 0 1 0 3 0a1.5 1.5 0 1 0 -3 0M280.5 85.8a1.6 1.6 0 1 0 3.2 0a1.6 1.6 0 1 0 -3.2 0M199.1 60.6a1.4 1.4 0 1 0 2.8 0a1.4 1.4 0 1 0 -2.8 0M212 19.8a1.7 1.7 0 1 0 3.4 0a1.7 1.7 0 1 0 -3.4 0M209.5 50.3a1.6 1.6 0 1 0 3.2 0a1.6 1.6 0 1 0 -3.2 0" fill="#9e3a72" opacity="0.9"/>
<path d="M216.2 101.2a1.2 1.2 0 1 0 2.4 0a1.2 1.2 0 1 0 -2.4 0M217.6 69.6a1.1 1.1 0 1 0 2.3 0a1.1 1.1 0 1 0 -2.3 0M280.9 39.6a1.1 1.1 0 1 0 2.1 0a1.1 1.1 0 1 0 -2.1 0M268.4 20.3a1.3 1.3 0 1 0 2.6 0a1.3 1.3 0 1 0 -2.6 0M285.3 48.4a0.8 0.8 0 1 0 1.7 0a0.8 0.8 0 1 0 -1.7 0M239.1 17.8a1 1 0 1 0 2 0a1 1 0 1 0 -2 0M217.5 89.9a1.4 1.4 0 1 0 2.9 0a1.4 1.4 0 1 0 -2.9 0M199 94.9a1.1 1.1 0 1 0 2.1 0a1.1 1.1 0 1 0 -2.1 0M250.7 78.5a1.2 1.2 0 1 0 2.5 0a1.2 1.2 0 1 0 -2.5 0M241 106.6a0.8 0.8 0 1 0 1.6 0a0.8 0.8 0 1 0 -1.6 0M209.4 103.9a1.4 1.4 0 1 0 2.7 0a1.4 1.4 0 1 0 -2.7 0M229.9 84.6a1.1 1.1 0 1 0 2.2 0a1.1 1.1 0 1 0 -2.2 0M252.4 97.3a0.9 0.9 0 1 0 1.7 0a0.9 0.9 0 1 0 -1.7 0M274.5 43.1a0.8 0.8 0 1 0 1.6 0a0.8 0.8 0 1 0 -1.6 0M203.9 104.7a1.2 1.2 0 1 0 2.4 0a1.2 1.2 0 1 0 -2.4 0M288.5 25.9a1.5 1.5 0 1 0 3 0a1.5 1.5 0 1 0 -3 0M277.4 98.6a0.8 0.8 0 1 0 1.7 0a0.8 0.8 0 1 0 -1.7 0M282.4 105.2a0.9 0.9 0 1 0 1.8 0a0.9 0.9 0 1 0 -1.8 0M287.4 22.4a0.8 0.8 0 1 0 1.7 0a0.8 0.8 0 1 0 -1.7 0M237.1 82.6a1 1 0 1 0 2.1 0a1 1 0 1 0 -2.1 0M268.5 84.3a1.4 1.4 0 1 0 2.8 0a1.4 1.4 0 1 0 -2.8 0M230.8 59.8a1 1 0 1 0 2 0a1 1 0 1 0 -2 0M215.4 64.6a1.2 1.2 0 1 0 2.3 0a1.2 1.2 0 1 0 -2.3 0M214.4 96.5a1.3 1.3 0 1 0 2.5 0a1.3 1.3 0 1 0 -2.5 0M233.6 97.6a1.4 1.4 0 1 0 2.9 0a1.4 1.4 0 1 0 -2.9 0M275.4 63.3a1.1 1.1 0 1 0 2.3 0a1.1 1.1 0 1 0 -2.3 0M214.1 104.5a1.3 1.3 0 1 0 2.6 0a1.3 1.3 0 1 0 -2.6 0M207.9 73.7a1.2 1.2 0 1 0 2.4 0a1.2 1.2 0 1 0 -2.4 0M286.7 33.1a0.8 0.8 0 1 0 1.6 0a0.8 0.8 0 1 0 -1.6 0M252.2 47.2a1.3 1.3 0 1 0 2.7 0a1.3 1.3 0 1 0 -2.7 0M229.3 15.2a1.1 1.1 0 1 0 2.1 0a1.1 1.1 0 1 0 -2.1 0M283.3 93.3a1.1 1.1 0 1 0 2.3 0a1.1 1.1 0 1 0 -2.3 0M268.9 67a1.2 1.2 0 1 0 2.4 0a1.2 1.2 0 1 0 -2.4 0M220.9 69.2a1.3 1.3 0 1 0 2.7 0a1.3 1.3 0 1 0 -2.7 0M190.4 86.5a1.3 1.3 0 1 0 2.6 0a1.3 1.3 0 1 0 -2.6 0M243.3 53a0.8 0.8 0 1 0 1.6 0a0.8 0.8 0 1 0 -1.6 0M237 42.8a1.4 1.4 0 1 0 2.8 0a1.4 1.4 0 1 0 -2.8 0M221.6 73.1a1.4 1.4 0 1 0 2.8 0a1.4 1.4 0 1 0 -2.8 0M196.6 31.2a1.1 1.1 0 1 0 2.2 0a1.1 1.1 0 1 0 -2.2 0M281.2 61.6a1.1 1.1 0 1 0 2.1 0a1.1 1.1 0 1 0 -2.1 0M272 25.4a1.5 1.5 0 1 0 2.9 0a1.5 1.5 0 1 0 -2.9 0M249.1 51.7a1.2 1.2 0 1 0 2.4 0a1.2 1.2 0 1 0 -2.4 0M190 47.6a1.4 1.4 0 1 0 2.8 0a1.4 1.4 0 1 0 -2.8 0M280.4 63.7a1.3 1.3 0 1 0 2.6 0a1.3 1.3 0 1 0 -2.6 0M191.3 49.5a0.9 0.9 0 1 0 1.8 0a0.9 0.9 0 1 0 -1.8 0M218.5 66.3a1.2 1.2 0 1 0 2.4 0a1.2 1.2 0 1 0 -2.4 0M273.6 40.2a1.2 1.2 0 1 0 2.5 0a1.2 1.2 0 1 0 -2.5 0M281.9 100a1.1 1.1 0 1 0 2.2 0a1.1 1.1 0 1 0 -2.2 0M288.3 95.5a1 1 0 1 0 2 0a1 1 0 1 0 -2 0M216.8 86.2a1 1 0 1 0 1.9 0a1 1 0 1 0 -1.9 0M283.8 29.3a1.3 1.3 0 1 0 2.7 0a1.3 1.3 0 1 0 -2.7 0M250.6 42.8a1.3 1.3 0 1 0 2.6 0a1.3 1.3 0 1 0 -2.6 0M239.3 88.2a1.2 1.2 0 1 0 2.5 0a1.2 1.2 0 1 0 -2.5 0M278.7 71.2a1 1 0 1 0 2 0a1 1 0 1 0 -2 0M204.7 98.3a1 1 0 1 0 2 0a1 1 0 1 0 -2 0" fill="#8088d0" opacity="0.9"/>
<path d="M250.5 61a0.5 0.5 0 1 0 1 0a0.5 0.5 0 1 0 -1 0M215.5 35.6a1.1 1.1 0 1 0 2.2 0a1.1 1.1 0 1 0 -2.2 0M227.4 60.3a1.1 1.1 0 1 0 2.1 0a1.1 1.1 0 1 0 -2.1 0M202.5 100.3a0.8 0.8 0 1 0 1.7 0a0.8 0.8 0 1 0 -1.7 0M229.7 59.1a0.5 0.5 0 1 0 1 0a0.5 0.5 0 1 0 -1 0M237.6 48a0.7 0.7 0 1 0 1.5 0a0.7 0.7 0 1 0 -1.5 0M309.8 50a0.6 0.6 0 1 0 1.1 0a0.6 0.6 0 1 0 -1.1 0M275.5 106.3a0.8 0.8 0 1 0 1.6 0a0.8 0.8 0 1 0 -1.6 0M230 100.2a0.9 0.9 0 1 0 1.7 0a0.9 0.9 0 1 0 -1.7 0M193.7 38a0.8 0.8 0 1 0 1.5 0a0.8 0.8 0 1 0 -1.5 0M207.9 20.5a1 1 0 1 0 2.1 0a1 1 0 1 0 -2.1 0M308.3 83.4a0.7 0.7 0 1 0 1.3 0a0.7 0.7 0 1 0 -1.3 0M221 85.4a0.9 0.9 0 1 0 1.8 0a0.9 0.9 0 1 0 -1.8 0M292 68.3a0.7 0.7 0 1 0 1.5 0a0.7 0.7 0 1 0 -1.5 0M305.4 98.2a0.6 0.6 0 1 0 1.1 0a0.6 0.6 0 1 0 -1.1 0M293.9 74.9a0.8 0.8 0 1 0 1.6 0a0.8 0.8 0 1 0 -1.6 0M227.3 59.9a0.6 0.6 0 1 0 1.2 0a0.6 0.6 0 1 0 -1.2 0M277.4 103.9a0.9 0.9 0 1 0 1.8 0a0.9 0.9 0 1 0 -1.8 0M251.7 66.1a1 1 0 1 0 2 0a1 1 0 1 0 -2 0M307.1 47a1.1 1.1 0 1 0 2.2 0a1.1 1.1 0 1 0 -2.2 0M235.4 51.3a0.5 0.5 0 1 0 1.1 0a0.5 0.5 0 1 0 -1.1 0M287.9 81.3a0.6 0.6 0 1 0 1.3 0a0.6 0.6 0 1 0 -1.3 0M305.7 21.9a0.8 0.8 0 1 0 1.6 0a0.8 0.8 0 1 0 -1.6 0M217.3 99.3a0.9 0.9 0 1 0 1.7 0a0.9 0.9 0 1 0 -1.7 0M303.5 83a0.6 0.6 0 1 0 1.1 0a0.6 0.6 0 1 0 -1.1 0M304.9 79.5a0.7 0.7 0 1 0 1.4 0a0.7 0.7 0 1 0 -1.4 0M206 77.3a0.9 0.9 0 1 0 1.7 0a0.9 0.9 0 1 0 -1.7 0M208.8 49.8a0.6 0.6 0 1 0 1.2 0a0.6 0.6 0 1 0 -1.2 0M302.2 79.5a0.8 0.8 0 1 0 1.6 0a0.8 0.8 0 1 0 -1.6 0M288.5 63.2a0.6 0.6 0 1 0 1.2 0a0.6 0.6 0 1 0 -1.2 0M279.3 84.6a0.5 0.5 0 1 0 1.1 0a0.5 0.5 0 1 0 -1.1 0M285.7 45.4a0.7 0.7 0 1 0 1.4 0a0.7 0.7 0 1 0 -1.4 0M210.8 39.1a0.5 0.5 0 1 0 1 0a0.5 0.5 0 1 0 -1 0M276.5 62.8a1 1 0 1 0 2 0a1 1 0 1 0 -2 0M213.5 17.8a0.8 0.8 0 1 0 1.6 0a0.8 0.8 0 1 0 -1.6 0M284.8 15a0.9 0.9 0 1 0 1.7 0a0.9 0.9 0 1 0 -1.7 0M278.5 96.1a0.5 0.5 0 1 0 1.1 0a0.5 0.5 0 1 0 -1.1 0M231.8 26.2a0.8 0.8 0 1 0 1.5 0a0.8 0.8 0 1 0 -1.5 0M220.1 64a0.5 0.5 0 1 0 1 0a0.5 0.5 0 1 0 -1 0M233.5 50.6a0.9 0.9 0 1 0 1.8 0a0.9 0.9 0 1 0 -1.8 0M287.2 58.9a0.7 0.7 0 1 0 1.4 0a0.7 0.7 0 1 0 -1.4 0M288.9 60.5a0.7 0.7 0 1 0 1.5 0a0.7 0.7 0 1 0 -1.5 0M293.8 83.9a0.7 0.7 0 1 0 1.3 0a0.7 0.7 0 1 0 -1.3 0M228.6 74.4a0.6 0.6 0 1 0 1.2 0a0.6 0.6 0 1 0 -1.2 0M259.1 22.1a0.6 0.6 0 1 0 1.2 0a0.6 0.6 0 1 0 -1.2 0M285.7 44.4a0.6 0.6 0 1 0 1.3 0a0.6 0.6 0 1 0 -1.3 0M193 31.4a0.9 0.9 0 1 0 1.7 0a0.9 0.9 0 1 0 -1.7 0M291.4 34.6a0.8 0.8 0 1 0 1.6 0a0.8 0.8 0 1 0 -1.6 0M231.2 87a0.8 0.8 0 1 0 1.6 0a0.8 0.8 0 1 0 -1.6 0M280.1 27.9a0.6 0.6 0 1 0 1.1 0a0.6 0.6 0 1 0 -1.1 0M239.7 32.6a0.6 0.6 0 1 0 1.3 0a0.6 0.6 0 1 0 -1.3 0M215.4 74.5a0.9 0.9 0 1 0 1.9 0a0.9 0.9 0 1 0 -1.9 0M252.1 48.9a0.9 0.9 0 1 0 1.7 0a0.9 0.9 0 1 0 -1.7 0M289.6 78.3a0.7 0.7 0 1 0 1.4 0a0.7 0.7 0 1 0 -1.4 0M296.7 92.7a0.9 0.9 0 1 0 1.8 0a0.9 0.9 0 1 0 -1.8 0M289.8 105.1a0.9 0.9 0 1 0 1.8 0a0.9 0.9 0 1 0 -1.8 0M208 46.2a0.5 0.5 0 1 0 1 0a0.5 0.5 0 1 0 -1 0M277 36.7a0.7 0.7 0 1 0 1.4 0a0.7 0.7 0 1 0 -1.4 0M295.4 98.8a0.9 0.9 0 1 0 1.9 0a0.9 0.9 0 1 0 -1.9 0M190.9 42.8a0.9 0.9 0 1 0 1.8 0a0.9 0.9 0 1 0 -1.8 0M207 52.2a0.7 0.7 0 1 0 1.3 0a0.7 0.7 0 1 0 -1.3 0M230.5 64a0.8 0.8 0 1 0 1.6 0a0.8 0.8 0 1 0 -1.6 0M193.6 21.3a0.6 0.6 0 1 0 1.3 0a0.6 0.6 0 1 0 -1.3 0M252 98.2a0.9 0.9 0 1 0 1.9 0a0.9 0.9 0 1 0 -1.9 0M219.8 83.8a0.8 0.8 0 1 0 1.6 0a0.8 0.8 0 1 0 -1.6 0M283.4 36a0.8 0.8 0 1 0 1.5 0a0.8 0.8 0 1 0 -1.5 0M271.2 76.8a0.9 0.9 0 1 0 1.8 0a0.9 0.9 0 1 0 -1.8 0M240.3 15.4a0.7 0.7 0 1 0 1.5 0a0.7 0.7 0 1 0 -1.5 0M305 35.8a0.7 0.7 0 1 0 1.4 0a0.7 0.7 0 1 0 -1.4 0M212.6 61.8a0.6 0.6 0 1 0 1.1 0a0.6 0.6 0 1 0 -1.1 0M228.5 24.7a0.9 0.9 0 1 0 1.8 0a0.9 0.9 0 1 0 -1.8 0M197.4 81.6a1 1 0 1 0 1.9 0a1 1 0 1 0 -1.9 0M307.3 62.8a0.7 0.7 0 1 0 1.4 0a0.7 0.7 0 1 0 -1.4 0M295.9 88.5a0.9 0.9 0 1 0 1.8 0a0.9 0.9 0 1 0 -1.8 0M282.6 49.4a1.1 1.1 0 1 0 2.1 0a1.1 1.1 0 1 0 -2.1 0M298.3 31.6a1 1 0 1 0 1.9 0a1 1 0 1 0 -1.9 0M280 40.3a1.1 1.1 0 1 0 2.2 0a1.1 1.1 0 1 0 -2.2 0M298.6 102.1a1 1 0 1 0 1.9 0a1 1 0 1 0 -1.9 0M306.9 44.6a0.7 0.7 0 1 0 1.3 0a0.7 0.7 0 1 0 -1.3 0M248 52.7a0.7 0.7 0 1 0 1.3 0a0.7 0.7 0 1 0 -1.3 0M289.8 36.7a0.7 0.7 0 1 0 1.5 0a0.7 0.7 0 1 0 -1.5 0M229.6 48.8a0.9 0.9 0 1 0 1.8 0a0.9 0.9 0 1 0 -1.8 0M224.9 80.9a0.9 0.9 0 1 0 1.7 0a0.9 0.9 0 1 0 -1.7 0M207.8 17.4a1 1 0 1 0 2 0a1 1 0 1 0 -2 0M283.4 87.8a0.8 0.8 0 1 0 1.6 0a0.8 0.8 0 1 0 -1.6 0M283.5 37.3a0.9 0.9 0 1 0 1.8 0a0.9 0.9 0 1 0 -1.8 0M213.8 28.6a0.9 0.9 0 1 0 1.8 0a0.9 0.9 0 1 0 -1.8 0M204.8 38.2a0.9 0.9 0 1 0 1.8 0a0.9 0.9 0 1 0 -1.8 0M203 46.4a1.1 1.1 0 1 0 2.1 0a1.1 1.1 0 1 0 -2.1 0M223.8 49.9a1 1 0 1 0 2 0a1 1 0 1 0 -2 0M294.6 62.1a0.8 0.8 0 1 0 1.6 0a0.8 0.8 0 1 0 -1.6 0M303.6 105a0.7 0.7 0 1 0 1.3 0a0.7 0.7 0 1 0 -1.3 0M302.5 40.4a0.6 0.6 0 1 0 1.3 0a0.6 0.6 0 1 0 -1.3 0M245.2 76.6a0.7 0.7 0 1 0 1.4 0a0.7 0.7 0 1 0 -1.4 0M276.6 46a0.9 0.9 0 1 0 1.9 0a0.9 0.9 0 1 0 -1.9 0M287.1 81.1a0.9 0.9 0 1 0 1.7 0a0.9 0.9 0 1 0 -1.7 0M307.8 21.5a0.8 0.8 0 1 0 1.7 0a0.8 0.8 0 1 0 -1.7 0M272.6 100a0.9 0.9 0 1 0 1.7 0a0.9 0.9 0 1 0 -1.7 0M196.8 96.9a0.9 0.9 0 1 0 1.7 0a0.9 0.9 0 1 0 -1.7 0M309.1 87.2a0.6 0.6 0 1 0 1.2 0a0.6 0.6 0 1 0 -1.2 0M219.3 66a0.7 0.7 0 1 0 1.4 0a0.7 0.7 0 1 0 -1.4 0M292.7 43a1 1 0 1 0 1.9 0a1 1 0 1 0 -1.9 0M294.7 93.4a1 1 0 1 0 2 0a1 1 0 1 0 -2 0M230.1 55.3a0.7 0.7 0 1 0 1.4 0a0.7 0.7 0 1 0 -1.4 0M261.1 55.5a0.8 0.8 0 1 0 1.5 0a0.8 0.8 0 1 0 -1.5 0M231.7 54.4a0.7 0.7 0 1 0 1.4 0a0.7 0.7 0 1 0 -1.4 0M260.7 58.6a0.8 0.8 0 1 0 1.6 0a0.8 0.8 0 1 0 -1.6 0M194.7 42.6a1 1 0 1 0 1.9 0a1 1 0 1 0 -1.9 0M221.2 65.2a0.9 0.9 0 1 0 1.7 0a0.9 0.9 0 1 0 -1.7 0M284.7 105.9a1.1 1.1 0 1 0 2.1 0a1.1 1.1 0 1 0 -2.1 0M273.3 20.1a1.1 1.1 0 1 0 2.2 0a1.1 1.1 0 1 0 -2.2 0M229 17.9a0.6 0.6 0 1 0 1.1 0a0.6 0.6 0 1 0 -1.1 0M261.8 54.8a0.9 0.9 0 1 0 1.7 0a0.9 0.9 0 1 0 -1.7 0M307.4 26.2a1 1 0 1 0 2 0a1 1 0 1 0 -2 0M307.1 55.2a0.6 0.6 0 1 0 1.2 0a0.6 0.6 0 1 0 -1.2 0M298.1 89.9a1.1 1.1 0 1 0 2.2 0a1.1 1.1 0 1 0 -2.2 0M281.6 30.7a0.8 0.8 0 1 0 1.7 0a0.8 0.8 0 1 0 -1.7 0M307.5 27.5a1 1 0 1 0 2.1 0a1 1 0 1 0 -2.1 0M300.4 78.6a0.6 0.6 0 1 0 1.1 0a0.6 0.6 0 1 0 -1.1 0M250.7 57.5a0.6 0.6 0 1 0 1.3 0a0.6 0.6 0 1 0 -1.3 0M195.1 16.6a1.1 1.1 0 1 0 2.2 0a1.1 1.1 0 1 0 -2.2 0M286.3 51.6a1.1 1.1 0 1 0 2.1 0a1.1 1.1 0 1 0 -2.1 0M252.9 69a0.6 0.6 0 1 0 1.3 0a0.6 0.6 0 1 0 -1.3 0M230.6 34.6a0.9 0.9 0 1 0 1.9 0a0.9 0.9 0 1 0 -1.9 0M238.8 82.9a1.1 1.1 0 1 0 2.1 0a1.1 1.1 0 1 0 -2.1 0M306.1 55.7a0.8 0.8 0 1 0 1.6 0a0.8 0.8 0 1 0 -1.6 0M199.4 62.5a0.9 0.9 0 1 0 1.8 0a0.9 0.9 0 1 0 -1.8 0M261.7 56.7a1 1 0 1 0 2 0a1 1 0 1 0 -2 0M297.2 76a0.9 0.9 0 1 0 1.7 0a0.9 0.9 0 1 0 -1.7 0M297 84.2a0.7 0.7 0 1 0 1.4 0a0.7 0.7 0 1 0 -1.4 0M300.7 85.7a0.7 0.7 0 1 0 1.3 0a0.7 0.7 0 1 0 -1.3 0M288.3 52.6a1 1 0 1 0 1.9 0a1 1 0 1 0 -1.9 0M295.8 91a0.7 0.7 0 1 0 1.4 0a0.7 0.7 0 1 0 -1.4 0M200.2 91.4a0.6 0.6 0 1 0 1.2 0a0.6 0.6 0 1 0 -1.2 0M195.7 37.4a0.9 0.9 0 1 0 1.8 0a0.9 0.9 0 1 0 -1.8 0M298 29.4a0.7 0.7 0 1 0 1.5 0a0.7 0.7 0 1 0 -1.5 0M302.1 19.5a0.9 0.9 0 1 0 1.8 0a0.9 0.9 0 1 0 -1.8 0M280.8 56a0.8 0.8 0 1 0 1.7 0a0.8 0.8 0 1 0 -1.7 0M288.2 103.5a0.5 0.5 0 1 0 1.1 0a0.5 0.5 0 1 0 -1.1 0M239.6 85.2a0.8 0.8 0 1 0 1.5 0a0.8 0.8 0 1 0 -1.5 0M276.3 57.5a1 1 0 1 0 2 0a1 1 0 1 0 -2 0M231 98.9a1 1 0 1 0 2 0a1 1 0 1 0 -2 0M306.3 90.5a0.6 0.6 0 1 0 1.1 0a0.6 0.6 0 1 0 -1.1 0M305.6 101.6a0.6 0.6 0 1 0 1.2 0a0.6 0.6 0 1 0 -1.2 0M304.9 103.8a0.6 0.6 0 1 0 1.2 0a0.6 0.6 0 1 0 -1.2 0M275 23a0.6 0.6 0 1 0 1.2 0a0.6 0.6 0 1 0 -1.2 0M202.2 100.7a0.8 0.8 0 1 0 1.6 0a0.8 0.8 0 1 0 -1.6 0M292.3 15.9a0.5 0.5 0 1 0 1 0a0.5 0.5 0 1 0 -1 0M275.5 106.6a0.7 0.7 0 1 0 1.5 0a0.7 0.7 0 1 0 -1.5 0M284 55.3a0.9 0.9 0 1 0 1.8 0a0.9 0.9 0 1 0 -1.8 0M285.1 55.6a0.6 0.6 0 1 0 1.2 0a0.6 0.6 0 1 0 -1.2 0M299.4 92.6a0.8 0.8 0 1 0 1.5 0a0.8 0.8 0 1 0 -1.5 0M210.7 43.3a0.8 0.8 0 1 0 1.5 0a0.8 0.8 0 1 0 -1.5 0M300 32.6a0.9 0.9 0 1 0 1.8 0a0.9 0.9 0 1 0 -1.8 0M207.2 73.3a0.7 0.7 0 1 0 1.5 0a0.7 0.7 0 1 0 -1.5 0M288.2 65.6a0.7 0.7 0 1 0 1.4 0a0.7 0.7 0 1 0 -1.4 0M303.3 88.7a0.5 0.5 0 1 0 1.1 0a0.5 0.5 0 1 0 -1.1 0M243.2 66.4a0.6 0.6 0 1 0 1.2 0a0.6 0.6 0 1 0 -1.2 0M207.1 30.5a0.8 0.8 0 1 0 1.5 0a0.8 0.8 0 1 0 -1.5 0M228.8 69.7a0.7 0.7 0 1 0 1.3 0a0.7 0.7 0 1 0 -1.3 0M245.9 79.7a1 1 0 1 0 2 0a1 1 0 1 0 -2 0M309.6 103.4a0.8 0.8 0 1 0 1.6 0a0.8 0.8 0 1 0 -1.6 0M281.3 34.3a0.7 0.7 0 1 0 1.4 0a0.7 0.7 0 1 0 -1.4 0M278.3 72.9a0.6 0.6 0 1 0 1.2 0a0.6 0.6 0 1 0 -1.2 0M208.3 69.9a0.8 0.8 0 1 0 1.7 0a0.8 0.8 0 1 0 -1.7 0M300.3 62.3a0.8 0.8 0 1 0 1.6 0a0.8 0.8 0 1 0 -1.6 0M290.3 69.5a0.9 0.9 0 1 0 1.8 0a0.9 0.9 0 1 0 -1.8 0M200.6 105.7a1.1 1.1 0 1 0 2.2 0a1.1 1.1 0 1 0 -2.2 0M272.2 83a0.9 0.9 0 1 0 1.8 0a0.9 0.9 0 1 0 -1.8 0M211.6 61.2a1 1 0 1 0 2.1 0a1 1 0 1 0 -2.1 0M251.9 74.3a0.7 0.7 0 1 0 1.4 0a0.7 0.7 0 1 0 -1.4 0M275.2 69a0.5 0.5 0 1 0 1 0a0.5 0.5 0 1 0 -1 0M192.9 97a0.5 0.5 0 1 0 1.1 0a0.5 0.5 0 1 0 -1.1 0M253.2 69.5a0.7 0.7 0 1 0 1.5 0a0.7 0.7 0 1 0 -1.5 0M271.8 54.5a0.8 0.8 0 1 0 1.5 0a0.8 0.8 0 1 0 -1.5 0M209.9 20.8a1.1 1.1 0 1 0 2.1 0a1.1 1.1 0 1 0 -2.1 0M200.6 98.4a0.6 0.6 0 1 0 1.1 0a0.6 0.6 0 1 0 -1.1 0M206.8 45.3a0.7 0.7 0 1 0 1.4 0a0.7 0.7 0 1 0 -1.4 0M295.9 106.7a0.8 0.8 0 1 0 1.7 0a0.8 0.8 0 1 0 -1.7 0M258 49.5a1 1 0 1 0 2 0a1 1 0 1 0 -2 0M270.7 38.3a0.9 0.9 0 1 0 1.8 0a0.9 0.9 0 1 0 -1.8 0M309.4 25.8a0.8 0.8 0 1 0 1.6 0a0.8 0.8 0 1 0 -1.6 0M196.5 25.1a0.8 0.8 0 1 0 1.7 0a0.8 0.8 0 1 0 -1.7 0M302.5 28.1a0.8 0.8 0 1 0 1.6 0a0.8 0.8 0 1 0 -1.6 0M300.6 106.4a0.9 0.9 0 1 0 1.8 0a0.9 0.9 0 1 0 -1.8 0M226.7 52.8a0.5 0.5 0 1 0 1.1 0a0.5 0.5 0 1 0 -1.1 0M191.2 24.6a0.7 0.7 0 1 0 1.5 0a0.7 0.7 0 1 0 -1.5 0M203.8 84.4a1 1 0 1 0 2 0a1 1 0 1 0 -2 0M281.7 96a1.1 1.1 0 1 0 2.2 0a1.1 1.1 0 1 0 -2.2 0M215.3 34.4a0.6 0.6 0 1 0 1.2 0a0.6 0.6 0 1 0 -1.2 0M290.8 82.1a1.1 1.1 0 1 0 2.1 0a1.1 1.1 0 1 0 -2.1 0M254.1 65.6a0.7 0.7 0 1 0 1.4 0a0.7 0.7 0 1 0 -1.4 0M196.8 88.9a1.1 1.1 0 1 0 2.2 0a1.1 1.1 0 1 0 -2.2 0M279.9 105.6a0.9 0.9 0 1 0 1.8 0a0.9 0.9 0 1 0 -1.8 0M286.2 101.4a0.7 0.7 0 1 0 1.3 0a0.7 0.7 0 1 0 -1.3 0M309.4 45.4a0.8 0.8 0 1 0 1.7 0a0.8 0.8 0 1 0 -1.7 0M222.9 56.4a0.8 0.8 0 1 0 1.5 0a0.8 0.8 0 1 0 -1.5 0M272.1 72.2a1.1 1.1 0 1 0 2.1 0a1.1 1.1 0 1 0 -2.1 0M203.7 81a0.7 0.7 0 1 0 1.4 0a0.7 0.7 0 1 0 -1.4 0M228.7 59a0.8 0.8 0 1 0 1.6 0a0.8 0.8 0 1 0 -1.6 0M271.5 98.7a1 1 0 1 0 2 0a1 1 0 1 0 -2 0M191.6 43.5a1 1 0 1 0 2 0a1 1 0 1 0 -2 0M190.7 48.6a0.5 0.5 0 1 0 1.1 0a0.5 0.5 0 1 0 -1.1 0M306.4 42.1a0.7 0.7 0 1 0 1.4 0a0.7 0.7 0 1 0 -1.4 0M300.2 105.5a0.5 0.5 0 1 0 1 0a0.5 0.5 0 1 0 -1 0M277.7 75.4a1 1 0 1 0 2.1 0a1 1 0 1 0 -2.1 0M302.2 25a1 1 0 1 0 1.9 0a1 1 0 1 0 -1.9 0M302 92.1a0.9 0.9 0 1 0 1.9 0a0.9 0.9 0 1 0 -1.9 0M218.7 21.3a0.6 0.6 0 1 0 1.2 0a0.6 0.6 0 1 0 -1.2 0M271.6 49.7a0.7 0.7 0 1 0 1.5 0a0.7 0.7 0 1 0 -1.5 0M298.2 76.4a0.5 0.5 0 1 0 1.1 0a0.5 0.5 0 1 0 -1.1 0M301.5 46.9a0.8 0.8 0 1 0 1.6 0a0.8 0.8 0 1 0 -1.6 0M228 56.6a1 1 0 1 0 1.9 0a1 1 0 1 0 -1.9 0M250.6 74a1.1 1.1 0 1 0 2.2 0a1.1 1.1 0 1 0 -2.2 0M280.6 58a0.6 0.6 0 1 0 1.2 0a0.6 0.6 0 1 0 -1.2 0M220.2 16.3a0.7 0.7 0 1 0 1.4 0a0.7 0.7 0 1 0 -1.4 0M233.9 83.6a0.6 0.6 0 1 0 1.1 0a0.6 0.6 0 1 0 -1.1 0M214.7 80.6a0.6 0.6 0 1 0 1.1 0a0.6 0.6 0 1 0 -1.1 0M208.8 40.4a0.6 0.6 0 1 0 1.3 0a0.6 0.6 0 1 0 -1.3 0M294.1 91.6a0.9 0.9 0 1 0 1.8 0a0.9 0.9 0 1 0 -1.8 0M299 15.1a0.5 0.5 0 1 0 1 0a0.5 0.5 0 1 0 -1 0M278.6 37a0.9 0.9 0 1 0 1.9 0a0.9 0.9 0 1 0 -1.9 0M240.8 43.5a0.7 0.7 0 1 0 1.3 0a0.7 0.7 0 1 0 -1.3 0M229.9 103.6a0.7 0.7 0 1 0 1.4 0a0.7 0.7 0 1 0 -1.4 0M282.9 50a0.5 0.5 0 1 0 1 0a0.5 0.5 0 1 0 -1 0M258.4 59a0.5 0.5 0 1 0 1 0a0.5 0.5 0 1 0 -1 0M309.2 99.7a1 1 0 1 0 2 0a1 1 0 1 0 -2 0M230.3 86.8a0.6 0.6 0 1 0 1.2 0a0.6 0.6 0 1 0 -1.2 0M194.4 31.7a1 1 0 1 0 2.1 0a1 1 0 1 0 -2.1 0M296 43.6a1 1 0 1 0 2 0a1 1 0 1 0 -2 0M236.2 54.3a0.8 0.8 0 1 0 1.6 0a0.8 0.8 0 1 0 -1.6 0M281.8 24.2a0.8 0.8 0 1 0 1.5 0a0.8 0.8 0 1 0 -1.5 0M305.4 93.5a0.7 0.7 0 1 0 1.4 0a0.7 0.7 0 1 0 -1.4 0M270.4 73.2a0.7 0.7 0 1 0 1.5 0a0.7 0.7 0 1 0 -1.5 0M196.5 81.5a0.7 0.7 0 1 0 1.5 0a0.7 0.7 0 1 0 -1.5 0M259.6 20.5a0.9 0.9 0 1 0 1.8 0a0.9 0.9 0 1 0 -1.8 0M271.3 71.4a0.6 0.6 0 1 0 1.2 0a0.6 0.6 0 1 0 -1.2 0M203.1 101a0.7 0.7 0 1 0 1.5 0a0.7 0.7 0 1 0 -1.5 0M200.1 100.5a0.7 0.7 0 1 0 1.4 0a0.7 0.7 0 1 0 -1.4 0M295.5 98.9a0.9 0.9 0 1 0 1.9 0a0.9 0.9 0 1 0 -1.9 0M309 36.7a1.1 1.1 0 1 0 2.2 0a1.1 1.1 0 1 0 -2.2 0M227.1 71.8a0.6 0.6 0 1 0 1.3 0a0.6 0.6 0 1 0 -1.3 0M255.8 36.5a0.5 0.5 0 1 0 1.1 0a0.5 0.5 0 1 0 -1.1 0M284.5 97.1a0.6 0.6 0 1 0 1.2 0a0.6 0.6 0 1 0 -1.2 0M270.3 86.1a0.8 0.8 0 1 0 1.6 0a0.8 0.8 0 1 0 -1.6 0M299.9 76.3a0.7 0.7 0 1 0 1.4 0a0.7 0.7 0 1 0 -1.4 0M306.4 58.2a0.9 0.9 0 1 0 1.8 0a0.9 0.9 0 1 0 -1.8 0M197.7 62.4a1 1 0 1 0 2.1 0a1 1 0 1 0 -2.1 0M223.7 69.5a0.7 0.7 0 1 0 1.3 0a0.7 0.7 0 1 0 -1.3 0M226.3 47.4a0.5 0.5 0 1 0 1.1 0a0.5 0.5 0 1 0 -1.1 0M197.6 19.2a0.7 0.7 0 1 0 1.4 0a0.7 0.7 0 1 0 -1.4 0M300.9 35.8a0.9 0.9 0 1 0 1.9 0a0.9 0.9 0 1 0 -1.9 0M280.5 48.8a1 1 0 1 0 2.1 0a1 1 0 1 0 -2.1 0M284.4 68.5a0.8 0.8 0 1 0 1.6 0a0.8 0.8 0 1 0 -1.6 0M268.7 24.3a1 1 0 1 0 2 0a1 1 0 1 0 -2 0M213.8 15.2a0.8 0.8 0 1 0 1.5 0a0.8 0.8 0 1 0 -1.5 0M221.8 62.7a0.8 0.8 0 1 0 1.5 0a0.8 0.8 0 1 0 -1.5 0M212.7 47.2a0.8 0.8 0 1 0 1.5 0a0.8 0.8 0 1 0 -1.5 0M225.2 76.6a0.9 0.9 0 1 0 1.8 0a0.9 0.9 0 1 0 -1.8 0M297.5 52.8a0.9 0.9 0 1 0 1.7 0a0.9 0.9 0 1 0 -1.7 0M291.3 37.9a0.6 0.6 0 1 0 1.2 0a0.6 0.6 0 1 0 -1.2 0M252.7 94.6a0.6 0.6 0 1 0 1.3 0a0.6 0.6 0 1 0 -1.3 0M201.9 49.7a0.7 0.7 0 1 0 1.4 0a0.7 0.7 0 1 0 -1.4 0M292.4 79.2a0.6 0.6 0 1 0 1.1 0a0.6 0.6 0 1 0 -1.1 0M194.1 28.4a0.8 0.8 0 1 0 1.6 0a0.8 0.8 0 1 0 -1.6 0M294.5 93.2a1 1 0 1 0 2 0a1 1 0 1 0 -2 0M256 39a0.8 0.8 0 1 0 1.6 0a0.8 0.8 0 1 0 -1.6 0M274.8 106.4a0.9 0.9 0 1 0 1.8 0a0.9 0.9 0 1 0 -1.8 0M278.1 44.8a0.6 0.6 0 1 0 1.2 0a0.6 0.6 0 1 0 -1.2 0M237.4 29.5a1.1 1.1 0 1 0 2.1 0a1.1 1.1 0 1 0 -2.1 0M194.2 38.6a0.7 0.7 0 1 0 1.4 0a0.7 0.7 0 1 0 -1.4 0M210.1 35.8a1 1 0 1 0 2.1 0a1 1 0 1 0 -2.1 0M256.2 55.5a0.9 0.9 0 1 0 1.8 0a0.9 0.9 0 1 0 -1.8 0M230 16.3a1 1 0 1 0 2 0a1 1 0 1 0 -2 0M271.7 78.6a0.9 0.9 0 1 0 1.7 0a0.9 0.9 0 1 0 -1.7 0M283.4 52.2a0.9 0.9 0 1 0 1.8 0a0.9 0.9 0 1 0 -1.8 0M271.2 87.3a0.5 0.5 0 1 0 1 0a0.5 0.5 0 1 0 -1 0M274.8 29.2a0.6 0.6 0 1 0 1.1 0a0.6 0.6 0 1 0 -1.1 0M296.9 96.2a0.9 0.9 0 1 0 1.9 0a0.9 0.9 0 1 0 -1.9 0M280.1 37a1 1 0 1 0 2 0a1 1 0 1 0 -2 0M303.3 34.6a1 1 0 1 0 1.9 0a1 1 0 1 0 -1.9 0M214.8 66.1a1 1 0 1 0 2 0a1 1 0 1 0 -2 0M291.7 22.8a0.5 0.5 0 1 0 1.1 0a0.5 0.5 0 1 0 -1.1 0M305.5 98a0.5 0.5 0 1 0 1 0a0.5 0.5 0 1 0 -1 0M207.1 100.7a1.1 1.1 0 1 0 2.2 0a1.1 1.1 0 1 0 -2.2 0M283.4 95a1.1 1.1 0 1 0 2.2 0a1.1 1.1 0 1 0 -2.2 0M227.7 39.8a0.7 0.7 0 1 0 1.3 0a0.7 0.7 0 1 0 -1.3 0M228.8 20.6a1 1 0 1 0 2 0a1 1 0 1 0 -2 0M190.5 43.3a0.7 0.7 0 1 0 1.4 0a0.7 0.7 0 1 0 -1.4 0M306.7 72.6a0.6 0.6 0 1 0 1.1 0a0.6 0.6 0 1 0 -1.1 0M297.3 79.1a0.8 0.8 0 1 0 1.5 0a0.8 0.8 0 1 0 -1.5 0M292.5 86.7a0.9 0.9 0 1 0 1.8 0a0.9 0.9 0 1 0 -1.8 0M242.5 92.7a1 1 0 1 0 2 0a1 1 0 1 0 -2 0M202.9 102.2a1.1 1.1 0 1 0 2.2 0a1.1 1.1 0 1 0 -2.2 0M279.6 23.1a0.7 0.7 0 1 0 1.3 0a0.7 0.7 0 1 0 -1.3 0M240.5 35.4a0.8 0.8 0 1 0 1.6 0a0.8 0.8 0 1 0 -1.6 0M276.9 45.9a0.5 0.5 0 1 0 1.1 0a0.5 0.5 0 1 0 -1.1 0M215.8 97.2a1.1 1.1 0 1 0 2.1 0a1.1 1.1 0 1 0 -2.1 0M190.1 32.4a1 1 0 1 0 1.9 0a1 1 0 1 0 -1.9 0M214.1 50.9a0.9 0.9 0 1 0 1.7 0a0.9 0.9 0 1 0 -1.7 0M287.9 68.7a0.5 0.5 0 1 0 1.1 0a0.5 0.5 0 1 0 -1.1 0M271 55.2a0.6 0.6 0 1 0 1.1 0a0.6 0.6 0 1 0 -1.1 0M191.6 39a0.8 0.8 0 1 0 1.6 0a0.8 0.8 0 1 0 -1.6 0M275.3 91.1a0.8 0.8 0 1 0 1.6 0a0.8 0.8 0 1 0 -1.6 0M252.2 50.5a1.1 1.1 0 1 0 2.2 0a1.1 1.1 0 1 0 -2.2 0M250.6 65a1 1 0 1 0 2 0a1 1 0 1 0 -2 0M216.9 77.9a0.5 0.5 0 1 0 1 0a0.5 0.5 0 1 0 -1 0M300.5 14.5a1 1 0 1 0 1.9 0a1 1 0 1 0 -1.9 0M301.8 36.2a0.5 0.5 0 1 0 1.1 0a0.5 0.5 0 1 0 -1.1 0M306.5 73.4a0.5 0.5 0 1 0 1.1 0a0.5 0.5 0 1 0 -1.1 0M252.9 52.1a0.8 0.8 0 1 0 1.6 0a0.8 0.8 0 1 0 -1.6 0M225.9 80.7a0.8 0.8 0 1 0 1.5 0a0.8 0.8 0 1 0 -1.5 0M249.8 54.9a1 1 0 1 0 2 0a1 1 0 1 0 -2 0M280 93.6a1 1 0 1 0 2 0a1 1 0 1 0 -2 0M309.1 24.5a0.7 0.7 0 1 0 1.3 0a0.7 0.7 0 1 0 -1.3 0M287.2 27.8a0.6 0.6 0 1 0 1.2 0a0.6 0.6 0 1 0 -1.2 0M288.1 47.3a0.7 0.7 0 1 0 1.5 0a0.7 0.7 0 1 0 -1.5 0M221.1 78.9a0.7 0.7 0 1 0 1.5 0a0.7 0.7 0 1 0 -1.5 0M272 57.3a1 1 0 1 0 1.9 0a1 1 0 1 0 -1.9 0M213.8 43a1.1 1.1 0 1 0 2.1 0a1.1 1.1 0 1 0 -2.1 0M307.2 27a0.8 0.8 0 1 0 1.7 0a0.8 0.8 0 1 0 -1.7 0M241.7 95.7a0.9 0.9 0 1 0 1.8 0a0.9 0.9 0 1 0 -1.8 0M278.4 50.9a0.9 0.9 0 1 0 1.8 0a0.9 0.9 0 1 0 -1.8 0M300 71.5a0.6 0.6 0 1 0 1.3 0a0.6 0.6 0 1 0 -1.3 0M234 54.5a0.8 0.8 0 1 0 1.5 0a0.8 0.8 0 1 0 -1.5 0M260.4 59a0.9 0.9 0 1 0 1.8 0a0.9 0.9 0 1 0 -1.8 0M296.5 82.7a0.9 0.9 0 1 0 1.8 0a0.9 0.9 0 1 0 -1.8 0M289.6 75.4a0.5 0.5 0 1 0 1.1 0a0.5 0.5 0 1 0 -1.1 0M303.2 33.2a0.7 0.7 0 1 0 1.3 0a0.7 0.7 0 1 0 -1.3 0M203.1 95.6a1 1 0 1 0 1.9 0a1 1 0 1 0 -1.9 0M238.5 30.7a1 1 0 1 0 2.1 0a1 1 0 1 0 -2.1 0M209.6 32.5a0.6 0.6 0 1 0 1.1 0a0.6 0.6 0 1 0 -1.1 0M274.8 28.6a0.7 0.7 0 1 0 1.3 0a0.7 0.7 0 1 0 -1.3 0M273.8 14.8a0.5 0.5 0 1 0 1.1 0a0.5 0.5 0 1 0 -1.1 0M272.2 84.9a0.7 0.7 0 1 0 1.4 0a0.7 0.7 0 1 0 -1.4 0M279.3 102.5a0.5 0.5 0 1 0 1 0a0.5 0.5 0 1 0 -1 0M211.7 65.4a0.7 0.7 0 1 0 1.5 0a0.7 0.7 0 1 0 -1.5 0M216.1 15.2a0.9 0.9 0 1 0 1.7 0a0.9 0.9 0 1 0 -1.7 0M203.7 52.5a0.9 0.9 0 1 0 1.7 0a0.9 0.9 0 1 0 -1.7 0M306.9 44.8a0.8 0.8 0 1 0 1.7 0a0.8 0.8 0 1 0 -1.7 0M299.3 21.8a0.7 0.7 0 1 0 1.5 0a0.7 0.7 0 1 0 -1.5 0M294.2 78a1 1 0 1 0 2.1 0a1 1 0 1 0 -2.1 0M193.4 44.4a0.8 0.8 0 1 0 1.5 0a0.8 0.8 0 1 0 -1.5 0M213.7 38.2a0.6 0.6 0 1 0 1.2 0a0.6 0.6 0 1 0 -1.2 0M289.9 40a0.5 0.5 0 1 0 1 0a0.5 0.5 0 1 0 -1 0M212.8 74.5a0.6 0.6 0 1 0 1.2 0a0.6 0.6 0 1 0 -1.2 0M274.7 33.2a0.6 0.6 0 1 0 1.2 0a0.6 0.6 0 1 0 -1.2 0M257.8 52.8a1 1 0 1 0 2 0a1 1 0 1 0 -2 0M297.5 23.1a0.9 0.9 0 1 0 1.7 0a0.9 0.9 0 1 0 -1.7 0M275.3 66.8a0.6 0.6 0 1 0 1.3 0a0.6 0.6 0 1 0 -1.3 0M223.7 59.3a0.8 0.8 0 1 0 1.6 0a0.8 0.8 0 1 0 -1.6 0M275.5 39.3a1 1 0 1 0 2 0a1 1 0 1 0 -2 0M247 57.9a1.1 1.1 0 1 0 2.1 0a1.1 1.1 0 1 0 -2.1 0M283.9 90.5a1 1 0 1 0 2.1 0a1 1 0 1 0 -2.1 0M278 54.9a0.8 0.8 0 1 0 1.7 0a0.8 0.8 0 1 0 -1.7 0M226.5 44.8a0.8 0.8 0 1 0 1.6 0a0.8 0.8 0 1 0 -1.6 0M300.5 80.6a0.6 0.6 0 1 0 1.1 0a0.6 0.6 0 1 0 -1.1 0M190.9 24.7a1.1 1.1 0 1 0 2.2 0a1.1 1.1 0 1 0 -2.2 0M239.7 96.8a1 1 0 1 0 2 0a1 1 0 1 0 -2 0M256 41.5a1 1 0 1 0 2 0a1 1 0 1 0 -2 0M205.6 40.5a0.8 0.8 0 1 0 1.6 0a0.8 0.8 0 1 0 -1.6 0M210.8 43a1 1 0 1 0 1.9 0a1 1 0 1 0 -1.9 0M242.3 58a0.5 0.5 0 1 0 1.1 0a0.5 0.5 0 1 0 -1.1 0M205.9 37.2a0.6 0.6 0 1 0 1.2 0a0.6 0.6 0 1 0 -1.2 0M191.6 39.7a0.9 0.9 0 1 0 1.7 0a0.9 0.9 0 1 0 -1.7 0M276.7 55.7a0.6 0.6 0 1 0 1.2 0a0.6 0.6 0 1 0 -1.2 0M308.7 86.7a0.7 0.7 0 1 0 1.3 0a0.7 0.7 0 1 0 -1.3 0M246.3 67.8a0.8 0.8 0 1 0 1.6 0a0.8 0.8 0 1 0 -1.6 0M272.1 100.3a0.8 0.8 0 1 0 1.7 0a0.8 0.8 0 1 0 -1.7 0M295 58.2a0.7 0.7 0 1 0 1.4 0a0.7 0.7 0 1 0 -1.4 0M228.3 15.8a0.7 0.7 0 1 0 1.4 0a0.7 0.7 0 1 0 -1.4 0M216.8 71a1.1 1.1 0 1 0 2.1 0a1.1 1.1 0 1 0 -2.1 0M277.8 80.6a0.9 0.9 0 1 0 1.8 0a0.9 0.9 0 1 0 -1.8 0M276.5 21.3a0.8 0.8 0 1 0 1.5 0a0.8 0.8 0 1 0 -1.5 0M224.7 57.9a1 1 0 1 0 1.9 0a1 1 0 1 0 -1.9 0M273.2 67a0.6 0.6 0 1 0 1.1 0a0.6 0.6 0 1 0 -1.1 0M302.4 20.4a0.8 0.8 0 1 0 1.5 0a0.8 0.8 0 1 0 -1.5 0M278.9 27.5a0.6 0.6 0 1 0 1.1 0a0.6 0.6 0 1 0 -1.1 0M215.6 65.2a0.6 0.6 0 1 0 1.2 0a0.6 0.6 0 1 0 -1.2 0M276.7 51.7a0.6 0.6 0 1 0 1.2 0a0.6 0.6 0 1 0 -1.2 0M242.9 51.2a0.9 0.9 0 1 0 1.7 0a0.9 0.9 0 1 0 -1.7 0M278.5 73.6a0.9 0.9 0 1 0 1.7 0a0.9 0.9 0 1 0 -1.7 0M200.6 60.6a1 1 0 1 0 2.1 0a1 1 0 1 0 -2.1 0M254.8 26.5a0.7 0.7 0 1 0 1.4 0a0.7 0.7 0 1 0 -1.4 0M213.6 33.5a1 1 0 1 0 1.9 0a1 1 0 1 0 -1.9 0M294.3 97.8a0.6 0.6 0 1 0 1.1 0a0.6 0.6 0 1 0 -1.1 0M272.2 51.8a0.8 0.8 0 1 0 1.6 0a0.8 0.8 0 1 0 -1.6 0M304 43.7a1.1 1.1 0 1 0 2.2 0a1.1 1.1 0 1 0 -2.2 0M302.9 14.5a1 1 0 1 0 2.1 0a1 1 0 1 0 -2.1 0M282.7 87.1a0.7 0.7 0 1 0 1.3 0a0.7 0.7 0 1 0 -1.3 0M270 19.1a0.7 0.7 0 1 0 1.3 0a0.7 0.7 0 1 0 -1.3 0M192.1 41.9a0.9 0.9 0 1 0 1.8 0a0.9 0.9 0 1 0 -1.8 0M256.5 46a1 1 0 1 0 2 0a1 1 0 1 0 -2 0M300 74.6a0.7 0.7 0 1 0 1.4 0a0.7 0.7 0 1 0 -1.4 0M250.6 44.5a0.7 0.7 0 1 0 1.4 0a0.7 0.7 0 1 0 -1.4 0M197.6 84.8a0.9 0.9 0 1 0 1.8 0a0.9 0.9 0 1 0 -1.8 0M200.8 55.6a0.9 0.9 0 1 0 1.7 0a0.9 0.9 0 1 0 -1.7 0M192.6 14.2a0.6 0.6 0 1 0 1.1 0a0.6 0.6 0 1 0 -1.1 0M242.8 91a0.8 0.8 0 1 0 1.7 0a0.8 0.8 0 1 0 -1.7 0M286.1 100.8a0.9 0.9 0 1 0 1.9 0a0.9 0.9 0 1 0 -1.9 0M258.9 42a0.5 0.5 0 1 0 1 0a0.5 0.5 0 1 0 -1 0M212.6 62.5a0.6 0.6 0 1 0 1.1 0a0.6 0.6 0 1 0 -1.1 0M285.6 77a0.5 0.5 0 1 0 1 0a0.5 0.5 0 1 0 -1 0M205 74.2a1 1 0 1 0 2.1 0a1 1 0 1 0 -2.1 0M276.8 68.5a1 1 0 1 0 2 0a1 1 0 1 0 -2 0M231.2 24.3a1.1 1.1 0 1 0 2.1 0a1.1 1.1 0 1 0 -2.1 0M239.7 39.7a0.9 0.9 0 1 0 1.8 0a0.9 0.9 0 1 0 -1.8 0M275.1 97.7a0.7 0.7 0 1 0 1.4 0a0.7 0.7 0 1 0 -1.4 0M226.9 39.3a0.7 0.7 0 1 0 1.3 0a0.7 0.7 0 1 0 -1.3 0M239.2 19.8a0.7 0.7 0 1 0 1.5 0a0.7 0.7 0 1 0 -1.5 0M206.9 56.4a0.7 0.7 0 1 0 1.4 0a0.7 0.7 0 1 0 -1.4 0M271.2 104.4a1 1 0 1 0 2.1 0a1 1 0 1 0 -2.1 0M292.5 59.1a0.7 0.7 0 1 0 1.4 0a0.7 0.7 0 1 0 -1.4 0M191.1 93.6a0.8 0.8 0 1 0 1.7 0a0.8 0.8 0 1 0 -1.7 0M293.6 33.3a1 1 0 1 0 2 0a1 1 0 1 0 -2 0M253.9 26.3a1 1 0 1 0 2.1 0a1 1 0 1 0 -2.1 0M219.4 19.7a0.8 0.8 0 1 0 1.6 0a0.8 0.8 0 1 0 -1.6 0M205.7 39.2a0.6 0.6 0 1 0 1.1 0a0.6 0.6 0 1 0 -1.1 0M271.7 102.2a0.7 0.7 0 1 0 1.4 0a0.7 0.7 0 1 0 -1.4 0M236.4 53a1 1 0 1 0 2.1 0a1 1 0 1 0 -2.1 0M306.8 66.5a1 1 0 1 0 1.9 0a1 1 0 1 0 -1.9 0M301.9 52.4a0.8 0.8 0 1 0 1.5 0a0.8 0.8 0 1 0 -1.5 0M212.7 45a0.8 0.8 0 1 0 1.6 0a0.8 0.8 0 1 0 -1.6 0M194.6 34.3a0.5 0.5 0 1 0 1.1 0a0.5 0.5 0 1 0 -1.1 0M296.5 79.3a0.9 0.9 0 1 0 1.8 0a0.9 0.9 0 1 0 -1.8 0M219.2 82.8a0.9 0.9 0 1 0 1.7 0a0.9 0.9 0 1 0 -1.7 0M269.1 14.4a0.6 0.6 0 1 0 1.2 0a0.6 0.6 0 1 0 -1.2 0M230.2 68.3a1 1 0 1 0 2 0a1 1 0 1 0 -2 0M272 25.1a0.9 0.9 0 1 0 1.7 0a0.9 0.9 0 1 0 -1.7 0M228.2 68.4a0.6 0.6 0 1 0 1.1 0a0.6 0.6 0 1 0 -1.1 0M278 91.4a0.9 0.9 0 1 0 1.7 0a0.9 0.9 0 1 0 -1.7 0M304.6 89.3a0.9 0.9 0 1 0 1.7 0a0.9 0.9 0 1 0 -1.7 0M231.3 29.6a0.8 0.8 0 1 0 1.6 0a0.8 0.8 0 1 0 -1.6 0M286.6 56.6a1 1 0 1 0 2 0a1 1 0 1 0 -2 0M241.1 87.5a0.5 0.5 0 1 0 1.1 0a0.5 0.5 0 1 0 -1.1 0M210.8 56.7a0.7 0.7 0 1 0 1.3 0a0.7 0.7 0 1 0 -1.3 0M275.7 57.3a0.8 0.8 0 1 0 1.6 0a0.8 0.8 0 1 0 -1.6 0M254.9 58.1a0.7 0.7 0 1 0 1.4 0a0.7 0.7 0 1 0 -1.4 0M249.6 64.9a0.6 0.6 0 1 0 1.2 0a0.6 0.6 0 1 0 -1.2 0M289.1 46a0.8 0.8 0 1 0 1.5 0a0.8 0.8 0 1 0 -1.5 0M298.4 78.3a0.5 0.5 0 1 0 1.1 0a0.5 0.5 0 1 0 -1.1 0M283.3 40.3a0.7 0.7 0 1 0 1.4 0a0.7 0.7 0 1 0 -1.4 0M300.1 18.8a1 1 0 1 0 2.1 0a1 1 0 1 0 -2.1 0M259.4 18.9a0.6 0.6 0 1 0 1.1 0a0.6 0.6 0 1 0 -1.1 0M294.2 93.9a0.9 0.9 0 1 0 1.8 0a0.9 0.9 0 1 0 -1.8 0M281.9 89.9a1 1 0 1 0 2 0a1 1 0 1 0 -2 0M305.9 53.9a0.5 0.5 0 1 0 1.1 0a0.5 0.5 0 1 0 -1.1 0M283.6 29.9a0.8 0.8 0 1 0 1.5 0a0.8 0.8 0 1 0 -1.5 0M256.9 54.8a0.5 0.5 0 1 0 1 0a0.5 0.5 0 1 0 -1 0M303.6 22.2a1 1 0 1 0 2.1 0a1 1 0 1 0 -2.1 0M276.9 35.2a0.8 0.8 0 1 0 1.6 0a0.8 0.8 0 1 0 -1.6 0M256.6 22.8a0.5 0.5 0 1 0 1 0a0.5 0.5 0 1 0 -1 0M276.3 25.7a0.7 0.7 0 1 0 1.5 0a0.7 0.7 0 1 0 -1.5 0M214.2 50.3a0.5 0.5 0 1 0 1.1 0a0.5 0.5 0 1 0 -1.1 0M245.5 52.8a0.6 0.6 0 1 0 1.2 0a0.6 0.6 0 1 0 -1.2 0M292.1 97a0.8 0.8 0 1 0 1.6 0a0.8 0.8 0 1 0 -1.6 0M296.5 49.1a0.7 0.7 0 1 0 1.3 0a0.7 0.7 0 1 0 -1.3 0M297.5 72.5a0.8 0.8 0 1 0 1.7 0a0.8 0.8 0 1 0 -1.7 0" fill="#7c6c22" opacity="0.55"/>
<path d="M232.7 68.4a0.9 0.9 0 1 0 1.8 0a0.9 0.9 0 1 0 -1.8 0M254.9 83.6a0.8 0.8 0 1 0 1.6 0a0.8 0.8 0 1 0 -1.6 0M255.9 71.9a0.6 0.6 0 1 0 1.2 0a0.6 0.6 0 1 0 -1.2 0M224.8 23.6a0.9 0.9 0 1 0 1.8 0a0.9 0.9 0 1 0 -1.8 0M258.7 93a0.8 0.8 0 1 0 1.5 0a0.8 0.8 0 1 0 -1.5 0M199 16.4a0.6 0.6 0 1 0 1.1 0a0.6 0.6 0 1 0 -1.1 0M188.1 57.1a0.9 0.9 0 1 0 1.8 0a0.9 0.9 0 1 0 -1.8 0M208.7 80.2a0.8 0.8 0 1 0 1.7 0a0.8 0.8 0 1 0 -1.7 0M225.9 17.9a0.7 0.7 0 1 0 1.3 0a0.7 0.7 0 1 0 -1.3 0M200.3 21.1a0.9 0.9 0 1 0 1.8 0a0.9 0.9 0 1 0 -1.8 0M188.1 43.1a0.7 0.7 0 1 0 1.4 0a0.7 0.7 0 1 0 -1.4 0M205.2 65.5a0.7 0.7 0 1 0 1.3 0a0.7 0.7 0 1 0 -1.3 0M265.9 77.4a1 1 0 1 0 2 0a1 1 0 1 0 -2 0M236.7 65.3a0.9 0.9 0 1 0 1.8 0a0.9 0.9 0 1 0 -1.8 0M189.2 68.1a0.9 0.9 0 1 0 1.9 0a0.9 0.9 0 1 0 -1.9 0M218.4 54a0.7 0.7 0 1 0 1.5 0a0.7 0.7 0 1 0 -1.5 0M205.1 91.3a0.8 0.8 0 1 0 1.7 0a0.8 0.8 0 1 0 -1.7 0M223.6 34.3a0.7 0.7 0 1 0 1.5 0a0.7 0.7 0 1 0 -1.5 0M214.7 87.4a0.8 0.8 0 1 0 1.6 0a0.8 0.8 0 1 0 -1.6 0M188.2 42.1a1 1 0 1 0 1.9 0a1 1 0 1 0 -1.9 0M235.2 88.5a0.6 0.6 0 1 0 1.3 0a0.6 0.6 0 1 0 -1.3 0M268.7 55.2a0.7 0.7 0 1 0 1.4 0a0.7 0.7 0 1 0 -1.4 0M224.5 44.7a1 1 0 1 0 1.9 0a1 1 0 1 0 -1.9 0M223.7 26a0.6 0.6 0 1 0 1.1 0a0.6 0.6 0 1 0 -1.1 0M249.9 41.5a0.9 0.9 0 1 0 1.7 0a0.9 0.9 0 1 0 -1.7 0M221.6 86.9a0.7 0.7 0 1 0 1.3 0a0.7 0.7 0 1 0 -1.3 0M225.2 37.5a0.7 0.7 0 1 0 1.4 0a0.7 0.7 0 1 0 -1.4 0M247.1 98.6a0.8 0.8 0 1 0 1.5 0a0.8 0.8 0 1 0 -1.5 0M261.7 51.1a0.9 0.9 0 1 0 1.7 0a0.9 0.9 0 1 0 -1.7 0M266.5 72.5a0.6 0.6 0 1 0 1.3 0a0.6 0.6 0 1 0 -1.3 0M194.7 47.7a0.7 0.7 0 1 0 1.3 0a0.7 0.7 0 1 0 -1.3 0M261 29.7a0.9 0.9 0 1 0 1.8 0a0.9 0.9 0 1 0 -1.8 0M244.4 17.9a0.6 0.6 0 1 0 1.2 0a0.6 0.6 0 1 0 -1.2 0M259.4 73.9a0.7 0.7 0 1 0 1.4 0a0.7 0.7 0 1 0 -1.4 0M248.6 43.7a0.7 0.7 0 1 0 1.4 0a0.7 0.7 0 1 0 -1.4 0M219.7 57.9a0.9 0.9 0 1 0 1.8 0a0.9 0.9 0 1 0 -1.8 0M190.1 64.2a1 1 0 1 0 2 0a1 1 0 1 0 -2 0M255 68.8a0.9 0.9 0 1 0 1.7 0a0.9 0.9 0 1 0 -1.7 0M266 102.2a0.8 0.8 0 1 0 1.5 0a0.8 0.8 0 1 0 -1.5 0M209.8 92.8a0.8 0.8 0 1 0 1.5 0a0.8 0.8 0 1 0 -1.5 0M257.8 88.4a0.8 0.8 0 1 0 1.7 0a0.8 0.8 0 1 0 -1.7 0M187.1 42.2a0.9 0.9 0 1 0 1.8 0a0.9 0.9 0 1 0 -1.8 0M208.1 80.9a0.6 0.6 0 1 0 1.2 0a0.6 0.6 0 1 0 -1.2 0M236.4 71.8a0.5 0.5 0 1 0 1 0a0.5 0.5 0 1 0 -1 0M205.9 65.3a0.9 0.9 0 1 0 1.9 0a0.9 0.9 0 1 0 -1.9 0M211.6 82a1 1 0 1 0 1.9 0a1 1 0 1 0 -1.9 0M221.3 93.4a0.7 0.7 0 1 0 1.4 0a0.7 0.7 0 1 0 -1.4 0M224.2 25a0.8 0.8 0 1 0 1.7 0a0.8 0.8 0 1 0 -1.7 0M242.3 47.4a0.6 0.6 0 1 0 1.2 0a0.6 0.6 0 1 0 -1.2 0M222.8 39.1a0.8 0.8 0 1 0 1.5 0a0.8 0.8 0 1 0 -1.5 0M252.3 24.2a0.5 0.5 0 1 0 1 0a0.5 0.5 0 1 0 -1 0M217.1 61.7a0.9 0.9 0 1 0 1.8 0a0.9 0.9 0 1 0 -1.8 0M187.8 88.6a0.9 0.9 0 1 0 1.9 0a0.9 0.9 0 1 0 -1.9 0M197.9 45.2a0.6 0.6 0 1 0 1.3 0a0.6 0.6 0 1 0 -1.3 0M189.8 97.1a1 1 0 1 0 2 0a1 1 0 1 0 -2 0M199.3 20.9a1 1 0 1 0 1.9 0a1 1 0 1 0 -1.9 0M262.6 26.5a0.8 0.8 0 1 0 1.6 0a0.8 0.8 0 1 0 -1.6 0M237 92.1a1 1 0 1 0 2 0a1 1 0 1 0 -2 0M236.5 19a0.8 0.8 0 1 0 1.5 0a0.8 0.8 0 1 0 -1.5 0M248.9 18.3a0.6 0.6 0 1 0 1.3 0a0.6 0.6 0 1 0 -1.3 0M255.7 106.1a0.6 0.6 0 1 0 1.2 0a0.6 0.6 0 1 0 -1.2 0M195.3 79.6a0.6 0.6 0 1 0 1.2 0a0.6 0.6 0 1 0 -1.2 0M241.6 16.1a0.7 0.7 0 1 0 1.3 0a0.7 0.7 0 1 0 -1.3 0M220.6 35.5a0.6 0.6 0 1 0 1.1 0a0.6 0.6 0 1 0 -1.1 0M269 39.7a0.6 0.6 0 1 0 1.3 0a0.6 0.6 0 1 0 -1.3 0M234.7 66.4a0.9 0.9 0 1 0 1.9 0a0.9 0.9 0 1 0 -1.9 0M238 74.2a0.8 0.8 0 1 0 1.6 0a0.8 0.8 0 1 0 -1.6 0M262.2 104.4a0.6 0.6 0 1 0 1.1 0a0.6 0.6 0 1 0 -1.1 0M198.8 78.4a0.5 0.5 0 1 0 1 0a0.5 0.5 0 1 0 -1 0M219.2 90a0.9 0.9 0 1 0 1.8 0a0.9 0.9 0 1 0 -1.8 0M189.8 78.6a1 1 0 1 0 1.9 0a1 1 0 1 0 -1.9 0M240.2 105.4a1 1 0 1 0 1.9 0a1 1 0 1 0 -1.9 0M206.2 23.4a0.9 0.9 0 1 0 1.8 0a0.9 0.9 0 1 0 -1.8 0M220.4 32.8a0.9 0.9 0 1 0 1.8 0a0.9 0.9 0 1 0 -1.8 0M256.6 101.3a0.7 0.7 0 1 0 1.4 0a0.7 0.7 0 1 0 -1.4 0M263.8 15.9a0.8 0.8 0 1 0 1.5 0a0.8 0.8 0 1 0 -1.5 0M225.4 40a0.6 0.6 0 1 0 1.2 0a0.6 0.6 0 1 0 -1.2 0M269.1 103.1a0.7 0.7 0 1 0 1.5 0a0.7 0.7 0 1 0 -1.5 0M248.9 100.5a0.6 0.6 0 1 0 1.2 0a0.6 0.6 0 1 0 -1.2 0M222.9 100a0.8 0.8 0 1 0 1.6 0a0.8 0.8 0 1 0 -1.6 0M261.9 84.4a0.8 0.8 0 1 0 1.6 0a0.8 0.8 0 1 0 -1.6 0M245.5 86.1a0.8 0.8 0 1 0 1.5 0a0.8 0.8 0 1 0 -1.5 0M204.1 70.2a0.7 0.7 0 1 0 1.4 0a0.7 0.7 0 1 0 -1.4 0M245.8 99.5a0.5 0.5 0 1 0 1 0a0.5 0.5 0 1 0 -1 0M198.3 44.1a0.6 0.6 0 1 0 1.2 0a0.6 0.6 0 1 0 -1.2 0M261.4 81.8a0.5 0.5 0 1 0 1 0a0.5 0.5 0 1 0 -1 0M257.2 104.4a0.8 0.8 0 1 0 1.6 0a0.8 0.8 0 1 0 -1.6 0M269.1 32.7a0.8 0.8 0 1 0 1.7 0a0.8 0.8 0 1 0 -1.7 0M241.3 63.4a0.5 0.5 0 1 0 1 0a0.5 0.5 0 1 0 -1 0M244.9 33.6a1 1 0 1 0 2 0a1 1 0 1 0 -2 0M206.3 18.3a0.9 0.9 0 1 0 1.8 0a0.9 0.9 0 1 0 -1.8 0M212.6 82.3a0.5 0.5 0 1 0 1.1 0a0.5 0.5 0 1 0 -1.1 0M226.7 16.7a0.9 0.9 0 1 0 1.9 0a0.9 0.9 0 1 0 -1.9 0M192.3 76.7a0.8 0.8 0 1 0 1.6 0a0.8 0.8 0 1 0 -1.6 0M244.2 45.5a0.7 0.7 0 1 0 1.4 0a0.7 0.7 0 1 0 -1.4 0M246.5 46.1a0.7 0.7 0 1 0 1.5 0a0.7 0.7 0 1 0 -1.5 0M250.2 14.3a0.6 0.6 0 1 0 1.2 0a0.6 0.6 0 1 0 -1.2 0M197.1 80.2a0.5 0.5 0 1 0 1 0a0.5 0.5 0 1 0 -1 0M222 48.9a0.7 0.7 0 1 0 1.4 0a0.7 0.7 0 1 0 -1.4 0M249.7 26.3a0.8 0.8 0 1 0 1.6 0a0.8 0.8 0 1 0 -1.6 0M241.6 34.4a0.8 0.8 0 1 0 1.7 0a0.8 0.8 0 1 0 -1.7 0M258.2 68.8a0.7 0.7 0 1 0 1.4 0a0.7 0.7 0 1 0 -1.4 0M202.7 74.1a0.6 0.6 0 1 0 1.3 0a0.6 0.6 0 1 0 -1.3 0M209.5 78.5a0.9 0.9 0 1 0 1.9 0a0.9 0.9 0 1 0 -1.9 0M259.4 96.1a1 1 0 1 0 2 0a1 1 0 1 0 -2 0M267.5 24.3a0.6 0.6 0 1 0 1.2 0a0.6 0.6 0 1 0 -1.2 0M198.6 43a0.6 0.6 0 1 0 1.1 0a0.6 0.6 0 1 0 -1.1 0M235.4 62.6a0.7 0.7 0 1 0 1.3 0a0.7 0.7 0 1 0 -1.3 0M266.2 50a0.7 0.7 0 1 0 1.3 0a0.7 0.7 0 1 0 -1.3 0M205.3 64.6a0.6 0.6 0 1 0 1.1 0a0.6 0.6 0 1 0 -1.1 0M202.6 41a0.6 0.6 0 1 0 1.2 0a0.6 0.6 0 1 0 -1.2 0M218.4 60.1a1 1 0 1 0 1.9 0a1 1 0 1 0 -1.9 0M267.5 14.7a0.7 0.7 0 1 0 1.3 0a0.7 0.7 0 1 0 -1.3 0M266.7 101.4a0.8 0.8 0 1 0 1.6 0a0.8 0.8 0 1 0 -1.6 0M187.7 75.3a0.6 0.6 0 1 0 1.3 0a0.6 0.6 0 1 0 -1.3 0M214.6 59.8a0.8 0.8 0 1 0 1.6 0a0.8 0.8 0 1 0 -1.6 0M265.2 90a0.6 0.6 0 1 0 1.2 0a0.6 0.6 0 1 0 -1.2 0M269.4 31.3a1 1 0 1 0 2 0a1 1 0 1 0 -2 0M269 59.3a0.6 0.6 0 1 0 1.2 0a0.6 0.6 0 1 0 -1.2 0M198.5 43.2a0.8 0.8 0 1 0 1.6 0a0.8 0.8 0 1 0 -1.6 0M266.5 81.3a0.8 0.8 0 1 0 1.6 0a0.8 0.8 0 1 0 -1.6 0M266.9 49.3a0.7 0.7 0 1 0 1.4 0a0.7 0.7 0 1 0 -1.4 0M247.8 47.1a0.9 0.9 0 1 0 1.7 0a0.9 0.9 0 1 0 -1.7 0M245.2 43.1a0.8 0.8 0 1 0 1.6 0a0.8 0.8 0 1 0 -1.6 0M222.1 31a0.9 0.9 0 1 0 1.7 0a0.9 0.9 0 1 0 -1.7 0M234 43.7a0.9 0.9 0 1 0 1.7 0a0.9 0.9 0 1 0 -1.7 0M201.4 40.7a0.7 0.7 0 1 0 1.5 0a0.7 0.7 0 1 0 -1.5 0M253.7 99.2a0.8 0.8 0 1 0 1.5 0a0.8 0.8 0 1 0 -1.5 0M206.8 14.8a0.6 0.6 0 1 0 1.1 0a0.6 0.6 0 1 0 -1.1 0M233 59.2a0.9 0.9 0 1 0 1.8 0a0.9 0.9 0 1 0 -1.8 0M234 23.4a0.7 0.7 0 1 0 1.4 0a0.7 0.7 0 1 0 -1.4 0M262.7 105.2a0.9 0.9 0 1 0 1.8 0a0.9 0.9 0 1 0 -1.8 0M232.6 32a1 1 0 1 0 1.9 0a1 1 0 1 0 -1.9 0M224.3 18.2a0.7 0.7 0 1 0 1.5 0a0.7 0.7 0 1 0 -1.5 0M192.1 73.4a0.6 0.6 0 1 0 1.2 0a0.6 0.6 0 1 0 -1.2 0M197.7 77.1a0.8 0.8 0 1 0 1.7 0a0.8 0.8 0 1 0 -1.7 0M267.8 16.5a0.6 0.6 0 1 0 1.3 0a0.6 0.6 0 1 0 -1.3 0M214.1 55.2a0.8 0.8 0 1 0 1.6 0a0.8 0.8 0 1 0 -1.6 0M227.3 98.6a0.7 0.7 0 1 0 1.4 0a0.7 0.7 0 1 0 -1.4 0M244.4 63a0.6 0.6 0 1 0 1.3 0a0.6 0.6 0 1 0 -1.3 0M190.6 101.4a0.9 0.9 0 1 0 1.8 0a0.9 0.9 0 1 0 -1.8 0M248.2 84.9a0.6 0.6 0 1 0 1.2 0a0.6 0.6 0 1 0 -1.2 0M247.1 100a0.6 0.6 0 1 0 1.2 0a0.6 0.6 0 1 0 -1.2 0M225.6 102.6a0.9 0.9 0 1 0 1.8 0a0.9 0.9 0 1 0 -1.8 0M219.5 93a0.8 0.8 0 1 0 1.5 0a0.8 0.8 0 1 0 -1.5 0M236.8 17.4a0.5 0.5 0 1 0 1.1 0a0.5 0.5 0 1 0 -1.1 0M189.2 97.8a0.9 0.9 0 1 0 1.7 0a0.9 0.9 0 1 0 -1.7 0M202.1 65.2a0.9 0.9 0 1 0 1.8 0a0.9 0.9 0 1 0 -1.8 0M225.6 36.5a0.9 0.9 0 1 0 1.8 0a0.9 0.9 0 1 0 -1.8 0M231 41.2a0.7 0.7 0 1 0 1.5 0a0.7 0.7 0 1 0 -1.5 0M187.8 15.3a0.6 0.6 0 1 0 1.2 0a0.6 0.6 0 1 0 -1.2 0M214.6 92.3a0.8 0.8 0 1 0 1.7 0a0.8 0.8 0 1 0 -1.7 0M265 81.4a1 1 0 1 0 1.9 0a1 1 0 1 0 -1.9 0M235.7 96.7a0.8 0.8 0 1 0 1.6 0a0.8 0.8 0 1 0 -1.6 0M188 24.2a0.9 0.9 0 1 0 1.9 0a0.9 0.9 0 1 0 -1.9 0M250.1 38.6a0.6 0.6 0 1 0 1.2 0a0.6 0.6 0 1 0 -1.2 0M226.9 16.1a0.8 0.8 0 1 0 1.6 0a0.8 0.8 0 1 0 -1.6 0M267.6 36.7a0.6 0.6 0 1 0 1.3 0a0.6 0.6 0 1 0 -1.3 0M259.1 98.5a0.7 0.7 0 1 0 1.4 0a0.7 0.7 0 1 0 -1.4 0M222.2 19.5a0.8 0.8 0 1 0 1.6 0a0.8 0.8 0 1 0 -1.6 0M221.9 48.5a0.6 0.6 0 1 0 1.3 0a0.6 0.6 0 1 0 -1.3 0M264.6 85.9a0.6 0.6 0 1 0 1.2 0a0.6 0.6 0 1 0 -1.2 0M235.4 96.3a0.5 0.5 0 1 0 1.1 0a0.5 0.5 0 1 0 -1.1 0M234 31.4a0.7 0.7 0 1 0 1.4 0a0.7 0.7 0 1 0 -1.4 0M269 96.3a0.8 0.8 0 1 0 1.5 0a0.8 0.8 0 1 0 -1.5 0M262.8 80.9a0.5 0.5 0 1 0 1 0a0.5 0.5 0 1 0 -1 0M193.9 54.6a0.9 0.9 0 1 0 1.9 0a0.9 0.9 0 1 0 -1.9 0M262.5 84.2a0.6 0.6 0 1 0 1.2 0a0.6 0.6 0 1 0 -1.2 0M267.3 23.4a0.7 0.7 0 1 0 1.3 0a0.7 0.7 0 1 0 -1.3 0M244.8 38.6a0.6 0.6 0 1 0 1.2 0a0.6 0.6 0 1 0 -1.2 0M244.7 85.9a0.7 0.7 0 1 0 1.3 0a0.7 0.7 0 1 0 -1.3 0M256 85.8a0.9 0.9 0 1 0 1.8 0a0.9 0.9 0 1 0 -1.8 0M250.6 22.8a0.9 0.9 0 1 0 1.9 0a0.9 0.9 0 1 0 -1.9 0M264.1 48.9a0.9 0.9 0 1 0 1.8 0a0.9 0.9 0 1 0 -1.8 0M235 70.2a0.9 0.9 0 1 0 1.7 0a0.9 0.9 0 1 0 -1.7 0M260.7 31.4a0.6 0.6 0 1 0 1.1 0a0.6 0.6 0 1 0 -1.1 0M191.9 80.5a0.6 0.6 0 1 0 1.2 0a0.6 0.6 0 1 0 -1.2 0M189.4 39a0.6 0.6 0 1 0 1.2 0a0.6 0.6 0 1 0 -1.2 0M199.7 51.6a1 1 0 1 0 1.9 0a1 1 0 1 0 -1.9 0M253.9 84.1a0.6 0.6 0 1 0 1.2 0a0.6 0.6 0 1 0 -1.2 0M189.3 53a0.6 0.6 0 1 0 1.3 0a0.6 0.6 0 1 0 -1.3 0M236.7 67.4a0.8 0.8 0 1 0 1.6 0a0.8 0.8 0 1 0 -1.6 0M190.3 17.6a0.6 0.6 0 1 0 1.2 0a0.6 0.6 0 1 0 -1.2 0M258.3 95.5a0.8 0.8 0 1 0 1.7 0a0.8 0.8 0 1 0 -1.7 0M191.8 99.6a0.9 0.9 0 1 0 1.8 0a0.9 0.9 0 1 0 -1.8 0M236.3 25.6a0.8 0.8 0 1 0 1.6 0a0.8 0.8 0 1 0 -1.6 0M224.5 16.4a0.9 0.9 0 1 0 1.8 0a0.9 0.9 0 1 0 -1.8 0M192.7 63a0.8 0.8 0 1 0 1.6 0a0.8 0.8 0 1 0 -1.6 0M246 37.8a0.9 0.9 0 1 0 1.7 0a0.9 0.9 0 1 0 -1.7 0M268.1 37.2a0.5 0.5 0 1 0 1 0a0.5 0.5 0 1 0 -1 0M246 98a0.6 0.6 0 1 0 1.1 0a0.6 0.6 0 1 0 -1.1 0M249.4 20.4a0.8 0.8 0 1 0 1.7 0a0.8 0.8 0 1 0 -1.7 0M199.2 45.4a0.9 0.9 0 1 0 1.9 0a0.9 0.9 0 1 0 -1.9 0M206.7 83.2a0.5 0.5 0 1 0 1.1 0a0.5 0.5 0 1 0 -1.1 0M237.4 97.6a0.8 0.8 0 1 0 1.5 0a0.8 0.8 0 1 0 -1.5 0M267.6 82.4a0.8 0.8 0 1 0 1.5 0a0.8 0.8 0 1 0 -1.5 0M245.1 61.3a0.7 0.7 0 1 0 1.5 0a0.7 0.7 0 1 0 -1.5 0M199.8 67.5a0.7 0.7 0 1 0 1.4 0a0.7 0.7 0 1 0 -1.4 0M205.3 19.6a0.6 0.6 0 1 0 1.2 0a0.6 0.6 0 1 0 -1.2 0M266.7 31.9a0.7 0.7 0 1 0 1.4 0a0.7 0.7 0 1 0 -1.4 0M244.2 36.7a0.7 0.7 0 1 0 1.3 0a0.7 0.7 0 1 0 -1.3 0M262.4 38.7a0.7 0.7 0 1 0 1.3 0a0.7 0.7 0 1 0 -1.3 0M225.5 100a0.6 0.6 0 1 0 1.1 0a0.6 0.6 0 1 0 -1.1 0M205.4 32.4a0.7 0.7 0 1 0 1.3 0a0.7 0.7 0 1 0 -1.3 0" fill="#6a1c48" opacity="0.5"/>
<path d="M207.6 78.1a0.7 0.7 0 1 0 1.4 0a0.7 0.7 0 1 0 -1.4 0M278.3 95.4a0.5 0.5 0 1 0 1 0a0.5 0.5 0 1 0 -1 0M280 84.9a0.8 0.8 0 1 0 1.6 0a0.8 0.8 0 1 0 -1.6 0M285.1 96a0.7 0.7 0 1 0 1.3 0a0.7 0.7 0 1 0 -1.3 0M304.6 16.2a0.8 0.8 0 1 0 1.5 0a0.8 0.8 0 1 0 -1.5 0M298.1 41.4a0.7 0.7 0 1 0 1.4 0a0.7 0.7 0 1 0 -1.4 0M303.9 23.2a0.7 0.7 0 1 0 1.4 0a0.7 0.7 0 1 0 -1.4 0M281 55.7a0.5 0.5 0 1 0 1 0a0.5 0.5 0 1 0 -1 0M244.8 54.6a0.6 0.6 0 1 0 1.2 0a0.6 0.6 0 1 0 -1.2 0M217 14.7a0.5 0.5 0 1 0 1.1 0a0.5 0.5 0 1 0 -1.1 0M287.6 70.4a0.7 0.7 0 1 0 1.4 0a0.7 0.7 0 1 0 -1.4 0M196 20.3a0.8 0.8 0 1 0 1.5 0a0.8 0.8 0 1 0 -1.5 0M207 100.6a0.9 0.9 0 1 0 1.7 0a0.9 0.9 0 1 0 -1.7 0M212.6 106.8a0.8 0.8 0 1 0 1.6 0a0.8 0.8 0 1 0 -1.6 0M237.1 30.6a0.8 0.8 0 1 0 1.7 0a0.8 0.8 0 1 0 -1.7 0M251.8 97.2a0.5 0.5 0 1 0 1.1 0a0.5 0.5 0 1 0 -1.1 0M260.3 55.3a0.9 0.9 0 1 0 1.8 0a0.9 0.9 0 1 0 -1.8 0M297.1 85.7a0.6 0.6 0 1 0 1.1 0a0.6 0.6 0 1 0 -1.1 0M282.9 80.9a0.6 0.6 0 1 0 1.1 0a0.6 0.6 0 1 0 -1.1 0M208 50.8a0.6 0.6 0 1 0 1.2 0a0.6 0.6 0 1 0 -1.2 0M248.5 79.2a0.9 0.9 0 1 0 1.8 0a0.9 0.9 0 1 0 -1.8 0M281.3 18.5a0.5 0.5 0 1 0 1.1 0a0.5 0.5 0 1 0 -1.1 0M286.1 30.1a0.7 0.7 0 1 0 1.4 0a0.7 0.7 0 1 0 -1.4 0M291.9 92.8a0.6 0.6 0 1 0 1.1 0a0.6 0.6 0 1 0 -1.1 0M306.1 55a0.6 0.6 0 1 0 1.3 0a0.6 0.6 0 1 0 -1.3 0M271.6 43.3a0.8 0.8 0 1 0 1.6 0a0.8 0.8 0 1 0 -1.6 0M252.9 84a0.9 0.9 0 1 0 1.7 0a0.9 0.9 0 1 0 -1.7 0M306.3 32.9a0.8 0.8 0 1 0 1.6 0a0.8 0.8 0 1 0 -1.6 0M283.4 27a0.9 0.9 0 1 0 1.7 0a0.9 0.9 0 1 0 -1.7 0M211.8 72.5a0.9 0.9 0 1 0 1.8 0a0.9 0.9 0 1 0 -1.8 0M222 22.7a0.6 0.6 0 1 0 1.2 0a0.6 0.6 0 1 0 -1.2 0M274.7 98.6a0.6 0.6 0 1 0 1.2 0a0.6 0.6 0 1 0 -1.2 0M295.1 38.8a0.8 0.8 0 1 0 1.5 0a0.8 0.8 0 1 0 -1.5 0M258.4 51.9a0.6 0.6 0 1 0 1.3 0a0.6 0.6 0 1 0 -1.3 0M251.3 54.5a0.6 0.6 0 1 0 1.1 0a0.6 0.6 0 1 0 -1.1 0M309.4 66.6a0.6 0.6 0 1 0 1.3 0a0.6 0.6 0 1 0 -1.3 0M283.3 42.9a0.8 0.8 0 1 0 1.5 0a0.8 0.8 0 1 0 -1.5 0M203.2 97.6a0.7 0.7 0 1 0 1.4 0a0.7 0.7 0 1 0 -1.4 0M230.5 80.3a0.5 0.5 0 1 0 1.1 0a0.5 0.5 0 1 0 -1.1 0M287.4 63.2a0.9 0.9 0 1 0 1.7 0a0.9 0.9 0 1 0 -1.7 0M232.9 81.6a0.8 0.8 0 1 0 1.7 0a0.8 0.8 0 1 0 -1.7 0M206.5 95.3a0.7 0.7 0 1 0 1.5 0a0.7 0.7 0 1 0 -1.5 0M283.4 24.7a0.6 0.6 0 1 0 1.1 0a0.6 0.6 0 1 0 -1.1 0M292.6 103.4a0.9 0.9 0 1 0 1.7 0a0.9 0.9 0 1 0 -1.7 0M229.4 89.7a0.8 0.8 0 1 0 1.7 0a0.8 0.8 0 1 0 -1.7 0M256.5 32.1a0.9 0.9 0 1 0 1.8 0a0.9 0.9 0 1 0 -1.8 0M304.9 38.5a0.6 0.6 0 1 0 1.2 0a0.6 0.6 0 1 0 -1.2 0M227.1 55.2a0.8 0.8 0 1 0 1.6 0a0.8 0.8 0 1 0 -1.6 0M285.5 64a0.8 0.8 0 1 0 1.7 0a0.8 0.8 0 1 0 -1.7 0M257.4 31.8a0.8 0.8 0 1 0 1.7 0a0.8 0.8 0 1 0 -1.7 0M305.1 100.7a0.6 0.6 0 1 0 1.2 0a0.6 0.6 0 1 0 -1.2 0M194.6 16.1a0.8 0.8 0 1 0 1.6 0a0.8 0.8 0 1 0 -1.6 0M272.9 91.3a0.6 0.6 0 1 0 1.2 0a0.6 0.6 0 1 0 -1.2 0M285 55.3a0.6 0.6 0 1 0 1.3 0a0.6 0.6 0 1 0 -1.3 0M233.3 86.5a0.7 0.7 0 1 0 1.5 0a0.7 0.7 0 1 0 -1.5 0M239.8 28.3a0.7 0.7 0 1 0 1.4 0a0.7 0.7 0 1 0 -1.4 0M256.1 23.2a0.6 0.6 0 1 0 1.2 0a0.6 0.6 0 1 0 -1.2 0M191.3 25.6a0.6 0.6 0 1 0 1.2 0a0.6 0.6 0 1 0 -1.2 0M236.4 83.8a0.7 0.7 0 1 0 1.4 0a0.7 0.7 0 1 0 -1.4 0M300.2 94.5a0.8 0.8 0 1 0 1.6 0a0.8 0.8 0 1 0 -1.6 0M307.1 42.1a0.8 0.8 0 1 0 1.6 0a0.8 0.8 0 1 0 -1.6 0M296.6 65.6a0.8 0.8 0 1 0 1.5 0a0.8 0.8 0 1 0 -1.5 0M233.5 54.1a0.6 0.6 0 1 0 1.2 0a0.6 0.6 0 1 0 -1.2 0M286.1 67.1a0.7 0.7 0 1 0 1.3 0a0.7 0.7 0 1 0 -1.3 0M213.9 66.9a0.8 0.8 0 1 0 1.5 0a0.8 0.8 0 1 0 -1.5 0M281.5 98.8a0.7 0.7 0 1 0 1.4 0a0.7 0.7 0 1 0 -1.4 0M234.7 91.6a0.6 0.6 0 1 0 1.3 0a0.6 0.6 0 1 0 -1.3 0M252.7 70.4a0.8 0.8 0 1 0 1.6 0a0.8 0.8 0 1 0 -1.6 0M281 48.1a0.5 0.5 0 1 0 1 0a0.5 0.5 0 1 0 -1 0M198.2 91.1a0.7 0.7 0 1 0 1.3 0a0.7 0.7 0 1 0 -1.3 0M286.6 37.9a0.6 0.6 0 1 0 1.2 0a0.6 0.6 0 1 0 -1.2 0M272.4 63.1a0.7 0.7 0 1 0 1.5 0a0.7 0.7 0 1 0 -1.5 0M306.4 65.4a0.6 0.6 0 1 0 1.3 0a0.6 0.6 0 1 0 -1.3 0M308.2 95.1a0.5 0.5 0 1 0 1.1 0a0.5 0.5 0 1 0 -1.1 0M279.2 19.6a0.7 0.7 0 1 0 1.4 0a0.7 0.7 0 1 0 -1.4 0M292.4 39.8a0.7 0.7 0 1 0 1.4 0a0.7 0.7 0 1 0 -1.4 0M191.2 93.6a0.6 0.6 0 1 0 1.2 0a0.6 0.6 0 1 0 -1.2 0M274 17.7a0.9 0.9 0 1 0 1.7 0a0.9 0.9 0 1 0 -1.7 0M236.5 49.8a0.7 0.7 0 1 0 1.4 0a0.7 0.7 0 1 0 -1.4 0M255.6 31.9a0.7 0.7 0 1 0 1.4 0a0.7 0.7 0 1 0 -1.4 0M201.8 48.2a0.7 0.7 0 1 0 1.4 0a0.7 0.7 0 1 0 -1.4 0M291.9 38.6a0.7 0.7 0 1 0 1.4 0a0.7 0.7 0 1 0 -1.4 0M231.8 83.1a0.5 0.5 0 1 0 1.1 0a0.5 0.5 0 1 0 -1.1 0M244.9 67.4a0.6 0.6 0 1 0 1.2 0a0.6 0.6 0 1 0 -1.2 0M193.4 87.3a0.5 0.5 0 1 0 1.1 0a0.5 0.5 0 1 0 -1.1 0M310.4 93.9a0.5 0.5 0 1 0 1.1 0a0.5 0.5 0 1 0 -1.1 0M250.5 77.7a0.7 0.7 0 1 0 1.4 0a0.7 0.7 0 1 0 -1.4 0M283.9 58.6a0.9 0.9 0 1 0 1.8 0a0.9 0.9 0 1 0 -1.8 0M235.7 52a0.9 0.9 0 1 0 1.7 0a0.9 0.9 0 1 0 -1.7 0M252.9 39.5a0.8 0.8 0 1 0 1.5 0a0.8 0.8 0 1 0 -1.5 0M287.1 77.7a0.5 0.5 0 1 0 1.1 0a0.5 0.5 0 1 0 -1.1 0M216.9 65.8a0.6 0.6 0 1 0 1.2 0a0.6 0.6 0 1 0 -1.2 0M296.8 26.9a0.5 0.5 0 1 0 1 0a0.5 0.5 0 1 0 -1 0M229.2 20.4a0.7 0.7 0 1 0 1.3 0a0.7 0.7 0 1 0 -1.3 0M300.4 96a0.6 0.6 0 1 0 1.1 0a0.6 0.6 0 1 0 -1.1 0M208.2 39.7a0.9 0.9 0 1 0 1.8 0a0.9 0.9 0 1 0 -1.8 0M222.4 73.2a0.8 0.8 0 1 0 1.6 0a0.8 0.8 0 1 0 -1.6 0M297.8 27.4a0.5 0.5 0 1 0 1 0a0.5 0.5 0 1 0 -1 0M235.3 55.9a0.9 0.9 0 1 0 1.7 0a0.9 0.9 0 1 0 -1.7 0M250.5 50.9a0.7 0.7 0 1 0 1.5 0a0.7 0.7 0 1 0 -1.5 0M276.9 89.8a0.9 0.9 0 1 0 1.7 0a0.9 0.9 0 1 0 -1.7 0M285.6 79.6a0.5 0.5 0 1 0 1 0a0.5 0.5 0 1 0 -1 0M208.4 38.1a0.7 0.7 0 1 0 1.4 0a0.7 0.7 0 1 0 -1.4 0M232.3 99.8a0.9 0.9 0 1 0 1.7 0a0.9 0.9 0 1 0 -1.7 0M289.6 26.6a0.6 0.6 0 1 0 1.3 0a0.6 0.6 0 1 0 -1.3 0M204.2 93.8a0.7 0.7 0 1 0 1.5 0a0.7 0.7 0 1 0 -1.5 0M227.2 46.1a0.8 0.8 0 1 0 1.7 0a0.8 0.8 0 1 0 -1.7 0M274.8 70a0.5 0.5 0 1 0 1 0a0.5 0.5 0 1 0 -1 0M255.5 64.5a0.8 0.8 0 1 0 1.7 0a0.8 0.8 0 1 0 -1.7 0M205.3 49.2a0.8 0.8 0 1 0 1.6 0a0.8 0.8 0 1 0 -1.6 0M203.1 89.3a0.6 0.6 0 1 0 1.2 0a0.6 0.6 0 1 0 -1.2 0M308.6 56.6a0.6 0.6 0 1 0 1.1 0a0.6 0.6 0 1 0 -1.1 0M191 27.6a0.7 0.7 0 1 0 1.3 0a0.7 0.7 0 1 0 -1.3 0M285.8 57.3a0.5 0.5 0 1 0 1 0a0.5 0.5 0 1 0 -1 0M221.2 16a0.5 0.5 0 1 0 1.1 0a0.5 0.5 0 1 0 -1.1 0M221.1 82.9a0.8 0.8 0 1 0 1.6 0a0.8 0.8 0 1 0 -1.6 0M248.1 53.6a0.6 0.6 0 1 0 1.2 0a0.6 0.6 0 1 0 -1.2 0M216.3 65.9a0.8 0.8 0 1 0 1.5 0a0.8 0.8 0 1 0 -1.5 0M292.3 27.8a0.8 0.8 0 1 0 1.6 0a0.8 0.8 0 1 0 -1.6 0M200.1 59a0.6 0.6 0 1 0 1.2 0a0.6 0.6 0 1 0 -1.2 0M230.6 55.2a0.8 0.8 0 1 0 1.5 0a0.8 0.8 0 1 0 -1.5 0M251.1 66.1a0.5 0.5 0 1 0 1.1 0a0.5 0.5 0 1 0 -1.1 0M250.2 68.5a0.8 0.8 0 1 0 1.7 0a0.8 0.8 0 1 0 -1.7 0M206.3 27.1a0.7 0.7 0 1 0 1.5 0a0.7 0.7 0 1 0 -1.5 0M275.1 15.6a0.5 0.5 0 1 0 1 0a0.5 0.5 0 1 0 -1 0M283.1 86.3a0.7 0.7 0 1 0 1.4 0a0.7 0.7 0 1 0 -1.4 0M253.1 31.9a0.6 0.6 0 1 0 1.2 0a0.6 0.6 0 1 0 -1.2 0M226 65.7a0.9 0.9 0 1 0 1.7 0a0.9 0.9 0 1 0 -1.7 0M196 96a0.5 0.5 0 1 0 1.1 0a0.5 0.5 0 1 0 -1.1 0M216 78.7a0.5 0.5 0 1 0 1 0a0.5 0.5 0 1 0 -1 0" fill="#f4eeb0" opacity="0.7"/>
</g></g>
<rect x="188" y="14" width="123" height="93" fill="none" stroke="#222" stroke-width="1.4"/>
<line x1="153" y1="54.5" x2="172.05720407634527" y2="43.711684472035046" stroke="#000" stroke-width="3" stroke-linecap="round"/>
<polygon points="182.5,37.8 173.9,49.0 168.5,39.4" fill="#000"/>
<line x1="152.5" y1="125.2" x2="360.0" y2="125.2" stroke="#000" stroke-width="3" stroke-linecap="round"/>
<polygon points="373.0,125.2 359.0,130.7 359.0,119.7" fill="#000"/>
<line x1="319" y1="24" x2="299.9997929085987" y2="23.853844560835373" stroke="#000" stroke-width="1.8" stroke-linecap="round"/>
<polygon points="293.0,23.8 301.0,20.4 301.0,27.4" fill="#000"/>
<line x1="319" y1="57" x2="273.4436837997623" y2="51.18614631349348" stroke="#000" stroke-width="1.8" stroke-linecap="round"/>
<polygon points="266.5,50.3 274.9,47.8 274.0,54.8" fill="#000"/>
<line x1="319.5" y1="92" x2="284.5047276326015" y2="78.0862170105524" stroke="#000" stroke-width="1.8" stroke-linecap="round"/>
<polygon points="278.0,75.5 286.7,75.2 284.1,81.7" fill="#000"/>
<text x="4" y="153.8" font-size="14" font-weight="bold" text-anchor="start" fill="#111">B</text>
<line x1="50.5" y1="170.95" x2="50.5" y2="310.5" stroke="#000" stroke-width="2.2" stroke-linecap="butt"/>
<line x1="44.0" y1="309.5" x2="50.5" y2="309.5" stroke="#000" stroke-width="2.2" stroke-linecap="butt"/>
<text x="41.6" y="313.902" font-size="12.4" text-anchor="end" fill="#111">20</text>
<line x1="44.0" y1="289.85" x2="50.5" y2="289.85" stroke="#000" stroke-width="2.2" stroke-linecap="butt"/>
<text x="41.6" y="294.252" font-size="12.4" text-anchor="end" fill="#111">30</text>
<line x1="44.0" y1="270.2" x2="50.5" y2="270.2" stroke="#000" stroke-width="2.2" stroke-linecap="butt"/>
<text x="41.6" y="274.602" font-size="12.4" text-anchor="end" fill="#111">40</text>
<line x1="44.0" y1="250.55" x2="50.5" y2="250.55" stroke="#000" stroke-width="2.2" stroke-linecap="butt"/>
<text x="41.6" y="254.952" font-size="12.4" text-anchor="end" fill="#111">50</text>
<line x1="44.0" y1="230.89999999999998" x2="50.5" y2="230.89999999999998" stroke="#000" stroke-width="2.2" stroke-linecap="butt"/>
<text x="41.6" y="235.30199999999996" font-size="12.4" text-anchor="end" fill="#111">60</text>
<line x1="44.0" y1="211.25" x2="50.5" y2="211.25" stroke="#000" stroke-width="2.2" stroke-linecap="butt"/>
<text x="41.6" y="215.652" font-size="12.4" text-anchor="end" fill="#111">70</text>
<line x1="44.0" y1="191.6" x2="50.5" y2="191.6" stroke="#000" stroke-width="2.2" stroke-linecap="butt"/>
<text x="41.6" y="196.00199999999998" font-size="12.4" text-anchor="end" fill="#111">80</text>
<line x1="44.0" y1="171.95" x2="50.5" y2="171.95" stroke="#000" stroke-width="2.2" stroke-linecap="butt"/>
<text x="41.6" y="176.35199999999998" font-size="12.4" text-anchor="end" fill="#111">90</text>
<line x1="49.5" y1="309.5" x2="161" y2="309.5" stroke="#000" stroke-width="2.4" stroke-linecap="butt"/>
<line x1="61.3" y1="309.5" x2="61.3" y2="316.5" stroke="#000" stroke-width="2.2" stroke-linecap="butt"/>
<text x="0" y="0" transform="translate(65.72,318.6) rotate(-90)" font-size="13" text-anchor="end" fill="#111">Luminal</text>
<line x1="83.3" y1="309.5" x2="83.3" y2="316.5" stroke="#000" stroke-width="2.2" stroke-linecap="butt"/>
<text x="0" y="0" transform="translate(87.72,318.6) rotate(-90)" font-size="13" text-anchor="end" fill="#111">Reactive</text>
<line x1="105.5" y1="309.5" x2="105.5" y2="316.5" stroke="#000" stroke-width="2.2" stroke-linecap="butt"/>
<text x="0" y="0" transform="translate(109.92,318.6) rotate(-90)" font-size="13" text-anchor="end" fill="#111">Luminal</text>
<line x1="127.5" y1="309.5" x2="127.5" y2="316.5" stroke="#000" stroke-width="2.2" stroke-linecap="butt"/>
<text x="0" y="0" transform="translate(131.92,318.6) rotate(-90)" font-size="13" text-anchor="end" fill="#111">Reactive</text>
<line x1="150" y1="309.5" x2="150" y2="316.5" stroke="#000" stroke-width="2.2" stroke-linecap="butt"/>
<text x="0" y="0" transform="translate(154.42,318.6) rotate(-90)" font-size="13" text-anchor="end" fill="#111">Basal</text>
<polyline points="52.3,373.5 52.3,378 92.2,378 92.2,373.5" fill="none" stroke="#000" stroke-width="2"/>
<text x="69.6" y="392.4" font-size="13" text-anchor="middle" fill="#111">ILC</text>
<polyline points="96.3,373.5 96.3,378 159.3,378 159.3,373.5" fill="none" stroke="#000" stroke-width="2"/>
<text x="129" y="392.4" font-size="13" text-anchor="middle" fill="#111">IDC</text>
<text x="0" y="0" transform="translate(12.6,241.3) rotate(-90)" font-size="12.6" text-anchor="middle" fill="#111">% Stroma (area)</text>
<polyline points="60.5,178.5 60.5,173.7 84.6,173.7 84.6,178.5" fill="none" stroke="#000" stroke-width="2"/>
<text x="72.7" y="173.4175" font-size="13.5" font-weight="bold" text-anchor="middle" fill="#111" letter-spacing="0.8">**</text>
<polyline points="105.2,194.2 105.2,189.2 128.3,189.2 128.3,194.2" fill="none" stroke="#000" stroke-width="2"/>
<text x="117.0" y="188.9175" font-size="13.5" font-weight="bold" text-anchor="middle" fill="#111" letter-spacing="0.8">**</text>
<polyline points="127.1,173.6 127.1,169.2 149.6,169.2 149.6,173.6" fill="none" stroke="#000" stroke-width="2"/>
<text x="138.8" y="168.7175" font-size="13.5" font-weight="bold" text-anchor="middle" fill="#111" letter-spacing="0.8">***</text>
<text x="172.2" y="154.4" font-size="14" font-weight="bold" text-anchor="start" fill="#111">C</text>
<line x1="216.8" y1="170.62" x2="216.8" y2="310.8" stroke="#000" stroke-width="2.2" stroke-linecap="butt"/>
<line x1="210.3" y1="309.8" x2="216.8" y2="309.8" stroke="#000" stroke-width="2.2" stroke-linecap="butt"/>
<text x="207.2" y="314.06" font-size="12" text-anchor="end" fill="#111">0</text>
<line x1="210.3" y1="290.06" x2="216.8" y2="290.06" stroke="#000" stroke-width="2.2" stroke-linecap="butt"/>
<text x="207.2" y="294.32" font-size="12" text-anchor="end" fill="#111">10</text>
<line x1="210.3" y1="270.32" x2="216.8" y2="270.32" stroke="#000" stroke-width="2.2" stroke-linecap="butt"/>
<text x="207.2" y="274.58" font-size="12" text-anchor="end" fill="#111">20</text>
<line x1="210.3" y1="250.58" x2="216.8" y2="250.58" stroke="#000" stroke-width="2.2" stroke-linecap="butt"/>
<text x="207.2" y="254.84" font-size="12" text-anchor="end" fill="#111">30</text>
<line x1="210.3" y1="230.84000000000003" x2="216.8" y2="230.84000000000003" stroke="#000" stroke-width="2.2" stroke-linecap="butt"/>
<text x="207.2" y="235.10000000000002" font-size="12" text-anchor="end" fill="#111">40</text>
<line x1="210.3" y1="211.10000000000002" x2="216.8" y2="211.10000000000002" stroke="#000" stroke-width="2.2" stroke-linecap="butt"/>
<text x="207.2" y="215.36" font-size="12" text-anchor="end" fill="#111">50</text>
<line x1="210.3" y1="191.36" x2="216.8" y2="191.36" stroke="#000" stroke-width="2.2" stroke-linecap="butt"/>
<text x="207.2" y="195.62" font-size="12" text-anchor="end" fill="#111">60</text>
<line x1="210.3" y1="171.62" x2="216.8" y2="171.62" stroke="#000" stroke-width="2.2" stroke-linecap="butt"/>
<text x="207.2" y="175.88" font-size="12" text-anchor="end" fill="#111">70</text>
<line x1="215.5" y1="309.8" x2="326.3" y2="309.8" stroke="#000" stroke-width="2.4" stroke-linecap="butt"/>
<line x1="227.1" y1="309.8" x2="227.1" y2="316.8" stroke="#000" stroke-width="2.2" stroke-linecap="butt"/>
<text x="0" y="0" transform="translate(231.51999999999998,318.6) rotate(-90)" font-size="13" text-anchor="end" fill="#111">Luminal</text>
<line x1="249.4" y1="309.8" x2="249.4" y2="316.8" stroke="#000" stroke-width="2.2" stroke-linecap="butt"/>
<text x="0" y="0" transform="translate(253.82,318.6) rotate(-90)" font-size="13" text-anchor="end" fill="#111">Reactive</text>
<line x1="271" y1="309.8" x2="271" y2="316.8" stroke="#000" stroke-width="2.2" stroke-linecap="butt"/>
<text x="0" y="0" transform="translate(275.42,318.6) rotate(-90)" font-size="13" text-anchor="end" fill="#111">Luminal</text>
<line x1="293" y1="309.8" x2="293" y2="316.8" stroke="#000" stroke-width="2.2" stroke-linecap="butt"/>
<text x="0" y="0" transform="translate(297.42,318.6) rotate(-90)" font-size="13" text-anchor="end" fill="#111">Reactive</text>
<line x1="315" y1="309.8" x2="315" y2="316.8" stroke="#000" stroke-width="2.2" stroke-linecap="butt"/>
<text x="0" y="0" transform="translate(319.42,318.6) rotate(-90)" font-size="13" text-anchor="end" fill="#111">Basal</text>
<polyline points="218.3,373.5 218.3,378 258.1,378 258.1,373.5" fill="none" stroke="#000" stroke-width="2"/>
<text x="235.5" y="392.4" font-size="13" text-anchor="middle" fill="#111">ILC</text>
<polyline points="261.9,373.5 261.9,378 324.5,378 324.5,373.5" fill="none" stroke="#000" stroke-width="2"/>
<text x="294.7" y="392.4" font-size="13" text-anchor="middle" fill="#111">IDC</text>
<text x="0" y="0" transform="translate(180.7,241.4) rotate(-90)" font-size="12.5" text-anchor="middle" fill="#111">% Stroma (cell count)</text>
<polyline points="227.5,179.5 227.5,174.1 251.6,174.1 251.6,179.5" fill="none" stroke="#000" stroke-width="2"/>
<text x="240.6" y="173.9175" font-size="13.5" font-weight="bold" text-anchor="middle" fill="#111" letter-spacing="0.8">***</text>
<polyline points="271.7,194 271.7,189.1 294.4,189.1 294.4,194" fill="none" stroke="#000" stroke-width="2"/>
<text x="284.59999999999997" y="189.01749999999998" font-size="13.5" font-weight="bold" text-anchor="middle" fill="#111" letter-spacing="0.8">*</text>
<polyline points="269.8,211.3 269.8,206.4 312.9,206.4 312.9,211.3" fill="none" stroke="#000" stroke-width="2"/>
<text x="293.09999999999997" y="207.3175" font-size="13.5" font-weight="bold" text-anchor="middle" fill="#111" letter-spacing="0.8">*</text>
<polyline points="295.2,179 295.2,174.1 318.7,174.1 318.7,179" fill="none" stroke="#000" stroke-width="2"/>
<text x="307.59999999999997" y="174.3175" font-size="13.5" font-weight="bold" text-anchor="middle" fill="#111" letter-spacing="0.8">***</text>
<text x="337.4" y="154" font-size="14" font-weight="bold" text-anchor="start" fill="#111">D</text>
<line x1="404.5" y1="170.29999999999998" x2="404.5" y2="310.9" stroke="#000" stroke-width="2.2" stroke-linecap="butt"/>
<line x1="398.0" y1="309.9" x2="404.5" y2="309.9" stroke="#000" stroke-width="2.2" stroke-linecap="butt"/>
<text x="396.3" y="314.15999999999997" font-size="12" text-anchor="end" fill="#111">0</text>
<line x1="398.0" y1="286.79999999999995" x2="404.5" y2="286.79999999999995" stroke="#000" stroke-width="2.2" stroke-linecap="butt"/>
<text x="396.3" y="291.05999999999995" font-size="12" text-anchor="end" fill="#111">200</text>
<line x1="398.0" y1="263.7" x2="404.5" y2="263.7" stroke="#000" stroke-width="2.2" stroke-linecap="butt"/>
<text x="396.3" y="267.96" font-size="12" text-anchor="end" fill="#111">400</text>
<line x1="398.0" y1="240.59999999999997" x2="404.5" y2="240.59999999999997" stroke="#000" stroke-width="2.2" stroke-linecap="butt"/>
<text x="396.3" y="244.85999999999996" font-size="12" text-anchor="end" fill="#111">600</text>
<line x1="398.0" y1="217.49999999999997" x2="404.5" y2="217.49999999999997" stroke="#000" stroke-width="2.2" stroke-linecap="butt"/>
<text x="396.3" y="221.75999999999996" font-size="12" text-anchor="end" fill="#111">800</text>
<line x1="398.0" y1="194.39999999999998" x2="404.5" y2="194.39999999999998" stroke="#000" stroke-width="2.2" stroke-linecap="butt"/>
<text x="396.3" y="198.65999999999997" font-size="12" text-anchor="end" fill="#111">1,000</text>
<line x1="398.0" y1="171.29999999999998" x2="404.5" y2="171.29999999999998" stroke="#000" stroke-width="2.2" stroke-linecap="butt"/>
<text x="396.3" y="175.55999999999997" font-size="12" text-anchor="end" fill="#111">1,200</text>
<line x1="403.5" y1="309.9" x2="514.8" y2="309.9" stroke="#000" stroke-width="2.4" stroke-linecap="butt"/>
<line x1="416.2" y1="309.9" x2="416.2" y2="316.9" stroke="#000" stroke-width="2.2" stroke-linecap="butt"/>
<text x="0" y="0" transform="translate(420.62,318.6) rotate(-90)" font-size="13" text-anchor="end" fill="#111">Luminal</text>
<line x1="438.5" y1="309.9" x2="438.5" y2="316.9" stroke="#000" stroke-width="2.2" stroke-linecap="butt"/>
<text x="0" y="0" transform="translate(442.92,318.6) rotate(-90)" font-size="13" text-anchor="end" fill="#111">Reactive</text>
<line x1="460.3" y1="309.9" x2="460.3" y2="316.9" stroke="#000" stroke-width="2.2" stroke-linecap="butt"/>
<text x="0" y="0" transform="translate(464.72,318.6) rotate(-90)" font-size="13" text-anchor="end" fill="#111">Luminal</text>
<line x1="482.4" y1="309.9" x2="482.4" y2="316.9" stroke="#000" stroke-width="2.2" stroke-linecap="butt"/>
<text x="0" y="0" transform="translate(486.82,318.6) rotate(-90)" font-size="13" text-anchor="end" fill="#111">Reactive</text>
<line x1="504.4" y1="309.9" x2="504.4" y2="316.9" stroke="#000" stroke-width="2.2" stroke-linecap="butt"/>
<text x="0" y="0" transform="translate(508.82,318.6) rotate(-90)" font-size="13" text-anchor="end" fill="#111">Basal</text>
<polyline points="406.9,373.5 406.9,378 446.2,378 446.2,373.5" fill="none" stroke="#000" stroke-width="2"/>
<text x="424.8" y="392.4" font-size="13" text-anchor="middle" fill="#111">ILC</text>
<polyline points="450.3,373.5 450.3,378 513.5,378 513.5,373.5" fill="none" stroke="#000" stroke-width="2"/>
<text x="483" y="392.4" font-size="13" text-anchor="middle" fill="#111">IDC</text>
<text x="0" y="0" transform="translate(345.2,242.25) rotate(-90)" font-size="12.2" text-anchor="middle" fill="#111">Stromal cell density</text>
<text x="0" y="0" transform="translate(357.5,243.1) rotate(-90)" font-size="12.5" text-anchor="middle" fill="#111">(cells per megapixel)</text>
<polyline points="415.2,166.8 415.2,161.7 439,161.7 439,166.8" fill="none" stroke="#000" stroke-width="2"/>
<text x="428.5" y="161.51749999999998" font-size="13.5" font-weight="bold" text-anchor="middle" fill="#111" letter-spacing="0.8">*</text>
<polyline points="482.3,195.2 482.3,190.2 506.5,190.2 506.5,195.2" fill="none" stroke="#000" stroke-width="2"/>
<text x="495.0" y="189.9175" font-size="13.5" font-weight="bold" text-anchor="middle" fill="#111" letter-spacing="0.8">*</text>
<text x="4" y="411.7" font-size="14" font-weight="bold" text-anchor="start" fill="#111">E</text>
<text x="83.4" y="416.9" font-size="13.3" text-anchor="middle" fill="#111">Stromal area</text>
<line x1="51.5" y1="431.19999999999993" x2="51.5" y2="570.5" stroke="#000" stroke-width="2.2" stroke-linecap="butt"/>
<line x1="45.0" y1="569.3" x2="51.5" y2="569.3" stroke="#000" stroke-width="2.2" stroke-linecap="butt"/>
<text x="43.3" y="573.8439999999999" font-size="12.8" text-anchor="end" fill="#111">0</text>
<line x1="45.0" y1="541.88" x2="51.5" y2="541.88" stroke="#000" stroke-width="2.2" stroke-linecap="butt"/>
<text x="43.3" y="546.424" font-size="12.8" text-anchor="end" fill="#111">20</text>
<line x1="45.0" y1="514.4599999999999" x2="51.5" y2="514.4599999999999" stroke="#000" stroke-width="2.2" stroke-linecap="butt"/>
<text x="43.3" y="519.0039999999999" font-size="12.8" text-anchor="end" fill="#111">40</text>
<line x1="45.0" y1="487.03999999999996" x2="51.5" y2="487.03999999999996" stroke="#000" stroke-width="2.2" stroke-linecap="butt"/>
<text x="43.3" y="491.58399999999995" font-size="12.8" text-anchor="end" fill="#111">60</text>
<line x1="45.0" y1="459.61999999999995" x2="51.5" y2="459.61999999999995" stroke="#000" stroke-width="2.2" stroke-linecap="butt"/>
<text x="43.3" y="464.16399999999993" font-size="12.8" text-anchor="end" fill="#111">80</text>
<line x1="45.0" y1="432.19999999999993" x2="51.5" y2="432.19999999999993" stroke="#000" stroke-width="2.2" stroke-linecap="butt"/>
<text x="43.3" y="436.7439999999999" font-size="12.8" text-anchor="end" fill="#111">100</text>
<line x1="50.5" y1="569.5" x2="116" y2="569.5" stroke="#000" stroke-width="2.4" stroke-linecap="butt"/>
<line x1="114.8" y1="432" x2="114.8" y2="570.5" stroke="#000" stroke-width="2.2" stroke-linecap="butt"/>
<line x1="114.8" y1="467.2" x2="121.3" y2="467.2" stroke="#000" stroke-width="2.2" stroke-linecap="butt"/>
<text x="122.0" y="471.7" font-size="12.8" text-anchor="start" fill="#111">3</text>
<line x1="114.8" y1="501.3" x2="121.3" y2="501.3" stroke="#000" stroke-width="2.2" stroke-linecap="butt"/>
<text x="122.0" y="505.8" font-size="12.8" text-anchor="start" fill="#111">2</text>
<line x1="114.8" y1="535.6" x2="121.3" y2="535.6" stroke="#000" stroke-width="2.2" stroke-linecap="butt"/>
<text x="122.0" y="540.1" font-size="12.8" text-anchor="start" fill="#111">1</text>
<text x="0" y="0" transform="translate(11.3,501.6) rotate(-90)" font-size="12.7" text-anchor="middle" fill="#111">Vectra InForm (% Area)</text>
<text x="0" y="0" transform="translate(142.8,501.3) rotate(90)" font-size="12.75" text-anchor="middle" fill="#111">Pathologist scoring</text>
<line x1="67.7" y1="569.5" x2="67.7" y2="577.5" stroke="#000" stroke-width="2.2" stroke-linecap="butt"/>
<text x="0" y="0" transform="translate(71.5,577.1) rotate(-90)" font-size="12.8" text-anchor="end" fill="#111">InForm</text>
<line x1="99.2" y1="569.5" x2="99.2" y2="577.5" stroke="#000" stroke-width="2.2" stroke-linecap="butt"/>
<text x="0" y="0" transform="translate(103.5,577.1) rotate(-90)" font-size="12.3" text-anchor="end" fill="#111">Manual</text>
<line x1="67" y1="458.4" x2="99.2" y2="500.9" stroke="#858585" stroke-width="1.1" stroke-linecap="butt"/>
<line x1="67" y1="458.4" x2="99.2" y2="466.4" stroke="#858585" stroke-width="1.1" stroke-linecap="butt"/>
<line x1="67" y1="461.5" x2="99.2" y2="500.9" stroke="#858585" stroke-width="1.1" stroke-linecap="butt"/>
<line x1="67" y1="461.5" x2="99.2" y2="466.4" stroke="#858585" stroke-width="1.1" stroke-linecap="butt"/>
<line x1="67" y1="466.1" x2="99.2" y2="500.9" stroke="#858585" stroke-width="1.1" stroke-linecap="butt"/>
<line x1="67" y1="466.1" x2="99.2" y2="466.4" stroke="#858585" stroke-width="1.1" stroke-linecap="butt"/>
<line x1="67" y1="466.1" x2="99.2" y2="535.3" stroke="#858585" stroke-width="1.1" stroke-linecap="butt"/>
<line x1="67" y1="471.5" x2="99.2" y2="500.9" stroke="#858585" stroke-width="1.1" stroke-linecap="butt"/>
<line x1="67" y1="471.5" x2="99.2" y2="500.9" stroke="#858585" stroke-width="1.1" stroke-linecap="butt"/>
<line x1="67" y1="479.1" x2="99.2" y2="500.9" stroke="#858585" stroke-width="1.1" stroke-linecap="butt"/>
<line x1="67" y1="479.1" x2="99.2" y2="500.9" stroke="#858585" stroke-width="1.1" stroke-linecap="butt"/>
<line x1="67" y1="486" x2="99.2" y2="500.9" stroke="#858585" stroke-width="1.1" stroke-linecap="butt"/>
<line x1="67" y1="486" x2="99.2" y2="500.9" stroke="#858585" stroke-width="1.1" stroke-linecap="butt"/>
<line x1="67" y1="490.6" x2="99.2" y2="500.9" stroke="#858585" stroke-width="1.1" stroke-linecap="butt"/>
<line x1="67" y1="490.6" x2="99.2" y2="466.4" stroke="#858585" stroke-width="1.1" stroke-linecap="butt"/>
<line x1="67" y1="498.3" x2="99.2" y2="500.9" stroke="#858585" stroke-width="1.1" stroke-linecap="butt"/>
<line x1="67" y1="498.3" x2="99.2" y2="500.9" stroke="#858585" stroke-width="1.1" stroke-linecap="butt"/>
<line x1="67" y1="505.2" x2="99.2" y2="500.9" stroke="#858585" stroke-width="1.1" stroke-linecap="butt"/>
<line x1="67" y1="505.2" x2="99.2" y2="500.9" stroke="#858585" stroke-width="1.1" stroke-linecap="butt"/>
<line x1="67" y1="505.2" x2="99.2" y2="535.3" stroke="#858585" stroke-width="1.1" stroke-linecap="butt"/>
<line x1="67" y1="509" x2="99.2" y2="500.9" stroke="#858585" stroke-width="1.1" stroke-linecap="butt"/>
<line x1="67" y1="512.9" x2="99.2" y2="500.9" stroke="#858585" stroke-width="1.1" stroke-linecap="butt"/>
<line x1="67" y1="512.9" x2="99.2" y2="535.3" stroke="#858585" stroke-width="1.1" stroke-linecap="butt"/>
<line x1="67" y1="512.9" x2="99.2" y2="500.9" stroke="#858585" stroke-width="1.1" stroke-linecap="butt"/>
<line x1="67" y1="520.6" x2="99.2" y2="535.3" stroke="#858585" stroke-width="1.1" stroke-linecap="butt"/>
<line x1="67" y1="520.6" x2="99.2" y2="500.9" stroke="#858585" stroke-width="1.1" stroke-linecap="butt"/>
<line x1="67" y1="522.9" x2="99.2" y2="535.3" stroke="#858585" stroke-width="1.1" stroke-linecap="butt"/>
<line x1="67" y1="532" x2="99.2" y2="535.3" stroke="#858585" stroke-width="1.1" stroke-linecap="butt"/>
<line x1="67" y1="537.4" x2="99.2" y2="535.3" stroke="#858585" stroke-width="1.1" stroke-linecap="butt"/>
<polyline points="66.8,449.7 66.8,444.7 98.1,444.7 98.1,449.7" fill="none" stroke="#000" stroke-width="2"/>
<text x="84.14999999999999" y="442.565" font-size="13" font-weight="bold" text-anchor="middle" fill="#111" letter-spacing="1.1">***</text>
<text x="180.3" y="411.7" font-size="14" font-weight="bold" text-anchor="start" fill="#111">F</text>
<line x1="236.5" y1="427.17999999999995" x2="236.5" y2="544.3" stroke="#000" stroke-width="2.2" stroke-linecap="butt"/>
<line x1="230.0" y1="543.3" x2="236.5" y2="543.3" stroke="#000" stroke-width="2.2" stroke-linecap="butt"/>
<text x="228.2" y="547.7729999999999" font-size="12.6" text-anchor="end" fill="#111">0</text>
<line x1="230.0" y1="514.52" x2="236.5" y2="514.52" stroke="#000" stroke-width="2.2" stroke-linecap="butt"/>
<text x="228.2" y="518.9929999999999" font-size="12.6" text-anchor="end" fill="#111">20</text>
<line x1="230.0" y1="485.73999999999995" x2="236.5" y2="485.73999999999995" stroke="#000" stroke-width="2.2" stroke-linecap="butt"/>
<text x="228.2" y="490.21299999999997" font-size="12.6" text-anchor="end" fill="#111">40</text>
<line x1="230.0" y1="456.9599999999999" x2="236.5" y2="456.9599999999999" stroke="#000" stroke-width="2.2" stroke-linecap="butt"/>
<text x="228.2" y="461.43299999999994" font-size="12.6" text-anchor="end" fill="#111">60</text>
<line x1="230.0" y1="428.17999999999995" x2="236.5" y2="428.17999999999995" stroke="#000" stroke-width="2.2" stroke-linecap="butt"/>
<text x="228.2" y="432.65299999999996" font-size="12.6" text-anchor="end" fill="#111">80</text>
<line x1="235.5" y1="543.2" x2="435.5" y2="543.2" stroke="#000" stroke-width="2.4" stroke-linecap="butt"/>
<text x="0" y="0" transform="translate(187.4,485.8) rotate(-90)" font-size="12.8" text-anchor="middle" fill="#111">Relative frequency</text>
<text x="0" y="0" transform="translate(201.6,485.5) rotate(-90)" font-size="12.8" text-anchor="middle" fill="#111">(percentages)</text>
<rect x="241.9" y="515.4" width="7.8" height="27.800000000000068" fill="#4a4a4a" stroke="#111" stroke-width="1"/>
<line x1="245.8" y1="543.2" x2="245.8" y2="549.5" stroke="#000" stroke-width="2.2" stroke-linecap="butt"/>
<rect x="252.9" y="443.1" width="7.8" height="100.10000000000002" fill="#4a4a4a" stroke="#111" stroke-width="1"/>
<line x1="256.8" y1="543.2" x2="256.8" y2="549.5" stroke="#000" stroke-width="2.2" stroke-linecap="butt"/>
<rect x="263.70000000000005" y="526.8" width="7.8" height="16.40000000000009" fill="#4a4a4a" stroke="#111" stroke-width="1"/>
<line x1="267.6" y1="543.2" x2="267.6" y2="549.5" stroke="#000" stroke-width="2.2" stroke-linecap="butt"/>
<rect x="281.6" y="530.2" width="7.8" height="13.0" fill="#e3202a" stroke="#111" stroke-width="1"/>
<line x1="285.5" y1="543.2" x2="285.5" y2="549.5" stroke="#000" stroke-width="2.2" stroke-linecap="butt"/>
<rect x="293.0" y="431.7" width="7.8" height="111.50000000000006" fill="#e3202a" stroke="#111" stroke-width="1"/>
<line x1="296.9" y1="543.2" x2="296.9" y2="549.5" stroke="#000" stroke-width="2.2" stroke-linecap="butt"/>
<rect x="303.70000000000005" y="523.7" width="7.8" height="19.5" fill="#e3202a" stroke="#111" stroke-width="1"/>
<line x1="307.6" y1="543.2" x2="307.6" y2="549.5" stroke="#000" stroke-width="2.2" stroke-linecap="butt"/>
<rect x="321.90000000000003" y="496.3" width="7.8" height="46.900000000000034" fill="#4a4a4a" stroke="#111" stroke-width="1"/>
<line x1="325.8" y1="543.2" x2="325.8" y2="549.5" stroke="#000" stroke-width="2.2" stroke-linecap="butt"/>
<rect x="332.40000000000003" y="455.4" width="7.8" height="87.80000000000007" fill="#4a4a4a" stroke="#111" stroke-width="1"/>
<line x1="336.3" y1="543.2" x2="336.3" y2="549.5" stroke="#000" stroke-width="2.2" stroke-linecap="butt"/>
<rect x="343.40000000000003" y="533.8" width="7.8" height="9.400000000000091" fill="#4a4a4a" stroke="#111" stroke-width="1"/>
<line x1="347.3" y1="543.2" x2="347.3" y2="549.5" stroke="#000" stroke-width="2.2" stroke-linecap="butt"/>
<rect x="361.90000000000003" y="518.5" width="7.8" height="24.700000000000045" fill="#e3202a" stroke="#111" stroke-width="1"/>
<line x1="365.8" y1="543.2" x2="365.8" y2="549.5" stroke="#000" stroke-width="2.2" stroke-linecap="butt"/>
<rect x="372.70000000000005" y="452.3" width="7.8" height="90.90000000000003" fill="#e3202a" stroke="#111" stroke-width="1"/>
<line x1="376.6" y1="543.2" x2="376.6" y2="549.5" stroke="#000" stroke-width="2.2" stroke-linecap="butt"/>
<rect x="383.5" y="514.8" width="7.8" height="28.40000000000009" fill="#e3202a" stroke="#111" stroke-width="1"/>
<line x1="387.4" y1="543.2" x2="387.4" y2="549.5" stroke="#000" stroke-width="2.2" stroke-linecap="butt"/>
<rect x="401.6" y="480.5" width="7.8" height="62.700000000000045" fill="#a27bb5" stroke="#111" stroke-width="1"/>
<line x1="405.5" y1="543.2" x2="405.5" y2="549.5" stroke="#000" stroke-width="2.2" stroke-linecap="butt"/>
<rect x="412.70000000000005" y="461.2" width="7.8" height="82.00000000000006" fill="#a27bb5" stroke="#111" stroke-width="1"/>
<line x1="416.6" y1="543.2" x2="416.6" y2="549.5" stroke="#000" stroke-width="2.2" stroke-linecap="butt"/>
<line x1="427" y1="543.2" x2="427" y2="549.5" stroke="#000" stroke-width="2.2" stroke-linecap="butt"/>
<text x="245.8" y="562.4" font-size="12.5" text-anchor="middle" fill="#111">1</text>
<text x="256.8" y="562.4" font-size="12.5" text-anchor="middle" fill="#111">2</text>
<text x="267.6" y="562.4" font-size="12.5" text-anchor="middle" fill="#111">3</text>
<text x="285.5" y="562.4" font-size="12.5" text-anchor="middle" fill="#111">1</text>
<text x="296.9" y="562.4" font-size="12.5" text-anchor="middle" fill="#111">2</text>
<text x="307.6" y="562.4" font-size="12.5" text-anchor="middle" fill="#111">3</text>
<text x="325.8" y="562.4" font-size="12.5" text-anchor="middle" fill="#111">1</text>
<text x="336.3" y="562.4" font-size="12.5" text-anchor="middle" fill="#111">2</text>
<text x="347.3" y="562.4" font-size="12.5" text-anchor="middle" fill="#111">3</text>
<text x="365.8" y="562.4" font-size="12.5" text-anchor="middle" fill="#111">1</text>
<text x="376.6" y="562.4" font-size="12.5" text-anchor="middle" fill="#111">2</text>
<text x="387.4" y="562.4" font-size="12.5" text-anchor="middle" fill="#111">3</text>
<text x="405.5" y="562.4" font-size="12.5" text-anchor="middle" fill="#111">1</text>
<text x="416.6" y="562.4" font-size="12.5" text-anchor="middle" fill="#111">2</text>
<text x="427" y="562.4" font-size="12.5" text-anchor="middle" fill="#111">3</text>
<line x1="240.5" y1="573.9" x2="313.8" y2="573.9" stroke="#000" stroke-width="2" stroke-linecap="butt"/>
<line x1="316.8" y1="573.9" x2="435.4" y2="573.9" stroke="#000" stroke-width="2" stroke-linecap="butt"/>
<text x="279" y="588.2" font-size="13" text-anchor="middle" fill="#111">ILC</text>
<text x="379" y="588.5" font-size="13" text-anchor="middle" fill="#111">IDC</text>
<text x="335.8" y="604.6" font-size="12.4" text-anchor="middle" fill="#111">ITS Score</text>
<text x="335.6" y="617.6" font-size="11.35" text-anchor="middle" fill="#111">(Area [1]&lt;25%, [2] 25 to 75%, [3]&gt;75%)</text>
<line x1="319" y1="437.4" x2="351.8" y2="437.4" stroke="#000" stroke-width="2" stroke-linecap="butt"/>
<line x1="358.5" y1="437.4" x2="392" y2="437.4" stroke="#000" stroke-width="2" stroke-linecap="butt"/>
<line x1="399" y1="437.4" x2="432" y2="437.4" stroke="#000" stroke-width="2" stroke-linecap="butt"/>
<polyline points="336.9,432 336.9,426.8 374.1,426.8 374.1,432" fill="none" stroke="#000" stroke-width="2"/>
<text x="356.15" y="426.96" font-size="12" font-weight="bold" text-anchor="middle" fill="#111" letter-spacing="1.3">***</text>
<polyline points="376.4,432 376.4,426.8 414.8,426.8 414.8,432" fill="none" stroke="#000" stroke-width="2"/>
<text x="396.45" y="426.96" font-size="12" font-weight="bold" text-anchor="middle" fill="#111" letter-spacing="1.3">***</text>
<rect x="446.3" y="457.5" width="20.3" height="7.3" fill="#4a4a4a" stroke="#222" stroke-width="1"/>
<text x="471.8" y="466.1" font-size="12.8" text-anchor="start" fill="#111">Luminal</text>
<rect x="446.3" y="473.0" width="20.3" height="7.3" fill="#e3202a" stroke="#222" stroke-width="1"/>
<text x="471.8" y="481.6" font-size="12.8" text-anchor="start" fill="#111">Reactive</text>
<rect x="446.3" y="488.5" width="20.3" height="7.3" fill="#a27bb5" stroke="#222" stroke-width="1"/>
<text x="471.8" y="497.1" font-size="12.8" text-anchor="start" fill="#111">Basal</text>
<circle cx="57.7" cy="206.6" r="3.7" fill="#8a8a8a" stroke="#333333" stroke-width="1"/>
<circle cx="64.9" cy="214" r="3.7" fill="#8a8a8a" stroke="#333333" stroke-width="1"/>
<circle cx="61.2" cy="237.3" r="3.7" fill="#8a8a8a" stroke="#333333" stroke-width="1"/>
<circle cx="57.7" cy="263.5" r="3.7" fill="#8a8a8a" stroke="#333333" stroke-width="1"/>
<circle cx="64.9" cy="267.9" r="3.7" fill="#8a8a8a" stroke="#333333" stroke-width="1"/>
<circle cx="59.6" cy="274.4" r="3.7" fill="#8a8a8a" stroke="#333333" stroke-width="1"/>
<circle cx="63.3" cy="278.5" r="3.7" fill="#8a8a8a" stroke="#333333" stroke-width="1"/>
<circle cx="61.7" cy="285.8" r="3.7" fill="#8a8a8a" stroke="#333333" stroke-width="1"/>
<circle cx="83.5" cy="247" r="3.7" fill="#e31f2c" stroke="#5e1010" stroke-width="1"/>
<circle cx="83.5" cy="281.3" r="3.7" fill="#e31f2c" stroke="#5e1010" stroke-width="1"/>
<circle cx="83.3" cy="217.5" r="3.7" fill="#e31f2c" stroke="#5e1010" stroke-width="1"/>
<circle cx="80.5" cy="209.4" r="3.7" fill="#e31f2c" stroke="#5e1010" stroke-width="1"/>
<circle cx="86.5" cy="209.8" r="3.7" fill="#e31f2c" stroke="#5e1010" stroke-width="1"/>
<circle cx="79.3" cy="204.2" r="3.7" fill="#e31f2c" stroke="#5e1010" stroke-width="1"/>
<circle cx="86.5" cy="205.8" r="3.7" fill="#e31f2c" stroke="#5e1010" stroke-width="1"/>
<circle cx="77.3" cy="198.4" r="3.7" fill="#e31f2c" stroke="#5e1010" stroke-width="1"/>
<circle cx="89.4" cy="201.4" r="3.7" fill="#e31f2c" stroke="#5e1010" stroke-width="1"/>
<circle cx="79.5" cy="190.1" r="3.7" fill="#e31f2c" stroke="#5e1010" stroke-width="1"/>
<circle cx="87.1" cy="190.1" r="3.7" fill="#e31f2c" stroke="#5e1010" stroke-width="1"/>
<circle cx="105.4" cy="230.2" r="3.7" fill="#8a8a8a" stroke="#333333" stroke-width="1"/>
<circle cx="103.5" cy="270.2" r="3.7" fill="#8a8a8a" stroke="#333333" stroke-width="1"/>
<circle cx="108.3" cy="272.6" r="3.7" fill="#8a8a8a" stroke="#333333" stroke-width="1"/>
<circle cx="104.7" cy="275" r="3.7" fill="#8a8a8a" stroke="#333333" stroke-width="1"/>
<circle cx="127.7" cy="205.5" r="3.7" fill="#e31f2c" stroke="#5e1010" stroke-width="1"/>
<circle cx="125.3" cy="219.3" r="3.7" fill="#e31f2c" stroke="#5e1010" stroke-width="1"/>
<circle cx="130.1" cy="223.5" r="3.7" fill="#e31f2c" stroke="#5e1010" stroke-width="1"/>
<circle cx="127" cy="229.8" r="3.7" fill="#e31f2c" stroke="#5e1010" stroke-width="1"/>
<circle cx="149.5" cy="304.1" r="3.7" fill="#a07ab4" stroke="#4a3058" stroke-width="1"/>
<circle cx="149.5" cy="281" r="3.7" fill="#a07ab4" stroke="#4a3058" stroke-width="1"/>
<circle cx="147.1" cy="275.8" r="3.7" fill="#a07ab4" stroke="#4a3058" stroke-width="1"/>
<circle cx="152.6" cy="275.8" r="3.7" fill="#a07ab4" stroke="#4a3058" stroke-width="1"/>
<circle cx="227.1" cy="247.8" r="3.7" fill="#8a8a8a" stroke="#333333" stroke-width="1"/>
<circle cx="222" cy="273.1" r="3.7" fill="#8a8a8a" stroke="#333333" stroke-width="1"/>
<circle cx="232.3" cy="273.1" r="3.7" fill="#8a8a8a" stroke="#333333" stroke-width="1"/>
<circle cx="220.7" cy="280.1" r="3.7" fill="#8a8a8a" stroke="#333333" stroke-width="1"/>
<circle cx="225.8" cy="276.2" r="3.7" fill="#8a8a8a" stroke="#333333" stroke-width="1"/>
<circle cx="231" cy="292.3" r="3.7" fill="#8a8a8a" stroke="#333333" stroke-width="1"/>
<circle cx="227.1" cy="302.9" r="3.7" fill="#8a8a8a" stroke="#333333" stroke-width="1"/>
<circle cx="245.2" cy="186.3" r="3.7" fill="#e31f2c" stroke="#5e1010" stroke-width="1"/>
<circle cx="254.8" cy="185.3" r="3.7" fill="#e31f2c" stroke="#5e1010" stroke-width="1"/>
<circle cx="243.4" cy="213" r="3.7" fill="#e31f2c" stroke="#5e1010" stroke-width="1"/>
<circle cx="253" cy="215.5" r="3.7" fill="#e31f2c" stroke="#5e1010" stroke-width="1"/>
<circle cx="246.5" cy="220.7" r="3.7" fill="#e31f2c" stroke="#5e1010" stroke-width="1"/>
<circle cx="251.7" cy="224.1" r="3.7" fill="#e31f2c" stroke="#5e1010" stroke-width="1"/>
<circle cx="249.1" cy="229.7" r="3.7" fill="#e31f2c" stroke="#5e1010" stroke-width="1"/>
<circle cx="245.2" cy="242.7" r="3.7" fill="#e31f2c" stroke="#5e1010" stroke-width="1"/>
<circle cx="251.7" cy="243.2" r="3.7" fill="#e31f2c" stroke="#5e1010" stroke-width="1"/>
<circle cx="249.1" cy="250.9" r="3.7" fill="#e31f2c" stroke="#5e1010" stroke-width="1"/>
<circle cx="249.6" cy="293.8" r="3.7" fill="#e31f2c" stroke="#5e1010" stroke-width="1"/>
<circle cx="270.8" cy="255.1" r="3.7" fill="#8a8a8a" stroke="#333333" stroke-width="1"/>
<circle cx="270.8" cy="272.4" r="3.7" fill="#8a8a8a" stroke="#333333" stroke-width="1"/>
<circle cx="276" cy="279.3" r="3.7" fill="#8a8a8a" stroke="#333333" stroke-width="1"/>
<circle cx="267.7" cy="285.3" r="3.7" fill="#8a8a8a" stroke="#333333" stroke-width="1"/>
<circle cx="293.1" cy="221.5" r="3.7" fill="#e31f2c" stroke="#5e1010" stroke-width="1"/>
<circle cx="292.3" cy="244" r="3.7" fill="#e31f2c" stroke="#5e1010" stroke-width="1"/>
<circle cx="298.2" cy="247.8" r="3.7" fill="#e31f2c" stroke="#5e1010" stroke-width="1"/>
<circle cx="288.9" cy="255.6" r="3.7" fill="#e31f2c" stroke="#5e1010" stroke-width="1"/>
<circle cx="314.8" cy="280.1" r="3.7" fill="#a07ab4" stroke="#4a3058" stroke-width="1"/>
<circle cx="313" cy="295.6" r="3.7" fill="#a07ab4" stroke="#4a3058" stroke-width="1"/>
<circle cx="317.3" cy="296.9" r="3.7" fill="#a07ab4" stroke="#4a3058" stroke-width="1"/>
<circle cx="314.2" cy="303.4" r="3.7" fill="#a07ab4" stroke="#4a3058" stroke-width="1"/>
<circle cx="409.8" cy="225.1" r="3.7" fill="#8a8a8a" stroke="#333333" stroke-width="1"/>
<circle cx="416" cy="226.6" r="3.7" fill="#8a8a8a" stroke="#333333" stroke-width="1"/>
<circle cx="422" cy="224.6" r="3.7" fill="#8a8a8a" stroke="#333333" stroke-width="1"/>
<circle cx="414.2" cy="234.4" r="3.7" fill="#8a8a8a" stroke="#333333" stroke-width="1"/>
<circle cx="416" cy="245.8" r="3.7" fill="#8a8a8a" stroke="#333333" stroke-width="1"/>
<circle cx="419.4" cy="259" r="3.7" fill="#8a8a8a" stroke="#333333" stroke-width="1"/>
<circle cx="411.6" cy="263.3" r="3.7" fill="#8a8a8a" stroke="#333333" stroke-width="1"/>
<circle cx="419.4" cy="264.6" r="3.7" fill="#8a8a8a" stroke="#333333" stroke-width="1"/>
<circle cx="411.6" cy="277.5" r="3.7" fill="#8a8a8a" stroke="#333333" stroke-width="1"/>
<circle cx="419.4" cy="281.4" r="3.7" fill="#8a8a8a" stroke="#333333" stroke-width="1"/>
<circle cx="416" cy="294.8" r="3.7" fill="#8a8a8a" stroke="#333333" stroke-width="1"/>
<circle cx="437.5" cy="176.7" r="3.7" fill="#e31f2c" stroke="#5e1010" stroke-width="1"/>
<circle cx="435.8" cy="184.4" r="3.7" fill="#e31f2c" stroke="#5e1010" stroke-width="1"/>
<circle cx="440.4" cy="185" r="3.7" fill="#e31f2c" stroke="#5e1010" stroke-width="1"/>
<circle cx="438.1" cy="194.8" r="3.7" fill="#e31f2c" stroke="#5e1010" stroke-width="1"/>
<circle cx="438.2" cy="224.6" r="3.7" fill="#e31f2c" stroke="#5e1010" stroke-width="1"/>
<circle cx="435.6" cy="234.9" r="3.7" fill="#e31f2c" stroke="#5e1010" stroke-width="1"/>
<circle cx="440.8" cy="235.4" r="3.7" fill="#e31f2c" stroke="#5e1010" stroke-width="1"/>
<circle cx="438.2" cy="240" r="3.7" fill="#e31f2c" stroke="#5e1010" stroke-width="1"/>
<circle cx="433.6" cy="250.9" r="3.7" fill="#e31f2c" stroke="#5e1010" stroke-width="1"/>
<circle cx="441.8" cy="254.3" r="3.7" fill="#e31f2c" stroke="#5e1010" stroke-width="1"/>
<circle cx="438.2" cy="266.4" r="3.7" fill="#e31f2c" stroke="#5e1010" stroke-width="1"/>
<circle cx="459.9" cy="222.5" r="3.7" fill="#8a8a8a" stroke="#333333" stroke-width="1"/>
<circle cx="458.1" cy="246.5" r="3.7" fill="#8a8a8a" stroke="#333333" stroke-width="1"/>
<circle cx="462" cy="252.5" r="3.7" fill="#8a8a8a" stroke="#333333" stroke-width="1"/>
<circle cx="459.9" cy="254.3" r="3.7" fill="#8a8a8a" stroke="#333333" stroke-width="1"/>
<circle cx="482.3" cy="206.5" r="3.7" fill="#e31f2c" stroke="#5e1010" stroke-width="1"/>
<circle cx="478.4" cy="233.6" r="3.7" fill="#e31f2c" stroke="#5e1010" stroke-width="1"/>
<circle cx="486.2" cy="241.4" r="3.7" fill="#e31f2c" stroke="#5e1010" stroke-width="1"/>
<circle cx="482.3" cy="258.2" r="3.7" fill="#e31f2c" stroke="#5e1010" stroke-width="1"/>
<circle cx="504.2" cy="251.7" r="3.7" fill="#a07ab4" stroke="#4a3058" stroke-width="1"/>
<circle cx="501.7" cy="278.8" r="3.7" fill="#a07ab4" stroke="#4a3058" stroke-width="1"/>
<circle cx="506.3" cy="282.7" r="3.7" fill="#a07ab4" stroke="#4a3058" stroke-width="1"/>
<circle cx="504.2" cy="286.6" r="3.7" fill="#a07ab4" stroke="#4a3058" stroke-width="1"/>
<circle cx="67" cy="537.4" r="3.7" fill="#ecc462" stroke="#5a4418" stroke-width="1"/>
<circle cx="67" cy="532" r="3.7" fill="#ecc462" stroke="#5a4418" stroke-width="1"/>
<circle cx="67" cy="522.9" r="3.7" fill="#ecc462" stroke="#5a4418" stroke-width="1"/>
<circle cx="67" cy="520.6" r="3.7" fill="#ecc462" stroke="#5a4418" stroke-width="1"/>
<circle cx="67" cy="512.9" r="3.7" fill="#ecc462" stroke="#5a4418" stroke-width="1"/>
<circle cx="67" cy="509" r="3.7" fill="#ecc462" stroke="#5a4418" stroke-width="1"/>
<circle cx="67" cy="505.2" r="3.7" fill="#ecc462" stroke="#5a4418" stroke-width="1"/>
<circle cx="67" cy="498.3" r="3.7" fill="#ecc462" stroke="#5a4418" stroke-width="1"/>
<circle cx="67" cy="490.6" r="3.7" fill="#ecc462" stroke="#5a4418" stroke-width="1"/>
<circle cx="67" cy="486" r="3.7" fill="#ecc462" stroke="#5a4418" stroke-width="1"/>
<circle cx="67" cy="479.1" r="3.7" fill="#ecc462" stroke="#5a4418" stroke-width="1"/>
<circle cx="67" cy="471.5" r="3.7" fill="#ecc462" stroke="#5a4418" stroke-width="1"/>
<circle cx="67" cy="466.1" r="3.7" fill="#ecc462" stroke="#5a4418" stroke-width="1"/>
<circle cx="67" cy="461.5" r="3.7" fill="#ecc462" stroke="#5a4418" stroke-width="1"/>
<circle cx="67" cy="458.4" r="3.7" fill="#ecc462" stroke="#5a4418" stroke-width="1"/>
<circle cx="99.2" cy="466.4" r="3.7" fill="#ecc462" stroke="#5a4418" stroke-width="1"/>
<circle cx="99.2" cy="500.9" r="3.7" fill="#ecc462" stroke="#5a4418" stroke-width="1"/>
<circle cx="99.2" cy="535.3" r="3.7" fill="#ecc462" stroke="#5a4418" stroke-width="1"/>
<line x1="61.3" y1="220" x2="61.3" y2="277" stroke="#7f7f7f" stroke-width="1.8" opacity="0.9"/>
<line x1="56.8" y1="220" x2="65.8" y2="220" stroke="#7f7f7f" stroke-width="1.8" opacity="0.9"/>
<line x1="56.8" y1="277" x2="65.8" y2="277" stroke="#7f7f7f" stroke-width="1.8" opacity="0.9"/>
<line x1="54.3" y1="266" x2="68.3" y2="266" stroke="#7f7f7f" stroke-width="1.8" opacity="0.9"/>
<line x1="83.3" y1="198" x2="83.3" y2="217" stroke="#7f7f7f" stroke-width="1.8" opacity="0.9"/>
<line x1="78.8" y1="198" x2="87.8" y2="198" stroke="#7f7f7f" stroke-width="1.8" opacity="0.9"/>
<line x1="78.8" y1="217" x2="87.8" y2="217" stroke="#7f7f7f" stroke-width="1.8" opacity="0.9"/>
<line x1="76.3" y1="205" x2="90.3" y2="205" stroke="#7f7f7f" stroke-width="1.8" opacity="0.9"/>
<line x1="105.5" y1="240" x2="105.5" y2="274" stroke="#7f7f7f" stroke-width="1.8" opacity="0.9"/>
<line x1="101.0" y1="240" x2="110.0" y2="240" stroke="#7f7f7f" stroke-width="1.8" opacity="0.9"/>
<line x1="101.0" y1="274" x2="110.0" y2="274" stroke="#7f7f7f" stroke-width="1.8" opacity="0.9"/>
<line x1="98.5" y1="269" x2="112.5" y2="269" stroke="#7f7f7f" stroke-width="1.8" opacity="0.9"/>
<line x1="127.5" y1="209.6" x2="127.5" y2="228" stroke="#7f7f7f" stroke-width="1.8" opacity="0.9"/>
<line x1="123.0" y1="209.6" x2="132.0" y2="209.6" stroke="#7f7f7f" stroke-width="1.8" opacity="0.9"/>
<line x1="123.0" y1="228" x2="132.0" y2="228" stroke="#7f7f7f" stroke-width="1.8" opacity="0.9"/>
<line x1="120.5" y1="221.8" x2="134.5" y2="221.8" stroke="#7f7f7f" stroke-width="1.8" opacity="0.9"/>
<line x1="149.5" y1="278.7" x2="149.5" y2="298.5" stroke="#7f7f7f" stroke-width="1.8" opacity="0.9"/>
<line x1="145.0" y1="278.7" x2="154.0" y2="278.7" stroke="#7f7f7f" stroke-width="1.8" opacity="0.9"/>
<line x1="145.0" y1="298.5" x2="154.0" y2="298.5" stroke="#7f7f7f" stroke-width="1.8" opacity="0.9"/>
<line x1="142.5" y1="278.7" x2="156.5" y2="278.7" stroke="#7f7f7f" stroke-width="1.8" opacity="0.9"/>
<line x1="227.1" y1="261.3" x2="227.1" y2="293.8" stroke="#7f7f7f" stroke-width="1.8" opacity="0.9"/>
<line x1="222.6" y1="261.3" x2="231.6" y2="261.3" stroke="#7f7f7f" stroke-width="1.8" opacity="0.9"/>
<line x1="222.6" y1="293.8" x2="231.6" y2="293.8" stroke="#7f7f7f" stroke-width="1.8" opacity="0.9"/>
<line x1="220.1" y1="273.7" x2="234.1" y2="273.7" stroke="#7f7f7f" stroke-width="1.8" opacity="0.9"/>
<line x1="249.4" y1="197.5" x2="249.4" y2="258.2" stroke="#7f7f7f" stroke-width="1.8" opacity="0.9"/>
<line x1="244.9" y1="197.5" x2="253.9" y2="197.5" stroke="#7f7f7f" stroke-width="1.8" opacity="0.9"/>
<line x1="244.9" y1="258.2" x2="253.9" y2="258.2" stroke="#7f7f7f" stroke-width="1.8" opacity="0.9"/>
<line x1="242.4" y1="227.7" x2="256.4" y2="227.7" stroke="#7f7f7f" stroke-width="1.8" opacity="0.9"/>
<line x1="270.8" y1="259.5" x2="270.8" y2="287.1" stroke="#7f7f7f" stroke-width="1.8" opacity="0.9"/>
<line x1="266.3" y1="259.5" x2="275.3" y2="259.5" stroke="#7f7f7f" stroke-width="1.8" opacity="0.9"/>
<line x1="266.3" y1="287.1" x2="275.3" y2="287.1" stroke="#7f7f7f" stroke-width="1.8" opacity="0.9"/>
<line x1="263.8" y1="273.2" x2="277.8" y2="273.2" stroke="#7f7f7f" stroke-width="1.8" opacity="0.9"/>
<line x1="293" y1="227.7" x2="293" y2="256.9" stroke="#7f7f7f" stroke-width="1.8" opacity="0.9"/>
<line x1="288.5" y1="227.7" x2="297.5" y2="227.7" stroke="#7f7f7f" stroke-width="1.8" opacity="0.9"/>
<line x1="288.5" y1="256.9" x2="297.5" y2="256.9" stroke="#7f7f7f" stroke-width="1.8" opacity="0.9"/>
<line x1="286.0" y1="242.1" x2="300.0" y2="242.1" stroke="#7f7f7f" stroke-width="1.8" opacity="0.9"/>
<line x1="314.8" y1="286.6" x2="314.8" y2="303" stroke="#7f7f7f" stroke-width="1.8" opacity="0.9"/>
<line x1="310.3" y1="286.6" x2="319.3" y2="286.6" stroke="#7f7f7f" stroke-width="1.8" opacity="0.9"/>
<line x1="310.3" y1="303" x2="319.3" y2="303" stroke="#7f7f7f" stroke-width="1.8" opacity="0.9"/>
<line x1="307.8" y1="294.8" x2="321.8" y2="294.8" stroke="#7f7f7f" stroke-width="1.8" opacity="0.9"/>
<line x1="416" y1="226" x2="416" y2="281" stroke="#7f7f7f" stroke-width="1.8" opacity="0.9"/>
<line x1="411.5" y1="226" x2="420.5" y2="226" stroke="#7f7f7f" stroke-width="1.8" opacity="0.9"/>
<line x1="411.5" y1="281" x2="420.5" y2="281" stroke="#7f7f7f" stroke-width="1.8" opacity="0.9"/>
<line x1="409.0" y1="253.5" x2="423.0" y2="253.5" stroke="#7f7f7f" stroke-width="1.8" opacity="0.9"/>
<line x1="438.2" y1="190.8" x2="438.2" y2="254" stroke="#7f7f7f" stroke-width="1.8" opacity="0.9"/>
<line x1="433.7" y1="190.8" x2="442.7" y2="190.8" stroke="#7f7f7f" stroke-width="1.8" opacity="0.9"/>
<line x1="433.7" y1="254" x2="442.7" y2="254" stroke="#7f7f7f" stroke-width="1.8" opacity="0.9"/>
<line x1="431.2" y1="222.5" x2="445.2" y2="222.5" stroke="#7f7f7f" stroke-width="1.8" opacity="0.9"/>
<line x1="459.9" y1="229.7" x2="459.9" y2="259.5" stroke="#7f7f7f" stroke-width="1.8" opacity="0.9"/>
<line x1="455.4" y1="229.7" x2="464.4" y2="229.7" stroke="#7f7f7f" stroke-width="1.8" opacity="0.9"/>
<line x1="455.4" y1="259.5" x2="464.4" y2="259.5" stroke="#7f7f7f" stroke-width="1.8" opacity="0.9"/>
<line x1="452.9" y1="244" x2="466.9" y2="244" stroke="#7f7f7f" stroke-width="1.8" opacity="0.9"/>
<line x1="482.3" y1="213.7" x2="482.3" y2="258" stroke="#7f7f7f" stroke-width="1.8" opacity="0.9"/>
<line x1="477.8" y1="213.7" x2="486.8" y2="213.7" stroke="#7f7f7f" stroke-width="1.8" opacity="0.9"/>
<line x1="477.8" y1="258" x2="486.8" y2="258" stroke="#7f7f7f" stroke-width="1.8" opacity="0.9"/>
<line x1="475.3" y1="234.9" x2="489.3" y2="234.9" stroke="#7f7f7f" stroke-width="1.8" opacity="0.9"/>
<line x1="504.2" y1="259.5" x2="504.2" y2="289.2" stroke="#7f7f7f" stroke-width="1.8" opacity="0.9"/>
<line x1="499.7" y1="259.5" x2="508.7" y2="259.5" stroke="#7f7f7f" stroke-width="1.8" opacity="0.9"/>
<line x1="499.7" y1="289.2" x2="508.7" y2="289.2" stroke="#7f7f7f" stroke-width="1.8" opacity="0.9"/>
<line x1="496.2" y1="274.4" x2="512.2" y2="274.4" stroke="#7f7f7f" stroke-width="1.8" opacity="0.9"/>
</svg></body></html>
